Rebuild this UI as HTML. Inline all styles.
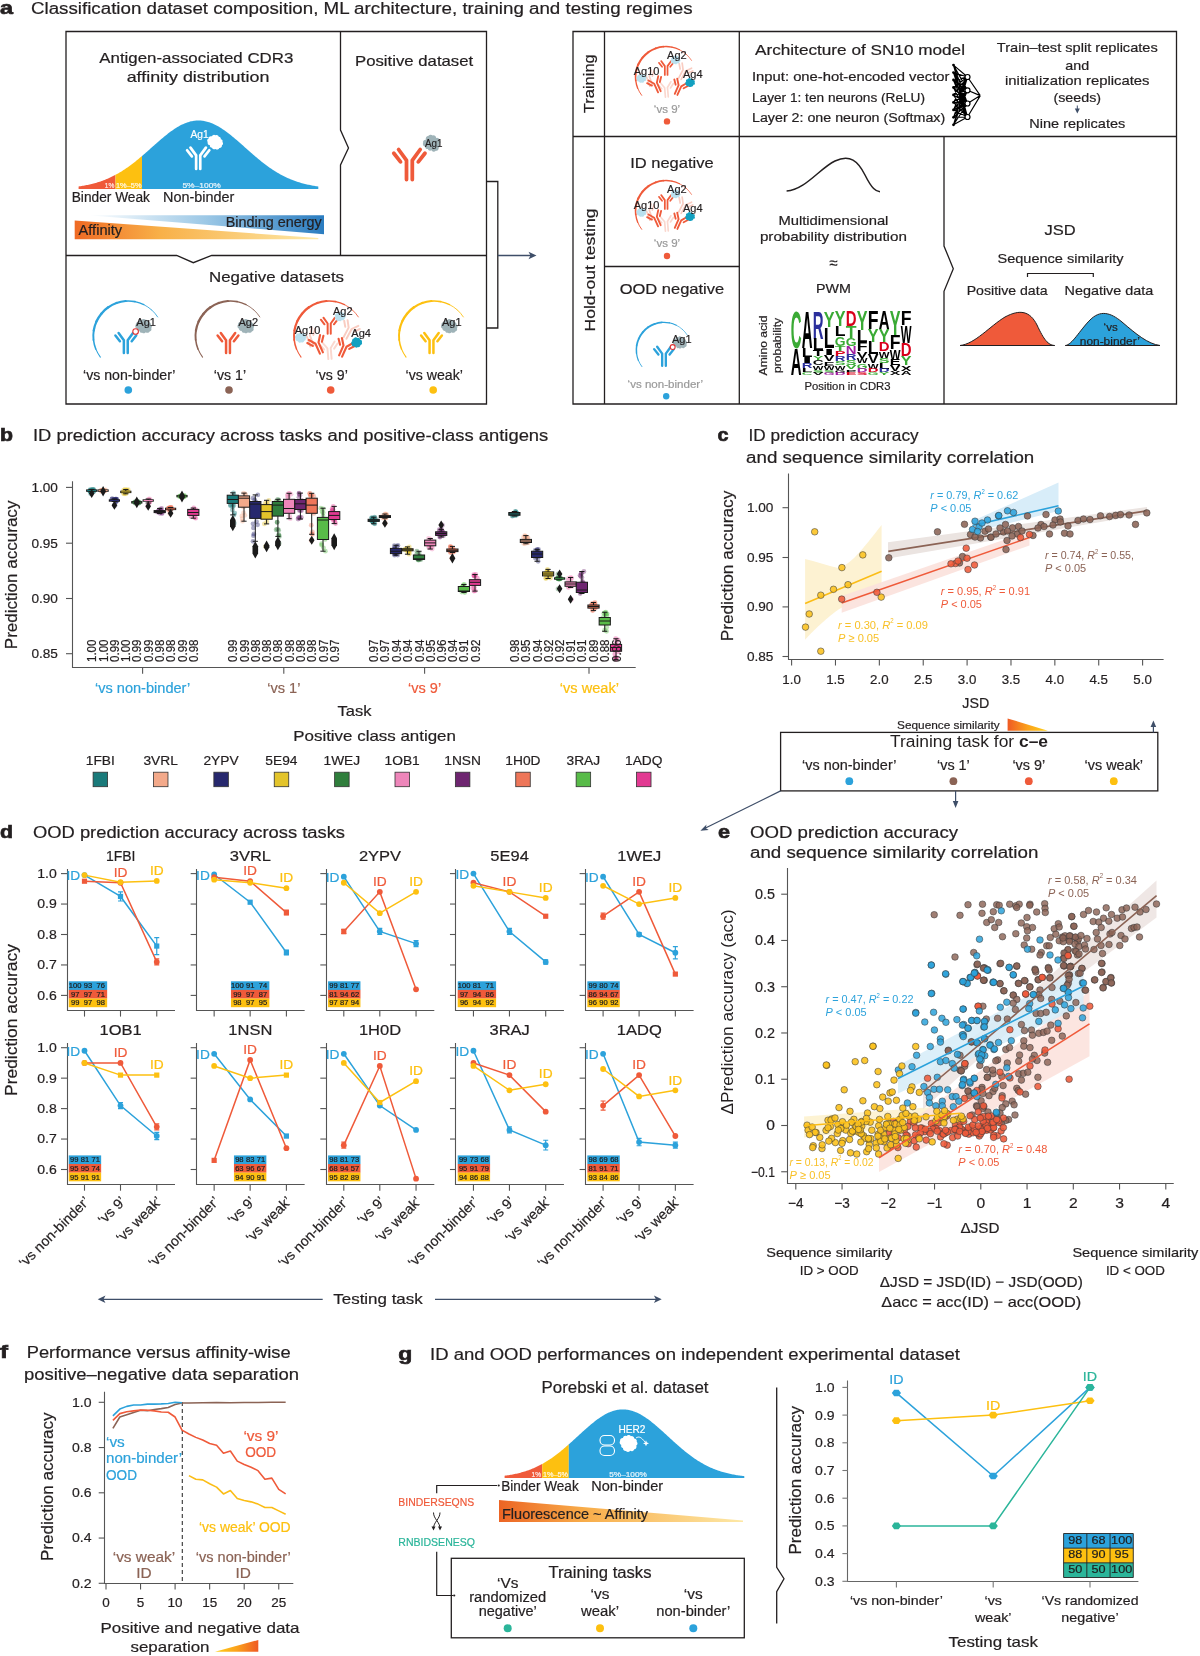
<!DOCTYPE html>
<html><head><meta charset="utf-8"><style>
html,body{margin:0;padding:0;background:#fff;}
svg{display:block;font-family:"Liberation Sans", sans-serif;will-change:transform;}
</style></head><body>
<svg width="1200" height="1656" viewBox="0 0 1200 1656" fill="#231f20">
<rect width="1200" height="1656" fill="#fff"/>
<text x="0.00" y="14.00" font-size="19" font-weight="bold" textLength="13.00" lengthAdjust="spacingAndGlyphs" stroke="#231f20" stroke-width="0.7">a</text>
<text x="31.00" y="14.00" font-size="16" textLength="661.50" lengthAdjust="spacingAndGlyphs" stroke="#231f20" stroke-width="0.2">Classification dataset composition, ML architecture, training and testing regimes</text>
<path d="M66,31.5H486.5V404H66Z" fill="none" stroke="#231f20" stroke-width="1.3"/>
<path d="M340.5,31.5V130L348.5,148L340.5,165V255.5" fill="none" stroke="#231f20" stroke-width="1.3"/>
<path d="M66,255.5H176.7L193.3,262.7L211.7,255.5H486.5" fill="none" stroke="#231f20" stroke-width="1.3"/>
<path d="M486.5,181.5H497.8V328H486.5" fill="none" stroke="#231f20" stroke-width="1.3"/>
<line x1="497.80" y1="255.50" x2="532.00" y2="255.50" stroke="#3e4e68" stroke-width="1.3" />
<path d="M536.5,255.5L528.5,251.8L530.5,255.5L528.5,259.2Z" fill="#3e4e68"/>
<text x="196.30" y="63.30" font-size="15" text-anchor="middle" textLength="194.00" lengthAdjust="spacingAndGlyphs" stroke="#231f20" stroke-width="0.2">Antigen-associated CDR3</text>
<text x="198.00" y="81.70" font-size="15" text-anchor="middle" textLength="142.70" lengthAdjust="spacingAndGlyphs" stroke="#231f20" stroke-width="0.2">affinity distribution</text>
<text x="355.00" y="65.50" font-size="15" textLength="118.20" lengthAdjust="spacingAndGlyphs" stroke="#231f20" stroke-width="0.2">Positive dataset</text>
<path d="M78.60,189 L78.60,186.46 L79.60,186.32 L80.60,186.17 L81.60,186.01 L82.60,185.85 L83.60,185.68 L84.60,185.50 L85.60,185.31 L86.60,185.11 L87.60,184.91 L88.60,184.70 L89.60,184.48 L90.60,184.25 L91.60,184.01 L92.60,183.76 L93.60,183.50 L94.60,183.23 L95.60,182.95 L96.60,182.65 L97.60,182.35 L98.60,182.04 L99.60,181.71 L100.60,181.38 L101.60,181.03 L102.60,180.67 L103.60,180.30 L104.60,179.91 L105.60,179.51 L106.60,179.10 L107.60,178.68 L108.60,178.24 L109.60,177.79 L110.60,177.33 L111.60,176.85 L112.60,176.36 L113.60,175.86 L114.60,175.34 L115.50,174.86 L115.50,189Z" fill="#ef5a3a"/>
<path d="M115.50,189 L115.50,174.86 L116.50,174.31 L117.50,173.75 L118.50,173.18 L119.50,172.59 L120.50,171.99 L121.50,171.38 L122.50,170.75 L123.50,170.10 L124.50,169.45 L125.50,168.78 L126.50,168.09 L127.50,167.40 L128.50,166.69 L129.50,165.96 L130.50,165.23 L131.50,164.48 L132.50,163.72 L133.50,162.95 L134.50,162.17 L135.50,161.38 L136.50,160.58 L137.50,159.76 L138.50,158.94 L139.50,158.11 L140.50,157.27 L141.50,156.42 L142.00,156.00 L142.00,189Z" fill="#fdc010"/>
<path d="M142.00,189 L142.00,156.00 L143.00,155.14 L144.00,154.28 L145.00,153.40 L146.00,152.53 L147.00,151.65 L148.00,150.77 L149.00,149.88 L150.00,148.99 L151.00,148.10 L152.00,147.21 L153.00,146.32 L154.00,145.43 L155.00,144.55 L156.00,143.66 L157.00,142.78 L158.00,141.91 L159.00,141.04 L160.00,140.17 L161.00,139.31 L162.00,138.47 L163.00,137.63 L164.00,136.80 L165.00,135.98 L166.00,135.17 L167.00,134.38 L168.00,133.59 L169.00,132.83 L170.00,132.08 L171.00,131.34 L172.00,130.63 L173.00,129.93 L174.00,129.25 L175.00,128.59 L176.00,127.95 L177.00,127.34 L178.00,126.74 L179.00,126.17 L180.00,125.62 L181.00,125.10 L182.00,124.60 L183.00,124.13 L184.00,123.68 L185.00,123.27 L186.00,122.88 L187.00,122.51 L188.00,122.18 L189.00,121.88 L190.00,121.60 L191.00,121.36 L192.00,121.14 L193.00,120.96 L194.00,120.80 L195.00,120.68 L196.00,120.59 L197.00,120.53 L198.00,120.50 L199.00,120.51 L200.00,120.54 L201.00,120.61 L202.00,120.70 L203.00,120.83 L204.00,120.99 L205.00,121.18 L206.00,121.40 L207.00,121.65 L208.00,121.93 L209.00,122.24 L210.00,122.58 L211.00,122.95 L212.00,123.35 L213.00,123.77 L214.00,124.22 L215.00,124.70 L216.00,125.20 L217.00,125.73 L218.00,126.28 L219.00,126.86 L220.00,127.46 L221.00,128.08 L222.00,128.72 L223.00,129.38 L224.00,130.07 L225.00,130.77 L226.00,131.49 L227.00,132.23 L228.00,132.98 L229.00,133.75 L230.00,134.53 L231.00,135.33 L232.00,136.14 L233.00,136.96 L234.00,137.79 L235.00,138.63 L236.00,139.48 L237.00,140.34 L238.00,141.21 L239.00,142.08 L240.00,142.96 L241.00,143.84 L242.00,144.72 L243.00,145.61 L244.00,146.50 L245.00,147.39 L246.00,148.28 L247.00,149.17 L248.00,150.06 L249.00,150.94 L250.00,151.83 L251.00,152.71 L252.00,153.58 L253.00,154.45 L254.00,155.31 L255.00,156.17 L256.00,157.02 L257.00,157.86 L258.00,158.69 L259.00,159.52 L260.00,160.33 L261.00,161.14 L262.00,161.94 L263.00,162.72 L264.00,163.49 L265.00,164.26 L266.00,165.01 L267.00,165.75 L268.00,166.47 L269.00,167.19 L270.00,167.89 L271.00,168.57 L272.00,169.25 L273.00,169.91 L274.00,170.56 L275.00,171.19 L276.00,171.81 L277.00,172.41 L278.00,173.01 L279.00,173.58 L280.00,174.15 L281.00,174.70 L282.00,175.23 L283.00,175.75 L284.00,176.26 L285.00,176.75 L286.00,177.23 L287.00,177.70 L288.00,178.15 L289.00,178.59 L290.00,179.02 L291.00,179.43 L292.00,179.83 L293.00,180.22 L294.00,180.60 L295.00,180.96 L296.00,181.31 L297.00,181.65 L298.00,181.97 L299.00,182.29 L300.00,182.59 L301.00,182.89 L302.00,183.17 L303.00,183.44 L304.00,183.70 L305.00,183.96 L306.00,184.20 L307.00,184.43 L308.00,184.65 L309.00,184.87 L310.00,185.07 L311.00,185.27 L312.00,185.46 L313.00,185.64 L314.00,185.81 L315.00,185.98 L316.00,186.14 L317.00,186.29 L318.00,186.43 L318.30,186.47 L318.30,189Z" fill="#2ca2db"/>
<text x="104.80" y="187.60" font-size="8" fill="#fff" textLength="9.50" lengthAdjust="spacingAndGlyphs" opacity="0.9" stroke="#fff" stroke-width="0.2">1%</text>
<text x="116.00" y="187.60" font-size="8" fill="#fff" textLength="25.50" lengthAdjust="spacingAndGlyphs" opacity="0.9" stroke="#fff" stroke-width="0.2">1%–5%</text>
<text x="182.40" y="187.60" font-size="8" fill="#fff" textLength="38.50" lengthAdjust="spacingAndGlyphs" opacity="0.9" stroke="#fff" stroke-width="0.2">5%–100%</text>
<g transform="translate(198.20,169.00) rotate(0) scale(1.07)"><path d="M-1.93,0V-12.75L-7.2,-20M1.93,0V-12.75L7.2,-20M-5.9,-11.75L-10.4,-17.5M5.9,-11.75L10.4,-17.5" fill="none" stroke="#ffffff" stroke-width="2.5" stroke-linecap="round" stroke-linejoin="round"/></g>
<path d="M219.38,148.02 A2.41,2.41 0 0 1 215.58,148.89 A2.34,2.34 0 0 1 211.99,147.74 A2.12,2.12 0 0 1 209.83,145.09 A2.30,2.30 0 0 1 207.67,142.08 A2.33,2.33 0 0 1 208.64,138.45 A2.38,2.38 0 0 1 211.82,136.28 A2.30,2.30 0 0 1 215.42,135.37 A2.22,2.22 0 0 1 218.75,136.68 A1.97,1.97 0 0 1 220.77,139.13 A2.02,2.02 0 0 1 222.42,141.93 A2.13,2.13 0 0 1 221.94,145.33 A2.30,2.30 0 0 1 219.38,148.02Z" fill="#ffffff"/>
<text x="190.40" y="137.70" font-size="11" fill="#fff" textLength="18.30" lengthAdjust="spacingAndGlyphs" stroke="#fff" stroke-width="0.2">Ag1</text>
<text x="71.70" y="201.60" font-size="14" textLength="78.30" lengthAdjust="spacingAndGlyphs" stroke="#231f20" stroke-width="0.2">Binder Weak</text>
<text x="163.00" y="201.60" font-size="14" textLength="71.30" lengthAdjust="spacingAndGlyphs" stroke="#231f20" stroke-width="0.2">Non-binder</text>
<defs><linearGradient id="gAff" x1="0" x2="1" y1="0" y2="0"><stop offset="0" stop-color="#ef6a24"/><stop offset="0.35" stop-color="#f8b048"/><stop offset="1" stop-color="#fde9a8"/></linearGradient><linearGradient id="gBE" x1="0" x2="1" y1="0" y2="0"><stop offset="0" stop-color="#ffffff"/><stop offset="0.5" stop-color="#9cc8e6"/><stop offset="1" stop-color="#2a7cc0"/></linearGradient></defs>
<path d="M88,215.3H324V234.2Z" fill="url(#gBE)"/>
<path d="M74.7,220.5L318.3,238V239.3H74.7Z" fill="url(#gAff)"/>
<text x="78.60" y="234.70" font-size="14" textLength="43.50" lengthAdjust="spacingAndGlyphs" stroke="#231f20" stroke-width="0.2">Affinity</text>
<text x="321.70" y="226.70" font-size="14" text-anchor="end" textLength="96.00" lengthAdjust="spacingAndGlyphs" stroke="#231f20" stroke-width="0.2">Binding energy</text>
<g transform="translate(409.40,179.50) rotate(0) scale(1.5)"><path d="M-1.93,0V-12.75L-7.2,-20M1.93,0V-12.75L7.2,-20M-5.9,-11.75L-10.4,-17.5M5.9,-11.75L10.4,-17.5" fill="none" stroke="#ef5a3a" stroke-width="2.5" stroke-linecap="round" stroke-linejoin="round"/></g>
<path d="M439.31,144.02 A2.31,2.31 0 0 1 438.63,147.68 A2.60,2.60 0 0 1 435.78,150.77 A2.71,2.71 0 0 1 431.43,150.29 A2.34,2.34 0 0 1 427.85,149.07 A2.31,2.31 0 0 1 425.12,146.53 A2.60,2.60 0 0 1 423.09,142.87 A2.65,2.65 0 0 1 425.88,139.64 A2.60,2.60 0 0 1 428.16,136.12 A2.82,2.82 0 0 1 432.67,135.52 A2.63,2.63 0 0 1 436.18,137.89 A2.53,2.53 0 0 1 439.57,140.17 A2.39,2.39 0 0 1 439.31,144.02Z" fill="#9fb3b8"/>
<text x="425.00" y="146.50" font-size="11" textLength="17.50" lengthAdjust="spacingAndGlyphs" stroke="#231f20" stroke-width="0.2">Ag1</text>
<text x="276.50" y="282.30" font-size="15" text-anchor="middle" textLength="135.00" lengthAdjust="spacingAndGlyphs" stroke="#231f20" stroke-width="0.2">Negative datasets</text>
<g transform="translate(128.30,336.00) scale(1.0)"><path d="M-27.95,21.06 A35,35 0 0 1 -32.53,12.92" fill="none" stroke="#2ca2db" stroke-width="1.07" stroke-linecap="round"/><path d="M-32.53,12.92 A35,35 0 0 1 -34.79,3.86" fill="none" stroke="#2ca2db" stroke-width="1.52" stroke-linecap="round"/><path d="M-34.79,3.86 A35,35 0 0 1 -34.57,-5.48" fill="none" stroke="#2ca2db" stroke-width="1.91" stroke-linecap="round"/><path d="M-34.57,-5.48 A35,35 0 0 1 -31.89,-14.42" fill="none" stroke="#2ca2db" stroke-width="2.20" stroke-linecap="round"/><path d="M-31.89,-14.42 A35,35 0 0 1 -26.94,-22.34" fill="none" stroke="#2ca2db" stroke-width="2.36" stroke-linecap="round"/><path d="M-26.94,-22.34 A35,35 0 0 1 -20.08,-28.67" fill="none" stroke="#2ca2db" stroke-width="2.39" stroke-linecap="round"/><path d="M-20.08,-28.67 A35,35 0 0 1 -11.78,-32.96" fill="none" stroke="#2ca2db" stroke-width="2.29" stroke-linecap="round"/><path d="M-11.78,-32.96 A35,35 0 0 1 -2.64,-34.90" fill="none" stroke="#2ca2db" stroke-width="2.05" stroke-linecap="round"/><path d="M-2.64,-34.90 A35,35 0 0 1 6.68,-34.36" fill="none" stroke="#2ca2db" stroke-width="1.70" stroke-linecap="round"/><path d="M6.68,-34.36 A35,35 0 0 1 15.53,-31.37" fill="none" stroke="#2ca2db" stroke-width="1.27" stroke-linecap="round"/><path d="M15.53,-31.37 A35,35 0 0 1 23.27,-26.15" fill="none" stroke="#2ca2db" stroke-width="0.84" stroke-linecap="round"/><path d="M23.27,-26.15 A35,35 0 0 1 29.35,-19.06" fill="none" stroke="#2ca2db" stroke-width="0.84" stroke-linecap="round"/><path d="M8.40,-7.48 A2.36,2.36 0 0 1 7.47,-11.17 A2.44,2.44 0 0 1 10.20,-14.01 A2.28,2.28 0 0 1 13.33,-15.93 A2.38,2.38 0 0 1 17.16,-16.22 A2.25,2.25 0 0 1 19.99,-13.96 A2.18,2.18 0 0 1 22.50,-11.50 A2.21,2.21 0 0 1 22.90,-7.96 A2.33,2.33 0 0 1 21.33,-4.54 A2.47,2.47 0 0 1 17.40,-3.87 A2.14,2.14 0 0 1 13.98,-3.34 A2.09,2.09 0 0 1 11.15,-5.18 A2.22,2.22 0 0 1 8.40,-7.48Z" fill="#9fb3b8"/><g transform="translate(-2.50,17.00) rotate(0) scale(1.0)"><path d="M-1.93,0V-12.75L-7.2,-20M1.93,0V-12.75L7.2,-20M-5.9,-11.75L-10.4,-17.5M5.9,-11.75L10.4,-17.5" fill="none" stroke="#2ca2db" stroke-width="2.5" stroke-linecap="round" stroke-linejoin="round"/></g><circle cx="7.30" cy="-4.50" r="2.8" fill="#fff" stroke="#e03030" stroke-width="1.1"/><text x="8.00" y="-10.00" font-size="11.0" textLength="19.57" lengthAdjust="spacingAndGlyphs" stroke="#231f20" stroke-width="0.2">Ag1</text></g>
<g transform="translate(230.50,336.00) scale(1.0)"><path d="M-27.95,21.06 A35,35 0 0 1 -32.53,12.92" fill="none" stroke="#8b6355" stroke-width="1.07" stroke-linecap="round"/><path d="M-32.53,12.92 A35,35 0 0 1 -34.79,3.86" fill="none" stroke="#8b6355" stroke-width="1.52" stroke-linecap="round"/><path d="M-34.79,3.86 A35,35 0 0 1 -34.57,-5.48" fill="none" stroke="#8b6355" stroke-width="1.91" stroke-linecap="round"/><path d="M-34.57,-5.48 A35,35 0 0 1 -31.89,-14.42" fill="none" stroke="#8b6355" stroke-width="2.20" stroke-linecap="round"/><path d="M-31.89,-14.42 A35,35 0 0 1 -26.94,-22.34" fill="none" stroke="#8b6355" stroke-width="2.36" stroke-linecap="round"/><path d="M-26.94,-22.34 A35,35 0 0 1 -20.08,-28.67" fill="none" stroke="#8b6355" stroke-width="2.39" stroke-linecap="round"/><path d="M-20.08,-28.67 A35,35 0 0 1 -11.78,-32.96" fill="none" stroke="#8b6355" stroke-width="2.29" stroke-linecap="round"/><path d="M-11.78,-32.96 A35,35 0 0 1 -2.64,-34.90" fill="none" stroke="#8b6355" stroke-width="2.05" stroke-linecap="round"/><path d="M-2.64,-34.90 A35,35 0 0 1 6.68,-34.36" fill="none" stroke="#8b6355" stroke-width="1.70" stroke-linecap="round"/><path d="M6.68,-34.36 A35,35 0 0 1 15.53,-31.37" fill="none" stroke="#8b6355" stroke-width="1.27" stroke-linecap="round"/><path d="M15.53,-31.37 A35,35 0 0 1 23.27,-26.15" fill="none" stroke="#8b6355" stroke-width="0.84" stroke-linecap="round"/><path d="M23.27,-26.15 A35,35 0 0 1 29.35,-19.06" fill="none" stroke="#8b6355" stroke-width="0.84" stroke-linecap="round"/><path d="M8.40,-7.48 A2.36,2.36 0 0 1 7.47,-11.17 A2.44,2.44 0 0 1 10.20,-14.01 A2.28,2.28 0 0 1 13.33,-15.93 A2.38,2.38 0 0 1 17.16,-16.22 A2.25,2.25 0 0 1 19.99,-13.96 A2.18,2.18 0 0 1 22.50,-11.50 A2.21,2.21 0 0 1 22.90,-7.96 A2.33,2.33 0 0 1 21.33,-4.54 A2.47,2.47 0 0 1 17.40,-3.87 A2.14,2.14 0 0 1 13.98,-3.34 A2.09,2.09 0 0 1 11.15,-5.18 A2.22,2.22 0 0 1 8.40,-7.48Z" fill="#9fb3b8"/><g transform="translate(-2.50,17.00) rotate(0) scale(1.0)"><path d="M-1.93,0V-12.75L-7.2,-20M1.93,0V-12.75L7.2,-20M-5.9,-11.75L-10.4,-17.5M5.9,-11.75L10.4,-17.5" fill="none" stroke="#ef5a3a" stroke-width="2.5" stroke-linecap="round" stroke-linejoin="round"/></g><text x="8.00" y="-10.00" font-size="11.0" textLength="19.57" lengthAdjust="spacingAndGlyphs" stroke="#231f20" stroke-width="0.2">Ag2</text></g>
<g transform="translate(329.00,336.00) scale(1.0)"><path d="M-27.95,21.06 A35,35 0 0 1 -32.53,12.92" fill="none" stroke="#ef5a3a" stroke-width="1.07" stroke-linecap="round"/><path d="M-32.53,12.92 A35,35 0 0 1 -34.79,3.86" fill="none" stroke="#ef5a3a" stroke-width="1.52" stroke-linecap="round"/><path d="M-34.79,3.86 A35,35 0 0 1 -34.57,-5.48" fill="none" stroke="#ef5a3a" stroke-width="1.91" stroke-linecap="round"/><path d="M-34.57,-5.48 A35,35 0 0 1 -31.89,-14.42" fill="none" stroke="#ef5a3a" stroke-width="2.20" stroke-linecap="round"/><path d="M-31.89,-14.42 A35,35 0 0 1 -26.94,-22.34" fill="none" stroke="#ef5a3a" stroke-width="2.36" stroke-linecap="round"/><path d="M-26.94,-22.34 A35,35 0 0 1 -20.08,-28.67" fill="none" stroke="#ef5a3a" stroke-width="2.39" stroke-linecap="round"/><path d="M-20.08,-28.67 A35,35 0 0 1 -11.78,-32.96" fill="none" stroke="#ef5a3a" stroke-width="2.29" stroke-linecap="round"/><path d="M-11.78,-32.96 A35,35 0 0 1 -2.64,-34.90" fill="none" stroke="#ef5a3a" stroke-width="2.05" stroke-linecap="round"/><path d="M-2.64,-34.90 A35,35 0 0 1 6.68,-34.36" fill="none" stroke="#ef5a3a" stroke-width="1.70" stroke-linecap="round"/><path d="M6.68,-34.36 A35,35 0 0 1 15.53,-31.37" fill="none" stroke="#ef5a3a" stroke-width="1.27" stroke-linecap="round"/><path d="M15.53,-31.37 A35,35 0 0 1 23.27,-26.15" fill="none" stroke="#ef5a3a" stroke-width="0.84" stroke-linecap="round"/><path d="M23.27,-26.15 A35,35 0 0 1 29.35,-19.06" fill="none" stroke="#ef5a3a" stroke-width="0.84" stroke-linecap="round"/><g transform="translate(-17.00,10.00) rotate(-20) scale(0.85)"><path d="M-1.93,0V-12.75L-7.2,-20M1.93,0V-12.75L7.2,-20M-5.9,-11.75L-10.4,-17.5M5.9,-11.75L10.4,-17.5" fill="none" stroke="#f9cdc2" stroke-width="2.3" stroke-linecap="round" stroke-linejoin="round"/></g><g transform="translate(16.00,2.00) rotate(28) scale(0.85)"><path d="M-1.93,0V-12.75L-7.2,-20M1.93,0V-12.75L7.2,-20M-5.9,-11.75L-10.4,-17.5M5.9,-11.75L10.4,-17.5" fill="none" stroke="#f9cdc2" stroke-width="2.3" stroke-linecap="round" stroke-linejoin="round"/></g><g transform="translate(1.00,23.00) rotate(-5) scale(0.85)"><path d="M-1.93,0V-12.75L-7.2,-20M1.93,0V-12.75L7.2,-20M-5.9,-11.75L-10.4,-17.5M5.9,-11.75L10.4,-17.5" fill="none" stroke="#fad8cf" stroke-width="2.3" stroke-linecap="round" stroke-linejoin="round"/></g><g transform="translate(0.20,-2.30) rotate(0) scale(0.8)"><path d="M-1.93,0V-12.75L-7.2,-20M1.93,0V-12.75L7.2,-20M-5.9,-11.75L-10.4,-17.5M5.9,-11.75L10.4,-17.5" fill="none" stroke="#ef5a3a" stroke-width="2.5" stroke-linecap="round" stroke-linejoin="round"/></g><g transform="translate(-7.60,17.00) rotate(-24) scale(0.85)"><path d="M-1.93,0V-12.75L-7.2,-20M1.93,0V-12.75L7.2,-20M-5.9,-11.75L-10.4,-17.5M5.9,-11.75L10.4,-17.5" fill="none" stroke="#ef5a3a" stroke-width="2.5" stroke-linecap="round" stroke-linejoin="round"/></g><g transform="translate(11.60,20.00) rotate(24) scale(0.85)"><path d="M-1.93,0V-12.75L-7.2,-20M1.93,0V-12.75L7.2,-20M-5.9,-11.75L-10.4,-17.5M5.9,-11.75L10.4,-17.5" fill="none" stroke="#ef5a3a" stroke-width="2.5" stroke-linecap="round" stroke-linejoin="round"/></g><path d="M-27.80,6.32 A2.17,2.17 0 0 1 -31.13,5.27 A2.10,2.10 0 0 1 -33.36,2.72 A2.09,2.09 0 0 1 -33.03,-0.63 A2.11,2.11 0 0 1 -30.12,-2.40 A1.96,1.96 0 0 1 -26.96,-2.57 A2.23,2.23 0 0 1 -23.56,-1.42 A2.09,2.09 0 0 1 -23.32,1.94 A1.94,1.94 0 0 1 -24.80,4.70 A2.12,2.12 0 0 1 -27.80,6.32Z" fill="#b9e0ee"/><path d="M7.51,-22.42 A2.04,2.04 0 0 1 10.50,-23.81 A2.12,2.12 0 0 1 13.86,-23.18 A2.00,2.00 0 0 1 15.68,-20.52 A1.94,1.94 0 0 1 15.62,-17.39 A1.99,1.99 0 0 1 12.78,-15.92 A1.84,1.84 0 0 1 9.89,-15.23 A2.04,2.04 0 0 1 6.88,-16.56 A1.94,1.94 0 0 1 6.25,-19.62 A1.90,1.90 0 0 1 7.51,-22.42Z" fill="#b9e0ee"/><path d="M25.57,10.42 A2.12,2.12 0 0 1 22.76,8.48 A2.00,2.00 0 0 1 23.23,5.28 A2.00,2.00 0 0 1 24.81,2.48 A2.18,2.18 0 0 1 28.27,1.90 A2.02,2.02 0 0 1 31.07,3.56 A2.00,2.00 0 0 1 32.90,6.21 A1.98,1.98 0 0 1 31.42,9.03 A2.01,2.01 0 0 1 28.89,11.08 A2.10,2.10 0 0 1 25.57,10.42Z" fill="#12a0c0"/><text x="-34.30" y="-1.80" font-size="11.0" textLength="25.69" lengthAdjust="spacingAndGlyphs" stroke="#231f20" stroke-width="0.2">Ag10</text><text x="4.00" y="-20.70" font-size="11.0" textLength="19.57" lengthAdjust="spacingAndGlyphs" stroke="#231f20" stroke-width="0.2">Ag2</text><text x="22.30" y="0.70" font-size="11.0" textLength="19.57" lengthAdjust="spacingAndGlyphs" stroke="#231f20" stroke-width="0.2">Ag4</text></g>
<g transform="translate(434.00,336.00) scale(1.0)"><path d="M-27.95,21.06 A35,35 0 0 1 -32.53,12.92" fill="none" stroke="#fdc010" stroke-width="1.07" stroke-linecap="round"/><path d="M-32.53,12.92 A35,35 0 0 1 -34.79,3.86" fill="none" stroke="#fdc010" stroke-width="1.52" stroke-linecap="round"/><path d="M-34.79,3.86 A35,35 0 0 1 -34.57,-5.48" fill="none" stroke="#fdc010" stroke-width="1.91" stroke-linecap="round"/><path d="M-34.57,-5.48 A35,35 0 0 1 -31.89,-14.42" fill="none" stroke="#fdc010" stroke-width="2.20" stroke-linecap="round"/><path d="M-31.89,-14.42 A35,35 0 0 1 -26.94,-22.34" fill="none" stroke="#fdc010" stroke-width="2.36" stroke-linecap="round"/><path d="M-26.94,-22.34 A35,35 0 0 1 -20.08,-28.67" fill="none" stroke="#fdc010" stroke-width="2.39" stroke-linecap="round"/><path d="M-20.08,-28.67 A35,35 0 0 1 -11.78,-32.96" fill="none" stroke="#fdc010" stroke-width="2.29" stroke-linecap="round"/><path d="M-11.78,-32.96 A35,35 0 0 1 -2.64,-34.90" fill="none" stroke="#fdc010" stroke-width="2.05" stroke-linecap="round"/><path d="M-2.64,-34.90 A35,35 0 0 1 6.68,-34.36" fill="none" stroke="#fdc010" stroke-width="1.70" stroke-linecap="round"/><path d="M6.68,-34.36 A35,35 0 0 1 15.53,-31.37" fill="none" stroke="#fdc010" stroke-width="1.27" stroke-linecap="round"/><path d="M15.53,-31.37 A35,35 0 0 1 23.27,-26.15" fill="none" stroke="#fdc010" stroke-width="0.84" stroke-linecap="round"/><path d="M23.27,-26.15 A35,35 0 0 1 29.35,-19.06" fill="none" stroke="#fdc010" stroke-width="0.84" stroke-linecap="round"/><path d="M8.40,-7.48 A2.36,2.36 0 0 1 7.47,-11.17 A2.44,2.44 0 0 1 10.20,-14.01 A2.28,2.28 0 0 1 13.33,-15.93 A2.38,2.38 0 0 1 17.16,-16.22 A2.25,2.25 0 0 1 19.99,-13.96 A2.18,2.18 0 0 1 22.50,-11.50 A2.21,2.21 0 0 1 22.90,-7.96 A2.33,2.33 0 0 1 21.33,-4.54 A2.47,2.47 0 0 1 17.40,-3.87 A2.14,2.14 0 0 1 13.98,-3.34 A2.09,2.09 0 0 1 11.15,-5.18 A2.22,2.22 0 0 1 8.40,-7.48Z" fill="#9fb3b8"/><g transform="translate(-2.50,17.00) rotate(0) scale(1.0)"><path d="M-1.93,0V-12.75L-7.2,-20M1.93,0V-12.75L7.2,-20M-5.9,-11.75L-10.4,-17.5M5.9,-11.75L10.4,-17.5" fill="none" stroke="#fdc010" stroke-width="2.5" stroke-linecap="round" stroke-linejoin="round"/></g><text x="8.00" y="-10.00" font-size="11.0" textLength="19.57" lengthAdjust="spacingAndGlyphs" stroke="#231f20" stroke-width="0.2">Ag1</text></g>
<text x="129.30" y="380.00" font-size="14" text-anchor="middle" textLength="92.48" lengthAdjust="spacingAndGlyphs" stroke="#231f20" stroke-width="0.2">‘vs non-binder’</text>
<circle cx="128.30" cy="390.00" r="3.8" fill="#2ca2db"/>
<text x="230.00" y="380.00" font-size="14" text-anchor="middle" textLength="32.22" lengthAdjust="spacingAndGlyphs" stroke="#231f20" stroke-width="0.2">‘vs 1’</text>
<circle cx="229.00" cy="390.00" r="3.8" fill="#8b6355"/>
<text x="331.70" y="380.00" font-size="14" text-anchor="middle" textLength="32.22" lengthAdjust="spacingAndGlyphs" stroke="#231f20" stroke-width="0.2">‘vs 9’</text>
<circle cx="330.70" cy="390.00" r="3.8" fill="#ef5a3a"/>
<text x="434.20" y="380.00" font-size="14" text-anchor="middle" textLength="57.36" lengthAdjust="spacingAndGlyphs" stroke="#231f20" stroke-width="0.2">‘vs weak’</text>
<circle cx="433.20" cy="390.00" r="3.8" fill="#fdc010"/>
<path d="M573,31.5H1176.5V404H573Z" fill="none" stroke="#231f20" stroke-width="1.3"/>
<line x1="604.50" y1="31.50" x2="604.50" y2="404.00" stroke="#231f20" stroke-width="1.3" />
<line x1="739.30" y1="31.50" x2="739.30" y2="404.00" stroke="#231f20" stroke-width="1.3" />
<line x1="573.00" y1="136.50" x2="1176.50" y2="136.50" stroke="#231f20" stroke-width="1.3" />
<line x1="604.50" y1="266.50" x2="739.30" y2="266.50" stroke="#231f20" stroke-width="1.3" />
<path d="M944,136.5V246L953.3,268.7L944,291.3V404" fill="none" stroke="#231f20" stroke-width="1.3"/>
<text x="594.50" y="83.70" font-size="15" text-anchor="middle" textLength="59.00" lengthAdjust="spacingAndGlyphs" transform="rotate(-90 594.50 83.70)" stroke="#231f20" stroke-width="0.2">Training</text>
<text x="594.50" y="270.00" font-size="15" text-anchor="middle" textLength="123.00" lengthAdjust="spacingAndGlyphs" transform="rotate(-90 594.50 270.00)" stroke="#231f20" stroke-width="0.2">Hold-out testing</text>
<g transform="translate(666.00,77.00) scale(0.87)"><path d="M-27.95,21.06 A35,35 0 0 1 -32.53,12.92" fill="none" stroke="#ef5a3a" stroke-width="1.07" stroke-linecap="round"/><path d="M-32.53,12.92 A35,35 0 0 1 -34.79,3.86" fill="none" stroke="#ef5a3a" stroke-width="1.52" stroke-linecap="round"/><path d="M-34.79,3.86 A35,35 0 0 1 -34.57,-5.48" fill="none" stroke="#ef5a3a" stroke-width="1.91" stroke-linecap="round"/><path d="M-34.57,-5.48 A35,35 0 0 1 -31.89,-14.42" fill="none" stroke="#ef5a3a" stroke-width="2.20" stroke-linecap="round"/><path d="M-31.89,-14.42 A35,35 0 0 1 -26.94,-22.34" fill="none" stroke="#ef5a3a" stroke-width="2.36" stroke-linecap="round"/><path d="M-26.94,-22.34 A35,35 0 0 1 -20.08,-28.67" fill="none" stroke="#ef5a3a" stroke-width="2.39" stroke-linecap="round"/><path d="M-20.08,-28.67 A35,35 0 0 1 -11.78,-32.96" fill="none" stroke="#ef5a3a" stroke-width="2.29" stroke-linecap="round"/><path d="M-11.78,-32.96 A35,35 0 0 1 -2.64,-34.90" fill="none" stroke="#ef5a3a" stroke-width="2.05" stroke-linecap="round"/><path d="M-2.64,-34.90 A35,35 0 0 1 6.68,-34.36" fill="none" stroke="#ef5a3a" stroke-width="1.70" stroke-linecap="round"/><path d="M6.68,-34.36 A35,35 0 0 1 15.53,-31.37" fill="none" stroke="#ef5a3a" stroke-width="1.27" stroke-linecap="round"/><path d="M15.53,-31.37 A35,35 0 0 1 23.27,-26.15" fill="none" stroke="#ef5a3a" stroke-width="0.84" stroke-linecap="round"/><path d="M23.27,-26.15 A35,35 0 0 1 29.35,-19.06" fill="none" stroke="#ef5a3a" stroke-width="0.84" stroke-linecap="round"/><g transform="translate(-17.00,10.00) rotate(-20) scale(0.85)"><path d="M-1.93,0V-12.75L-7.2,-20M1.93,0V-12.75L7.2,-20M-5.9,-11.75L-10.4,-17.5M5.9,-11.75L10.4,-17.5" fill="none" stroke="#f9cdc2" stroke-width="2.3" stroke-linecap="round" stroke-linejoin="round"/></g><g transform="translate(16.00,2.00) rotate(28) scale(0.85)"><path d="M-1.93,0V-12.75L-7.2,-20M1.93,0V-12.75L7.2,-20M-5.9,-11.75L-10.4,-17.5M5.9,-11.75L10.4,-17.5" fill="none" stroke="#f9cdc2" stroke-width="2.3" stroke-linecap="round" stroke-linejoin="round"/></g><g transform="translate(1.00,23.00) rotate(-5) scale(0.85)"><path d="M-1.93,0V-12.75L-7.2,-20M1.93,0V-12.75L7.2,-20M-5.9,-11.75L-10.4,-17.5M5.9,-11.75L10.4,-17.5" fill="none" stroke="#fad8cf" stroke-width="2.3" stroke-linecap="round" stroke-linejoin="round"/></g><g transform="translate(0.20,-2.30) rotate(0) scale(0.8)"><path d="M-1.93,0V-12.75L-7.2,-20M1.93,0V-12.75L7.2,-20M-5.9,-11.75L-10.4,-17.5M5.9,-11.75L10.4,-17.5" fill="none" stroke="#ef5a3a" stroke-width="2.5" stroke-linecap="round" stroke-linejoin="round"/></g><g transform="translate(-7.60,17.00) rotate(-24) scale(0.85)"><path d="M-1.93,0V-12.75L-7.2,-20M1.93,0V-12.75L7.2,-20M-5.9,-11.75L-10.4,-17.5M5.9,-11.75L10.4,-17.5" fill="none" stroke="#ef5a3a" stroke-width="2.5" stroke-linecap="round" stroke-linejoin="round"/></g><g transform="translate(11.60,20.00) rotate(24) scale(0.85)"><path d="M-1.93,0V-12.75L-7.2,-20M1.93,0V-12.75L7.2,-20M-5.9,-11.75L-10.4,-17.5M5.9,-11.75L10.4,-17.5" fill="none" stroke="#ef5a3a" stroke-width="2.5" stroke-linecap="round" stroke-linejoin="round"/></g><path d="M-27.80,6.32 A2.17,2.17 0 0 1 -31.13,5.27 A2.10,2.10 0 0 1 -33.36,2.72 A2.09,2.09 0 0 1 -33.03,-0.63 A2.11,2.11 0 0 1 -30.12,-2.40 A1.96,1.96 0 0 1 -26.96,-2.57 A2.23,2.23 0 0 1 -23.56,-1.42 A2.09,2.09 0 0 1 -23.32,1.94 A1.94,1.94 0 0 1 -24.80,4.70 A2.12,2.12 0 0 1 -27.80,6.32Z" fill="#b9e0ee"/><path d="M7.51,-22.42 A2.04,2.04 0 0 1 10.50,-23.81 A2.12,2.12 0 0 1 13.86,-23.18 A2.00,2.00 0 0 1 15.68,-20.52 A1.94,1.94 0 0 1 15.62,-17.39 A1.99,1.99 0 0 1 12.78,-15.92 A1.84,1.84 0 0 1 9.89,-15.23 A2.04,2.04 0 0 1 6.88,-16.56 A1.94,1.94 0 0 1 6.25,-19.62 A1.90,1.90 0 0 1 7.51,-22.42Z" fill="#b9e0ee"/><path d="M25.57,10.42 A2.12,2.12 0 0 1 22.76,8.48 A2.00,2.00 0 0 1 23.23,5.28 A2.00,2.00 0 0 1 24.81,2.48 A2.18,2.18 0 0 1 28.27,1.90 A2.02,2.02 0 0 1 31.07,3.56 A2.00,2.00 0 0 1 32.90,6.21 A1.98,1.98 0 0 1 31.42,9.03 A2.01,2.01 0 0 1 28.89,11.08 A2.10,2.10 0 0 1 25.57,10.42Z" fill="#12a0c0"/><text x="-37.06" y="-1.80" font-size="12.64367816091954" textLength="29.53" lengthAdjust="spacingAndGlyphs" stroke="#231f20" stroke-width="0.2">Ag10</text><text x="1.24" y="-20.70" font-size="12.64367816091954" textLength="22.50" lengthAdjust="spacingAndGlyphs" stroke="#231f20" stroke-width="0.2">Ag2</text><text x="19.54" y="0.70" font-size="12.64367816091954" textLength="22.50" lengthAdjust="spacingAndGlyphs" stroke="#231f20" stroke-width="0.2">Ag4</text></g>
<text x="667.00" y="112.90" font-size="10.5" text-anchor="middle" fill="#9a9a9a" textLength="26.31" lengthAdjust="spacingAndGlyphs" stroke="#9a9a9a" stroke-width="0.2">‘vs 9’</text>
<circle cx="667.00" cy="121.40" r="3.2" fill="#ef5a3a"/>
<text x="671.90" y="168.20" font-size="15" text-anchor="middle" textLength="83.47" lengthAdjust="spacingAndGlyphs" stroke="#231f20" stroke-width="0.2">ID negative</text>
<g transform="translate(666.00,211.00) scale(0.87)"><path d="M-27.95,21.06 A35,35 0 0 1 -32.53,12.92" fill="none" stroke="#ef5a3a" stroke-width="1.07" stroke-linecap="round"/><path d="M-32.53,12.92 A35,35 0 0 1 -34.79,3.86" fill="none" stroke="#ef5a3a" stroke-width="1.52" stroke-linecap="round"/><path d="M-34.79,3.86 A35,35 0 0 1 -34.57,-5.48" fill="none" stroke="#ef5a3a" stroke-width="1.91" stroke-linecap="round"/><path d="M-34.57,-5.48 A35,35 0 0 1 -31.89,-14.42" fill="none" stroke="#ef5a3a" stroke-width="2.20" stroke-linecap="round"/><path d="M-31.89,-14.42 A35,35 0 0 1 -26.94,-22.34" fill="none" stroke="#ef5a3a" stroke-width="2.36" stroke-linecap="round"/><path d="M-26.94,-22.34 A35,35 0 0 1 -20.08,-28.67" fill="none" stroke="#ef5a3a" stroke-width="2.39" stroke-linecap="round"/><path d="M-20.08,-28.67 A35,35 0 0 1 -11.78,-32.96" fill="none" stroke="#ef5a3a" stroke-width="2.29" stroke-linecap="round"/><path d="M-11.78,-32.96 A35,35 0 0 1 -2.64,-34.90" fill="none" stroke="#ef5a3a" stroke-width="2.05" stroke-linecap="round"/><path d="M-2.64,-34.90 A35,35 0 0 1 6.68,-34.36" fill="none" stroke="#ef5a3a" stroke-width="1.70" stroke-linecap="round"/><path d="M6.68,-34.36 A35,35 0 0 1 15.53,-31.37" fill="none" stroke="#ef5a3a" stroke-width="1.27" stroke-linecap="round"/><path d="M15.53,-31.37 A35,35 0 0 1 23.27,-26.15" fill="none" stroke="#ef5a3a" stroke-width="0.84" stroke-linecap="round"/><path d="M23.27,-26.15 A35,35 0 0 1 29.35,-19.06" fill="none" stroke="#ef5a3a" stroke-width="0.84" stroke-linecap="round"/><g transform="translate(-17.00,10.00) rotate(-20) scale(0.85)"><path d="M-1.93,0V-12.75L-7.2,-20M1.93,0V-12.75L7.2,-20M-5.9,-11.75L-10.4,-17.5M5.9,-11.75L10.4,-17.5" fill="none" stroke="#f9cdc2" stroke-width="2.3" stroke-linecap="round" stroke-linejoin="round"/></g><g transform="translate(16.00,2.00) rotate(28) scale(0.85)"><path d="M-1.93,0V-12.75L-7.2,-20M1.93,0V-12.75L7.2,-20M-5.9,-11.75L-10.4,-17.5M5.9,-11.75L10.4,-17.5" fill="none" stroke="#f9cdc2" stroke-width="2.3" stroke-linecap="round" stroke-linejoin="round"/></g><g transform="translate(1.00,23.00) rotate(-5) scale(0.85)"><path d="M-1.93,0V-12.75L-7.2,-20M1.93,0V-12.75L7.2,-20M-5.9,-11.75L-10.4,-17.5M5.9,-11.75L10.4,-17.5" fill="none" stroke="#fad8cf" stroke-width="2.3" stroke-linecap="round" stroke-linejoin="round"/></g><g transform="translate(0.20,-2.30) rotate(0) scale(0.8)"><path d="M-1.93,0V-12.75L-7.2,-20M1.93,0V-12.75L7.2,-20M-5.9,-11.75L-10.4,-17.5M5.9,-11.75L10.4,-17.5" fill="none" stroke="#ef5a3a" stroke-width="2.5" stroke-linecap="round" stroke-linejoin="round"/></g><g transform="translate(-7.60,17.00) rotate(-24) scale(0.85)"><path d="M-1.93,0V-12.75L-7.2,-20M1.93,0V-12.75L7.2,-20M-5.9,-11.75L-10.4,-17.5M5.9,-11.75L10.4,-17.5" fill="none" stroke="#ef5a3a" stroke-width="2.5" stroke-linecap="round" stroke-linejoin="round"/></g><g transform="translate(11.60,20.00) rotate(24) scale(0.85)"><path d="M-1.93,0V-12.75L-7.2,-20M1.93,0V-12.75L7.2,-20M-5.9,-11.75L-10.4,-17.5M5.9,-11.75L10.4,-17.5" fill="none" stroke="#ef5a3a" stroke-width="2.5" stroke-linecap="round" stroke-linejoin="round"/></g><path d="M-27.80,6.32 A2.17,2.17 0 0 1 -31.13,5.27 A2.10,2.10 0 0 1 -33.36,2.72 A2.09,2.09 0 0 1 -33.03,-0.63 A2.11,2.11 0 0 1 -30.12,-2.40 A1.96,1.96 0 0 1 -26.96,-2.57 A2.23,2.23 0 0 1 -23.56,-1.42 A2.09,2.09 0 0 1 -23.32,1.94 A1.94,1.94 0 0 1 -24.80,4.70 A2.12,2.12 0 0 1 -27.80,6.32Z" fill="#b9e0ee"/><path d="M7.51,-22.42 A2.04,2.04 0 0 1 10.50,-23.81 A2.12,2.12 0 0 1 13.86,-23.18 A2.00,2.00 0 0 1 15.68,-20.52 A1.94,1.94 0 0 1 15.62,-17.39 A1.99,1.99 0 0 1 12.78,-15.92 A1.84,1.84 0 0 1 9.89,-15.23 A2.04,2.04 0 0 1 6.88,-16.56 A1.94,1.94 0 0 1 6.25,-19.62 A1.90,1.90 0 0 1 7.51,-22.42Z" fill="#b9e0ee"/><path d="M25.57,10.42 A2.12,2.12 0 0 1 22.76,8.48 A2.00,2.00 0 0 1 23.23,5.28 A2.00,2.00 0 0 1 24.81,2.48 A2.18,2.18 0 0 1 28.27,1.90 A2.02,2.02 0 0 1 31.07,3.56 A2.00,2.00 0 0 1 32.90,6.21 A1.98,1.98 0 0 1 31.42,9.03 A2.01,2.01 0 0 1 28.89,11.08 A2.10,2.10 0 0 1 25.57,10.42Z" fill="#12a0c0"/><text x="-37.06" y="-1.80" font-size="12.64367816091954" textLength="29.53" lengthAdjust="spacingAndGlyphs" stroke="#231f20" stroke-width="0.2">Ag10</text><text x="1.24" y="-20.70" font-size="12.64367816091954" textLength="22.50" lengthAdjust="spacingAndGlyphs" stroke="#231f20" stroke-width="0.2">Ag2</text><text x="19.54" y="0.70" font-size="12.64367816091954" textLength="22.50" lengthAdjust="spacingAndGlyphs" stroke="#231f20" stroke-width="0.2">Ag4</text></g>
<text x="667.00" y="246.70" font-size="10.5" text-anchor="middle" fill="#9a9a9a" textLength="26.31" lengthAdjust="spacingAndGlyphs" stroke="#9a9a9a" stroke-width="0.2">‘vs 9’</text>
<circle cx="667.00" cy="256.00" r="3.2" fill="#ef5a3a"/>
<text x="671.90" y="293.70" font-size="15" text-anchor="middle" textLength="104.55" lengthAdjust="spacingAndGlyphs" stroke="#231f20" stroke-width="0.2">OOD negative</text>
<g transform="translate(664.00,350.00) scale(0.79)"><path d="M-27.95,21.06 A35,35 0 0 1 -32.53,12.92" fill="none" stroke="#2ca2db" stroke-width="1.07" stroke-linecap="round"/><path d="M-32.53,12.92 A35,35 0 0 1 -34.79,3.86" fill="none" stroke="#2ca2db" stroke-width="1.52" stroke-linecap="round"/><path d="M-34.79,3.86 A35,35 0 0 1 -34.57,-5.48" fill="none" stroke="#2ca2db" stroke-width="1.91" stroke-linecap="round"/><path d="M-34.57,-5.48 A35,35 0 0 1 -31.89,-14.42" fill="none" stroke="#2ca2db" stroke-width="2.20" stroke-linecap="round"/><path d="M-31.89,-14.42 A35,35 0 0 1 -26.94,-22.34" fill="none" stroke="#2ca2db" stroke-width="2.36" stroke-linecap="round"/><path d="M-26.94,-22.34 A35,35 0 0 1 -20.08,-28.67" fill="none" stroke="#2ca2db" stroke-width="2.39" stroke-linecap="round"/><path d="M-20.08,-28.67 A35,35 0 0 1 -11.78,-32.96" fill="none" stroke="#2ca2db" stroke-width="2.29" stroke-linecap="round"/><path d="M-11.78,-32.96 A35,35 0 0 1 -2.64,-34.90" fill="none" stroke="#2ca2db" stroke-width="2.05" stroke-linecap="round"/><path d="M-2.64,-34.90 A35,35 0 0 1 6.68,-34.36" fill="none" stroke="#2ca2db" stroke-width="1.70" stroke-linecap="round"/><path d="M6.68,-34.36 A35,35 0 0 1 15.53,-31.37" fill="none" stroke="#2ca2db" stroke-width="1.27" stroke-linecap="round"/><path d="M15.53,-31.37 A35,35 0 0 1 23.27,-26.15" fill="none" stroke="#2ca2db" stroke-width="0.84" stroke-linecap="round"/><path d="M23.27,-26.15 A35,35 0 0 1 29.35,-19.06" fill="none" stroke="#2ca2db" stroke-width="0.84" stroke-linecap="round"/><path d="M12.52,-6.98 A2.59,2.59 0 0 1 11.51,-11.03 A2.67,2.67 0 0 1 14.49,-14.15 A2.50,2.50 0 0 1 17.93,-16.25 A2.61,2.61 0 0 1 22.12,-16.57 A2.46,2.46 0 0 1 25.22,-14.09 A2.39,2.39 0 0 1 27.97,-11.39 A2.42,2.42 0 0 1 28.41,-7.51 A2.56,2.56 0 0 1 26.69,-3.76 A2.71,2.71 0 0 1 22.38,-3.03 A2.35,2.35 0 0 1 18.64,-2.45 A2.29,2.29 0 0 1 15.53,-4.46 A2.44,2.44 0 0 1 12.52,-6.98Z" fill="#9fb3b8"/><g transform="translate(0.00,19.90) rotate(0) scale(1.2)"><path d="M-1.93,0V-12.75L-7.2,-20M1.93,0V-12.75L7.2,-20M-5.9,-11.75L-10.4,-17.5M5.9,-11.75L10.4,-17.5" fill="none" stroke="#2ca2db" stroke-width="2.5" stroke-linecap="round" stroke-linejoin="round"/></g><circle cx="11.00" cy="-3.70" r="3.1" fill="#fff" stroke="#e03030" stroke-width="1.3924050632911393"/><text x="10.10" y="-9.20" font-size="13.924050632911392" textLength="24.78" lengthAdjust="spacingAndGlyphs" stroke="#231f20" stroke-width="0.2">Ag1</text></g>
<text x="665.40" y="387.80" font-size="10.5" text-anchor="middle" fill="#9a9a9a" textLength="75.54" lengthAdjust="spacingAndGlyphs" stroke="#9a9a9a" stroke-width="0.2">‘vs non-binder’</text>
<circle cx="666.20" cy="396.30" r="3.2" fill="#2ca2db"/>
<text x="755.00" y="54.60" font-size="14" textLength="210.00" lengthAdjust="spacingAndGlyphs" stroke="#231f20" stroke-width="0.2">Architecture of SN10 model</text>
<text x="752.00" y="81.00" font-size="12" textLength="197.40" lengthAdjust="spacingAndGlyphs" stroke="#231f20" stroke-width="0.2">Input: one-hot-encoded vector</text>
<text x="752.00" y="101.90" font-size="12" textLength="173.00" lengthAdjust="spacingAndGlyphs" stroke="#231f20" stroke-width="0.2">Layer 1: ten neurons (ReLU)</text>
<text x="752.00" y="121.70" font-size="12" textLength="193.20" lengthAdjust="spacingAndGlyphs" stroke="#231f20" stroke-width="0.2">Layer 2: one neuron (Softmax)</text>
<path d="M953.5,65.10L967.5,77.00M953.5,65.10L967.5,90.30M953.5,65.10L967.5,103.50M953.5,65.10L967.5,117.00M953.5,72.56L967.5,77.00M953.5,72.56L967.5,90.30M953.5,72.56L967.5,103.50M953.5,72.56L967.5,117.00M953.5,80.02L967.5,77.00M953.5,80.02L967.5,90.30M953.5,80.02L967.5,103.50M953.5,80.02L967.5,117.00M953.5,87.49L967.5,77.00M953.5,87.49L967.5,90.30M953.5,87.49L967.5,103.50M953.5,87.49L967.5,117.00M953.5,94.95L967.5,77.00M953.5,94.95L967.5,90.30M953.5,94.95L967.5,103.50M953.5,94.95L967.5,117.00M953.5,102.41L967.5,77.00M953.5,102.41L967.5,90.30M953.5,102.41L967.5,103.50M953.5,102.41L967.5,117.00M953.5,109.88L967.5,77.00M953.5,109.88L967.5,90.30M953.5,109.88L967.5,103.50M953.5,109.88L967.5,117.00M953.5,117.34L967.5,77.00M953.5,117.34L967.5,90.30M953.5,117.34L967.5,103.50M953.5,117.34L967.5,117.00M953.5,124.80L967.5,77.00M953.5,124.80L967.5,90.30M953.5,124.80L967.5,103.50M953.5,124.80L967.5,117.00M967.5,77.00L980.3,95.6M967.5,90.30L980.3,95.6M967.5,103.50L980.3,95.6M967.5,117.00L980.3,95.6" fill="none" stroke="#000" stroke-width="1.15"/>
<circle cx="953.50" cy="65.10" r="1.4" fill="#000"/><circle cx="953.50" cy="72.56" r="1.4" fill="#000"/><circle cx="953.50" cy="80.02" r="1.4" fill="#000"/><circle cx="953.50" cy="87.49" r="1.4" fill="#000"/><circle cx="953.50" cy="94.95" r="1.4" fill="#000"/><circle cx="953.50" cy="102.41" r="1.4" fill="#000"/><circle cx="953.50" cy="109.88" r="1.4" fill="#000"/><circle cx="953.50" cy="117.34" r="1.4" fill="#000"/><circle cx="953.50" cy="124.80" r="1.4" fill="#000"/>
<circle cx="967.50" cy="77.00" r="2.5" fill="#fff" stroke="#000" stroke-width="1.2"/>
<circle cx="967.50" cy="90.30" r="2.5" fill="#fff" stroke="#000" stroke-width="1.2"/>
<circle cx="967.50" cy="103.50" r="2.5" fill="#fff" stroke="#000" stroke-width="1.2"/>
<circle cx="967.50" cy="117.00" r="2.5" fill="#fff" stroke="#000" stroke-width="1.2"/>
<text x="1077.30" y="51.50" font-size="13" text-anchor="middle" textLength="161.00" lengthAdjust="spacingAndGlyphs" stroke="#231f20" stroke-width="0.2">Train–test split replicates</text>
<text x="1077.30" y="70.10" font-size="13" text-anchor="middle" textLength="23.86" lengthAdjust="spacingAndGlyphs" stroke="#231f20" stroke-width="0.2">and</text>
<text x="1077.30" y="85.30" font-size="13" text-anchor="middle" textLength="144.50" lengthAdjust="spacingAndGlyphs" stroke="#231f20" stroke-width="0.2">initialization replicates</text>
<text x="1077.30" y="102.10" font-size="13" text-anchor="middle" textLength="47.68" lengthAdjust="spacingAndGlyphs" stroke="#231f20" stroke-width="0.2">(seeds)</text>
<path d="M1077.3,105.5V111" fill="none" stroke="#3e4e68" stroke-width="1"/>
<path d="M1077.3,113.5L1074.8,108.5H1079.8Z" fill="#3e4e68"/>
<text x="1077.30" y="128.00" font-size="13" text-anchor="middle" textLength="96.00" lengthAdjust="spacingAndGlyphs" stroke="#231f20" stroke-width="0.2">Nine replicates</text>
<path d="M786.6,191C805,190 820,168 835,161C850,154 858,161 865,175C872,189 876,191.5 880,191.8" fill="none" stroke="#231f20" stroke-width="1.5"/>
<text x="833.40" y="224.90" font-size="13" text-anchor="middle" textLength="110.00" lengthAdjust="spacingAndGlyphs" stroke="#231f20" stroke-width="0.2">Multidimensional</text>
<text x="833.40" y="241.00" font-size="13" text-anchor="middle" textLength="147.00" lengthAdjust="spacingAndGlyphs" stroke="#231f20" stroke-width="0.2">probability distribution</text>
<text x="833.40" y="267.50" font-size="15" text-anchor="middle" stroke="#231f20" stroke-width="0.2">≈</text>
<text x="833.40" y="292.90" font-size="13" text-anchor="middle" textLength="34.95" lengthAdjust="spacingAndGlyphs" stroke="#231f20" stroke-width="0.2">PWM</text>
<text transform="translate(790.71,347.66) scale(1.494,5.176)" font-size="10" font-weight="bold" fill="#3aaa35">C</text><text transform="translate(790.71,374.70) scale(1.494,3.777)" font-size="10" font-weight="bold" fill="#000000">A</text><text transform="translate(801.72,347.66) scale(1.494,5.176)" font-size="10" font-weight="bold" fill="#000000">A</text><text transform="translate(801.72,356.67) scale(1.766,1.259)" font-size="10" font-weight="bold" fill="#000000">L</text><text transform="translate(801.72,362.68) scale(3.881,0.839)" font-size="10" font-weight="bold" fill="#000000">I</text><text transform="translate(801.72,367.69) scale(1.494,0.699)" font-size="10" font-weight="bold" fill="#2b2f9c">R</text><text transform="translate(801.72,371.70) scale(1.766,0.560)" font-size="10" font-weight="bold" fill="#000000">L</text><text transform="translate(801.72,374.70) scale(1.494,0.420)" font-size="10" font-weight="bold" fill="#3aaa35">C</text><text transform="translate(812.73,338.51) scale(1.494,3.899)" font-size="10" font-weight="bold" fill="#2b2f9c">R</text><text transform="translate(812.73,349.89) scale(1.766,1.588)" font-size="10" font-weight="bold" fill="#000000">L</text><text transform="translate(812.73,356.09) scale(1.766,0.866)" font-size="10" font-weight="bold" fill="#000000">T</text><text transform="translate(812.73,360.23) scale(1.618,0.578)" font-size="10" font-weight="bold" fill="#3aaa35">Y</text><text transform="translate(812.73,365.40) scale(1.494,0.722)" font-size="10" font-weight="bold" fill="#000000">C</text><text transform="translate(812.73,369.53) scale(1.143,0.578)" font-size="10" font-weight="bold" fill="#000000">W</text><text transform="translate(812.73,372.63) scale(1.618,0.433)" font-size="10" font-weight="bold" fill="#3aaa35">S</text><text transform="translate(812.73,374.70) scale(1.618,0.289)" font-size="10" font-weight="bold" fill="#000000">V</text><text transform="translate(823.74,326.88) scale(1.618,2.274)" font-size="10" font-weight="bold" fill="#3aaa35">Y</text><text transform="translate(823.74,348.25) scale(1.766,2.984)" font-size="10" font-weight="bold" fill="#000000">L</text><text transform="translate(823.74,355.37) scale(3.881,0.995)" font-size="10" font-weight="bold" fill="#000000">I</text><text transform="translate(823.74,361.47) scale(1.618,0.853)" font-size="10" font-weight="bold" fill="#000000">V</text><text transform="translate(823.74,365.54) scale(1.618,0.568)" font-size="10" font-weight="bold" fill="#000000">E</text><text transform="translate(823.74,369.61) scale(1.143,0.568)" font-size="10" font-weight="bold" fill="#000000">W</text><text transform="translate(823.74,372.67) scale(1.618,0.426)" font-size="10" font-weight="bold" fill="#3aaa35">S</text><text transform="translate(823.74,374.70) scale(1.387,0.284)" font-size="10" font-weight="bold" fill="#a020a0">G</text><text transform="translate(834.75,326.11) scale(1.618,2.166)" font-size="10" font-weight="bold" fill="#3aaa35">Y</text><text transform="translate(834.75,336.45) scale(1.766,1.444)" font-size="10" font-weight="bold" fill="#000000">L</text><text transform="translate(834.75,345.75) scale(1.387,1.300)" font-size="10" font-weight="bold" fill="#3aaa35">G</text><text transform="translate(834.75,350.92) scale(1.766,0.722)" font-size="10" font-weight="bold" fill="#3aaa35">T</text><text transform="translate(834.75,356.09) scale(1.618,0.722)" font-size="10" font-weight="bold" fill="#d8001a">P</text><text transform="translate(834.75,361.26) scale(1.494,0.722)" font-size="10" font-weight="bold" fill="#2b2f9c">R</text><text transform="translate(834.75,365.40) scale(1.618,0.578)" font-size="10" font-weight="bold" fill="#3aaa35">S</text><text transform="translate(834.75,369.53) scale(1.143,0.578)" font-size="10" font-weight="bold" fill="#000000">W</text><text transform="translate(834.75,372.63) scale(1.387,0.433)" font-size="10" font-weight="bold" fill="#000000">G</text><text transform="translate(834.75,374.70) scale(1.494,0.289)" font-size="10" font-weight="bold" fill="#a020a0">D</text><text transform="translate(845.76,326.36) scale(1.494,2.201)" font-size="10" font-weight="bold" fill="#d8001a">D</text><text transform="translate(845.76,337.92) scale(1.766,1.614)" font-size="10" font-weight="bold" fill="#3aaa35">T</text><text transform="translate(845.76,346.33) scale(1.387,1.174)" font-size="10" font-weight="bold" fill="#3aaa35">G</text><text transform="translate(845.76,353.68) scale(1.494,1.027)" font-size="10" font-weight="bold" fill="#a020a0">N</text><text transform="translate(845.76,359.99) scale(1.494,0.881)" font-size="10" font-weight="bold" fill="#2b2f9c">R</text><text transform="translate(845.76,365.24) scale(1.618,0.734)" font-size="10" font-weight="bold" fill="#3aaa35">S</text><text transform="translate(845.76,369.45) scale(1.618,0.587)" font-size="10" font-weight="bold" fill="#3aaa35">V</text><text transform="translate(845.76,372.60) scale(1.618,0.440)" font-size="10" font-weight="bold" fill="#000000">P</text><text transform="translate(845.76,374.70) scale(1.618,0.294)" font-size="10" font-weight="bold" fill="#d8001a">E</text><text transform="translate(856.76,330.06) scale(1.618,2.718)" font-size="10" font-weight="bold" fill="#3aaa35">Y</text><text transform="translate(856.76,341.51) scale(1.766,1.599)" font-size="10" font-weight="bold" fill="#000000">L</text><text transform="translate(856.76,350.66) scale(1.766,1.279)" font-size="10" font-weight="bold" fill="#000000">F</text><text transform="translate(856.76,357.53) scale(1.618,0.959)" font-size="10" font-weight="bold" fill="#000000">V</text><text transform="translate(856.76,363.25) scale(1.143,0.799)" font-size="10" font-weight="bold" fill="#000000">W</text><text transform="translate(856.76,368.98) scale(1.387,0.799)" font-size="10" font-weight="bold" fill="#3aaa35">G</text><text transform="translate(856.76,372.41) scale(1.494,0.480)" font-size="10" font-weight="bold" fill="#a020a0">D</text><text transform="translate(856.76,374.70) scale(1.618,0.320)" font-size="10" font-weight="bold" fill="#d8001a">S</text><text transform="translate(867.77,328.91) scale(1.766,2.558)" font-size="10" font-weight="bold" fill="#000000">F</text><text transform="translate(867.77,341.51) scale(1.618,1.759)" font-size="10" font-weight="bold" fill="#3aaa35">Y</text><text transform="translate(867.77,354.10) scale(1.766,1.759)" font-size="10" font-weight="bold" fill="#000000">L</text><text transform="translate(867.77,363.25) scale(1.618,1.279)" font-size="10" font-weight="bold" fill="#000000">V</text><text transform="translate(867.77,368.98) scale(1.143,0.799)" font-size="10" font-weight="bold" fill="#000000">W</text><text transform="translate(867.77,372.41) scale(1.494,0.480)" font-size="10" font-weight="bold" fill="#d8001a">D</text><text transform="translate(867.77,374.70) scale(1.387,0.320)" font-size="10" font-weight="bold" fill="#3aaa35">G</text><text transform="translate(878.78,329.25) scale(1.494,2.604)" font-size="10" font-weight="bold" fill="#000000">A</text><text transform="translate(878.78,342.07) scale(1.618,1.791)" font-size="10" font-weight="bold" fill="#3aaa35">Y</text><text transform="translate(878.78,351.39) scale(1.494,1.302)" font-size="10" font-weight="bold" fill="#d8001a">D</text><text transform="translate(878.78,358.38) scale(1.143,0.977)" font-size="10" font-weight="bold" fill="#000000">W</text><text transform="translate(878.78,363.05) scale(1.618,0.651)" font-size="10" font-weight="bold" fill="#3aaa35">S</text><text transform="translate(878.78,368.87) scale(1.766,0.814)" font-size="10" font-weight="bold" fill="#000000">L</text><text transform="translate(878.78,372.37) scale(1.494,0.488)" font-size="10" font-weight="bold" fill="#2b2f9c">D</text><text transform="translate(878.78,374.70) scale(1.618,0.326)" font-size="10" font-weight="bold" fill="#3aaa35">Y</text><text transform="translate(889.79,335.07) scale(1.618,3.418)" font-size="10" font-weight="bold" fill="#3aaa35">Y</text><text transform="translate(889.79,349.06) scale(1.766,1.953)" font-size="10" font-weight="bold" fill="#000000">F</text><text transform="translate(889.79,359.55) scale(1.143,1.465)" font-size="10" font-weight="bold" fill="#000000">W</text><text transform="translate(889.79,365.38) scale(1.618,0.814)" font-size="10" font-weight="bold" fill="#000000">E</text><text transform="translate(889.79,371.20) scale(1.618,0.814)" font-size="10" font-weight="bold" fill="#000000">V</text><text transform="translate(889.79,374.70) scale(1.618,0.488)" font-size="10" font-weight="bold" fill="#000000">X</text><text transform="translate(900.80,325.07) scale(1.766,2.022)" font-size="10" font-weight="bold" fill="#000000">F</text><text transform="translate(900.80,342.65) scale(1.143,2.455)" font-size="10" font-weight="bold" fill="#000000">W</text><text transform="translate(900.80,356.09) scale(1.494,1.877)" font-size="10" font-weight="bold" fill="#d8001a">D</text><text transform="translate(900.80,365.40) scale(1.618,1.300)" font-size="10" font-weight="bold" fill="#3aaa35">Y</text><text transform="translate(900.80,370.56) scale(1.618,0.722)" font-size="10" font-weight="bold" fill="#000000">X</text><text transform="translate(900.80,374.70) scale(1.494,0.578)" font-size="10" font-weight="bold" fill="#000000">A</text>
<text x="767.00" y="345.50" font-size="11" text-anchor="middle" textLength="59.86" lengthAdjust="spacingAndGlyphs" transform="rotate(-90 767.00 345.50)" stroke="#231f20" stroke-width="0.2">Amino acid</text>
<text x="780.50" y="345.50" font-size="11" text-anchor="middle" textLength="55.15" lengthAdjust="spacingAndGlyphs" transform="rotate(-90 780.50 345.50)" stroke="#231f20" stroke-width="0.2">probability</text>
<text x="847.50" y="390.20" font-size="11" text-anchor="middle" textLength="86.00" lengthAdjust="spacingAndGlyphs" stroke="#231f20" stroke-width="0.2">Position in CDR3</text>
<text x="1060.00" y="235.30" font-size="15" text-anchor="middle" textLength="31.17" lengthAdjust="spacingAndGlyphs" stroke="#231f20" stroke-width="0.2">JSD</text>
<text x="1060.50" y="263.30" font-size="13" text-anchor="middle" textLength="126.00" lengthAdjust="spacingAndGlyphs" stroke="#231f20" stroke-width="0.2">Sequence similarity</text>
<path d="M1027.5,277V273.5H1093.3V277" fill="none" stroke="#231f20" stroke-width="1.2"/>
<text x="966.70" y="294.50" font-size="13" textLength="80.80" lengthAdjust="spacingAndGlyphs" stroke="#231f20" stroke-width="0.2">Positive data</text>
<text x="1064.50" y="294.50" font-size="13" textLength="88.80" lengthAdjust="spacingAndGlyphs" stroke="#231f20" stroke-width="0.2">Negative data</text>
<path d="M960,345.5C975,344 990,326 1005,317C1020,309 1030,311 1037,325C1044,340 1048,345 1054.7,345.5Z" fill="#ef5a3a" stroke="#231f20" stroke-width="1"/>
<path d="M1065.3,345.5C1072,345 1080,330 1090,320C1100,310 1110,312 1122,322C1136,334 1148,344 1160,345.5Z" fill="#2ca2db" stroke="#231f20" stroke-width="1"/>
<text x="1110.70" y="331.30" font-size="10.5" text-anchor="middle" textLength="14.12" lengthAdjust="spacingAndGlyphs" stroke="#231f20" stroke-width="0.2">‘vs</text>
<text x="1109.80" y="344.70" font-size="10.5" text-anchor="middle" textLength="60.00" lengthAdjust="spacingAndGlyphs" stroke="#231f20" stroke-width="0.2">non-binder’</text>
<text x="0.00" y="441.40" font-size="19" font-weight="bold" textLength="13.00" lengthAdjust="spacingAndGlyphs" stroke="#231f20" stroke-width="0.7">b</text>
<text x="33.00" y="441.40" font-size="16" textLength="515.30" lengthAdjust="spacingAndGlyphs" stroke="#231f20" stroke-width="0.2">ID prediction accuracy across tasks and positive-class antigens</text>
<path d="M72.5,481.3V667.5H635.7" fill="none" stroke="#555555" stroke-width="1.1"/>
<line x1="66.00" y1="487.40" x2="72.30" y2="487.40" stroke="#555555" stroke-width="1.1" />
<text x="57.90" y="491.80" font-size="13" text-anchor="end" textLength="26.50" lengthAdjust="spacingAndGlyphs" stroke="#231f20" stroke-width="0.2">1.00</text>
<line x1="66.00" y1="543.20" x2="72.30" y2="543.20" stroke="#555555" stroke-width="1.1" />
<text x="57.90" y="547.60" font-size="13" text-anchor="end" textLength="26.50" lengthAdjust="spacingAndGlyphs" stroke="#231f20" stroke-width="0.2">0.95</text>
<line x1="66.00" y1="598.50" x2="72.30" y2="598.50" stroke="#555555" stroke-width="1.1" />
<text x="57.90" y="602.90" font-size="13" text-anchor="end" textLength="26.50" lengthAdjust="spacingAndGlyphs" stroke="#231f20" stroke-width="0.2">0.90</text>
<line x1="66.00" y1="653.70" x2="72.30" y2="653.70" stroke="#555555" stroke-width="1.1" />
<text x="57.90" y="658.10" font-size="13" text-anchor="end" textLength="26.50" lengthAdjust="spacingAndGlyphs" stroke="#231f20" stroke-width="0.2">0.85</text>
<line x1="142.60" y1="667.30" x2="142.60" y2="673.80" stroke="#555555" stroke-width="1.1" />
<line x1="283.80" y1="667.30" x2="283.80" y2="673.80" stroke="#555555" stroke-width="1.1" />
<line x1="424.60" y1="667.30" x2="424.60" y2="673.80" stroke="#555555" stroke-width="1.1" />
<line x1="589.00" y1="667.30" x2="589.00" y2="673.80" stroke="#555555" stroke-width="1.1" />
<text x="16.70" y="574.90" font-size="16" text-anchor="middle" textLength="148.60" lengthAdjust="spacingAndGlyphs" transform="rotate(-90 16.70 574.90)" stroke="#231f20" stroke-width="0.2">Prediction accuracy</text>
<circle cx="92.91" cy="489.50" r="2.4" fill="#1a7a7a" opacity="0.4"/>
<circle cx="93.91" cy="491.50" r="2.4" fill="#1a7a7a" opacity="0.4"/>
<circle cx="93.81" cy="490.98" r="2.4" fill="#1a7a7a" opacity="0.4"/>
<circle cx="91.53" cy="489.56" r="2.4" fill="#1a7a7a" opacity="0.4"/>
<circle cx="92.44" cy="491.39" r="2.4" fill="#1a7a7a" opacity="0.4"/>
<circle cx="89.77" cy="491.30" r="2.4" fill="#1a7a7a" opacity="0.4"/>
<circle cx="90.43" cy="490.44" r="2.4" fill="#1a7a7a" opacity="0.4"/>
<circle cx="92.07" cy="490.59" r="2.4" fill="#1a7a7a" opacity="0.4"/>
<circle cx="90.28" cy="489.53" r="2.4" fill="#1a7a7a" opacity="0.4"/>
<circle cx="93.78" cy="490.06" r="2.4" fill="#1a7a7a" opacity="0.4"/>
<circle cx="90.00" cy="491.03" r="2.4" fill="#1a7a7a" opacity="0.4"/>
<circle cx="89.89" cy="491.09" r="2.4" fill="#1a7a7a" opacity="0.4"/>
<circle cx="89.83" cy="490.73" r="2.4" fill="#1a7a7a" opacity="0.4"/>
<circle cx="93.56" cy="489.50" r="2.4" fill="#1a7a7a" opacity="0.4"/>
<circle cx="90.83" cy="493.50" r="2.6" fill="#1a7a7a" opacity="0.35"/>
<line x1="91.70" y1="489.50" x2="91.70" y2="490.30" stroke="#1a1a1a" stroke-width="1.0" />
<line x1="89.10" y1="489.50" x2="94.30" y2="489.50" stroke="#1a1a1a" stroke-width="1.0" />
<line x1="91.70" y1="490.90" x2="91.70" y2="491.50" stroke="#1a1a1a" stroke-width="1.0" />
<line x1="89.10" y1="491.50" x2="94.30" y2="491.50" stroke="#1a1a1a" stroke-width="1.0" />
<rect x="86.10" y="489.40" width="11.20" height="2.40" fill="#1a1a1a"/>
<rect x="87.10" y="490.10" width="9.20" height="1.00" fill="#1a7a7a"/>
<path d="M91.70,489.00L94.50,493.50L94.50,493.50L91.70,498.00L88.90,493.50L88.90,493.50Z" fill="#1a1a1a"/>
<text x="96.20" y="662.00" font-size="12.5" textLength="22.50" lengthAdjust="spacingAndGlyphs" transform="rotate(-90 96.20 662.00)" stroke="#231f20" stroke-width="0.2">1.00</text>
<circle cx="105.51" cy="490.00" r="2.4" fill="#f3a98a" opacity="0.4"/>
<circle cx="102.05" cy="491.00" r="2.4" fill="#f3a98a" opacity="0.4"/>
<circle cx="103.30" cy="490.96" r="2.4" fill="#f3a98a" opacity="0.4"/>
<circle cx="101.62" cy="490.68" r="2.4" fill="#f3a98a" opacity="0.4"/>
<circle cx="104.05" cy="490.94" r="2.4" fill="#f3a98a" opacity="0.4"/>
<circle cx="105.07" cy="490.97" r="2.4" fill="#f3a98a" opacity="0.4"/>
<circle cx="102.41" cy="490.30" r="2.4" fill="#f3a98a" opacity="0.4"/>
<circle cx="101.33" cy="490.17" r="2.4" fill="#f3a98a" opacity="0.4"/>
<circle cx="102.11" cy="490.07" r="2.4" fill="#f3a98a" opacity="0.4"/>
<circle cx="100.62" cy="490.60" r="2.4" fill="#f3a98a" opacity="0.4"/>
<circle cx="102.29" cy="490.68" r="2.4" fill="#f3a98a" opacity="0.4"/>
<circle cx="104.69" cy="490.31" r="2.4" fill="#f3a98a" opacity="0.4"/>
<circle cx="102.18" cy="490.48" r="2.4" fill="#f3a98a" opacity="0.4"/>
<circle cx="104.12" cy="490.48" r="2.4" fill="#f3a98a" opacity="0.4"/>
<circle cx="101.77" cy="491.20" r="2.6" fill="#f3a98a" opacity="0.35"/>
<rect x="97.50" y="489.40" width="11.20" height="2.40" fill="#1a1a1a"/>
<rect x="98.50" y="490.10" width="9.20" height="1.00" fill="#f3a98a"/>
<path d="M103.10,486.00L105.90,491.00L105.90,491.40L103.10,496.40L100.30,491.40L100.30,491.00Z" fill="#1a1a1a"/>
<text x="107.60" y="662.00" font-size="12.5" textLength="22.50" lengthAdjust="spacingAndGlyphs" transform="rotate(-90 107.60 662.00)" stroke="#231f20" stroke-width="0.2">1.00</text>
<circle cx="112.01" cy="499.00" r="2.4" fill="#27286e" opacity="0.4"/>
<circle cx="116.12" cy="501.50" r="2.4" fill="#27286e" opacity="0.4"/>
<circle cx="115.84" cy="499.05" r="2.4" fill="#27286e" opacity="0.4"/>
<circle cx="114.79" cy="499.92" r="2.4" fill="#27286e" opacity="0.4"/>
<circle cx="112.13" cy="499.02" r="2.4" fill="#27286e" opacity="0.4"/>
<circle cx="116.68" cy="499.45" r="2.4" fill="#27286e" opacity="0.4"/>
<circle cx="115.68" cy="499.49" r="2.4" fill="#27286e" opacity="0.4"/>
<circle cx="116.61" cy="501.32" r="2.4" fill="#27286e" opacity="0.4"/>
<circle cx="113.67" cy="499.86" r="2.4" fill="#27286e" opacity="0.4"/>
<circle cx="115.78" cy="500.31" r="2.4" fill="#27286e" opacity="0.4"/>
<circle cx="115.64" cy="499.27" r="2.4" fill="#27286e" opacity="0.4"/>
<circle cx="116.20" cy="500.99" r="2.4" fill="#27286e" opacity="0.4"/>
<circle cx="116.63" cy="499.09" r="2.4" fill="#27286e" opacity="0.4"/>
<circle cx="113.60" cy="499.23" r="2.4" fill="#27286e" opacity="0.4"/>
<circle cx="114.73" cy="505.20" r="2.6" fill="#27286e" opacity="0.35"/>
<line x1="114.40" y1="499.00" x2="114.40" y2="500.20" stroke="#1a1a1a" stroke-width="1.0" />
<line x1="111.80" y1="499.00" x2="117.00" y2="499.00" stroke="#1a1a1a" stroke-width="1.0" />
<line x1="114.40" y1="500.80" x2="114.40" y2="501.50" stroke="#1a1a1a" stroke-width="1.0" />
<line x1="111.80" y1="501.50" x2="117.00" y2="501.50" stroke="#1a1a1a" stroke-width="1.0" />
<rect x="108.80" y="499.30" width="11.20" height="2.40" fill="#1a1a1a"/>
<rect x="109.80" y="500.00" width="9.20" height="1.00" fill="#27286e"/>
<path d="M114.40,500.70L117.20,505.20L117.20,505.20L114.40,509.70L111.60,505.20L111.60,505.20Z" fill="#1a1a1a"/>
<text x="118.90" y="662.00" font-size="12.5" textLength="22.50" lengthAdjust="spacingAndGlyphs" transform="rotate(-90 118.90 662.00)" stroke="#231f20" stroke-width="0.2">0.99</text>
<circle cx="125.00" cy="489.50" r="2.4" fill="#e3c42b" opacity="0.4"/>
<circle cx="126.03" cy="493.80" r="2.4" fill="#e3c42b" opacity="0.4"/>
<circle cx="124.88" cy="490.84" r="2.4" fill="#e3c42b" opacity="0.4"/>
<circle cx="123.69" cy="490.26" r="2.4" fill="#e3c42b" opacity="0.4"/>
<circle cx="126.75" cy="490.14" r="2.4" fill="#e3c42b" opacity="0.4"/>
<circle cx="124.11" cy="493.79" r="2.4" fill="#e3c42b" opacity="0.4"/>
<circle cx="128.23" cy="489.71" r="2.4" fill="#e3c42b" opacity="0.4"/>
<circle cx="125.33" cy="491.79" r="2.4" fill="#e3c42b" opacity="0.4"/>
<circle cx="126.27" cy="490.52" r="2.4" fill="#e3c42b" opacity="0.4"/>
<circle cx="125.58" cy="493.05" r="2.4" fill="#e3c42b" opacity="0.4"/>
<circle cx="123.58" cy="491.31" r="2.4" fill="#e3c42b" opacity="0.4"/>
<circle cx="123.46" cy="493.44" r="2.4" fill="#e3c42b" opacity="0.4"/>
<circle cx="127.49" cy="491.62" r="2.4" fill="#e3c42b" opacity="0.4"/>
<circle cx="126.96" cy="490.06" r="2.4" fill="#e3c42b" opacity="0.4"/>
<line x1="125.80" y1="489.50" x2="125.80" y2="491.30" stroke="#1a1a1a" stroke-width="1.0" />
<line x1="123.20" y1="489.50" x2="128.40" y2="489.50" stroke="#1a1a1a" stroke-width="1.0" />
<line x1="125.80" y1="492.50" x2="125.80" y2="493.80" stroke="#1a1a1a" stroke-width="1.0" />
<line x1="123.20" y1="493.80" x2="128.40" y2="493.80" stroke="#1a1a1a" stroke-width="1.0" />
<rect x="120.20" y="490.70" width="11.20" height="2.40" fill="#1a1a1a"/>
<rect x="121.20" y="491.40" width="9.20" height="1.00" fill="#e3c42b"/>
<text x="130.30" y="662.00" font-size="12.5" textLength="22.50" lengthAdjust="spacingAndGlyphs" transform="rotate(-90 130.30 662.00)" stroke="#231f20" stroke-width="0.2">1.00</text>
<circle cx="137.45" cy="501.50" r="2.4" fill="#2f7e3c" opacity="0.4"/>
<circle cx="134.83" cy="503.00" r="2.4" fill="#2f7e3c" opacity="0.4"/>
<circle cx="135.05" cy="502.15" r="2.4" fill="#2f7e3c" opacity="0.4"/>
<circle cx="135.77" cy="502.77" r="2.4" fill="#2f7e3c" opacity="0.4"/>
<circle cx="139.30" cy="502.18" r="2.4" fill="#2f7e3c" opacity="0.4"/>
<circle cx="139.18" cy="502.78" r="2.4" fill="#2f7e3c" opacity="0.4"/>
<circle cx="136.74" cy="502.18" r="2.4" fill="#2f7e3c" opacity="0.4"/>
<circle cx="136.70" cy="502.59" r="2.4" fill="#2f7e3c" opacity="0.4"/>
<circle cx="136.32" cy="501.94" r="2.4" fill="#2f7e3c" opacity="0.4"/>
<circle cx="136.19" cy="501.72" r="2.4" fill="#2f7e3c" opacity="0.4"/>
<circle cx="139.10" cy="502.98" r="2.4" fill="#2f7e3c" opacity="0.4"/>
<circle cx="136.80" cy="502.44" r="2.4" fill="#2f7e3c" opacity="0.4"/>
<circle cx="134.75" cy="502.01" r="2.4" fill="#2f7e3c" opacity="0.4"/>
<circle cx="138.21" cy="501.91" r="2.4" fill="#2f7e3c" opacity="0.4"/>
<circle cx="137.90" cy="502.35" r="2.6" fill="#2f7e3c" opacity="0.35"/>
<rect x="131.20" y="501.10" width="11.20" height="2.40" fill="#1a1a1a"/>
<rect x="132.20" y="501.80" width="9.20" height="1.00" fill="#2f7e3c"/>
<path d="M136.80,496.40L139.60,501.40L139.60,503.30L136.80,508.30L134.00,503.30L134.00,501.40Z" fill="#1a1a1a"/>
<text x="141.30" y="662.00" font-size="12.5" textLength="22.50" lengthAdjust="spacingAndGlyphs" transform="rotate(-90 141.30 662.00)" stroke="#231f20" stroke-width="0.2">0.99</text>
<circle cx="149.63" cy="499.00" r="2.4" fill="#ee86ba" opacity="0.4"/>
<circle cx="149.17" cy="503.00" r="2.4" fill="#ee86ba" opacity="0.4"/>
<circle cx="149.50" cy="501.66" r="2.4" fill="#ee86ba" opacity="0.4"/>
<circle cx="149.22" cy="500.45" r="2.4" fill="#ee86ba" opacity="0.4"/>
<circle cx="148.13" cy="500.12" r="2.4" fill="#ee86ba" opacity="0.4"/>
<circle cx="149.15" cy="502.08" r="2.4" fill="#ee86ba" opacity="0.4"/>
<circle cx="150.43" cy="500.18" r="2.4" fill="#ee86ba" opacity="0.4"/>
<circle cx="148.60" cy="501.60" r="2.4" fill="#ee86ba" opacity="0.4"/>
<circle cx="148.43" cy="499.05" r="2.4" fill="#ee86ba" opacity="0.4"/>
<circle cx="149.06" cy="500.00" r="2.4" fill="#ee86ba" opacity="0.4"/>
<circle cx="149.78" cy="500.85" r="2.4" fill="#ee86ba" opacity="0.4"/>
<circle cx="149.69" cy="501.59" r="2.4" fill="#ee86ba" opacity="0.4"/>
<circle cx="148.92" cy="500.39" r="2.4" fill="#ee86ba" opacity="0.4"/>
<circle cx="149.84" cy="501.95" r="2.4" fill="#ee86ba" opacity="0.4"/>
<circle cx="147.75" cy="506.20" r="2.6" fill="#ee86ba" opacity="0.35"/>
<line x1="148.20" y1="499.00" x2="148.20" y2="500.20" stroke="#1a1a1a" stroke-width="1.0" />
<line x1="145.60" y1="499.00" x2="150.80" y2="499.00" stroke="#1a1a1a" stroke-width="1.0" />
<line x1="148.20" y1="500.80" x2="148.20" y2="503.00" stroke="#1a1a1a" stroke-width="1.0" />
<line x1="145.60" y1="503.00" x2="150.80" y2="503.00" stroke="#1a1a1a" stroke-width="1.0" />
<rect x="142.60" y="499.30" width="11.20" height="2.40" fill="#1a1a1a"/>
<rect x="143.60" y="500.00" width="9.20" height="1.00" fill="#ee86ba"/>
<path d="M148.20,501.70L151.00,506.20L151.00,506.20L148.20,510.70L145.40,506.20L145.40,506.20Z" fill="#1a1a1a"/>
<text x="152.70" y="662.00" font-size="12.5" textLength="22.50" lengthAdjust="spacingAndGlyphs" transform="rotate(-90 152.70 662.00)" stroke="#231f20" stroke-width="0.2">0.99</text>
<circle cx="161.55" cy="508.50" r="2.4" fill="#6e2570" opacity="0.4"/>
<circle cx="162.08" cy="513.50" r="2.4" fill="#6e2570" opacity="0.4"/>
<circle cx="159.79" cy="513.28" r="2.4" fill="#6e2570" opacity="0.4"/>
<circle cx="158.03" cy="511.15" r="2.4" fill="#6e2570" opacity="0.4"/>
<circle cx="161.89" cy="512.68" r="2.4" fill="#6e2570" opacity="0.4"/>
<circle cx="160.66" cy="510.89" r="2.4" fill="#6e2570" opacity="0.4"/>
<circle cx="160.85" cy="512.10" r="2.4" fill="#6e2570" opacity="0.4"/>
<circle cx="161.10" cy="509.36" r="2.4" fill="#6e2570" opacity="0.4"/>
<circle cx="160.53" cy="511.40" r="2.4" fill="#6e2570" opacity="0.4"/>
<circle cx="160.32" cy="510.60" r="2.4" fill="#6e2570" opacity="0.4"/>
<circle cx="160.38" cy="512.37" r="2.4" fill="#6e2570" opacity="0.4"/>
<circle cx="157.34" cy="512.10" r="2.4" fill="#6e2570" opacity="0.4"/>
<circle cx="159.41" cy="509.30" r="2.4" fill="#6e2570" opacity="0.4"/>
<circle cx="158.30" cy="511.75" r="2.4" fill="#6e2570" opacity="0.4"/>
<line x1="159.70" y1="508.50" x2="159.70" y2="510.60" stroke="#1a1a1a" stroke-width="1.0" />
<line x1="157.10" y1="508.50" x2="162.30" y2="508.50" stroke="#1a1a1a" stroke-width="1.0" />
<line x1="159.70" y1="512.60" x2="159.70" y2="513.50" stroke="#1a1a1a" stroke-width="1.0" />
<line x1="157.10" y1="513.50" x2="162.30" y2="513.50" stroke="#1a1a1a" stroke-width="1.0" />
<rect x="154.10" y="510.60" width="11.20" height="2.00" fill="#6e2570" stroke="#1a1a1a" stroke-width="1.0"/>
<line x1="154.10" y1="511.50" x2="165.30" y2="511.50" stroke="#1a1a1a" stroke-width="1.0" />
<text x="164.20" y="662.00" font-size="12.5" textLength="22.50" lengthAdjust="spacingAndGlyphs" transform="rotate(-90 164.20 662.00)" stroke="#231f20" stroke-width="0.2">0.98</text>
<circle cx="171.25" cy="507.50" r="2.4" fill="#ee7659" opacity="0.4"/>
<circle cx="170.46" cy="510.00" r="2.4" fill="#ee7659" opacity="0.4"/>
<circle cx="168.37" cy="508.07" r="2.4" fill="#ee7659" opacity="0.4"/>
<circle cx="169.69" cy="507.83" r="2.4" fill="#ee7659" opacity="0.4"/>
<circle cx="169.07" cy="507.95" r="2.4" fill="#ee7659" opacity="0.4"/>
<circle cx="170.43" cy="507.59" r="2.4" fill="#ee7659" opacity="0.4"/>
<circle cx="171.16" cy="508.45" r="2.4" fill="#ee7659" opacity="0.4"/>
<circle cx="169.29" cy="508.98" r="2.4" fill="#ee7659" opacity="0.4"/>
<circle cx="168.10" cy="509.76" r="2.4" fill="#ee7659" opacity="0.4"/>
<circle cx="169.49" cy="508.51" r="2.4" fill="#ee7659" opacity="0.4"/>
<circle cx="168.68" cy="508.53" r="2.4" fill="#ee7659" opacity="0.4"/>
<circle cx="169.97" cy="509.58" r="2.4" fill="#ee7659" opacity="0.4"/>
<circle cx="171.17" cy="507.59" r="2.4" fill="#ee7659" opacity="0.4"/>
<circle cx="170.83" cy="507.74" r="2.4" fill="#ee7659" opacity="0.4"/>
<circle cx="170.12" cy="513.35" r="2.6" fill="#ee7659" opacity="0.35"/>
<line x1="170.60" y1="507.50" x2="170.60" y2="508.60" stroke="#1a1a1a" stroke-width="1.0" />
<line x1="168.00" y1="507.50" x2="173.20" y2="507.50" stroke="#1a1a1a" stroke-width="1.0" />
<line x1="170.60" y1="509.20" x2="170.60" y2="510.00" stroke="#1a1a1a" stroke-width="1.0" />
<line x1="168.00" y1="510.00" x2="173.20" y2="510.00" stroke="#1a1a1a" stroke-width="1.0" />
<rect x="165.00" y="507.70" width="11.20" height="2.40" fill="#1a1a1a"/>
<rect x="166.00" y="508.40" width="9.20" height="1.00" fill="#ee7659"/>
<path d="M170.60,508.85L173.40,513.35L173.40,513.35L170.60,517.85L167.80,513.35L167.80,513.35Z" fill="#1a1a1a"/>
<text x="175.10" y="662.00" font-size="12.5" textLength="22.50" lengthAdjust="spacingAndGlyphs" transform="rotate(-90 175.10 662.00)" stroke="#231f20" stroke-width="0.2">0.98</text>
<circle cx="184.29" cy="495.50" r="2.4" fill="#58bb48" opacity="0.4"/>
<circle cx="181.60" cy="496.80" r="2.4" fill="#58bb48" opacity="0.4"/>
<circle cx="182.71" cy="496.56" r="2.4" fill="#58bb48" opacity="0.4"/>
<circle cx="180.21" cy="495.98" r="2.4" fill="#58bb48" opacity="0.4"/>
<circle cx="182.32" cy="496.27" r="2.4" fill="#58bb48" opacity="0.4"/>
<circle cx="184.34" cy="496.74" r="2.4" fill="#58bb48" opacity="0.4"/>
<circle cx="181.26" cy="496.29" r="2.4" fill="#58bb48" opacity="0.4"/>
<circle cx="179.50" cy="496.66" r="2.4" fill="#58bb48" opacity="0.4"/>
<circle cx="182.33" cy="495.64" r="2.4" fill="#58bb48" opacity="0.4"/>
<circle cx="180.20" cy="496.30" r="2.4" fill="#58bb48" opacity="0.4"/>
<circle cx="183.96" cy="496.32" r="2.4" fill="#58bb48" opacity="0.4"/>
<circle cx="181.66" cy="495.99" r="2.4" fill="#58bb48" opacity="0.4"/>
<circle cx="180.96" cy="495.79" r="2.4" fill="#58bb48" opacity="0.4"/>
<circle cx="181.40" cy="496.76" r="2.4" fill="#58bb48" opacity="0.4"/>
<circle cx="183.38" cy="496.60" r="2.6" fill="#58bb48" opacity="0.35"/>
<rect x="176.40" y="494.90" width="11.20" height="2.40" fill="#1a1a1a"/>
<rect x="177.40" y="495.60" width="9.20" height="1.00" fill="#58bb48"/>
<path d="M182.00,490.60L184.80,495.60L184.80,497.60L182.00,502.60L179.20,497.60L179.20,495.60Z" fill="#1a1a1a"/>
<text x="186.50" y="662.00" font-size="12.5" textLength="22.50" lengthAdjust="spacingAndGlyphs" transform="rotate(-90 186.50 662.00)" stroke="#231f20" stroke-width="0.2">0.99</text>
<circle cx="193.78" cy="508.00" r="2.4" fill="#e23a92" opacity="0.4"/>
<circle cx="195.70" cy="518.20" r="2.4" fill="#e23a92" opacity="0.4"/>
<circle cx="192.88" cy="513.06" r="2.4" fill="#e23a92" opacity="0.4"/>
<circle cx="195.72" cy="511.26" r="2.4" fill="#e23a92" opacity="0.4"/>
<circle cx="192.23" cy="513.02" r="2.4" fill="#e23a92" opacity="0.4"/>
<circle cx="191.41" cy="512.86" r="2.4" fill="#e23a92" opacity="0.4"/>
<circle cx="193.02" cy="514.34" r="2.4" fill="#e23a92" opacity="0.4"/>
<circle cx="194.71" cy="510.99" r="2.4" fill="#e23a92" opacity="0.4"/>
<circle cx="190.87" cy="516.43" r="2.4" fill="#e23a92" opacity="0.4"/>
<circle cx="192.17" cy="513.43" r="2.4" fill="#e23a92" opacity="0.4"/>
<circle cx="194.71" cy="517.54" r="2.4" fill="#e23a92" opacity="0.4"/>
<circle cx="192.14" cy="510.51" r="2.4" fill="#e23a92" opacity="0.4"/>
<circle cx="195.74" cy="509.58" r="2.4" fill="#e23a92" opacity="0.4"/>
<circle cx="193.84" cy="510.99" r="2.4" fill="#e23a92" opacity="0.4"/>
<line x1="193.30" y1="508.00" x2="193.30" y2="509.40" stroke="#1a1a1a" stroke-width="1.0" />
<line x1="190.70" y1="508.00" x2="195.90" y2="508.00" stroke="#1a1a1a" stroke-width="1.0" />
<line x1="193.30" y1="515.40" x2="193.30" y2="518.20" stroke="#1a1a1a" stroke-width="1.0" />
<line x1="190.70" y1="518.20" x2="195.90" y2="518.20" stroke="#1a1a1a" stroke-width="1.0" />
<rect x="187.70" y="509.40" width="11.20" height="6.00" fill="#e23a92" stroke="#1a1a1a" stroke-width="1.0"/>
<line x1="187.70" y1="512.50" x2="198.90" y2="512.50" stroke="#1a1a1a" stroke-width="1.0" />
<text x="197.80" y="662.00" font-size="12.5" textLength="22.50" lengthAdjust="spacingAndGlyphs" transform="rotate(-90 197.80 662.00)" stroke="#231f20" stroke-width="0.2">0.98</text>
<circle cx="233.52" cy="492.80" r="2.4" fill="#1a7a7a" opacity="0.4"/>
<circle cx="234.02" cy="514.90" r="2.4" fill="#1a7a7a" opacity="0.4"/>
<circle cx="234.10" cy="495.41" r="2.4" fill="#1a7a7a" opacity="0.4"/>
<circle cx="232.97" cy="499.45" r="2.4" fill="#1a7a7a" opacity="0.4"/>
<circle cx="231.78" cy="500.23" r="2.4" fill="#1a7a7a" opacity="0.4"/>
<circle cx="232.62" cy="504.51" r="2.4" fill="#1a7a7a" opacity="0.4"/>
<circle cx="234.03" cy="500.78" r="2.4" fill="#1a7a7a" opacity="0.4"/>
<circle cx="230.48" cy="505.86" r="2.4" fill="#1a7a7a" opacity="0.4"/>
<circle cx="232.58" cy="498.38" r="2.4" fill="#1a7a7a" opacity="0.4"/>
<circle cx="234.74" cy="513.06" r="2.4" fill="#1a7a7a" opacity="0.4"/>
<circle cx="230.37" cy="504.86" r="2.4" fill="#1a7a7a" opacity="0.4"/>
<circle cx="232.44" cy="510.00" r="2.4" fill="#1a7a7a" opacity="0.4"/>
<circle cx="233.84" cy="505.52" r="2.4" fill="#1a7a7a" opacity="0.4"/>
<circle cx="232.71" cy="506.77" r="2.4" fill="#1a7a7a" opacity="0.4"/>
<circle cx="234.04" cy="523.10" r="2.6" fill="#1a7a7a" opacity="0.35"/>
<line x1="232.80" y1="492.80" x2="232.80" y2="495.20" stroke="#1a1a1a" stroke-width="1.0" />
<line x1="230.20" y1="492.80" x2="235.40" y2="492.80" stroke="#1a1a1a" stroke-width="1.0" />
<line x1="232.80" y1="503.40" x2="232.80" y2="514.90" stroke="#1a1a1a" stroke-width="1.0" />
<line x1="230.20" y1="514.90" x2="235.40" y2="514.90" stroke="#1a1a1a" stroke-width="1.0" />
<rect x="227.20" y="495.20" width="11.20" height="8.20" fill="#1a7a7a" stroke="#1a1a1a" stroke-width="1.0"/>
<line x1="227.20" y1="499.50" x2="238.40" y2="499.50" stroke="#1a1a1a" stroke-width="1.0" />
<path d="M232.80,514.90L235.60,519.90L235.60,526.30L232.80,531.30L230.00,526.30L230.00,519.90Z" fill="#1a1a1a"/>
<text x="237.30" y="662.00" font-size="12.5" textLength="22.50" lengthAdjust="spacingAndGlyphs" transform="rotate(-90 237.30 662.00)" stroke="#231f20" stroke-width="0.2">0.99</text>
<circle cx="243.46" cy="493.10" r="2.4" fill="#f3a98a" opacity="0.4"/>
<circle cx="242.48" cy="521.20" r="2.4" fill="#f3a98a" opacity="0.4"/>
<circle cx="245.65" cy="501.43" r="2.4" fill="#f3a98a" opacity="0.4"/>
<circle cx="245.68" cy="494.96" r="2.4" fill="#f3a98a" opacity="0.4"/>
<circle cx="243.66" cy="512.62" r="2.4" fill="#f3a98a" opacity="0.4"/>
<circle cx="245.40" cy="501.15" r="2.4" fill="#f3a98a" opacity="0.4"/>
<circle cx="242.21" cy="518.69" r="2.4" fill="#f3a98a" opacity="0.4"/>
<circle cx="244.25" cy="506.54" r="2.4" fill="#f3a98a" opacity="0.4"/>
<circle cx="243.15" cy="507.08" r="2.4" fill="#f3a98a" opacity="0.4"/>
<circle cx="244.43" cy="497.41" r="2.4" fill="#f3a98a" opacity="0.4"/>
<circle cx="241.84" cy="515.91" r="2.4" fill="#f3a98a" opacity="0.4"/>
<circle cx="245.60" cy="499.56" r="2.4" fill="#f3a98a" opacity="0.4"/>
<circle cx="244.82" cy="515.35" r="2.4" fill="#f3a98a" opacity="0.4"/>
<circle cx="245.11" cy="493.82" r="2.4" fill="#f3a98a" opacity="0.4"/>
<line x1="244.00" y1="493.10" x2="244.00" y2="495.90" stroke="#1a1a1a" stroke-width="1.0" />
<line x1="241.40" y1="493.10" x2="246.60" y2="493.10" stroke="#1a1a1a" stroke-width="1.0" />
<line x1="244.00" y1="507.20" x2="244.00" y2="521.20" stroke="#1a1a1a" stroke-width="1.0" />
<line x1="241.40" y1="521.20" x2="246.60" y2="521.20" stroke="#1a1a1a" stroke-width="1.0" />
<rect x="238.40" y="495.90" width="11.20" height="11.30" fill="#f3a98a" stroke="#1a1a1a" stroke-width="1.0"/>
<line x1="238.40" y1="498.20" x2="249.60" y2="498.20" stroke="#1a1a1a" stroke-width="1.0" />
<text x="248.50" y="662.00" font-size="12.5" textLength="22.50" lengthAdjust="spacingAndGlyphs" transform="rotate(-90 248.50 662.00)" stroke="#231f20" stroke-width="0.2">0.99</text>
<circle cx="257.79" cy="494.90" r="2.4" fill="#27286e" opacity="0.4"/>
<circle cx="253.04" cy="541.30" r="2.4" fill="#27286e" opacity="0.4"/>
<circle cx="253.90" cy="533.97" r="2.4" fill="#27286e" opacity="0.4"/>
<circle cx="257.56" cy="524.86" r="2.4" fill="#27286e" opacity="0.4"/>
<circle cx="253.47" cy="527.96" r="2.4" fill="#27286e" opacity="0.4"/>
<circle cx="257.39" cy="508.47" r="2.4" fill="#27286e" opacity="0.4"/>
<circle cx="255.85" cy="501.85" r="2.4" fill="#27286e" opacity="0.4"/>
<circle cx="253.61" cy="514.11" r="2.4" fill="#27286e" opacity="0.4"/>
<circle cx="253.02" cy="523.78" r="2.4" fill="#27286e" opacity="0.4"/>
<circle cx="254.70" cy="499.92" r="2.4" fill="#27286e" opacity="0.4"/>
<circle cx="253.09" cy="498.24" r="2.4" fill="#27286e" opacity="0.4"/>
<circle cx="256.51" cy="521.59" r="2.4" fill="#27286e" opacity="0.4"/>
<circle cx="253.47" cy="535.66" r="2.4" fill="#27286e" opacity="0.4"/>
<circle cx="254.37" cy="514.93" r="2.4" fill="#27286e" opacity="0.4"/>
<circle cx="255.60" cy="549.85" r="2.6" fill="#27286e" opacity="0.35"/>
<line x1="255.30" y1="494.90" x2="255.30" y2="501.50" stroke="#1a1a1a" stroke-width="1.0" />
<line x1="252.70" y1="494.90" x2="257.90" y2="494.90" stroke="#1a1a1a" stroke-width="1.0" />
<line x1="255.30" y1="518.40" x2="255.30" y2="541.30" stroke="#1a1a1a" stroke-width="1.0" />
<line x1="252.70" y1="541.30" x2="257.90" y2="541.30" stroke="#1a1a1a" stroke-width="1.0" />
<rect x="249.70" y="501.50" width="11.20" height="16.90" fill="#27286e" stroke="#1a1a1a" stroke-width="1.0"/>
<line x1="249.70" y1="504.10" x2="260.90" y2="504.10" stroke="#1a1a1a" stroke-width="1.0" />
<path d="M255.30,541.30L258.10,546.30L258.10,553.40L255.30,558.40L252.50,553.40L252.50,546.30Z" fill="#1a1a1a"/>
<text x="259.80" y="662.00" font-size="12.5" textLength="22.50" lengthAdjust="spacingAndGlyphs" transform="rotate(-90 259.80 662.00)" stroke="#231f20" stroke-width="0.2">0.98</text>
<circle cx="268.79" cy="500.30" r="2.4" fill="#e3c42b" opacity="0.4"/>
<circle cx="264.38" cy="523.90" r="2.4" fill="#e3c42b" opacity="0.4"/>
<circle cx="264.86" cy="516.76" r="2.4" fill="#e3c42b" opacity="0.4"/>
<circle cx="266.63" cy="515.20" r="2.4" fill="#e3c42b" opacity="0.4"/>
<circle cx="266.87" cy="521.79" r="2.4" fill="#e3c42b" opacity="0.4"/>
<circle cx="265.42" cy="514.95" r="2.4" fill="#e3c42b" opacity="0.4"/>
<circle cx="265.37" cy="513.32" r="2.4" fill="#e3c42b" opacity="0.4"/>
<circle cx="266.68" cy="518.01" r="2.4" fill="#e3c42b" opacity="0.4"/>
<circle cx="265.27" cy="503.46" r="2.4" fill="#e3c42b" opacity="0.4"/>
<circle cx="267.78" cy="509.06" r="2.4" fill="#e3c42b" opacity="0.4"/>
<circle cx="267.67" cy="504.53" r="2.4" fill="#e3c42b" opacity="0.4"/>
<circle cx="264.53" cy="515.76" r="2.4" fill="#e3c42b" opacity="0.4"/>
<circle cx="264.56" cy="516.06" r="2.4" fill="#e3c42b" opacity="0.4"/>
<circle cx="267.07" cy="503.25" r="2.4" fill="#e3c42b" opacity="0.4"/>
<circle cx="265.82" cy="546.40" r="2.6" fill="#e3c42b" opacity="0.35"/>
<line x1="266.60" y1="500.30" x2="266.60" y2="504.60" stroke="#1a1a1a" stroke-width="1.0" />
<line x1="264.00" y1="500.30" x2="269.20" y2="500.30" stroke="#1a1a1a" stroke-width="1.0" />
<line x1="266.60" y1="519.20" x2="266.60" y2="523.90" stroke="#1a1a1a" stroke-width="1.0" />
<line x1="264.00" y1="523.90" x2="269.20" y2="523.90" stroke="#1a1a1a" stroke-width="1.0" />
<rect x="261.00" y="504.60" width="11.20" height="14.60" fill="#e3c42b" stroke="#1a1a1a" stroke-width="1.0"/>
<line x1="261.00" y1="511.60" x2="272.20" y2="511.60" stroke="#1a1a1a" stroke-width="1.0" />
<path d="M266.60,540.50L269.40,545.50L269.40,547.30L266.60,552.30L263.80,547.30L263.80,545.50Z" fill="#1a1a1a"/>
<text x="271.10" y="662.00" font-size="12.5" textLength="22.50" lengthAdjust="spacingAndGlyphs" transform="rotate(-90 271.10 662.00)" stroke="#231f20" stroke-width="0.2">0.98</text>
<circle cx="277.80" cy="499.30" r="2.4" fill="#2f7e3c" opacity="0.4"/>
<circle cx="279.38" cy="536.40" r="2.4" fill="#2f7e3c" opacity="0.4"/>
<circle cx="279.03" cy="500.39" r="2.4" fill="#2f7e3c" opacity="0.4"/>
<circle cx="276.15" cy="501.29" r="2.4" fill="#2f7e3c" opacity="0.4"/>
<circle cx="278.81" cy="534.62" r="2.4" fill="#2f7e3c" opacity="0.4"/>
<circle cx="275.98" cy="507.58" r="2.4" fill="#2f7e3c" opacity="0.4"/>
<circle cx="278.73" cy="535.39" r="2.4" fill="#2f7e3c" opacity="0.4"/>
<circle cx="276.10" cy="529.74" r="2.4" fill="#2f7e3c" opacity="0.4"/>
<circle cx="277.17" cy="522.48" r="2.4" fill="#2f7e3c" opacity="0.4"/>
<circle cx="277.07" cy="508.02" r="2.4" fill="#2f7e3c" opacity="0.4"/>
<circle cx="277.14" cy="522.07" r="2.4" fill="#2f7e3c" opacity="0.4"/>
<circle cx="276.08" cy="513.61" r="2.4" fill="#2f7e3c" opacity="0.4"/>
<circle cx="278.64" cy="530.13" r="2.4" fill="#2f7e3c" opacity="0.4"/>
<circle cx="277.57" cy="529.15" r="2.4" fill="#2f7e3c" opacity="0.4"/>
<circle cx="278.95" cy="543.30" r="2.6" fill="#2f7e3c" opacity="0.35"/>
<line x1="277.90" y1="499.30" x2="277.90" y2="501.50" stroke="#1a1a1a" stroke-width="1.0" />
<line x1="275.30" y1="499.30" x2="280.50" y2="499.30" stroke="#1a1a1a" stroke-width="1.0" />
<line x1="277.90" y1="516.10" x2="277.90" y2="536.40" stroke="#1a1a1a" stroke-width="1.0" />
<line x1="275.30" y1="536.40" x2="280.50" y2="536.40" stroke="#1a1a1a" stroke-width="1.0" />
<rect x="272.30" y="501.50" width="11.20" height="14.60" fill="#2f7e3c" stroke="#1a1a1a" stroke-width="1.0"/>
<line x1="272.30" y1="505.10" x2="283.50" y2="505.10" stroke="#1a1a1a" stroke-width="1.0" />
<path d="M277.90,536.40L280.70,541.40L280.70,545.20L277.90,550.20L275.10,545.20L275.10,541.40Z" fill="#1a1a1a"/>
<text x="282.40" y="662.00" font-size="12.5" textLength="22.50" lengthAdjust="spacingAndGlyphs" transform="rotate(-90 282.40 662.00)" stroke="#231f20" stroke-width="0.2">0.98</text>
<circle cx="289.56" cy="493.30" r="2.4" fill="#ee86ba" opacity="0.4"/>
<circle cx="290.30" cy="518.70" r="2.4" fill="#ee86ba" opacity="0.4"/>
<circle cx="287.08" cy="503.35" r="2.4" fill="#ee86ba" opacity="0.4"/>
<circle cx="287.61" cy="494.14" r="2.4" fill="#ee86ba" opacity="0.4"/>
<circle cx="291.05" cy="494.30" r="2.4" fill="#ee86ba" opacity="0.4"/>
<circle cx="290.40" cy="505.52" r="2.4" fill="#ee86ba" opacity="0.4"/>
<circle cx="288.95" cy="493.31" r="2.4" fill="#ee86ba" opacity="0.4"/>
<circle cx="289.70" cy="515.90" r="2.4" fill="#ee86ba" opacity="0.4"/>
<circle cx="288.93" cy="504.19" r="2.4" fill="#ee86ba" opacity="0.4"/>
<circle cx="287.37" cy="495.83" r="2.4" fill="#ee86ba" opacity="0.4"/>
<circle cx="288.47" cy="497.34" r="2.4" fill="#ee86ba" opacity="0.4"/>
<circle cx="291.00" cy="503.10" r="2.4" fill="#ee86ba" opacity="0.4"/>
<circle cx="287.87" cy="497.16" r="2.4" fill="#ee86ba" opacity="0.4"/>
<circle cx="287.41" cy="500.35" r="2.4" fill="#ee86ba" opacity="0.4"/>
<line x1="289.10" y1="493.30" x2="289.10" y2="499.30" stroke="#1a1a1a" stroke-width="1.0" />
<line x1="286.50" y1="493.30" x2="291.70" y2="493.30" stroke="#1a1a1a" stroke-width="1.0" />
<line x1="289.10" y1="513.30" x2="289.10" y2="518.70" stroke="#1a1a1a" stroke-width="1.0" />
<line x1="286.50" y1="518.70" x2="291.70" y2="518.70" stroke="#1a1a1a" stroke-width="1.0" />
<rect x="283.50" y="499.30" width="11.20" height="14.00" fill="#ee86ba" stroke="#1a1a1a" stroke-width="1.0"/>
<line x1="283.50" y1="508.50" x2="294.70" y2="508.50" stroke="#1a1a1a" stroke-width="1.0" />
<text x="293.60" y="662.00" font-size="12.5" textLength="22.50" lengthAdjust="spacingAndGlyphs" transform="rotate(-90 293.60 662.00)" stroke="#231f20" stroke-width="0.2">0.98</text>
<circle cx="299.08" cy="493.10" r="2.4" fill="#6e2570" opacity="0.4"/>
<circle cx="298.06" cy="519.00" r="2.4" fill="#6e2570" opacity="0.4"/>
<circle cx="299.74" cy="517.05" r="2.4" fill="#6e2570" opacity="0.4"/>
<circle cx="301.34" cy="517.39" r="2.4" fill="#6e2570" opacity="0.4"/>
<circle cx="300.26" cy="510.55" r="2.4" fill="#6e2570" opacity="0.4"/>
<circle cx="298.49" cy="517.59" r="2.4" fill="#6e2570" opacity="0.4"/>
<circle cx="299.36" cy="510.42" r="2.4" fill="#6e2570" opacity="0.4"/>
<circle cx="301.55" cy="510.57" r="2.4" fill="#6e2570" opacity="0.4"/>
<circle cx="298.91" cy="497.33" r="2.4" fill="#6e2570" opacity="0.4"/>
<circle cx="299.05" cy="493.75" r="2.4" fill="#6e2570" opacity="0.4"/>
<circle cx="299.91" cy="495.13" r="2.4" fill="#6e2570" opacity="0.4"/>
<circle cx="299.72" cy="518.32" r="2.4" fill="#6e2570" opacity="0.4"/>
<circle cx="300.24" cy="501.18" r="2.4" fill="#6e2570" opacity="0.4"/>
<circle cx="301.56" cy="500.43" r="2.4" fill="#6e2570" opacity="0.4"/>
<line x1="300.40" y1="493.10" x2="300.40" y2="499.50" stroke="#1a1a1a" stroke-width="1.0" />
<line x1="297.80" y1="493.10" x2="303.00" y2="493.10" stroke="#1a1a1a" stroke-width="1.0" />
<line x1="300.40" y1="509.50" x2="300.40" y2="519.00" stroke="#1a1a1a" stroke-width="1.0" />
<line x1="297.80" y1="519.00" x2="303.00" y2="519.00" stroke="#1a1a1a" stroke-width="1.0" />
<rect x="294.80" y="499.50" width="11.20" height="10.00" fill="#6e2570" stroke="#1a1a1a" stroke-width="1.0"/>
<line x1="294.80" y1="503.80" x2="306.00" y2="503.80" stroke="#1a1a1a" stroke-width="1.0" />
<text x="304.90" y="662.00" font-size="12.5" textLength="22.50" lengthAdjust="spacingAndGlyphs" transform="rotate(-90 304.90 662.00)" stroke="#231f20" stroke-width="0.2">0.98</text>
<circle cx="310.02" cy="493.30" r="2.4" fill="#ee7659" opacity="0.4"/>
<circle cx="312.56" cy="534.30" r="2.4" fill="#ee7659" opacity="0.4"/>
<circle cx="312.43" cy="531.86" r="2.4" fill="#ee7659" opacity="0.4"/>
<circle cx="314.08" cy="510.96" r="2.4" fill="#ee7659" opacity="0.4"/>
<circle cx="309.50" cy="493.56" r="2.4" fill="#ee7659" opacity="0.4"/>
<circle cx="311.25" cy="525.25" r="2.4" fill="#ee7659" opacity="0.4"/>
<circle cx="311.94" cy="495.14" r="2.4" fill="#ee7659" opacity="0.4"/>
<circle cx="311.79" cy="533.87" r="2.4" fill="#ee7659" opacity="0.4"/>
<circle cx="309.67" cy="507.65" r="2.4" fill="#ee7659" opacity="0.4"/>
<circle cx="313.69" cy="496.22" r="2.4" fill="#ee7659" opacity="0.4"/>
<circle cx="313.88" cy="513.44" r="2.4" fill="#ee7659" opacity="0.4"/>
<circle cx="310.42" cy="495.50" r="2.4" fill="#ee7659" opacity="0.4"/>
<circle cx="311.19" cy="495.37" r="2.4" fill="#ee7659" opacity="0.4"/>
<circle cx="310.48" cy="495.77" r="2.4" fill="#ee7659" opacity="0.4"/>
<circle cx="311.42" cy="540.25" r="2.6" fill="#ee7659" opacity="0.35"/>
<line x1="311.70" y1="493.30" x2="311.70" y2="498.20" stroke="#1a1a1a" stroke-width="1.0" />
<line x1="309.10" y1="493.30" x2="314.30" y2="493.30" stroke="#1a1a1a" stroke-width="1.0" />
<line x1="311.70" y1="513.30" x2="311.70" y2="534.30" stroke="#1a1a1a" stroke-width="1.0" />
<line x1="309.10" y1="534.30" x2="314.30" y2="534.30" stroke="#1a1a1a" stroke-width="1.0" />
<rect x="306.10" y="498.20" width="11.20" height="15.10" fill="#ee7659" stroke="#1a1a1a" stroke-width="1.0"/>
<line x1="306.10" y1="505.10" x2="317.30" y2="505.10" stroke="#1a1a1a" stroke-width="1.0" />
<path d="M311.70,535.75L314.50,540.25L314.50,540.25L311.70,544.75L308.90,540.25L308.90,540.25Z" fill="#1a1a1a"/>
<text x="316.20" y="662.00" font-size="12.5" textLength="22.50" lengthAdjust="spacingAndGlyphs" transform="rotate(-90 316.20 662.00)" stroke="#231f20" stroke-width="0.2">0.98</text>
<circle cx="320.76" cy="508.20" r="2.4" fill="#58bb48" opacity="0.4"/>
<circle cx="325.36" cy="551.20" r="2.4" fill="#58bb48" opacity="0.4"/>
<circle cx="323.04" cy="515.91" r="2.4" fill="#58bb48" opacity="0.4"/>
<circle cx="323.16" cy="525.50" r="2.4" fill="#58bb48" opacity="0.4"/>
<circle cx="322.07" cy="511.83" r="2.4" fill="#58bb48" opacity="0.4"/>
<circle cx="323.21" cy="512.84" r="2.4" fill="#58bb48" opacity="0.4"/>
<circle cx="323.49" cy="547.82" r="2.4" fill="#58bb48" opacity="0.4"/>
<circle cx="321.57" cy="545.04" r="2.4" fill="#58bb48" opacity="0.4"/>
<circle cx="323.20" cy="508.95" r="2.4" fill="#58bb48" opacity="0.4"/>
<circle cx="323.36" cy="529.12" r="2.4" fill="#58bb48" opacity="0.4"/>
<circle cx="323.63" cy="524.40" r="2.4" fill="#58bb48" opacity="0.4"/>
<circle cx="325.06" cy="539.40" r="2.4" fill="#58bb48" opacity="0.4"/>
<circle cx="322.75" cy="521.43" r="2.4" fill="#58bb48" opacity="0.4"/>
<circle cx="321.62" cy="543.74" r="2.4" fill="#58bb48" opacity="0.4"/>
<line x1="323.00" y1="508.20" x2="323.00" y2="517.40" stroke="#1a1a1a" stroke-width="1.0" />
<line x1="320.40" y1="508.20" x2="325.60" y2="508.20" stroke="#1a1a1a" stroke-width="1.0" />
<line x1="323.00" y1="539.50" x2="323.00" y2="551.20" stroke="#1a1a1a" stroke-width="1.0" />
<line x1="320.40" y1="551.20" x2="325.60" y2="551.20" stroke="#1a1a1a" stroke-width="1.0" />
<rect x="317.40" y="517.40" width="11.20" height="22.10" fill="#58bb48" stroke="#1a1a1a" stroke-width="1.0"/>
<line x1="317.40" y1="520.00" x2="328.60" y2="520.00" stroke="#1a1a1a" stroke-width="1.0" />
<text x="327.50" y="662.00" font-size="12.5" textLength="22.50" lengthAdjust="spacingAndGlyphs" transform="rotate(-90 327.50 662.00)" stroke="#231f20" stroke-width="0.2">0.97</text>
<circle cx="333.26" cy="506.40" r="2.4" fill="#e23a92" opacity="0.4"/>
<circle cx="335.56" cy="523.60" r="2.4" fill="#e23a92" opacity="0.4"/>
<circle cx="333.26" cy="520.49" r="2.4" fill="#e23a92" opacity="0.4"/>
<circle cx="332.11" cy="508.63" r="2.4" fill="#e23a92" opacity="0.4"/>
<circle cx="332.12" cy="510.61" r="2.4" fill="#e23a92" opacity="0.4"/>
<circle cx="334.58" cy="513.77" r="2.4" fill="#e23a92" opacity="0.4"/>
<circle cx="332.01" cy="510.62" r="2.4" fill="#e23a92" opacity="0.4"/>
<circle cx="331.94" cy="518.45" r="2.4" fill="#e23a92" opacity="0.4"/>
<circle cx="333.13" cy="509.84" r="2.4" fill="#e23a92" opacity="0.4"/>
<circle cx="332.19" cy="512.83" r="2.4" fill="#e23a92" opacity="0.4"/>
<circle cx="333.27" cy="513.63" r="2.4" fill="#e23a92" opacity="0.4"/>
<circle cx="334.48" cy="519.34" r="2.4" fill="#e23a92" opacity="0.4"/>
<circle cx="334.97" cy="521.81" r="2.4" fill="#e23a92" opacity="0.4"/>
<circle cx="334.57" cy="519.47" r="2.4" fill="#e23a92" opacity="0.4"/>
<circle cx="334.03" cy="541.75" r="2.6" fill="#e23a92" opacity="0.35"/>
<line x1="334.20" y1="506.40" x2="334.20" y2="511.60" stroke="#1a1a1a" stroke-width="1.0" />
<line x1="331.60" y1="506.40" x2="336.80" y2="506.40" stroke="#1a1a1a" stroke-width="1.0" />
<line x1="334.20" y1="519.50" x2="334.20" y2="523.60" stroke="#1a1a1a" stroke-width="1.0" />
<line x1="331.60" y1="523.60" x2="336.80" y2="523.60" stroke="#1a1a1a" stroke-width="1.0" />
<rect x="328.60" y="511.60" width="11.20" height="7.90" fill="#e23a92" stroke="#1a1a1a" stroke-width="1.0"/>
<line x1="328.60" y1="515.40" x2="339.80" y2="515.40" stroke="#1a1a1a" stroke-width="1.0" />
<path d="M334.20,533.30L337.00,538.30L337.00,545.20L334.20,550.20L331.40,545.20L331.40,538.30Z" fill="#1a1a1a"/>
<text x="338.70" y="662.00" font-size="12.5" textLength="22.50" lengthAdjust="spacingAndGlyphs" transform="rotate(-90 338.70 662.00)" stroke="#231f20" stroke-width="0.2">0.97</text>
<circle cx="374.48" cy="517.20" r="2.4" fill="#1a7a7a" opacity="0.4"/>
<circle cx="374.84" cy="523.75" r="2.4" fill="#1a7a7a" opacity="0.4"/>
<circle cx="372.54" cy="521.79" r="2.4" fill="#1a7a7a" opacity="0.4"/>
<circle cx="373.11" cy="522.52" r="2.4" fill="#1a7a7a" opacity="0.4"/>
<circle cx="371.53" cy="518.05" r="2.4" fill="#1a7a7a" opacity="0.4"/>
<circle cx="372.51" cy="518.31" r="2.4" fill="#1a7a7a" opacity="0.4"/>
<circle cx="372.63" cy="521.63" r="2.4" fill="#1a7a7a" opacity="0.4"/>
<circle cx="375.02" cy="517.62" r="2.4" fill="#1a7a7a" opacity="0.4"/>
<circle cx="371.34" cy="520.85" r="2.4" fill="#1a7a7a" opacity="0.4"/>
<circle cx="371.85" cy="517.53" r="2.4" fill="#1a7a7a" opacity="0.4"/>
<circle cx="375.50" cy="519.54" r="2.4" fill="#1a7a7a" opacity="0.4"/>
<circle cx="374.26" cy="523.42" r="2.4" fill="#1a7a7a" opacity="0.4"/>
<circle cx="373.34" cy="518.71" r="2.4" fill="#1a7a7a" opacity="0.4"/>
<circle cx="372.85" cy="519.57" r="2.4" fill="#1a7a7a" opacity="0.4"/>
<line x1="373.70" y1="517.20" x2="373.70" y2="519.30" stroke="#1a1a1a" stroke-width="1.0" />
<line x1="371.10" y1="517.20" x2="376.30" y2="517.20" stroke="#1a1a1a" stroke-width="1.0" />
<line x1="373.70" y1="521.40" x2="373.70" y2="523.75" stroke="#1a1a1a" stroke-width="1.0" />
<line x1="371.10" y1="523.75" x2="376.30" y2="523.75" stroke="#1a1a1a" stroke-width="1.0" />
<rect x="368.10" y="519.30" width="11.20" height="2.10" fill="#1a7a7a" stroke="#1a1a1a" stroke-width="1.0"/>
<line x1="368.10" y1="520.30" x2="379.30" y2="520.30" stroke="#1a1a1a" stroke-width="1.0" />
<text x="378.20" y="662.00" font-size="12.5" textLength="22.50" lengthAdjust="spacingAndGlyphs" transform="rotate(-90 378.20 662.00)" stroke="#231f20" stroke-width="0.2">0.97</text>
<circle cx="385.32" cy="514.00" r="2.4" fill="#f3a98a" opacity="0.4"/>
<circle cx="386.03" cy="518.20" r="2.4" fill="#f3a98a" opacity="0.4"/>
<circle cx="385.05" cy="514.40" r="2.4" fill="#f3a98a" opacity="0.4"/>
<circle cx="385.95" cy="514.72" r="2.4" fill="#f3a98a" opacity="0.4"/>
<circle cx="387.09" cy="515.87" r="2.4" fill="#f3a98a" opacity="0.4"/>
<circle cx="382.99" cy="517.34" r="2.4" fill="#f3a98a" opacity="0.4"/>
<circle cx="386.97" cy="515.33" r="2.4" fill="#f3a98a" opacity="0.4"/>
<circle cx="384.57" cy="515.94" r="2.4" fill="#f3a98a" opacity="0.4"/>
<circle cx="386.24" cy="515.85" r="2.4" fill="#f3a98a" opacity="0.4"/>
<circle cx="385.06" cy="517.93" r="2.4" fill="#f3a98a" opacity="0.4"/>
<circle cx="385.38" cy="518.07" r="2.4" fill="#f3a98a" opacity="0.4"/>
<circle cx="386.47" cy="514.43" r="2.4" fill="#f3a98a" opacity="0.4"/>
<circle cx="382.66" cy="515.76" r="2.4" fill="#f3a98a" opacity="0.4"/>
<circle cx="382.56" cy="518.11" r="2.4" fill="#f3a98a" opacity="0.4"/>
<circle cx="385.13" cy="523.20" r="2.6" fill="#f3a98a" opacity="0.35"/>
<line x1="384.90" y1="514.00" x2="384.90" y2="515.60" stroke="#1a1a1a" stroke-width="1.0" />
<line x1="382.30" y1="514.00" x2="387.50" y2="514.00" stroke="#1a1a1a" stroke-width="1.0" />
<line x1="384.90" y1="517.50" x2="384.90" y2="518.20" stroke="#1a1a1a" stroke-width="1.0" />
<line x1="382.30" y1="518.20" x2="387.50" y2="518.20" stroke="#1a1a1a" stroke-width="1.0" />
<rect x="379.30" y="515.60" width="11.20" height="1.90" fill="#f3a98a" stroke="#1a1a1a" stroke-width="1.0"/>
<line x1="379.30" y1="516.50" x2="390.50" y2="516.50" stroke="#1a1a1a" stroke-width="1.0" />
<path d="M384.90,518.70L387.70,523.20L387.70,523.20L384.90,527.70L382.10,523.20L382.10,523.20Z" fill="#1a1a1a"/>
<text x="389.40" y="662.00" font-size="12.5" textLength="22.50" lengthAdjust="spacingAndGlyphs" transform="rotate(-90 389.40 662.00)" stroke="#231f20" stroke-width="0.2">0.97</text>
<circle cx="397.91" cy="545.30" r="2.4" fill="#27286e" opacity="0.4"/>
<circle cx="394.58" cy="555.20" r="2.4" fill="#27286e" opacity="0.4"/>
<circle cx="394.51" cy="548.04" r="2.4" fill="#27286e" opacity="0.4"/>
<circle cx="395.28" cy="550.87" r="2.4" fill="#27286e" opacity="0.4"/>
<circle cx="394.71" cy="552.74" r="2.4" fill="#27286e" opacity="0.4"/>
<circle cx="394.74" cy="548.78" r="2.4" fill="#27286e" opacity="0.4"/>
<circle cx="397.70" cy="555.03" r="2.4" fill="#27286e" opacity="0.4"/>
<circle cx="396.59" cy="553.71" r="2.4" fill="#27286e" opacity="0.4"/>
<circle cx="394.22" cy="549.27" r="2.4" fill="#27286e" opacity="0.4"/>
<circle cx="395.95" cy="553.53" r="2.4" fill="#27286e" opacity="0.4"/>
<circle cx="394.35" cy="545.67" r="2.4" fill="#27286e" opacity="0.4"/>
<circle cx="397.09" cy="546.28" r="2.4" fill="#27286e" opacity="0.4"/>
<circle cx="394.50" cy="554.21" r="2.4" fill="#27286e" opacity="0.4"/>
<circle cx="395.12" cy="553.19" r="2.4" fill="#27286e" opacity="0.4"/>
<line x1="396.00" y1="545.30" x2="396.00" y2="548.40" stroke="#1a1a1a" stroke-width="1.0" />
<line x1="393.40" y1="545.30" x2="398.60" y2="545.30" stroke="#1a1a1a" stroke-width="1.0" />
<line x1="396.00" y1="553.60" x2="396.00" y2="555.20" stroke="#1a1a1a" stroke-width="1.0" />
<line x1="393.40" y1="555.20" x2="398.60" y2="555.20" stroke="#1a1a1a" stroke-width="1.0" />
<rect x="390.40" y="548.40" width="11.20" height="5.20" fill="#27286e" stroke="#1a1a1a" stroke-width="1.0"/>
<line x1="390.40" y1="551.25" x2="401.60" y2="551.25" stroke="#1a1a1a" stroke-width="1.0" />
<text x="400.50" y="662.00" font-size="12.5" textLength="22.50" lengthAdjust="spacingAndGlyphs" transform="rotate(-90 400.50 662.00)" stroke="#231f20" stroke-width="0.2">0.94</text>
<circle cx="409.32" cy="546.90" r="2.4" fill="#e3c42b" opacity="0.4"/>
<circle cx="409.00" cy="554.20" r="2.4" fill="#e3c42b" opacity="0.4"/>
<circle cx="405.05" cy="549.65" r="2.4" fill="#e3c42b" opacity="0.4"/>
<circle cx="407.93" cy="550.64" r="2.4" fill="#e3c42b" opacity="0.4"/>
<circle cx="406.95" cy="548.25" r="2.4" fill="#e3c42b" opacity="0.4"/>
<circle cx="405.14" cy="549.22" r="2.4" fill="#e3c42b" opacity="0.4"/>
<circle cx="406.91" cy="549.18" r="2.4" fill="#e3c42b" opacity="0.4"/>
<circle cx="408.52" cy="550.38" r="2.4" fill="#e3c42b" opacity="0.4"/>
<circle cx="409.91" cy="549.81" r="2.4" fill="#e3c42b" opacity="0.4"/>
<circle cx="409.62" cy="552.85" r="2.4" fill="#e3c42b" opacity="0.4"/>
<circle cx="408.35" cy="551.96" r="2.4" fill="#e3c42b" opacity="0.4"/>
<circle cx="408.99" cy="550.82" r="2.4" fill="#e3c42b" opacity="0.4"/>
<circle cx="407.97" cy="549.55" r="2.4" fill="#e3c42b" opacity="0.4"/>
<circle cx="407.61" cy="551.86" r="2.4" fill="#e3c42b" opacity="0.4"/>
<line x1="407.50" y1="546.90" x2="407.50" y2="548.75" stroke="#1a1a1a" stroke-width="1.0" />
<line x1="404.90" y1="546.90" x2="410.10" y2="546.90" stroke="#1a1a1a" stroke-width="1.0" />
<line x1="407.50" y1="550.80" x2="407.50" y2="554.20" stroke="#1a1a1a" stroke-width="1.0" />
<line x1="404.90" y1="554.20" x2="410.10" y2="554.20" stroke="#1a1a1a" stroke-width="1.0" />
<rect x="401.90" y="548.75" width="11.20" height="2.05" fill="#e3c42b" stroke="#1a1a1a" stroke-width="1.0"/>
<line x1="401.90" y1="549.80" x2="413.10" y2="549.80" stroke="#1a1a1a" stroke-width="1.0" />
<text x="412.00" y="662.00" font-size="12.5" textLength="22.50" lengthAdjust="spacingAndGlyphs" transform="rotate(-90 412.00 662.00)" stroke="#231f20" stroke-width="0.2">0.94</text>
<circle cx="416.89" cy="551.25" r="2.4" fill="#2f7e3c" opacity="0.4"/>
<circle cx="418.28" cy="560.00" r="2.4" fill="#2f7e3c" opacity="0.4"/>
<circle cx="420.30" cy="556.33" r="2.4" fill="#2f7e3c" opacity="0.4"/>
<circle cx="418.03" cy="557.50" r="2.4" fill="#2f7e3c" opacity="0.4"/>
<circle cx="417.87" cy="559.38" r="2.4" fill="#2f7e3c" opacity="0.4"/>
<circle cx="416.86" cy="557.52" r="2.4" fill="#2f7e3c" opacity="0.4"/>
<circle cx="419.85" cy="557.84" r="2.4" fill="#2f7e3c" opacity="0.4"/>
<circle cx="420.99" cy="559.62" r="2.4" fill="#2f7e3c" opacity="0.4"/>
<circle cx="420.69" cy="557.27" r="2.4" fill="#2f7e3c" opacity="0.4"/>
<circle cx="419.55" cy="557.71" r="2.4" fill="#2f7e3c" opacity="0.4"/>
<circle cx="419.08" cy="553.08" r="2.4" fill="#2f7e3c" opacity="0.4"/>
<circle cx="417.70" cy="559.09" r="2.4" fill="#2f7e3c" opacity="0.4"/>
<circle cx="419.22" cy="559.78" r="2.4" fill="#2f7e3c" opacity="0.4"/>
<circle cx="416.51" cy="554.69" r="2.4" fill="#2f7e3c" opacity="0.4"/>
<line x1="419.00" y1="551.25" x2="419.00" y2="555.00" stroke="#1a1a1a" stroke-width="1.0" />
<line x1="416.40" y1="551.25" x2="421.60" y2="551.25" stroke="#1a1a1a" stroke-width="1.0" />
<line x1="419.00" y1="559.40" x2="419.00" y2="560.00" stroke="#1a1a1a" stroke-width="1.0" />
<line x1="416.40" y1="560.00" x2="421.60" y2="560.00" stroke="#1a1a1a" stroke-width="1.0" />
<rect x="413.40" y="555.00" width="11.20" height="4.40" fill="#2f7e3c" stroke="#1a1a1a" stroke-width="1.0"/>
<line x1="413.40" y1="558.90" x2="424.60" y2="558.90" stroke="#1a1a1a" stroke-width="1.0" />
<text x="423.50" y="662.00" font-size="12.5" textLength="22.50" lengthAdjust="spacingAndGlyphs" transform="rotate(-90 423.50 662.00)" stroke="#231f20" stroke-width="0.2">0.94</text>
<circle cx="428.59" cy="538.50" r="2.4" fill="#ee86ba" opacity="0.4"/>
<circle cx="432.20" cy="549.00" r="2.4" fill="#ee86ba" opacity="0.4"/>
<circle cx="430.77" cy="548.06" r="2.4" fill="#ee86ba" opacity="0.4"/>
<circle cx="428.24" cy="542.56" r="2.4" fill="#ee86ba" opacity="0.4"/>
<circle cx="430.47" cy="545.73" r="2.4" fill="#ee86ba" opacity="0.4"/>
<circle cx="429.57" cy="546.01" r="2.4" fill="#ee86ba" opacity="0.4"/>
<circle cx="428.76" cy="547.81" r="2.4" fill="#ee86ba" opacity="0.4"/>
<circle cx="429.04" cy="541.71" r="2.4" fill="#ee86ba" opacity="0.4"/>
<circle cx="432.19" cy="545.03" r="2.4" fill="#ee86ba" opacity="0.4"/>
<circle cx="430.86" cy="540.26" r="2.4" fill="#ee86ba" opacity="0.4"/>
<circle cx="428.82" cy="546.55" r="2.4" fill="#ee86ba" opacity="0.4"/>
<circle cx="430.53" cy="539.16" r="2.4" fill="#ee86ba" opacity="0.4"/>
<circle cx="432.09" cy="547.22" r="2.4" fill="#ee86ba" opacity="0.4"/>
<circle cx="429.78" cy="546.14" r="2.4" fill="#ee86ba" opacity="0.4"/>
<line x1="430.20" y1="538.50" x2="430.20" y2="540.10" stroke="#1a1a1a" stroke-width="1.0" />
<line x1="427.60" y1="538.50" x2="432.80" y2="538.50" stroke="#1a1a1a" stroke-width="1.0" />
<line x1="430.20" y1="545.80" x2="430.20" y2="549.00" stroke="#1a1a1a" stroke-width="1.0" />
<line x1="427.60" y1="549.00" x2="432.80" y2="549.00" stroke="#1a1a1a" stroke-width="1.0" />
<rect x="424.60" y="540.10" width="11.20" height="5.70" fill="#ee86ba" stroke="#1a1a1a" stroke-width="1.0"/>
<line x1="424.60" y1="542.90" x2="435.80" y2="542.90" stroke="#1a1a1a" stroke-width="1.0" />
<text x="434.70" y="662.00" font-size="12.5" textLength="22.50" lengthAdjust="spacingAndGlyphs" transform="rotate(-90 434.70 662.00)" stroke="#231f20" stroke-width="0.2">0.95</text>
<circle cx="441.34" cy="529.40" r="2.4" fill="#6e2570" opacity="0.4"/>
<circle cx="440.21" cy="537.00" r="2.4" fill="#6e2570" opacity="0.4"/>
<circle cx="441.73" cy="531.53" r="2.4" fill="#6e2570" opacity="0.4"/>
<circle cx="439.64" cy="536.75" r="2.4" fill="#6e2570" opacity="0.4"/>
<circle cx="439.28" cy="529.63" r="2.4" fill="#6e2570" opacity="0.4"/>
<circle cx="441.72" cy="533.68" r="2.4" fill="#6e2570" opacity="0.4"/>
<circle cx="439.65" cy="530.80" r="2.4" fill="#6e2570" opacity="0.4"/>
<circle cx="441.93" cy="533.92" r="2.4" fill="#6e2570" opacity="0.4"/>
<circle cx="442.34" cy="534.65" r="2.4" fill="#6e2570" opacity="0.4"/>
<circle cx="441.12" cy="529.87" r="2.4" fill="#6e2570" opacity="0.4"/>
<circle cx="443.49" cy="535.74" r="2.4" fill="#6e2570" opacity="0.4"/>
<circle cx="442.95" cy="531.82" r="2.4" fill="#6e2570" opacity="0.4"/>
<circle cx="443.33" cy="534.30" r="2.4" fill="#6e2570" opacity="0.4"/>
<circle cx="442.18" cy="531.14" r="2.4" fill="#6e2570" opacity="0.4"/>
<circle cx="442.22" cy="525.00" r="2.6" fill="#6e2570" opacity="0.35"/>
<line x1="441.20" y1="529.40" x2="441.20" y2="531.80" stroke="#1a1a1a" stroke-width="1.0" />
<line x1="438.60" y1="529.40" x2="443.80" y2="529.40" stroke="#1a1a1a" stroke-width="1.0" />
<line x1="441.20" y1="535.40" x2="441.20" y2="537.00" stroke="#1a1a1a" stroke-width="1.0" />
<line x1="438.60" y1="537.00" x2="443.80" y2="537.00" stroke="#1a1a1a" stroke-width="1.0" />
<rect x="435.60" y="531.80" width="11.20" height="3.60" fill="#6e2570" stroke="#1a1a1a" stroke-width="1.0"/>
<line x1="435.60" y1="533.50" x2="446.80" y2="533.50" stroke="#1a1a1a" stroke-width="1.0" />
<path d="M441.20,520.50L444.00,525.00L444.00,525.00L441.20,529.50L438.40,525.00L438.40,525.00Z" fill="#1a1a1a"/>
<text x="445.70" y="662.00" font-size="12.5" textLength="22.50" lengthAdjust="spacingAndGlyphs" transform="rotate(-90 445.70 662.00)" stroke="#231f20" stroke-width="0.2">0.96</text>
<circle cx="450.40" cy="546.40" r="2.4" fill="#ee7659" opacity="0.4"/>
<circle cx="450.68" cy="552.50" r="2.4" fill="#ee7659" opacity="0.4"/>
<circle cx="450.66" cy="546.97" r="2.4" fill="#ee7659" opacity="0.4"/>
<circle cx="450.42" cy="550.16" r="2.4" fill="#ee7659" opacity="0.4"/>
<circle cx="453.58" cy="551.02" r="2.4" fill="#ee7659" opacity="0.4"/>
<circle cx="453.92" cy="551.38" r="2.4" fill="#ee7659" opacity="0.4"/>
<circle cx="454.52" cy="550.75" r="2.4" fill="#ee7659" opacity="0.4"/>
<circle cx="453.03" cy="552.24" r="2.4" fill="#ee7659" opacity="0.4"/>
<circle cx="450.42" cy="552.29" r="2.4" fill="#ee7659" opacity="0.4"/>
<circle cx="450.22" cy="547.03" r="2.4" fill="#ee7659" opacity="0.4"/>
<circle cx="451.77" cy="547.66" r="2.4" fill="#ee7659" opacity="0.4"/>
<circle cx="453.30" cy="549.20" r="2.4" fill="#ee7659" opacity="0.4"/>
<circle cx="450.32" cy="550.93" r="2.4" fill="#ee7659" opacity="0.4"/>
<circle cx="452.62" cy="548.86" r="2.4" fill="#ee7659" opacity="0.4"/>
<circle cx="452.03" cy="558.30" r="2.6" fill="#ee7659" opacity="0.35"/>
<line x1="452.40" y1="546.40" x2="452.40" y2="549.00" stroke="#1a1a1a" stroke-width="1.0" />
<line x1="449.80" y1="546.40" x2="455.00" y2="546.40" stroke="#1a1a1a" stroke-width="1.0" />
<line x1="452.40" y1="551.60" x2="452.40" y2="552.50" stroke="#1a1a1a" stroke-width="1.0" />
<line x1="449.80" y1="552.50" x2="455.00" y2="552.50" stroke="#1a1a1a" stroke-width="1.0" />
<rect x="446.80" y="549.00" width="11.20" height="2.60" fill="#ee7659" stroke="#1a1a1a" stroke-width="1.0"/>
<line x1="446.80" y1="550.30" x2="458.00" y2="550.30" stroke="#1a1a1a" stroke-width="1.0" />
<path d="M452.40,553.10L455.20,558.10L455.20,558.50L452.40,563.50L449.60,558.50L449.60,558.10Z" fill="#1a1a1a"/>
<text x="456.90" y="662.00" font-size="12.5" textLength="22.50" lengthAdjust="spacingAndGlyphs" transform="rotate(-90 456.90 662.00)" stroke="#231f20" stroke-width="0.2">0.94</text>
<circle cx="464.39" cy="584.50" r="2.4" fill="#58bb48" opacity="0.4"/>
<circle cx="464.82" cy="592.50" r="2.4" fill="#58bb48" opacity="0.4"/>
<circle cx="466.21" cy="588.46" r="2.4" fill="#58bb48" opacity="0.4"/>
<circle cx="461.76" cy="592.06" r="2.4" fill="#58bb48" opacity="0.4"/>
<circle cx="465.01" cy="590.58" r="2.4" fill="#58bb48" opacity="0.4"/>
<circle cx="461.98" cy="586.87" r="2.4" fill="#58bb48" opacity="0.4"/>
<circle cx="463.17" cy="588.33" r="2.4" fill="#58bb48" opacity="0.4"/>
<circle cx="465.99" cy="590.40" r="2.4" fill="#58bb48" opacity="0.4"/>
<circle cx="462.85" cy="587.56" r="2.4" fill="#58bb48" opacity="0.4"/>
<circle cx="464.88" cy="588.49" r="2.4" fill="#58bb48" opacity="0.4"/>
<circle cx="464.28" cy="590.81" r="2.4" fill="#58bb48" opacity="0.4"/>
<circle cx="463.08" cy="586.87" r="2.4" fill="#58bb48" opacity="0.4"/>
<circle cx="464.00" cy="591.28" r="2.4" fill="#58bb48" opacity="0.4"/>
<circle cx="463.50" cy="584.90" r="2.4" fill="#58bb48" opacity="0.4"/>
<line x1="463.90" y1="584.50" x2="463.90" y2="586.50" stroke="#1a1a1a" stroke-width="1.0" />
<line x1="461.30" y1="584.50" x2="466.50" y2="584.50" stroke="#1a1a1a" stroke-width="1.0" />
<line x1="463.90" y1="591.50" x2="463.90" y2="592.50" stroke="#1a1a1a" stroke-width="1.0" />
<line x1="461.30" y1="592.50" x2="466.50" y2="592.50" stroke="#1a1a1a" stroke-width="1.0" />
<rect x="458.30" y="586.50" width="11.20" height="5.00" fill="#58bb48" stroke="#1a1a1a" stroke-width="1.0"/>
<line x1="458.30" y1="591.00" x2="469.50" y2="591.00" stroke="#1a1a1a" stroke-width="1.0" />
<text x="468.40" y="662.00" font-size="12.5" textLength="22.50" lengthAdjust="spacingAndGlyphs" transform="rotate(-90 468.40 662.00)" stroke="#231f20" stroke-width="0.2">0.91</text>
<circle cx="475.83" cy="574.50" r="2.4" fill="#e23a92" opacity="0.4"/>
<circle cx="473.86" cy="591.10" r="2.4" fill="#e23a92" opacity="0.4"/>
<circle cx="474.89" cy="576.09" r="2.4" fill="#e23a92" opacity="0.4"/>
<circle cx="475.21" cy="590.85" r="2.4" fill="#e23a92" opacity="0.4"/>
<circle cx="477.17" cy="580.91" r="2.4" fill="#e23a92" opacity="0.4"/>
<circle cx="474.28" cy="576.02" r="2.4" fill="#e23a92" opacity="0.4"/>
<circle cx="472.53" cy="587.96" r="2.4" fill="#e23a92" opacity="0.4"/>
<circle cx="474.31" cy="587.21" r="2.4" fill="#e23a92" opacity="0.4"/>
<circle cx="473.75" cy="574.77" r="2.4" fill="#e23a92" opacity="0.4"/>
<circle cx="474.41" cy="582.11" r="2.4" fill="#e23a92" opacity="0.4"/>
<circle cx="472.77" cy="583.08" r="2.4" fill="#e23a92" opacity="0.4"/>
<circle cx="477.37" cy="578.13" r="2.4" fill="#e23a92" opacity="0.4"/>
<circle cx="474.86" cy="581.85" r="2.4" fill="#e23a92" opacity="0.4"/>
<circle cx="473.90" cy="575.92" r="2.4" fill="#e23a92" opacity="0.4"/>
<line x1="475.00" y1="574.50" x2="475.00" y2="579.70" stroke="#1a1a1a" stroke-width="1.0" />
<line x1="472.40" y1="574.50" x2="477.60" y2="574.50" stroke="#1a1a1a" stroke-width="1.0" />
<line x1="475.00" y1="585.40" x2="475.00" y2="591.10" stroke="#1a1a1a" stroke-width="1.0" />
<line x1="472.40" y1="591.10" x2="477.60" y2="591.10" stroke="#1a1a1a" stroke-width="1.0" />
<rect x="469.40" y="579.70" width="11.20" height="5.70" fill="#e23a92" stroke="#1a1a1a" stroke-width="1.0"/>
<line x1="469.40" y1="582.30" x2="480.60" y2="582.30" stroke="#1a1a1a" stroke-width="1.0" />
<text x="479.50" y="662.00" font-size="12.5" textLength="22.50" lengthAdjust="spacingAndGlyphs" transform="rotate(-90 479.50 662.00)" stroke="#231f20" stroke-width="0.2">0.92</text>
<circle cx="515.34" cy="511.50" r="2.4" fill="#1a7a7a" opacity="0.4"/>
<circle cx="512.16" cy="516.00" r="2.4" fill="#1a7a7a" opacity="0.4"/>
<circle cx="515.79" cy="513.27" r="2.4" fill="#1a7a7a" opacity="0.4"/>
<circle cx="514.87" cy="513.46" r="2.4" fill="#1a7a7a" opacity="0.4"/>
<circle cx="515.13" cy="515.56" r="2.4" fill="#1a7a7a" opacity="0.4"/>
<circle cx="512.08" cy="514.36" r="2.4" fill="#1a7a7a" opacity="0.4"/>
<circle cx="515.75" cy="511.61" r="2.4" fill="#1a7a7a" opacity="0.4"/>
<circle cx="516.27" cy="513.36" r="2.4" fill="#1a7a7a" opacity="0.4"/>
<circle cx="516.48" cy="515.22" r="2.4" fill="#1a7a7a" opacity="0.4"/>
<circle cx="516.90" cy="513.20" r="2.4" fill="#1a7a7a" opacity="0.4"/>
<circle cx="516.36" cy="514.90" r="2.4" fill="#1a7a7a" opacity="0.4"/>
<circle cx="515.80" cy="512.17" r="2.4" fill="#1a7a7a" opacity="0.4"/>
<circle cx="516.76" cy="513.40" r="2.4" fill="#1a7a7a" opacity="0.4"/>
<circle cx="512.98" cy="515.97" r="2.4" fill="#1a7a7a" opacity="0.4"/>
<line x1="514.40" y1="511.50" x2="514.40" y2="512.50" stroke="#1a1a1a" stroke-width="1.0" />
<line x1="511.80" y1="511.50" x2="517.00" y2="511.50" stroke="#1a1a1a" stroke-width="1.0" />
<line x1="514.40" y1="515.25" x2="514.40" y2="516.00" stroke="#1a1a1a" stroke-width="1.0" />
<line x1="511.80" y1="516.00" x2="517.00" y2="516.00" stroke="#1a1a1a" stroke-width="1.0" />
<rect x="508.80" y="512.50" width="11.20" height="2.75" fill="#1a7a7a" stroke="#1a1a1a" stroke-width="1.0"/>
<line x1="508.80" y1="514.00" x2="520.00" y2="514.00" stroke="#1a1a1a" stroke-width="1.0" />
<text x="518.90" y="662.00" font-size="12.5" textLength="22.50" lengthAdjust="spacingAndGlyphs" transform="rotate(-90 518.90 662.00)" stroke="#231f20" stroke-width="0.2">0.98</text>
<circle cx="524.75" cy="535.60" r="2.4" fill="#f3a98a" opacity="0.4"/>
<circle cx="524.83" cy="543.75" r="2.4" fill="#f3a98a" opacity="0.4"/>
<circle cx="524.02" cy="541.03" r="2.4" fill="#f3a98a" opacity="0.4"/>
<circle cx="525.69" cy="536.98" r="2.4" fill="#f3a98a" opacity="0.4"/>
<circle cx="525.31" cy="536.20" r="2.4" fill="#f3a98a" opacity="0.4"/>
<circle cx="527.83" cy="542.91" r="2.4" fill="#f3a98a" opacity="0.4"/>
<circle cx="523.49" cy="537.20" r="2.4" fill="#f3a98a" opacity="0.4"/>
<circle cx="528.20" cy="542.35" r="2.4" fill="#f3a98a" opacity="0.4"/>
<circle cx="524.08" cy="540.48" r="2.4" fill="#f3a98a" opacity="0.4"/>
<circle cx="528.00" cy="537.53" r="2.4" fill="#f3a98a" opacity="0.4"/>
<circle cx="523.56" cy="543.24" r="2.4" fill="#f3a98a" opacity="0.4"/>
<circle cx="525.55" cy="537.11" r="2.4" fill="#f3a98a" opacity="0.4"/>
<circle cx="527.17" cy="537.77" r="2.4" fill="#f3a98a" opacity="0.4"/>
<circle cx="527.28" cy="538.64" r="2.4" fill="#f3a98a" opacity="0.4"/>
<line x1="525.90" y1="535.60" x2="525.90" y2="539.40" stroke="#1a1a1a" stroke-width="1.0" />
<line x1="523.30" y1="535.60" x2="528.50" y2="535.60" stroke="#1a1a1a" stroke-width="1.0" />
<line x1="525.90" y1="542.50" x2="525.90" y2="543.75" stroke="#1a1a1a" stroke-width="1.0" />
<line x1="523.30" y1="543.75" x2="528.50" y2="543.75" stroke="#1a1a1a" stroke-width="1.0" />
<rect x="520.30" y="539.40" width="11.20" height="3.10" fill="#f3a98a" stroke="#1a1a1a" stroke-width="1.0"/>
<line x1="520.30" y1="541.00" x2="531.50" y2="541.00" stroke="#1a1a1a" stroke-width="1.0" />
<text x="530.40" y="662.00" font-size="12.5" textLength="22.50" lengthAdjust="spacingAndGlyphs" transform="rotate(-90 530.40 662.00)" stroke="#231f20" stroke-width="0.2">0.95</text>
<circle cx="537.19" cy="549.40" r="2.4" fill="#27286e" opacity="0.4"/>
<circle cx="538.11" cy="561.25" r="2.4" fill="#27286e" opacity="0.4"/>
<circle cx="535.15" cy="550.47" r="2.4" fill="#27286e" opacity="0.4"/>
<circle cx="536.47" cy="557.03" r="2.4" fill="#27286e" opacity="0.4"/>
<circle cx="536.99" cy="553.77" r="2.4" fill="#27286e" opacity="0.4"/>
<circle cx="539.43" cy="556.29" r="2.4" fill="#27286e" opacity="0.4"/>
<circle cx="537.44" cy="552.25" r="2.4" fill="#27286e" opacity="0.4"/>
<circle cx="537.33" cy="552.52" r="2.4" fill="#27286e" opacity="0.4"/>
<circle cx="535.27" cy="558.07" r="2.4" fill="#27286e" opacity="0.4"/>
<circle cx="538.13" cy="555.10" r="2.4" fill="#27286e" opacity="0.4"/>
<circle cx="538.46" cy="549.50" r="2.4" fill="#27286e" opacity="0.4"/>
<circle cx="537.12" cy="554.36" r="2.4" fill="#27286e" opacity="0.4"/>
<circle cx="538.56" cy="556.63" r="2.4" fill="#27286e" opacity="0.4"/>
<circle cx="537.10" cy="550.06" r="2.4" fill="#27286e" opacity="0.4"/>
<line x1="537.10" y1="549.40" x2="537.10" y2="551.25" stroke="#1a1a1a" stroke-width="1.0" />
<line x1="534.50" y1="549.40" x2="539.70" y2="549.40" stroke="#1a1a1a" stroke-width="1.0" />
<line x1="537.10" y1="557.50" x2="537.10" y2="561.25" stroke="#1a1a1a" stroke-width="1.0" />
<line x1="534.50" y1="561.25" x2="539.70" y2="561.25" stroke="#1a1a1a" stroke-width="1.0" />
<rect x="531.50" y="551.25" width="11.20" height="6.25" fill="#27286e" stroke="#1a1a1a" stroke-width="1.0"/>
<line x1="531.50" y1="554.00" x2="542.70" y2="554.00" stroke="#1a1a1a" stroke-width="1.0" />
<text x="541.60" y="662.00" font-size="12.5" textLength="22.50" lengthAdjust="spacingAndGlyphs" transform="rotate(-90 541.60 662.00)" stroke="#231f20" stroke-width="0.2">0.94</text>
<circle cx="547.53" cy="569.40" r="2.4" fill="#e3c42b" opacity="0.4"/>
<circle cx="545.71" cy="578.50" r="2.4" fill="#e3c42b" opacity="0.4"/>
<circle cx="547.85" cy="572.11" r="2.4" fill="#e3c42b" opacity="0.4"/>
<circle cx="550.22" cy="575.36" r="2.4" fill="#e3c42b" opacity="0.4"/>
<circle cx="548.25" cy="572.77" r="2.4" fill="#e3c42b" opacity="0.4"/>
<circle cx="550.29" cy="575.89" r="2.4" fill="#e3c42b" opacity="0.4"/>
<circle cx="550.54" cy="578.04" r="2.4" fill="#e3c42b" opacity="0.4"/>
<circle cx="546.43" cy="572.15" r="2.4" fill="#e3c42b" opacity="0.4"/>
<circle cx="545.99" cy="577.88" r="2.4" fill="#e3c42b" opacity="0.4"/>
<circle cx="549.28" cy="573.48" r="2.4" fill="#e3c42b" opacity="0.4"/>
<circle cx="547.54" cy="574.21" r="2.4" fill="#e3c42b" opacity="0.4"/>
<circle cx="547.10" cy="577.81" r="2.4" fill="#e3c42b" opacity="0.4"/>
<circle cx="549.75" cy="574.42" r="2.4" fill="#e3c42b" opacity="0.4"/>
<circle cx="547.35" cy="570.66" r="2.4" fill="#e3c42b" opacity="0.4"/>
<line x1="548.10" y1="569.40" x2="548.10" y2="571.90" stroke="#1a1a1a" stroke-width="1.0" />
<line x1="545.50" y1="569.40" x2="550.70" y2="569.40" stroke="#1a1a1a" stroke-width="1.0" />
<line x1="548.10" y1="575.90" x2="548.10" y2="578.50" stroke="#1a1a1a" stroke-width="1.0" />
<line x1="545.50" y1="578.50" x2="550.70" y2="578.50" stroke="#1a1a1a" stroke-width="1.0" />
<rect x="542.50" y="571.90" width="11.20" height="4.00" fill="#e3c42b" stroke="#1a1a1a" stroke-width="1.0"/>
<line x1="542.50" y1="574.00" x2="553.70" y2="574.00" stroke="#1a1a1a" stroke-width="1.0" />
<text x="552.60" y="662.00" font-size="12.5" textLength="22.50" lengthAdjust="spacingAndGlyphs" transform="rotate(-90 552.60 662.00)" stroke="#231f20" stroke-width="0.2">0.92</text>
<circle cx="559.93" cy="578.00" r="2.4" fill="#2f7e3c" opacity="0.4"/>
<circle cx="559.37" cy="579.00" r="2.4" fill="#2f7e3c" opacity="0.4"/>
<circle cx="557.54" cy="578.06" r="2.4" fill="#2f7e3c" opacity="0.4"/>
<circle cx="557.82" cy="578.34" r="2.4" fill="#2f7e3c" opacity="0.4"/>
<circle cx="558.42" cy="578.97" r="2.4" fill="#2f7e3c" opacity="0.4"/>
<circle cx="561.02" cy="578.28" r="2.4" fill="#2f7e3c" opacity="0.4"/>
<circle cx="558.41" cy="578.74" r="2.4" fill="#2f7e3c" opacity="0.4"/>
<circle cx="560.23" cy="578.83" r="2.4" fill="#2f7e3c" opacity="0.4"/>
<circle cx="560.24" cy="578.39" r="2.4" fill="#2f7e3c" opacity="0.4"/>
<circle cx="558.42" cy="578.25" r="2.4" fill="#2f7e3c" opacity="0.4"/>
<circle cx="559.29" cy="578.88" r="2.4" fill="#2f7e3c" opacity="0.4"/>
<circle cx="557.98" cy="578.90" r="2.4" fill="#2f7e3c" opacity="0.4"/>
<circle cx="557.36" cy="578.14" r="2.4" fill="#2f7e3c" opacity="0.4"/>
<circle cx="559.91" cy="578.74" r="2.4" fill="#2f7e3c" opacity="0.4"/>
<circle cx="558.13" cy="574.05" r="2.6" fill="#2f7e3c" opacity="0.35"/>
<circle cx="558.23" cy="588.75" r="2.6" fill="#2f7e3c" opacity="0.35"/>
<rect x="554.00" y="577.30" width="11.20" height="2.40" fill="#1a1a1a"/>
<rect x="555.00" y="578.00" width="9.20" height="1.00" fill="#2f7e3c"/>
<path d="M559.60,569.55L562.40,574.05L562.40,574.05L559.60,578.55L556.80,574.05L556.80,574.05Z" fill="#1a1a1a"/>
<path d="M559.60,584.25L562.40,588.75L562.40,588.75L559.60,593.25L556.80,588.75L556.80,588.75Z" fill="#1a1a1a"/>
<text x="564.10" y="662.00" font-size="12.5" textLength="22.50" lengthAdjust="spacingAndGlyphs" transform="rotate(-90 564.10 662.00)" stroke="#231f20" stroke-width="0.2">0.92</text>
<circle cx="570.57" cy="577.50" r="2.4" fill="#ee86ba" opacity="0.4"/>
<circle cx="568.30" cy="587.50" r="2.4" fill="#ee86ba" opacity="0.4"/>
<circle cx="568.69" cy="583.39" r="2.4" fill="#ee86ba" opacity="0.4"/>
<circle cx="571.16" cy="584.71" r="2.4" fill="#ee86ba" opacity="0.4"/>
<circle cx="569.21" cy="583.62" r="2.4" fill="#ee86ba" opacity="0.4"/>
<circle cx="568.66" cy="586.99" r="2.4" fill="#ee86ba" opacity="0.4"/>
<circle cx="571.52" cy="578.14" r="2.4" fill="#ee86ba" opacity="0.4"/>
<circle cx="568.43" cy="578.43" r="2.4" fill="#ee86ba" opacity="0.4"/>
<circle cx="571.34" cy="582.10" r="2.4" fill="#ee86ba" opacity="0.4"/>
<circle cx="571.70" cy="586.42" r="2.4" fill="#ee86ba" opacity="0.4"/>
<circle cx="571.32" cy="578.19" r="2.4" fill="#ee86ba" opacity="0.4"/>
<circle cx="568.70" cy="585.94" r="2.4" fill="#ee86ba" opacity="0.4"/>
<circle cx="569.39" cy="585.04" r="2.4" fill="#ee86ba" opacity="0.4"/>
<circle cx="568.11" cy="580.49" r="2.4" fill="#ee86ba" opacity="0.4"/>
<circle cx="571.37" cy="599.35" r="2.6" fill="#ee86ba" opacity="0.35"/>
<line x1="570.60" y1="577.50" x2="570.60" y2="581.90" stroke="#1a1a1a" stroke-width="1.0" />
<line x1="568.00" y1="577.50" x2="573.20" y2="577.50" stroke="#1a1a1a" stroke-width="1.0" />
<line x1="570.60" y1="586.25" x2="570.60" y2="587.50" stroke="#1a1a1a" stroke-width="1.0" />
<line x1="568.00" y1="587.50" x2="573.20" y2="587.50" stroke="#1a1a1a" stroke-width="1.0" />
<rect x="565.00" y="581.90" width="11.20" height="4.35" fill="#ee86ba" stroke="#1a1a1a" stroke-width="1.0"/>
<line x1="565.00" y1="584.00" x2="576.20" y2="584.00" stroke="#1a1a1a" stroke-width="1.0" />
<path d="M570.60,594.85L573.40,599.35L573.40,599.35L570.60,603.85L567.80,599.35L567.80,599.35Z" fill="#1a1a1a"/>
<text x="575.10" y="662.00" font-size="12.5" textLength="22.50" lengthAdjust="spacingAndGlyphs" transform="rotate(-90 575.10 662.00)" stroke="#231f20" stroke-width="0.2">0.91</text>
<circle cx="583.91" cy="571.50" r="2.4" fill="#6e2570" opacity="0.4"/>
<circle cx="580.18" cy="593.50" r="2.4" fill="#6e2570" opacity="0.4"/>
<circle cx="580.72" cy="576.26" r="2.4" fill="#6e2570" opacity="0.4"/>
<circle cx="580.43" cy="592.33" r="2.4" fill="#6e2570" opacity="0.4"/>
<circle cx="581.16" cy="573.44" r="2.4" fill="#6e2570" opacity="0.4"/>
<circle cx="581.53" cy="573.24" r="2.4" fill="#6e2570" opacity="0.4"/>
<circle cx="582.65" cy="585.18" r="2.4" fill="#6e2570" opacity="0.4"/>
<circle cx="580.09" cy="575.35" r="2.4" fill="#6e2570" opacity="0.4"/>
<circle cx="582.84" cy="582.31" r="2.4" fill="#6e2570" opacity="0.4"/>
<circle cx="582.27" cy="581.34" r="2.4" fill="#6e2570" opacity="0.4"/>
<circle cx="580.13" cy="591.57" r="2.4" fill="#6e2570" opacity="0.4"/>
<circle cx="581.87" cy="577.39" r="2.4" fill="#6e2570" opacity="0.4"/>
<circle cx="583.90" cy="583.29" r="2.4" fill="#6e2570" opacity="0.4"/>
<circle cx="582.71" cy="583.72" r="2.4" fill="#6e2570" opacity="0.4"/>
<line x1="581.90" y1="571.50" x2="581.90" y2="582.25" stroke="#1a1a1a" stroke-width="1.0" />
<line x1="579.30" y1="571.50" x2="584.50" y2="571.50" stroke="#1a1a1a" stroke-width="1.0" />
<line x1="581.90" y1="592.50" x2="581.90" y2="593.50" stroke="#1a1a1a" stroke-width="1.0" />
<line x1="579.30" y1="593.50" x2="584.50" y2="593.50" stroke="#1a1a1a" stroke-width="1.0" />
<rect x="576.30" y="582.25" width="11.20" height="10.25" fill="#6e2570" stroke="#1a1a1a" stroke-width="1.0"/>
<line x1="576.30" y1="590.00" x2="587.50" y2="590.00" stroke="#1a1a1a" stroke-width="1.0" />
<text x="586.40" y="662.00" font-size="12.5" textLength="22.50" lengthAdjust="spacingAndGlyphs" transform="rotate(-90 586.40 662.00)" stroke="#231f20" stroke-width="0.2">0.91</text>
<circle cx="594.92" cy="602.50" r="2.4" fill="#ee7659" opacity="0.4"/>
<circle cx="592.47" cy="610.60" r="2.4" fill="#ee7659" opacity="0.4"/>
<circle cx="592.30" cy="603.37" r="2.4" fill="#ee7659" opacity="0.4"/>
<circle cx="595.45" cy="605.40" r="2.4" fill="#ee7659" opacity="0.4"/>
<circle cx="594.15" cy="604.64" r="2.4" fill="#ee7659" opacity="0.4"/>
<circle cx="595.78" cy="607.69" r="2.4" fill="#ee7659" opacity="0.4"/>
<circle cx="594.85" cy="603.44" r="2.4" fill="#ee7659" opacity="0.4"/>
<circle cx="591.51" cy="605.22" r="2.4" fill="#ee7659" opacity="0.4"/>
<circle cx="595.22" cy="607.62" r="2.4" fill="#ee7659" opacity="0.4"/>
<circle cx="591.25" cy="607.22" r="2.4" fill="#ee7659" opacity="0.4"/>
<circle cx="592.92" cy="610.37" r="2.4" fill="#ee7659" opacity="0.4"/>
<circle cx="594.62" cy="607.65" r="2.4" fill="#ee7659" opacity="0.4"/>
<circle cx="593.04" cy="604.61" r="2.4" fill="#ee7659" opacity="0.4"/>
<circle cx="591.48" cy="605.17" r="2.4" fill="#ee7659" opacity="0.4"/>
<line x1="593.50" y1="602.50" x2="593.50" y2="605.00" stroke="#1a1a1a" stroke-width="1.0" />
<line x1="590.90" y1="602.50" x2="596.10" y2="602.50" stroke="#1a1a1a" stroke-width="1.0" />
<line x1="593.50" y1="608.10" x2="593.50" y2="610.60" stroke="#1a1a1a" stroke-width="1.0" />
<line x1="590.90" y1="610.60" x2="596.10" y2="610.60" stroke="#1a1a1a" stroke-width="1.0" />
<rect x="587.90" y="605.00" width="11.20" height="3.10" fill="#ee7659" stroke="#1a1a1a" stroke-width="1.0"/>
<line x1="587.90" y1="606.50" x2="599.10" y2="606.50" stroke="#1a1a1a" stroke-width="1.0" />
<text x="598.00" y="662.00" font-size="12.5" textLength="22.50" lengthAdjust="spacingAndGlyphs" transform="rotate(-90 598.00 662.00)" stroke="#231f20" stroke-width="0.2">0.89</text>
<circle cx="605.83" cy="612.25" r="2.4" fill="#58bb48" opacity="0.4"/>
<circle cx="606.60" cy="631.25" r="2.4" fill="#58bb48" opacity="0.4"/>
<circle cx="603.76" cy="613.44" r="2.4" fill="#58bb48" opacity="0.4"/>
<circle cx="606.97" cy="615.67" r="2.4" fill="#58bb48" opacity="0.4"/>
<circle cx="606.73" cy="627.27" r="2.4" fill="#58bb48" opacity="0.4"/>
<circle cx="602.77" cy="621.87" r="2.4" fill="#58bb48" opacity="0.4"/>
<circle cx="603.38" cy="620.16" r="2.4" fill="#58bb48" opacity="0.4"/>
<circle cx="605.07" cy="612.76" r="2.4" fill="#58bb48" opacity="0.4"/>
<circle cx="602.79" cy="617.76" r="2.4" fill="#58bb48" opacity="0.4"/>
<circle cx="606.92" cy="621.97" r="2.4" fill="#58bb48" opacity="0.4"/>
<circle cx="604.58" cy="630.22" r="2.4" fill="#58bb48" opacity="0.4"/>
<circle cx="606.09" cy="614.20" r="2.4" fill="#58bb48" opacity="0.4"/>
<circle cx="604.94" cy="614.43" r="2.4" fill="#58bb48" opacity="0.4"/>
<circle cx="607.19" cy="613.84" r="2.4" fill="#58bb48" opacity="0.4"/>
<line x1="604.75" y1="612.25" x2="604.75" y2="617.50" stroke="#1a1a1a" stroke-width="1.0" />
<line x1="602.15" y1="612.25" x2="607.35" y2="612.25" stroke="#1a1a1a" stroke-width="1.0" />
<line x1="604.75" y1="625.00" x2="604.75" y2="631.25" stroke="#1a1a1a" stroke-width="1.0" />
<line x1="602.15" y1="631.25" x2="607.35" y2="631.25" stroke="#1a1a1a" stroke-width="1.0" />
<rect x="599.15" y="617.50" width="11.20" height="7.50" fill="#58bb48" stroke="#1a1a1a" stroke-width="1.0"/>
<line x1="599.15" y1="621.00" x2="610.35" y2="621.00" stroke="#1a1a1a" stroke-width="1.0" />
<text x="609.25" y="662.00" font-size="12.5" textLength="22.50" lengthAdjust="spacingAndGlyphs" transform="rotate(-90 609.25 662.00)" stroke="#231f20" stroke-width="0.2">0.88</text>
<circle cx="615.69" cy="638.75" r="2.4" fill="#e23a92" opacity="0.4"/>
<circle cx="616.25" cy="659.40" r="2.4" fill="#e23a92" opacity="0.4"/>
<circle cx="615.64" cy="658.84" r="2.4" fill="#e23a92" opacity="0.4"/>
<circle cx="616.07" cy="643.07" r="2.4" fill="#e23a92" opacity="0.4"/>
<circle cx="615.41" cy="657.71" r="2.4" fill="#e23a92" opacity="0.4"/>
<circle cx="618.09" cy="651.84" r="2.4" fill="#e23a92" opacity="0.4"/>
<circle cx="617.55" cy="645.48" r="2.4" fill="#e23a92" opacity="0.4"/>
<circle cx="614.20" cy="649.67" r="2.4" fill="#e23a92" opacity="0.4"/>
<circle cx="618.19" cy="639.86" r="2.4" fill="#e23a92" opacity="0.4"/>
<circle cx="615.72" cy="648.37" r="2.4" fill="#e23a92" opacity="0.4"/>
<circle cx="616.37" cy="657.70" r="2.4" fill="#e23a92" opacity="0.4"/>
<circle cx="614.92" cy="649.08" r="2.4" fill="#e23a92" opacity="0.4"/>
<circle cx="614.78" cy="654.12" r="2.4" fill="#e23a92" opacity="0.4"/>
<circle cx="617.29" cy="648.47" r="2.4" fill="#e23a92" opacity="0.4"/>
<line x1="616.00" y1="638.75" x2="616.00" y2="644.40" stroke="#1a1a1a" stroke-width="1.0" />
<line x1="613.40" y1="638.75" x2="618.60" y2="638.75" stroke="#1a1a1a" stroke-width="1.0" />
<line x1="616.00" y1="651.25" x2="616.00" y2="659.40" stroke="#1a1a1a" stroke-width="1.0" />
<line x1="613.40" y1="659.40" x2="618.60" y2="659.40" stroke="#1a1a1a" stroke-width="1.0" />
<rect x="610.40" y="644.40" width="11.20" height="6.85" fill="#e23a92" stroke="#1a1a1a" stroke-width="1.0"/>
<line x1="610.40" y1="647.50" x2="621.60" y2="647.50" stroke="#1a1a1a" stroke-width="1.0" />
<text x="620.50" y="662.00" font-size="12.5" textLength="22.50" lengthAdjust="spacingAndGlyphs" transform="rotate(-90 620.50 662.00)" stroke="#231f20" stroke-width="0.2">0.86</text>
<text x="142.60" y="692.80" font-size="14" text-anchor="middle" fill="#2ca2db" textLength="95.23" lengthAdjust="spacingAndGlyphs" stroke="#2ca2db" stroke-width="0.2">‘vs non-binder’</text>
<text x="283.80" y="692.80" font-size="14" text-anchor="middle" fill="#8b6355" textLength="33.17" lengthAdjust="spacingAndGlyphs" stroke="#8b6355" stroke-width="0.2">‘vs 1’</text>
<text x="424.60" y="692.80" font-size="14" text-anchor="middle" fill="#ef5a3a" textLength="33.17" lengthAdjust="spacingAndGlyphs" stroke="#ef5a3a" stroke-width="0.2">‘vs 9’</text>
<text x="589.40" y="692.80" font-size="14" text-anchor="middle" fill="#fdc010" textLength="59.06" lengthAdjust="spacingAndGlyphs" stroke="#fdc010" stroke-width="0.2">‘vs weak’</text>
<text x="354.50" y="715.90" font-size="15" text-anchor="middle" textLength="33.93" lengthAdjust="spacingAndGlyphs" stroke="#231f20" stroke-width="0.2">Task</text>
<text x="374.60" y="740.60" font-size="15" text-anchor="middle" textLength="162.70" lengthAdjust="spacingAndGlyphs" stroke="#231f20" stroke-width="0.2">Positive class antigen</text>
<text x="100.30" y="765.10" font-size="12.5" text-anchor="middle" textLength="29.04" lengthAdjust="spacingAndGlyphs" stroke="#231f20" stroke-width="0.2">1FBI</text>
<rect x="93.10" y="772.20" width="14.50" height="14.50" fill="#1a7a7a" stroke="#333" stroke-width="0.8"/>
<text x="160.68" y="765.10" font-size="12.5" text-anchor="middle" textLength="34.40" lengthAdjust="spacingAndGlyphs" stroke="#231f20" stroke-width="0.2">3VRL</text>
<rect x="153.48" y="772.20" width="14.50" height="14.50" fill="#f3a98a" stroke="#333" stroke-width="0.8"/>
<text x="221.06" y="765.10" font-size="12.5" text-anchor="middle" textLength="35.16" lengthAdjust="spacingAndGlyphs" stroke="#231f20" stroke-width="0.2">2YPV</text>
<rect x="213.86" y="772.20" width="14.50" height="14.50" fill="#27286e" stroke="#333" stroke-width="0.8"/>
<text x="281.44" y="765.10" font-size="12.5" text-anchor="middle" textLength="32.11" lengthAdjust="spacingAndGlyphs" stroke="#231f20" stroke-width="0.2">5E94</text>
<rect x="274.24" y="772.20" width="14.50" height="14.50" fill="#e3c42b" stroke="#333" stroke-width="0.8"/>
<text x="341.82" y="765.10" font-size="12.5" text-anchor="middle" textLength="36.67" lengthAdjust="spacingAndGlyphs" stroke="#231f20" stroke-width="0.2">1WEJ</text>
<rect x="334.62" y="772.20" width="14.50" height="14.50" fill="#2f7e3c" stroke="#333" stroke-width="0.8"/>
<text x="402.20" y="765.10" font-size="12.5" text-anchor="middle" textLength="35.16" lengthAdjust="spacingAndGlyphs" stroke="#231f20" stroke-width="0.2">1OB1</text>
<rect x="395.00" y="772.20" width="14.50" height="14.50" fill="#ee86ba" stroke="#333" stroke-width="0.8"/>
<text x="462.58" y="765.10" font-size="12.5" text-anchor="middle" textLength="36.68" lengthAdjust="spacingAndGlyphs" stroke="#231f20" stroke-width="0.2">1NSN</text>
<rect x="455.38" y="772.20" width="14.50" height="14.50" fill="#6e2570" stroke="#333" stroke-width="0.8"/>
<text x="522.96" y="765.10" font-size="12.5" text-anchor="middle" textLength="35.15" lengthAdjust="spacingAndGlyphs" stroke="#231f20" stroke-width="0.2">1H0D</text>
<rect x="515.76" y="772.20" width="14.50" height="14.50" fill="#ee7659" stroke="#333" stroke-width="0.8"/>
<text x="583.34" y="765.10" font-size="12.5" text-anchor="middle" textLength="33.62" lengthAdjust="spacingAndGlyphs" stroke="#231f20" stroke-width="0.2">3RAJ</text>
<rect x="576.14" y="772.20" width="14.50" height="14.50" fill="#58bb48" stroke="#333" stroke-width="0.8"/>
<text x="643.72" y="765.10" font-size="12.5" text-anchor="middle" textLength="37.44" lengthAdjust="spacingAndGlyphs" stroke="#231f20" stroke-width="0.2">1ADQ</text>
<rect x="636.52" y="772.20" width="14.50" height="14.50" fill="#e23a92" stroke="#333" stroke-width="0.8"/>
<text x="717.60" y="441.30" font-size="19" font-weight="bold" textLength="11.00" lengthAdjust="spacingAndGlyphs" stroke="#231f20" stroke-width="0.7">c</text>
<text x="748.60" y="441.30" font-size="16" textLength="170.00" lengthAdjust="spacingAndGlyphs" stroke="#231f20" stroke-width="0.2">ID prediction accuracy</text>
<text x="746.10" y="462.60" font-size="16" textLength="288.10" lengthAdjust="spacingAndGlyphs" stroke="#231f20" stroke-width="0.2">and sequence similarity correlation</text>
<path d="M805.1,559 C815,561 828,566 838,568 C850,566 862,550 881.6,525.1 L881.6,590 C860,598 845,605 835,612 C822,622 812,632 805.1,639.7Z" fill="#fdf2d2"/>
<path d="M888,542.3 L1147,507 L1147,514 L888,558.6Z" fill="#ebe4e1"/>
<path d="M841.7,596 L1029.5,531 L1029.5,545.5 L841.7,612.7Z" fill="#fbe1db" opacity="0.9"/>
<path d="M972.5,521 L1058.5,482.5 L1058.5,511 L972.5,532Z" fill="#d8edf9"/>
<line x1="805.10" y1="603.50" x2="881.60" y2="571.20" stroke="#fbbd16" stroke-width="1.6" />
<line x1="888.30" y1="551.40" x2="1146.80" y2="510.90" stroke="#8b6355" stroke-width="1.6" />
<line x1="841.70" y1="603.00" x2="1029.50" y2="537.50" stroke="#ef5a3a" stroke-width="1.6" />
<line x1="972.50" y1="525.50" x2="1058.50" y2="505.80" stroke="#2ca2db" stroke-width="1.6" />
<circle cx="888.80" cy="557.80" r="3.3" fill="#8b6355" stroke="#3b3b3b" stroke-width="0.55" fill-opacity="0.88"/><circle cx="937.50" cy="531.80" r="3.3" fill="#8b6355" stroke="#3b3b3b" stroke-width="0.55" fill-opacity="0.88"/><circle cx="964.50" cy="524.30" r="3.3" fill="#8b6355" stroke="#3b3b3b" stroke-width="0.55" fill-opacity="0.88"/><circle cx="970.50" cy="534.50" r="3.3" fill="#8b6355" stroke="#3b3b3b" stroke-width="0.55" fill-opacity="0.88"/><circle cx="980.50" cy="538.00" r="3.3" fill="#8b6355" stroke="#3b3b3b" stroke-width="0.55" fill-opacity="0.88"/><circle cx="985.00" cy="531.20" r="3.3" fill="#8b6355" stroke="#3b3b3b" stroke-width="0.55" fill-opacity="0.88"/><circle cx="988.50" cy="529.00" r="3.3" fill="#8b6355" stroke="#3b3b3b" stroke-width="0.55" fill-opacity="0.88"/><circle cx="990.80" cy="537.20" r="3.3" fill="#8b6355" stroke="#3b3b3b" stroke-width="0.55" fill-opacity="0.88"/><circle cx="962.50" cy="556.50" r="3.3" fill="#8b6355" stroke="#3b3b3b" stroke-width="0.55" fill-opacity="0.88"/><circle cx="959.50" cy="563.00" r="3.3" fill="#8b6355" stroke="#3b3b3b" stroke-width="0.55" fill-opacity="0.88"/><circle cx="1027.50" cy="516.00" r="3.3" fill="#8b6355" stroke="#3b3b3b" stroke-width="0.55" fill-opacity="0.88"/><circle cx="1046.00" cy="514.50" r="3.3" fill="#8b6355" stroke="#3b3b3b" stroke-width="0.55" fill-opacity="0.88"/><circle cx="1055.00" cy="520.00" r="3.3" fill="#8b6355" stroke="#3b3b3b" stroke-width="0.55" fill-opacity="0.88"/><circle cx="1060.00" cy="519.00" r="3.3" fill="#8b6355" stroke="#3b3b3b" stroke-width="0.55" fill-opacity="0.88"/><circle cx="1060.50" cy="522.00" r="3.3" fill="#8b6355" stroke="#3b3b3b" stroke-width="0.55" fill-opacity="0.88"/><circle cx="1005.50" cy="524.50" r="3.3" fill="#8b6355" stroke="#3b3b3b" stroke-width="0.55" fill-opacity="0.88"/><circle cx="1012.50" cy="527.80" r="3.3" fill="#8b6355" stroke="#3b3b3b" stroke-width="0.55" fill-opacity="0.88"/><circle cx="1018.50" cy="526.50" r="3.3" fill="#8b6355" stroke="#3b3b3b" stroke-width="0.55" fill-opacity="0.88"/><circle cx="1003.50" cy="532.00" r="3.3" fill="#8b6355" stroke="#3b3b3b" stroke-width="0.55" fill-opacity="0.88"/><circle cx="1007.50" cy="531.00" r="3.3" fill="#8b6355" stroke="#3b3b3b" stroke-width="0.55" fill-opacity="0.88"/><circle cx="1041.00" cy="524.50" r="3.3" fill="#8b6355" stroke="#3b3b3b" stroke-width="0.55" fill-opacity="0.88"/><circle cx="1044.00" cy="526.50" r="3.3" fill="#8b6355" stroke="#3b3b3b" stroke-width="0.55" fill-opacity="0.88"/><circle cx="991.00" cy="537.20" r="3.3" fill="#8b6355" stroke="#3b3b3b" stroke-width="0.55" fill-opacity="0.88"/><circle cx="1017.50" cy="534.00" r="3.3" fill="#8b6355" stroke="#3b3b3b" stroke-width="0.55" fill-opacity="0.88"/><circle cx="1033.00" cy="535.50" r="3.3" fill="#8b6355" stroke="#3b3b3b" stroke-width="0.55" fill-opacity="0.88"/><circle cx="1049.50" cy="534.00" r="3.3" fill="#8b6355" stroke="#3b3b3b" stroke-width="0.55" fill-opacity="0.88"/><circle cx="1064.50" cy="533.20" r="3.3" fill="#8b6355" stroke="#3b3b3b" stroke-width="0.55" fill-opacity="0.88"/><circle cx="1070.00" cy="534.00" r="3.3" fill="#8b6355" stroke="#3b3b3b" stroke-width="0.55" fill-opacity="0.88"/><circle cx="1007.00" cy="540.50" r="3.3" fill="#8b6355" stroke="#3b3b3b" stroke-width="0.55" fill-opacity="0.88"/><circle cx="1006.00" cy="549.50" r="3.3" fill="#8b6355" stroke="#3b3b3b" stroke-width="0.55" fill-opacity="0.88"/><circle cx="1078.00" cy="520.50" r="3.3" fill="#8b6355" stroke="#3b3b3b" stroke-width="0.55" fill-opacity="0.88"/><circle cx="1083.50" cy="519.00" r="3.3" fill="#8b6355" stroke="#3b3b3b" stroke-width="0.55" fill-opacity="0.88"/><circle cx="1090.00" cy="519.50" r="3.3" fill="#8b6355" stroke="#3b3b3b" stroke-width="0.55" fill-opacity="0.88"/><circle cx="1100.50" cy="515.80" r="3.3" fill="#8b6355" stroke="#3b3b3b" stroke-width="0.55" fill-opacity="0.88"/><circle cx="1109.60" cy="516.50" r="3.3" fill="#8b6355" stroke="#3b3b3b" stroke-width="0.55" fill-opacity="0.88"/><circle cx="1115.60" cy="515.40" r="3.3" fill="#8b6355" stroke="#3b3b3b" stroke-width="0.55" fill-opacity="0.88"/><circle cx="1120.50" cy="514.60" r="3.3" fill="#8b6355" stroke="#3b3b3b" stroke-width="0.55" fill-opacity="0.88"/><circle cx="1129.10" cy="515.00" r="3.3" fill="#8b6355" stroke="#3b3b3b" stroke-width="0.55" fill-opacity="0.88"/><circle cx="1146.80" cy="512.90" r="3.3" fill="#8b6355" stroke="#3b3b3b" stroke-width="0.55" fill-opacity="0.88"/><circle cx="1135.50" cy="524.40" r="3.3" fill="#8b6355" stroke="#3b3b3b" stroke-width="0.55" fill-opacity="0.88"/><circle cx="1000.00" cy="528.00" r="3.3" fill="#8b6355" stroke="#3b3b3b" stroke-width="0.55" fill-opacity="0.88"/><circle cx="996.00" cy="534.00" r="3.3" fill="#8b6355" stroke="#3b3b3b" stroke-width="0.55" fill-opacity="0.88"/><circle cx="975.00" cy="537.00" r="3.3" fill="#8b6355" stroke="#3b3b3b" stroke-width="0.55" fill-opacity="0.88"/><circle cx="1022.00" cy="531.00" r="3.3" fill="#8b6355" stroke="#3b3b3b" stroke-width="0.55" fill-opacity="0.88"/><circle cx="1038.00" cy="528.00" r="3.3" fill="#8b6355" stroke="#3b3b3b" stroke-width="0.55" fill-opacity="0.88"/><circle cx="1053.00" cy="525.00" r="3.3" fill="#8b6355" stroke="#3b3b3b" stroke-width="0.55" fill-opacity="0.88"/><circle cx="1012.00" cy="536.00" r="3.3" fill="#8b6355" stroke="#3b3b3b" stroke-width="0.55" fill-opacity="0.88"/><circle cx="1068.00" cy="526.00" r="3.3" fill="#8b6355" stroke="#3b3b3b" stroke-width="0.55" fill-opacity="0.88"/>
<circle cx="814.70" cy="531.80" r="3.3" fill="#fcc21e" stroke="#3b3b3b" stroke-width="0.55" fill-opacity="0.88"/><circle cx="862.80" cy="554.90" r="3.3" fill="#fcc21e" stroke="#3b3b3b" stroke-width="0.55" fill-opacity="0.88"/><circle cx="841.90" cy="567.60" r="3.3" fill="#fcc21e" stroke="#3b3b3b" stroke-width="0.55" fill-opacity="0.88"/><circle cx="848.00" cy="584.70" r="3.3" fill="#fcc21e" stroke="#3b3b3b" stroke-width="0.55" fill-opacity="0.88"/><circle cx="833.50" cy="589.30" r="3.3" fill="#fcc21e" stroke="#3b3b3b" stroke-width="0.55" fill-opacity="0.88"/><circle cx="820.80" cy="595.20" r="3.3" fill="#fcc21e" stroke="#3b3b3b" stroke-width="0.55" fill-opacity="0.88"/><circle cx="881.20" cy="597.10" r="3.3" fill="#fcc21e" stroke="#3b3b3b" stroke-width="0.55" fill-opacity="0.88"/><circle cx="809.20" cy="614.00" r="3.3" fill="#fcc21e" stroke="#3b3b3b" stroke-width="0.55" fill-opacity="0.88"/><circle cx="805.50" cy="627.10" r="3.3" fill="#fcc21e" stroke="#3b3b3b" stroke-width="0.55" fill-opacity="0.88"/><circle cx="820.80" cy="651.20" r="3.3" fill="#fcc21e" stroke="#3b3b3b" stroke-width="0.55" fill-opacity="0.88"/>
<circle cx="841.70" cy="599.10" r="3.3" fill="#ef5a3a" stroke="#3b3b3b" stroke-width="0.55" fill-opacity="0.88"/><circle cx="876.90" cy="592.30" r="3.3" fill="#ef5a3a" stroke="#3b3b3b" stroke-width="0.55" fill-opacity="0.88"/><circle cx="966.20" cy="548.20" r="3.3" fill="#ef5a3a" stroke="#3b3b3b" stroke-width="0.55" fill-opacity="0.88"/><circle cx="967.00" cy="558.20" r="3.3" fill="#ef5a3a" stroke="#3b3b3b" stroke-width="0.55" fill-opacity="0.88"/><circle cx="955.50" cy="563.50" r="3.3" fill="#ef5a3a" stroke="#3b3b3b" stroke-width="0.55" fill-opacity="0.88"/><circle cx="974.50" cy="565.00" r="3.3" fill="#ef5a3a" stroke="#3b3b3b" stroke-width="0.55" fill-opacity="0.88"/><circle cx="968.00" cy="569.50" r="3.3" fill="#ef5a3a" stroke="#3b3b3b" stroke-width="0.55" fill-opacity="0.88"/><circle cx="1020.50" cy="537.50" r="3.3" fill="#ef5a3a" stroke="#3b3b3b" stroke-width="0.55" fill-opacity="0.88"/><circle cx="1029.50" cy="534.50" r="3.3" fill="#ef5a3a" stroke="#3b3b3b" stroke-width="0.55" fill-opacity="0.88"/><circle cx="951.00" cy="563.80" r="3.3" fill="#ef5a3a" stroke="#3b3b3b" stroke-width="0.55" fill-opacity="0.88"/><circle cx="958.00" cy="561.00" r="3.3" fill="#ef5a3a" stroke="#3b3b3b" stroke-width="0.55" fill-opacity="0.88"/>
<circle cx="975.00" cy="521.20" r="3.3" fill="#2ca2db" stroke="#3b3b3b" stroke-width="0.55" fill-opacity="0.88"/><circle cx="987.50" cy="520.00" r="3.3" fill="#2ca2db" stroke="#3b3b3b" stroke-width="0.55" fill-opacity="0.88"/><circle cx="998.50" cy="515.80" r="3.3" fill="#2ca2db" stroke="#3b3b3b" stroke-width="0.55" fill-opacity="0.88"/><circle cx="972.50" cy="529.50" r="3.3" fill="#2ca2db" stroke="#3b3b3b" stroke-width="0.55" fill-opacity="0.88"/><circle cx="979.00" cy="527.00" r="3.3" fill="#2ca2db" stroke="#3b3b3b" stroke-width="0.55" fill-opacity="0.88"/><circle cx="977.50" cy="531.50" r="3.3" fill="#2ca2db" stroke="#3b3b3b" stroke-width="0.55" fill-opacity="0.88"/><circle cx="998.80" cy="515.50" r="3.3" fill="#2ca2db" stroke="#3b3b3b" stroke-width="0.55" fill-opacity="0.88"/><circle cx="1007.50" cy="510.80" r="3.3" fill="#2ca2db" stroke="#3b3b3b" stroke-width="0.55" fill-opacity="0.88"/><circle cx="1013.50" cy="512.50" r="3.3" fill="#2ca2db" stroke="#3b3b3b" stroke-width="0.55" fill-opacity="0.88"/><circle cx="1058.30" cy="511.00" r="3.3" fill="#2ca2db" stroke="#3b3b3b" stroke-width="0.55" fill-opacity="0.88"/><circle cx="982.00" cy="523.00" r="3.3" fill="#2ca2db" stroke="#3b3b3b" stroke-width="0.55" fill-opacity="0.88"/>
<path d="M788.5,473.4V659.5H1163.6" fill="none" stroke="#555555" stroke-width="1.1"/>
<line x1="782.50" y1="507.70" x2="788.80" y2="507.70" stroke="#555555" stroke-width="1.1" />
<text x="773.40" y="512.10" font-size="13" text-anchor="end" textLength="26.50" lengthAdjust="spacingAndGlyphs" stroke="#231f20" stroke-width="0.2">1.00</text>
<line x1="782.50" y1="557.50" x2="788.80" y2="557.50" stroke="#555555" stroke-width="1.1" />
<text x="773.40" y="561.90" font-size="13" text-anchor="end" textLength="26.50" lengthAdjust="spacingAndGlyphs" stroke="#231f20" stroke-width="0.2">0.95</text>
<line x1="782.50" y1="606.90" x2="788.80" y2="606.90" stroke="#555555" stroke-width="1.1" />
<text x="773.40" y="611.30" font-size="13" text-anchor="end" textLength="26.50" lengthAdjust="spacingAndGlyphs" stroke="#231f20" stroke-width="0.2">0.90</text>
<line x1="782.50" y1="656.50" x2="788.80" y2="656.50" stroke="#555555" stroke-width="1.1" />
<text x="773.40" y="660.90" font-size="13" text-anchor="end" textLength="26.50" lengthAdjust="spacingAndGlyphs" stroke="#231f20" stroke-width="0.2">0.85</text>
<line x1="791.60" y1="659.30" x2="791.60" y2="665.50" stroke="#555555" stroke-width="1.1" />
<text x="791.60" y="684.00" font-size="13" text-anchor="middle" textLength="18.50" lengthAdjust="spacingAndGlyphs" stroke="#231f20" stroke-width="0.2">1.0</text>
<line x1="835.48" y1="659.30" x2="835.48" y2="665.50" stroke="#555555" stroke-width="1.1" />
<text x="835.48" y="684.00" font-size="13" text-anchor="middle" textLength="18.50" lengthAdjust="spacingAndGlyphs" stroke="#231f20" stroke-width="0.2">1.5</text>
<line x1="879.35" y1="659.30" x2="879.35" y2="665.50" stroke="#555555" stroke-width="1.1" />
<text x="879.35" y="684.00" font-size="13" text-anchor="middle" textLength="18.50" lengthAdjust="spacingAndGlyphs" stroke="#231f20" stroke-width="0.2">2.0</text>
<line x1="923.23" y1="659.30" x2="923.23" y2="665.50" stroke="#555555" stroke-width="1.1" />
<text x="923.23" y="684.00" font-size="13" text-anchor="middle" textLength="18.50" lengthAdjust="spacingAndGlyphs" stroke="#231f20" stroke-width="0.2">2.5</text>
<line x1="967.10" y1="659.30" x2="967.10" y2="665.50" stroke="#555555" stroke-width="1.1" />
<text x="967.10" y="684.00" font-size="13" text-anchor="middle" textLength="18.50" lengthAdjust="spacingAndGlyphs" stroke="#231f20" stroke-width="0.2">3.0</text>
<line x1="1010.98" y1="659.30" x2="1010.98" y2="665.50" stroke="#555555" stroke-width="1.1" />
<text x="1010.98" y="684.00" font-size="13" text-anchor="middle" textLength="18.50" lengthAdjust="spacingAndGlyphs" stroke="#231f20" stroke-width="0.2">3.5</text>
<line x1="1054.85" y1="659.30" x2="1054.85" y2="665.50" stroke="#555555" stroke-width="1.1" />
<text x="1054.85" y="684.00" font-size="13" text-anchor="middle" textLength="18.50" lengthAdjust="spacingAndGlyphs" stroke="#231f20" stroke-width="0.2">4.0</text>
<line x1="1098.72" y1="659.30" x2="1098.72" y2="665.50" stroke="#555555" stroke-width="1.1" />
<text x="1098.72" y="684.00" font-size="13" text-anchor="middle" textLength="18.50" lengthAdjust="spacingAndGlyphs" stroke="#231f20" stroke-width="0.2">4.5</text>
<line x1="1142.60" y1="659.30" x2="1142.60" y2="665.50" stroke="#555555" stroke-width="1.1" />
<text x="1142.60" y="684.00" font-size="13" text-anchor="middle" textLength="18.50" lengthAdjust="spacingAndGlyphs" stroke="#231f20" stroke-width="0.2">5.0</text>
<text x="732.50" y="566.00" font-size="16" text-anchor="middle" textLength="150.70" lengthAdjust="spacingAndGlyphs" transform="rotate(-90 732.50 566.00)" stroke="#231f20" stroke-width="0.2">Prediction accuracy</text>
<text x="975.80" y="707.50" font-size="15" text-anchor="middle" textLength="27.00" lengthAdjust="spacingAndGlyphs" stroke="#231f20" stroke-width="0.2">JSD</text>
<text x="930.30" y="499.00" font-size="11.5" fill="#2ca2db" textLength="88" lengthAdjust="spacingAndGlyphs"><tspan font-style="italic">r</tspan> = 0.79, <tspan font-style="italic">R</tspan><tspan font-size="6.3" dy="-5.5">2</tspan><tspan dy="5.5"> = 0.62</tspan></text><text x="930.30" y="512.00" font-size="11.5" fill="#2ca2db" textLength="41.2" lengthAdjust="spacingAndGlyphs"><tspan font-style="italic">P</tspan> &lt; 0.05</text>
<text x="1045.00" y="559.00" font-size="11.5" fill="#8b6355" textLength="89" lengthAdjust="spacingAndGlyphs"><tspan font-style="italic">r</tspan> = 0.74, <tspan font-style="italic">R</tspan><tspan font-size="6.3" dy="-5.5">2</tspan><tspan dy="5.5"> = 0.55,</tspan></text><text x="1045.00" y="572.00" font-size="11.5" fill="#8b6355" textLength="41.2" lengthAdjust="spacingAndGlyphs"><tspan font-style="italic">P</tspan> &lt; 0.05</text>
<text x="940.80" y="595.00" font-size="11.5" fill="#ef5a3a" textLength="89.3" lengthAdjust="spacingAndGlyphs"><tspan font-style="italic">r</tspan> = 0.95, <tspan font-style="italic">R</tspan><tspan font-size="6.3" dy="-5.5">2</tspan><tspan dy="5.5"> = 0.91</tspan></text><text x="940.80" y="608.00" font-size="11.5" fill="#ef5a3a" textLength="41.2" lengthAdjust="spacingAndGlyphs"><tspan font-style="italic">P</tspan> &lt; 0.05</text>
<text x="838.00" y="628.70" font-size="11.5" fill="#f8c027" textLength="90" lengthAdjust="spacingAndGlyphs"><tspan font-style="italic">r</tspan> = 0.30, <tspan font-style="italic">R</tspan><tspan font-size="6.3" dy="-5.5">2</tspan><tspan dy="5.5"> = 0.09</tspan></text><text x="838.00" y="641.70" font-size="11.5" fill="#f8c027" textLength="41.2" lengthAdjust="spacingAndGlyphs"><tspan font-style="italic">P</tspan> ≥ 0.05</text>
<text x="999.60" y="729.30" font-size="11.5" text-anchor="end" textLength="102.60" lengthAdjust="spacingAndGlyphs" stroke="#231f20" stroke-width="0.2">Sequence similarity</text>
<defs><linearGradient id="gSS" x1="0" x2="1"><stop offset="0" stop-color="#ef5a24"/><stop offset="0.5" stop-color="#fba21c"/><stop offset="1" stop-color="#fdd01a"/></linearGradient></defs>
<path d="M1007.6,718.4L1047.9,730.8H1007.6Z" fill="url(#gSS)"/>
<rect x="780.60" y="732.40" width="377.20" height="58.50" fill="none" stroke="#231f20" stroke-width="1.3"/>
<text x="969" y="747.2" font-size="16" text-anchor="middle" textLength="158" lengthAdjust="spacingAndGlyphs">Training task for <tspan font-weight="bold">c–e</tspan></text>
<text x="849.30" y="769.60" font-size="14" text-anchor="middle" textLength="94.32" lengthAdjust="spacingAndGlyphs" stroke="#231f20" stroke-width="0.2">‘vs non-binder’</text>
<circle cx="849.30" cy="781.20" r="3.9" fill="#2ca2db"/>
<text x="953.40" y="769.60" font-size="14" text-anchor="middle" textLength="32.85" lengthAdjust="spacingAndGlyphs" stroke="#231f20" stroke-width="0.2">‘vs 1’</text>
<circle cx="953.40" cy="781.20" r="3.9" fill="#8b6355"/>
<text x="1028.80" y="769.60" font-size="14" text-anchor="middle" textLength="32.85" lengthAdjust="spacingAndGlyphs" stroke="#231f20" stroke-width="0.2">‘vs 9’</text>
<circle cx="1028.80" cy="781.20" r="3.9" fill="#ef5a3a"/>
<text x="1113.80" y="769.60" font-size="14" text-anchor="middle" textLength="58.50" lengthAdjust="spacingAndGlyphs" stroke="#231f20" stroke-width="0.2">‘vs weak’</text>
<circle cx="1113.80" cy="781.20" r="3.9" fill="#fdc010"/>
<line x1="1153.40" y1="732.40" x2="1153.40" y2="724.00" stroke="#3e4e68" stroke-width="1.2" />
<path d="M1153.4,720.5L1150.6,727H1156.2Z" fill="#3e4e68"/>
<line x1="955.60" y1="790.90" x2="955.60" y2="803.50" stroke="#3e4e68" stroke-width="1.2" />
<path d="M955.6,808L952.8,801H958.4Z" fill="#3e4e68"/>
<line x1="780.60" y1="790.90" x2="704.00" y2="828.80" stroke="#3e4e68" stroke-width="1.2" />
<path d="M700.4,830.7L706.5,824.5L705.8,828.2L708.8,829.9Z" fill="#3e4e68"/>
<text x="0.00" y="837.70" font-size="19" font-weight="bold" textLength="13.00" lengthAdjust="spacingAndGlyphs" stroke="#231f20" stroke-width="0.7">d</text>
<text x="33.00" y="837.70" font-size="16" textLength="312.00" lengthAdjust="spacingAndGlyphs" stroke="#231f20" stroke-width="0.2">OOD prediction accuracy across tasks</text>
<path d="M67.50,869.00V1010.50H175.00" fill="none" stroke="#555555" stroke-width="1.1"/>
<line x1="61.00" y1="873.60" x2="67.00" y2="873.60" stroke="#555555" stroke-width="1.1" />
<text x="56.80" y="878.00" font-size="13" text-anchor="end" textLength="19.50" lengthAdjust="spacingAndGlyphs" stroke="#231f20" stroke-width="0.2">1.0</text>
<line x1="61.00" y1="904.05" x2="67.00" y2="904.05" stroke="#555555" stroke-width="1.1" />
<text x="56.80" y="908.45" font-size="13" text-anchor="end" textLength="19.50" lengthAdjust="spacingAndGlyphs" stroke="#231f20" stroke-width="0.2">0.9</text>
<line x1="61.00" y1="934.50" x2="67.00" y2="934.50" stroke="#555555" stroke-width="1.1" />
<text x="56.80" y="938.90" font-size="13" text-anchor="end" textLength="19.50" lengthAdjust="spacingAndGlyphs" stroke="#231f20" stroke-width="0.2">0.8</text>
<line x1="61.00" y1="964.95" x2="67.00" y2="964.95" stroke="#555555" stroke-width="1.1" />
<text x="56.80" y="969.35" font-size="13" text-anchor="end" textLength="19.50" lengthAdjust="spacingAndGlyphs" stroke="#231f20" stroke-width="0.2">0.7</text>
<line x1="61.00" y1="995.40" x2="67.00" y2="995.40" stroke="#555555" stroke-width="1.1" />
<text x="56.80" y="999.80" font-size="13" text-anchor="end" textLength="19.50" lengthAdjust="spacingAndGlyphs" stroke="#231f20" stroke-width="0.2">0.6</text>
<line x1="84.50" y1="1010.30" x2="84.50" y2="1016.60" stroke="#555555" stroke-width="1.1" />
<line x1="120.50" y1="1010.30" x2="120.50" y2="1016.60" stroke="#555555" stroke-width="1.1" />
<line x1="156.75" y1="1010.30" x2="156.75" y2="1016.60" stroke="#555555" stroke-width="1.1" />
<text x="120.70" y="861.00" font-size="15" text-anchor="middle" textLength="29.50" lengthAdjust="spacingAndGlyphs" stroke="#231f20" stroke-width="0.2">1FBI</text>
<rect x="68.75" y="981.30" width="38.40" height="8.70" fill="#2ca2db"/>
<text x="75.15" y="988.20" font-size="7.2" text-anchor="middle" fill="#1d1d1d" textLength="12.61" lengthAdjust="spacingAndGlyphs" stroke="#1d1d1d" stroke-width="0.2">100</text>
<text x="87.95" y="988.20" font-size="7.2" text-anchor="middle" fill="#1d1d1d" textLength="8.41" lengthAdjust="spacingAndGlyphs" stroke="#1d1d1d" stroke-width="0.2">93</text>
<text x="100.75" y="988.20" font-size="7.2" text-anchor="middle" fill="#1d1d1d" textLength="8.41" lengthAdjust="spacingAndGlyphs" stroke="#1d1d1d" stroke-width="0.2">76</text>
<rect x="68.75" y="989.90" width="38.40" height="8.70" fill="#ef5a3a"/>
<text x="75.15" y="996.80" font-size="7.2" text-anchor="middle" fill="#1d1d1d" textLength="8.41" lengthAdjust="spacingAndGlyphs" stroke="#1d1d1d" stroke-width="0.2">97</text>
<text x="87.95" y="996.80" font-size="7.2" text-anchor="middle" fill="#1d1d1d" textLength="8.41" lengthAdjust="spacingAndGlyphs" stroke="#1d1d1d" stroke-width="0.2">97</text>
<text x="100.75" y="996.80" font-size="7.2" text-anchor="middle" fill="#1d1d1d" textLength="8.41" lengthAdjust="spacingAndGlyphs" stroke="#1d1d1d" stroke-width="0.2">71</text>
<rect x="68.75" y="998.50" width="38.40" height="8.70" fill="#fdc010"/>
<text x="75.15" y="1005.40" font-size="7.2" text-anchor="middle" fill="#1d1d1d" textLength="8.41" lengthAdjust="spacingAndGlyphs" stroke="#1d1d1d" stroke-width="0.2">99</text>
<text x="87.95" y="1005.40" font-size="7.2" text-anchor="middle" fill="#1d1d1d" textLength="8.41" lengthAdjust="spacingAndGlyphs" stroke="#1d1d1d" stroke-width="0.2">97</text>
<text x="100.75" y="1005.40" font-size="7.2" text-anchor="middle" fill="#1d1d1d" textLength="8.41" lengthAdjust="spacingAndGlyphs" stroke="#1d1d1d" stroke-width="0.2">98</text>
<path d="M84.50,875.12L120.50,896.44L156.75,946.07" fill="none" stroke="#2ca2db" stroke-width="1.5"/>
<path d="M84.50,881.21L120.50,882.74L156.75,961.90" fill="none" stroke="#ef5a3a" stroke-width="1.5"/>
<path d="M84.50,875.12L120.50,882.13L156.75,880.91" fill="none" stroke="#fdc010" stroke-width="1.5"/>
<circle cx="84.50" cy="875.12" r="2.9" fill="#2ca2db"/>
<path d="M120.50,891.87V901.00M118.00,891.87H123.00M118.00,901.00H123.00" fill="none" stroke="#2ca2db" stroke-width="1.2"/>
<rect x="117.90" y="893.84" width="5.20" height="5.20" fill="#2ca2db"/>
<path d="M156.75,937.55V954.60M154.25,937.55H159.25M154.25,954.60H159.25" fill="none" stroke="#2ca2db" stroke-width="1.2"/>
<rect x="154.15" y="943.47" width="5.20" height="5.20" fill="#2ca2db"/>
<rect x="81.90" y="878.61" width="5.20" height="5.20" fill="#ef5a3a"/>
<circle cx="120.50" cy="882.74" r="2.9" fill="#ef5a3a"/>
<path d="M156.75,958.86V964.95M154.25,958.86H159.25M154.25,964.95H159.25" fill="none" stroke="#ef5a3a" stroke-width="1.2"/>
<circle cx="156.75" cy="961.90" r="2.9" fill="#ef5a3a"/>
<circle cx="84.50" cy="875.12" r="2.9" fill="#fdc010"/>
<circle cx="120.50" cy="882.13" r="2.9" fill="#fdc010"/>
<circle cx="156.75" cy="880.91" r="2.9" fill="#fdc010"/>
<text x="80.20" y="880.12" font-size="12.5" text-anchor="end" fill="#2ca2db" textLength="13.75" lengthAdjust="spacingAndGlyphs" stroke="#2ca2db" stroke-width="0.2">ID</text>
<text x="120.50" y="876.94" font-size="12.5" text-anchor="middle" fill="#ef5a3a" textLength="13.75" lengthAdjust="spacingAndGlyphs" stroke="#ef5a3a" stroke-width="0.2">ID</text>
<text x="156.75" y="875.11" font-size="12.5" text-anchor="middle" fill="#fdc010" textLength="13.75" lengthAdjust="spacingAndGlyphs" stroke="#fdc010" stroke-width="0.2">ID</text>
<path d="M196.50,869.00V1010.50H304.65" fill="none" stroke="#555555" stroke-width="1.1"/>
<line x1="190.65" y1="873.60" x2="196.65" y2="873.60" stroke="#555555" stroke-width="1.1" />
<line x1="190.65" y1="904.05" x2="196.65" y2="904.05" stroke="#555555" stroke-width="1.1" />
<line x1="190.65" y1="934.50" x2="196.65" y2="934.50" stroke="#555555" stroke-width="1.1" />
<line x1="190.65" y1="964.95" x2="196.65" y2="964.95" stroke="#555555" stroke-width="1.1" />
<line x1="190.65" y1="995.40" x2="196.65" y2="995.40" stroke="#555555" stroke-width="1.1" />
<line x1="214.15" y1="1010.30" x2="214.15" y2="1016.60" stroke="#555555" stroke-width="1.1" />
<line x1="250.15" y1="1010.30" x2="250.15" y2="1016.60" stroke="#555555" stroke-width="1.1" />
<line x1="286.40" y1="1010.30" x2="286.40" y2="1016.60" stroke="#555555" stroke-width="1.1" />
<text x="250.35" y="861.00" font-size="15" text-anchor="middle" textLength="41.27" lengthAdjust="spacingAndGlyphs" stroke="#231f20" stroke-width="0.2">3VRL</text>
<rect x="230.95" y="981.30" width="38.40" height="8.70" fill="#2ca2db"/>
<text x="237.35" y="988.20" font-size="7.2" text-anchor="middle" fill="#1d1d1d" textLength="12.61" lengthAdjust="spacingAndGlyphs" stroke="#1d1d1d" stroke-width="0.2">100</text>
<text x="250.15" y="988.20" font-size="7.2" text-anchor="middle" fill="#1d1d1d" textLength="8.41" lengthAdjust="spacingAndGlyphs" stroke="#1d1d1d" stroke-width="0.2">91</text>
<text x="262.95" y="988.20" font-size="7.2" text-anchor="middle" fill="#1d1d1d" textLength="8.41" lengthAdjust="spacingAndGlyphs" stroke="#1d1d1d" stroke-width="0.2">74</text>
<rect x="230.95" y="989.90" width="38.40" height="8.70" fill="#ef5a3a"/>
<text x="237.35" y="996.80" font-size="7.2" text-anchor="middle" fill="#1d1d1d" textLength="8.41" lengthAdjust="spacingAndGlyphs" stroke="#1d1d1d" stroke-width="0.2">99</text>
<text x="250.15" y="996.80" font-size="7.2" text-anchor="middle" fill="#1d1d1d" textLength="8.41" lengthAdjust="spacingAndGlyphs" stroke="#1d1d1d" stroke-width="0.2">97</text>
<text x="262.95" y="996.80" font-size="7.2" text-anchor="middle" fill="#1d1d1d" textLength="8.41" lengthAdjust="spacingAndGlyphs" stroke="#1d1d1d" stroke-width="0.2">87</text>
<rect x="230.95" y="998.50" width="38.40" height="8.70" fill="#fdc010"/>
<text x="237.35" y="1005.40" font-size="7.2" text-anchor="middle" fill="#1d1d1d" textLength="8.41" lengthAdjust="spacingAndGlyphs" stroke="#1d1d1d" stroke-width="0.2">98</text>
<text x="250.15" y="1005.40" font-size="7.2" text-anchor="middle" fill="#1d1d1d" textLength="8.41" lengthAdjust="spacingAndGlyphs" stroke="#1d1d1d" stroke-width="0.2">97</text>
<text x="262.95" y="1005.40" font-size="7.2" text-anchor="middle" fill="#1d1d1d" textLength="8.41" lengthAdjust="spacingAndGlyphs" stroke="#1d1d1d" stroke-width="0.2">95</text>
<path d="M214.15,874.51L250.15,902.22L286.40,952.47" fill="none" stroke="#2ca2db" stroke-width="1.5"/>
<path d="M214.15,877.25L250.15,881.21L286.40,912.58" fill="none" stroke="#ef5a3a" stroke-width="1.5"/>
<path d="M214.15,879.69L250.15,882.74L286.40,888.22" fill="none" stroke="#fdc010" stroke-width="1.5"/>
<circle cx="214.15" cy="874.51" r="2.9" fill="#2ca2db"/>
<rect x="247.55" y="899.62" width="5.20" height="5.20" fill="#2ca2db"/>
<path d="M286.40,950.03V954.90M283.90,950.03H288.90M283.90,954.90H288.90" fill="none" stroke="#2ca2db" stroke-width="1.2"/>
<rect x="283.80" y="949.87" width="5.20" height="5.20" fill="#2ca2db"/>
<circle cx="214.15" cy="877.25" r="2.9" fill="#ef5a3a"/>
<circle cx="250.15" cy="881.21" r="2.9" fill="#ef5a3a"/>
<path d="M286.40,910.14V915.01M283.90,910.14H288.90M283.90,915.01H288.90" fill="none" stroke="#ef5a3a" stroke-width="1.2"/>
<rect x="283.80" y="909.98" width="5.20" height="5.20" fill="#ef5a3a"/>
<circle cx="214.15" cy="879.69" r="2.9" fill="#fdc010"/>
<circle cx="250.15" cy="882.74" r="2.9" fill="#fdc010"/>
<circle cx="286.40" cy="888.22" r="2.9" fill="#fdc010"/>
<text x="209.85" y="879.51" font-size="12.5" text-anchor="end" fill="#2ca2db" textLength="13.75" lengthAdjust="spacingAndGlyphs" stroke="#2ca2db" stroke-width="0.2">ID</text>
<text x="250.15" y="875.41" font-size="12.5" text-anchor="middle" fill="#ef5a3a" textLength="13.75" lengthAdjust="spacingAndGlyphs" stroke="#ef5a3a" stroke-width="0.2">ID</text>
<text x="286.40" y="882.42" font-size="12.5" text-anchor="middle" fill="#fdc010" textLength="13.75" lengthAdjust="spacingAndGlyphs" stroke="#fdc010" stroke-width="0.2">ID</text>
<path d="M326.50,869.00V1010.50H434.30" fill="none" stroke="#555555" stroke-width="1.1"/>
<line x1="320.30" y1="873.60" x2="326.30" y2="873.60" stroke="#555555" stroke-width="1.1" />
<line x1="320.30" y1="904.05" x2="326.30" y2="904.05" stroke="#555555" stroke-width="1.1" />
<line x1="320.30" y1="934.50" x2="326.30" y2="934.50" stroke="#555555" stroke-width="1.1" />
<line x1="320.30" y1="964.95" x2="326.30" y2="964.95" stroke="#555555" stroke-width="1.1" />
<line x1="320.30" y1="995.40" x2="326.30" y2="995.40" stroke="#555555" stroke-width="1.1" />
<line x1="343.80" y1="1010.30" x2="343.80" y2="1016.60" stroke="#555555" stroke-width="1.1" />
<line x1="379.80" y1="1010.30" x2="379.80" y2="1016.60" stroke="#555555" stroke-width="1.1" />
<line x1="416.05" y1="1010.30" x2="416.05" y2="1016.60" stroke="#555555" stroke-width="1.1" />
<text x="380.00" y="861.00" font-size="15" text-anchor="middle" textLength="42.19" lengthAdjust="spacingAndGlyphs" stroke="#231f20" stroke-width="0.2">2YPV</text>
<rect x="328.05" y="981.30" width="32.40" height="8.70" fill="#2ca2db"/>
<text x="333.45" y="988.20" font-size="7.2" text-anchor="middle" fill="#1d1d1d" textLength="8.41" lengthAdjust="spacingAndGlyphs" stroke="#1d1d1d" stroke-width="0.2">99</text>
<text x="344.25" y="988.20" font-size="7.2" text-anchor="middle" fill="#1d1d1d" textLength="8.41" lengthAdjust="spacingAndGlyphs" stroke="#1d1d1d" stroke-width="0.2">81</text>
<text x="355.05" y="988.20" font-size="7.2" text-anchor="middle" fill="#1d1d1d" textLength="8.41" lengthAdjust="spacingAndGlyphs" stroke="#1d1d1d" stroke-width="0.2">77</text>
<rect x="328.05" y="989.90" width="32.40" height="8.70" fill="#ef5a3a"/>
<text x="333.45" y="996.80" font-size="7.2" text-anchor="middle" fill="#1d1d1d" textLength="8.41" lengthAdjust="spacingAndGlyphs" stroke="#1d1d1d" stroke-width="0.2">81</text>
<text x="344.25" y="996.80" font-size="7.2" text-anchor="middle" fill="#1d1d1d" textLength="8.41" lengthAdjust="spacingAndGlyphs" stroke="#1d1d1d" stroke-width="0.2">94</text>
<text x="355.05" y="996.80" font-size="7.2" text-anchor="middle" fill="#1d1d1d" textLength="8.41" lengthAdjust="spacingAndGlyphs" stroke="#1d1d1d" stroke-width="0.2">62</text>
<rect x="328.05" y="998.50" width="32.40" height="8.70" fill="#fdc010"/>
<text x="333.45" y="1005.40" font-size="7.2" text-anchor="middle" fill="#1d1d1d" textLength="8.41" lengthAdjust="spacingAndGlyphs" stroke="#1d1d1d" stroke-width="0.2">97</text>
<text x="344.25" y="1005.40" font-size="7.2" text-anchor="middle" fill="#1d1d1d" textLength="8.41" lengthAdjust="spacingAndGlyphs" stroke="#1d1d1d" stroke-width="0.2">87</text>
<text x="355.05" y="1005.40" font-size="7.2" text-anchor="middle" fill="#1d1d1d" textLength="8.41" lengthAdjust="spacingAndGlyphs" stroke="#1d1d1d" stroke-width="0.2">94</text>
<path d="M343.80,876.64L379.80,931.46L416.05,943.63" fill="none" stroke="#2ca2db" stroke-width="1.5"/>
<path d="M343.80,931.46L379.80,891.87L416.05,989.31" fill="none" stroke="#ef5a3a" stroke-width="1.5"/>
<path d="M343.80,882.74L379.80,913.19L416.05,891.87" fill="none" stroke="#fdc010" stroke-width="1.5"/>
<circle cx="343.80" cy="876.64" r="2.9" fill="#2ca2db"/>
<path d="M379.80,928.41V934.50M377.30,928.41H382.30M377.30,934.50H382.30" fill="none" stroke="#2ca2db" stroke-width="1.2"/>
<circle cx="379.80" cy="931.46" r="2.9" fill="#2ca2db"/>
<path d="M416.05,940.59V946.68M413.55,940.59H418.55M413.55,946.68H418.55" fill="none" stroke="#2ca2db" stroke-width="1.2"/>
<circle cx="416.05" cy="943.63" r="2.9" fill="#2ca2db"/>
<path d="M343.80,929.32V933.59M341.30,929.32H346.30M341.30,933.59H346.30" fill="none" stroke="#ef5a3a" stroke-width="1.2"/>
<rect x="341.20" y="928.86" width="5.20" height="5.20" fill="#ef5a3a"/>
<circle cx="379.80" cy="891.87" r="2.9" fill="#ef5a3a"/>
<circle cx="416.05" cy="989.31" r="2.9" fill="#ef5a3a"/>
<circle cx="343.80" cy="882.74" r="2.9" fill="#fdc010"/>
<circle cx="379.80" cy="913.19" r="2.9" fill="#fdc010"/>
<circle cx="416.05" cy="891.87" r="2.9" fill="#fdc010"/>
<text x="339.50" y="881.64" font-size="12.5" text-anchor="end" fill="#2ca2db" textLength="13.75" lengthAdjust="spacingAndGlyphs" stroke="#2ca2db" stroke-width="0.2">ID</text>
<text x="379.80" y="886.07" font-size="12.5" text-anchor="middle" fill="#ef5a3a" textLength="13.75" lengthAdjust="spacingAndGlyphs" stroke="#ef5a3a" stroke-width="0.2">ID</text>
<text x="416.05" y="886.07" font-size="12.5" text-anchor="middle" fill="#fdc010" textLength="13.75" lengthAdjust="spacingAndGlyphs" stroke="#fdc010" stroke-width="0.2">ID</text>
<path d="M455.50,869.00V1010.50H563.95" fill="none" stroke="#555555" stroke-width="1.1"/>
<line x1="449.95" y1="873.60" x2="455.95" y2="873.60" stroke="#555555" stroke-width="1.1" />
<line x1="449.95" y1="904.05" x2="455.95" y2="904.05" stroke="#555555" stroke-width="1.1" />
<line x1="449.95" y1="934.50" x2="455.95" y2="934.50" stroke="#555555" stroke-width="1.1" />
<line x1="449.95" y1="964.95" x2="455.95" y2="964.95" stroke="#555555" stroke-width="1.1" />
<line x1="449.95" y1="995.40" x2="455.95" y2="995.40" stroke="#555555" stroke-width="1.1" />
<line x1="473.45" y1="1010.30" x2="473.45" y2="1016.60" stroke="#555555" stroke-width="1.1" />
<line x1="509.45" y1="1010.30" x2="509.45" y2="1016.60" stroke="#555555" stroke-width="1.1" />
<line x1="545.70" y1="1010.30" x2="545.70" y2="1016.60" stroke="#555555" stroke-width="1.1" />
<text x="509.65" y="861.00" font-size="15" text-anchor="middle" textLength="38.54" lengthAdjust="spacingAndGlyphs" stroke="#231f20" stroke-width="0.2">5E94</text>
<rect x="457.70" y="981.30" width="38.40" height="8.70" fill="#2ca2db"/>
<text x="464.10" y="988.20" font-size="7.2" text-anchor="middle" fill="#1d1d1d" textLength="12.61" lengthAdjust="spacingAndGlyphs" stroke="#1d1d1d" stroke-width="0.2">100</text>
<text x="476.90" y="988.20" font-size="7.2" text-anchor="middle" fill="#1d1d1d" textLength="8.41" lengthAdjust="spacingAndGlyphs" stroke="#1d1d1d" stroke-width="0.2">81</text>
<text x="489.70" y="988.20" font-size="7.2" text-anchor="middle" fill="#1d1d1d" textLength="8.41" lengthAdjust="spacingAndGlyphs" stroke="#1d1d1d" stroke-width="0.2">71</text>
<rect x="457.70" y="989.90" width="38.40" height="8.70" fill="#ef5a3a"/>
<text x="464.10" y="996.80" font-size="7.2" text-anchor="middle" fill="#1d1d1d" textLength="8.41" lengthAdjust="spacingAndGlyphs" stroke="#1d1d1d" stroke-width="0.2">97</text>
<text x="476.90" y="996.80" font-size="7.2" text-anchor="middle" fill="#1d1d1d" textLength="8.41" lengthAdjust="spacingAndGlyphs" stroke="#1d1d1d" stroke-width="0.2">94</text>
<text x="489.70" y="996.80" font-size="7.2" text-anchor="middle" fill="#1d1d1d" textLength="8.41" lengthAdjust="spacingAndGlyphs" stroke="#1d1d1d" stroke-width="0.2">86</text>
<rect x="457.70" y="998.50" width="38.40" height="8.70" fill="#fdc010"/>
<text x="464.10" y="1005.40" font-size="7.2" text-anchor="middle" fill="#1d1d1d" textLength="8.41" lengthAdjust="spacingAndGlyphs" stroke="#1d1d1d" stroke-width="0.2">96</text>
<text x="476.90" y="1005.40" font-size="7.2" text-anchor="middle" fill="#1d1d1d" textLength="8.41" lengthAdjust="spacingAndGlyphs" stroke="#1d1d1d" stroke-width="0.2">94</text>
<text x="489.70" y="1005.40" font-size="7.2" text-anchor="middle" fill="#1d1d1d" textLength="8.41" lengthAdjust="spacingAndGlyphs" stroke="#1d1d1d" stroke-width="0.2">92</text>
<path d="M473.45,873.60L509.45,931.46L545.70,961.90" fill="none" stroke="#2ca2db" stroke-width="1.5"/>
<path d="M473.45,882.74L509.45,891.87L545.70,916.23" fill="none" stroke="#ef5a3a" stroke-width="1.5"/>
<path d="M473.45,885.78L509.45,891.87L545.70,897.96" fill="none" stroke="#fdc010" stroke-width="1.5"/>
<circle cx="473.45" cy="873.60" r="2.9" fill="#2ca2db"/>
<path d="M509.45,928.41V934.50M506.95,928.41H511.95M506.95,934.50H511.95" fill="none" stroke="#2ca2db" stroke-width="1.2"/>
<circle cx="509.45" cy="931.46" r="2.9" fill="#2ca2db"/>
<path d="M545.70,959.77V964.04M543.20,959.77H548.20M543.20,964.04H548.20" fill="none" stroke="#2ca2db" stroke-width="1.2"/>
<circle cx="545.70" cy="961.90" r="2.9" fill="#2ca2db"/>
<circle cx="473.45" cy="882.74" r="2.9" fill="#ef5a3a"/>
<circle cx="509.45" cy="891.87" r="2.9" fill="#ef5a3a"/>
<rect x="543.10" y="913.63" width="5.20" height="5.20" fill="#ef5a3a"/>
<circle cx="473.45" cy="885.78" r="2.9" fill="#fdc010"/>
<circle cx="509.45" cy="891.87" r="2.9" fill="#fdc010"/>
<circle cx="545.70" cy="897.96" r="2.9" fill="#fdc010"/>
<text x="469.15" y="878.60" font-size="12.5" text-anchor="end" fill="#2ca2db" textLength="13.75" lengthAdjust="spacingAndGlyphs" stroke="#2ca2db" stroke-width="0.2">ID</text>
<text x="509.45" y="886.07" font-size="12.5" text-anchor="middle" fill="#ef5a3a" textLength="13.75" lengthAdjust="spacingAndGlyphs" stroke="#ef5a3a" stroke-width="0.2">ID</text>
<text x="545.70" y="892.16" font-size="12.5" text-anchor="middle" fill="#fdc010" textLength="13.75" lengthAdjust="spacingAndGlyphs" stroke="#fdc010" stroke-width="0.2">ID</text>
<path d="M585.50,869.00V1010.50H693.60" fill="none" stroke="#555555" stroke-width="1.1"/>
<line x1="579.60" y1="873.60" x2="585.60" y2="873.60" stroke="#555555" stroke-width="1.1" />
<line x1="579.60" y1="904.05" x2="585.60" y2="904.05" stroke="#555555" stroke-width="1.1" />
<line x1="579.60" y1="934.50" x2="585.60" y2="934.50" stroke="#555555" stroke-width="1.1" />
<line x1="579.60" y1="964.95" x2="585.60" y2="964.95" stroke="#555555" stroke-width="1.1" />
<line x1="579.60" y1="995.40" x2="585.60" y2="995.40" stroke="#555555" stroke-width="1.1" />
<line x1="603.10" y1="1010.30" x2="603.10" y2="1016.60" stroke="#555555" stroke-width="1.1" />
<line x1="639.10" y1="1010.30" x2="639.10" y2="1016.60" stroke="#555555" stroke-width="1.1" />
<line x1="675.35" y1="1010.30" x2="675.35" y2="1016.60" stroke="#555555" stroke-width="1.1" />
<text x="639.30" y="861.00" font-size="15" text-anchor="middle" textLength="44.01" lengthAdjust="spacingAndGlyphs" stroke="#231f20" stroke-width="0.2">1WEJ</text>
<rect x="587.35" y="981.30" width="32.40" height="8.70" fill="#2ca2db"/>
<text x="592.75" y="988.20" font-size="7.2" text-anchor="middle" fill="#1d1d1d" textLength="8.41" lengthAdjust="spacingAndGlyphs" stroke="#1d1d1d" stroke-width="0.2">99</text>
<text x="603.55" y="988.20" font-size="7.2" text-anchor="middle" fill="#1d1d1d" textLength="8.41" lengthAdjust="spacingAndGlyphs" stroke="#1d1d1d" stroke-width="0.2">80</text>
<text x="614.35" y="988.20" font-size="7.2" text-anchor="middle" fill="#1d1d1d" textLength="8.41" lengthAdjust="spacingAndGlyphs" stroke="#1d1d1d" stroke-width="0.2">74</text>
<rect x="587.35" y="989.90" width="32.40" height="8.70" fill="#ef5a3a"/>
<text x="592.75" y="996.80" font-size="7.2" text-anchor="middle" fill="#1d1d1d" textLength="8.41" lengthAdjust="spacingAndGlyphs" stroke="#1d1d1d" stroke-width="0.2">86</text>
<text x="603.55" y="996.80" font-size="7.2" text-anchor="middle" fill="#1d1d1d" textLength="8.41" lengthAdjust="spacingAndGlyphs" stroke="#1d1d1d" stroke-width="0.2">94</text>
<text x="614.35" y="996.80" font-size="7.2" text-anchor="middle" fill="#1d1d1d" textLength="8.41" lengthAdjust="spacingAndGlyphs" stroke="#1d1d1d" stroke-width="0.2">67</text>
<rect x="587.35" y="998.50" width="32.40" height="8.70" fill="#fdc010"/>
<text x="592.75" y="1005.40" font-size="7.2" text-anchor="middle" fill="#1d1d1d" textLength="8.41" lengthAdjust="spacingAndGlyphs" stroke="#1d1d1d" stroke-width="0.2">96</text>
<text x="603.55" y="1005.40" font-size="7.2" text-anchor="middle" fill="#1d1d1d" textLength="8.41" lengthAdjust="spacingAndGlyphs" stroke="#1d1d1d" stroke-width="0.2">90</text>
<text x="614.35" y="1005.40" font-size="7.2" text-anchor="middle" fill="#1d1d1d" textLength="8.41" lengthAdjust="spacingAndGlyphs" stroke="#1d1d1d" stroke-width="0.2">92</text>
<path d="M603.10,876.64L639.10,934.50L675.35,952.77" fill="none" stroke="#2ca2db" stroke-width="1.5"/>
<path d="M603.10,916.23L639.10,891.87L675.35,974.09" fill="none" stroke="#ef5a3a" stroke-width="1.5"/>
<path d="M603.10,885.78L639.10,904.05L675.35,897.96" fill="none" stroke="#fdc010" stroke-width="1.5"/>
<circle cx="603.10" cy="876.64" r="2.9" fill="#2ca2db"/>
<path d="M639.10,932.67V936.33M636.60,932.67H641.60M636.60,936.33H641.60" fill="none" stroke="#2ca2db" stroke-width="1.2"/>
<circle cx="639.10" cy="934.50" r="2.9" fill="#2ca2db"/>
<path d="M675.35,946.68V958.86M672.85,946.68H677.85M672.85,958.86H677.85" fill="none" stroke="#2ca2db" stroke-width="1.2"/>
<circle cx="675.35" cy="952.77" r="2.9" fill="#2ca2db"/>
<path d="M603.10,913.19V919.27M600.60,913.19H605.60M600.60,919.27H605.60" fill="none" stroke="#ef5a3a" stroke-width="1.2"/>
<circle cx="603.10" cy="916.23" r="2.9" fill="#ef5a3a"/>
<circle cx="639.10" cy="891.87" r="2.9" fill="#ef5a3a"/>
<rect x="672.75" y="971.49" width="5.20" height="5.20" fill="#ef5a3a"/>
<circle cx="603.10" cy="885.78" r="2.9" fill="#fdc010"/>
<circle cx="639.10" cy="904.05" r="2.9" fill="#fdc010"/>
<circle cx="675.35" cy="897.96" r="2.9" fill="#fdc010"/>
<text x="598.80" y="881.64" font-size="12.5" text-anchor="end" fill="#2ca2db" textLength="13.75" lengthAdjust="spacingAndGlyphs" stroke="#2ca2db" stroke-width="0.2">ID</text>
<text x="639.10" y="886.07" font-size="12.5" text-anchor="middle" fill="#ef5a3a" textLength="13.75" lengthAdjust="spacingAndGlyphs" stroke="#ef5a3a" stroke-width="0.2">ID</text>
<text x="675.35" y="892.16" font-size="12.5" text-anchor="middle" fill="#fdc010" textLength="13.75" lengthAdjust="spacingAndGlyphs" stroke="#fdc010" stroke-width="0.2">ID</text>
<path d="M67.50,1043.10V1184.50H175.00" fill="none" stroke="#555555" stroke-width="1.1"/>
<line x1="61.00" y1="1047.70" x2="67.00" y2="1047.70" stroke="#555555" stroke-width="1.1" />
<text x="56.80" y="1052.10" font-size="13" text-anchor="end" textLength="19.50" lengthAdjust="spacingAndGlyphs" stroke="#231f20" stroke-width="0.2">1.0</text>
<line x1="61.00" y1="1078.15" x2="67.00" y2="1078.15" stroke="#555555" stroke-width="1.1" />
<text x="56.80" y="1082.55" font-size="13" text-anchor="end" textLength="19.50" lengthAdjust="spacingAndGlyphs" stroke="#231f20" stroke-width="0.2">0.9</text>
<line x1="61.00" y1="1108.60" x2="67.00" y2="1108.60" stroke="#555555" stroke-width="1.1" />
<text x="56.80" y="1113.00" font-size="13" text-anchor="end" textLength="19.50" lengthAdjust="spacingAndGlyphs" stroke="#231f20" stroke-width="0.2">0.8</text>
<line x1="61.00" y1="1139.05" x2="67.00" y2="1139.05" stroke="#555555" stroke-width="1.1" />
<text x="56.80" y="1143.45" font-size="13" text-anchor="end" textLength="19.50" lengthAdjust="spacingAndGlyphs" stroke="#231f20" stroke-width="0.2">0.7</text>
<line x1="61.00" y1="1169.50" x2="67.00" y2="1169.50" stroke="#555555" stroke-width="1.1" />
<text x="56.80" y="1173.90" font-size="13" text-anchor="end" textLength="19.50" lengthAdjust="spacingAndGlyphs" stroke="#231f20" stroke-width="0.2">0.6</text>
<line x1="84.50" y1="1184.40" x2="84.50" y2="1190.70" stroke="#555555" stroke-width="1.1" />
<line x1="120.50" y1="1184.40" x2="120.50" y2="1190.70" stroke="#555555" stroke-width="1.1" />
<line x1="156.75" y1="1184.40" x2="156.75" y2="1190.70" stroke="#555555" stroke-width="1.1" />
<text x="120.70" y="1035.10" font-size="15" text-anchor="middle" textLength="42.19" lengthAdjust="spacingAndGlyphs" stroke="#231f20" stroke-width="0.2">1OB1</text>
<rect x="68.75" y="1155.40" width="32.40" height="8.70" fill="#2ca2db"/>
<text x="74.15" y="1162.30" font-size="7.2" text-anchor="middle" fill="#1d1d1d" textLength="8.41" lengthAdjust="spacingAndGlyphs" stroke="#1d1d1d" stroke-width="0.2">99</text>
<text x="84.95" y="1162.30" font-size="7.2" text-anchor="middle" fill="#1d1d1d" textLength="8.41" lengthAdjust="spacingAndGlyphs" stroke="#1d1d1d" stroke-width="0.2">81</text>
<text x="95.75" y="1162.30" font-size="7.2" text-anchor="middle" fill="#1d1d1d" textLength="8.41" lengthAdjust="spacingAndGlyphs" stroke="#1d1d1d" stroke-width="0.2">71</text>
<rect x="68.75" y="1164.00" width="32.40" height="8.70" fill="#ef5a3a"/>
<text x="74.15" y="1170.90" font-size="7.2" text-anchor="middle" fill="#1d1d1d" textLength="8.41" lengthAdjust="spacingAndGlyphs" stroke="#1d1d1d" stroke-width="0.2">95</text>
<text x="84.95" y="1170.90" font-size="7.2" text-anchor="middle" fill="#1d1d1d" textLength="8.41" lengthAdjust="spacingAndGlyphs" stroke="#1d1d1d" stroke-width="0.2">95</text>
<text x="95.75" y="1170.90" font-size="7.2" text-anchor="middle" fill="#1d1d1d" textLength="8.41" lengthAdjust="spacingAndGlyphs" stroke="#1d1d1d" stroke-width="0.2">74</text>
<rect x="68.75" y="1172.60" width="32.40" height="8.70" fill="#fdc010"/>
<text x="74.15" y="1179.50" font-size="7.2" text-anchor="middle" fill="#1d1d1d" textLength="8.41" lengthAdjust="spacingAndGlyphs" stroke="#1d1d1d" stroke-width="0.2">95</text>
<text x="84.95" y="1179.50" font-size="7.2" text-anchor="middle" fill="#1d1d1d" textLength="8.41" lengthAdjust="spacingAndGlyphs" stroke="#1d1d1d" stroke-width="0.2">91</text>
<text x="95.75" y="1179.50" font-size="7.2" text-anchor="middle" fill="#1d1d1d" textLength="8.41" lengthAdjust="spacingAndGlyphs" stroke="#1d1d1d" stroke-width="0.2">91</text>
<path d="M84.50,1050.75L120.50,1105.56L156.75,1136.01" fill="none" stroke="#2ca2db" stroke-width="1.5"/>
<path d="M84.50,1062.92L120.50,1062.92L156.75,1126.87" fill="none" stroke="#ef5a3a" stroke-width="1.5"/>
<path d="M84.50,1062.92L120.50,1075.11L156.75,1075.11" fill="none" stroke="#fdc010" stroke-width="1.5"/>
<circle cx="84.50" cy="1050.75" r="2.9" fill="#2ca2db"/>
<path d="M120.50,1102.51V1108.60M118.00,1102.51H123.00M118.00,1108.60H123.00" fill="none" stroke="#2ca2db" stroke-width="1.2"/>
<circle cx="120.50" cy="1105.56" r="2.9" fill="#2ca2db"/>
<path d="M156.75,1132.35V1139.66M154.25,1132.35H159.25M154.25,1139.66H159.25" fill="none" stroke="#2ca2db" stroke-width="1.2"/>
<circle cx="156.75" cy="1136.01" r="2.9" fill="#2ca2db"/>
<circle cx="84.50" cy="1062.92" r="2.9" fill="#ef5a3a"/>
<circle cx="120.50" cy="1062.92" r="2.9" fill="#ef5a3a"/>
<path d="M156.75,1123.83V1129.92M154.25,1123.83H159.25M154.25,1129.92H159.25" fill="none" stroke="#ef5a3a" stroke-width="1.2"/>
<circle cx="156.75" cy="1126.87" r="2.9" fill="#ef5a3a"/>
<circle cx="84.50" cy="1062.92" r="2.9" fill="#fdc010"/>
<rect x="117.90" y="1072.51" width="5.20" height="5.20" fill="#fdc010"/>
<rect x="154.15" y="1072.51" width="5.20" height="5.20" fill="#fdc010"/>
<text x="80.20" y="1055.75" font-size="12.5" text-anchor="end" fill="#2ca2db" textLength="13.75" lengthAdjust="spacingAndGlyphs" stroke="#2ca2db" stroke-width="0.2">ID</text>
<text x="120.50" y="1057.12" font-size="12.5" text-anchor="middle" fill="#ef5a3a" textLength="13.75" lengthAdjust="spacingAndGlyphs" stroke="#ef5a3a" stroke-width="0.2">ID</text>
<text x="156.75" y="1069.31" font-size="12.5" text-anchor="middle" fill="#fdc010" textLength="13.75" lengthAdjust="spacingAndGlyphs" stroke="#fdc010" stroke-width="0.2">ID</text>
<text x="90.50" y="1202.30" font-size="14" text-anchor="end" textLength="93.40" lengthAdjust="spacingAndGlyphs" transform="rotate(-45 90.50 1202.30)" stroke="#231f20" stroke-width="0.2">‘vs non-binder’</text>
<text x="126.50" y="1202.30" font-size="14" text-anchor="end" textLength="32.53" lengthAdjust="spacingAndGlyphs" transform="rotate(-45 126.50 1202.30)" stroke="#231f20" stroke-width="0.2">‘vs 9’</text>
<text x="162.75" y="1202.30" font-size="14" text-anchor="end" textLength="57.93" lengthAdjust="spacingAndGlyphs" transform="rotate(-45 162.75 1202.30)" stroke="#231f20" stroke-width="0.2">‘vs weak’</text>
<path d="M196.50,1043.10V1184.50H304.65" fill="none" stroke="#555555" stroke-width="1.1"/>
<line x1="190.65" y1="1047.70" x2="196.65" y2="1047.70" stroke="#555555" stroke-width="1.1" />
<line x1="190.65" y1="1078.15" x2="196.65" y2="1078.15" stroke="#555555" stroke-width="1.1" />
<line x1="190.65" y1="1108.60" x2="196.65" y2="1108.60" stroke="#555555" stroke-width="1.1" />
<line x1="190.65" y1="1139.05" x2="196.65" y2="1139.05" stroke="#555555" stroke-width="1.1" />
<line x1="190.65" y1="1169.50" x2="196.65" y2="1169.50" stroke="#555555" stroke-width="1.1" />
<line x1="214.15" y1="1184.40" x2="214.15" y2="1190.70" stroke="#555555" stroke-width="1.1" />
<line x1="250.15" y1="1184.40" x2="250.15" y2="1190.70" stroke="#555555" stroke-width="1.1" />
<line x1="286.40" y1="1184.40" x2="286.40" y2="1190.70" stroke="#555555" stroke-width="1.1" />
<text x="250.35" y="1035.10" font-size="15" text-anchor="middle" textLength="44.01" lengthAdjust="spacingAndGlyphs" stroke="#231f20" stroke-width="0.2">1NSN</text>
<rect x="233.95" y="1155.40" width="32.40" height="8.70" fill="#2ca2db"/>
<text x="239.35" y="1162.30" font-size="7.2" text-anchor="middle" fill="#1d1d1d" textLength="8.41" lengthAdjust="spacingAndGlyphs" stroke="#1d1d1d" stroke-width="0.2">98</text>
<text x="250.15" y="1162.30" font-size="7.2" text-anchor="middle" fill="#1d1d1d" textLength="8.41" lengthAdjust="spacingAndGlyphs" stroke="#1d1d1d" stroke-width="0.2">83</text>
<text x="260.95" y="1162.30" font-size="7.2" text-anchor="middle" fill="#1d1d1d" textLength="8.41" lengthAdjust="spacingAndGlyphs" stroke="#1d1d1d" stroke-width="0.2">71</text>
<rect x="233.95" y="1164.00" width="32.40" height="8.70" fill="#ef5a3a"/>
<text x="239.35" y="1170.90" font-size="7.2" text-anchor="middle" fill="#1d1d1d" textLength="8.41" lengthAdjust="spacingAndGlyphs" stroke="#1d1d1d" stroke-width="0.2">63</text>
<text x="250.15" y="1170.90" font-size="7.2" text-anchor="middle" fill="#1d1d1d" textLength="8.41" lengthAdjust="spacingAndGlyphs" stroke="#1d1d1d" stroke-width="0.2">96</text>
<text x="260.95" y="1170.90" font-size="7.2" text-anchor="middle" fill="#1d1d1d" textLength="8.41" lengthAdjust="spacingAndGlyphs" stroke="#1d1d1d" stroke-width="0.2">67</text>
<rect x="233.95" y="1172.60" width="32.40" height="8.70" fill="#fdc010"/>
<text x="239.35" y="1179.50" font-size="7.2" text-anchor="middle" fill="#1d1d1d" textLength="8.41" lengthAdjust="spacingAndGlyphs" stroke="#1d1d1d" stroke-width="0.2">94</text>
<text x="250.15" y="1179.50" font-size="7.2" text-anchor="middle" fill="#1d1d1d" textLength="8.41" lengthAdjust="spacingAndGlyphs" stroke="#1d1d1d" stroke-width="0.2">90</text>
<text x="260.95" y="1179.50" font-size="7.2" text-anchor="middle" fill="#1d1d1d" textLength="8.41" lengthAdjust="spacingAndGlyphs" stroke="#1d1d1d" stroke-width="0.2">91</text>
<path d="M214.15,1053.79L250.15,1099.47L286.40,1136.01" fill="none" stroke="#2ca2db" stroke-width="1.5"/>
<path d="M214.15,1160.37L250.15,1059.88L286.40,1148.18" fill="none" stroke="#ef5a3a" stroke-width="1.5"/>
<path d="M214.15,1065.97L250.15,1078.15L286.40,1075.11" fill="none" stroke="#fdc010" stroke-width="1.5"/>
<circle cx="214.15" cy="1053.79" r="2.9" fill="#2ca2db"/>
<circle cx="250.15" cy="1099.47" r="2.9" fill="#2ca2db"/>
<path d="M286.40,1134.48V1137.53M283.90,1134.48H288.90M283.90,1137.53H288.90" fill="none" stroke="#2ca2db" stroke-width="1.2"/>
<rect x="283.80" y="1133.41" width="5.20" height="5.20" fill="#2ca2db"/>
<rect x="211.55" y="1157.77" width="5.20" height="5.20" fill="#ef5a3a"/>
<circle cx="250.15" cy="1059.88" r="2.9" fill="#ef5a3a"/>
<circle cx="286.40" cy="1148.18" r="2.9" fill="#ef5a3a"/>
<circle cx="214.15" cy="1065.97" r="2.9" fill="#fdc010"/>
<circle cx="250.15" cy="1078.15" r="2.9" fill="#fdc010"/>
<rect x="283.80" y="1072.51" width="5.20" height="5.20" fill="#fdc010"/>
<text x="209.85" y="1058.79" font-size="12.5" text-anchor="end" fill="#2ca2db" textLength="13.75" lengthAdjust="spacingAndGlyphs" stroke="#2ca2db" stroke-width="0.2">ID</text>
<text x="250.15" y="1054.08" font-size="12.5" text-anchor="middle" fill="#ef5a3a" textLength="13.75" lengthAdjust="spacingAndGlyphs" stroke="#ef5a3a" stroke-width="0.2">ID</text>
<text x="286.40" y="1069.31" font-size="12.5" text-anchor="middle" fill="#fdc010" textLength="13.75" lengthAdjust="spacingAndGlyphs" stroke="#fdc010" stroke-width="0.2">ID</text>
<text x="220.15" y="1202.30" font-size="14" text-anchor="end" textLength="93.40" lengthAdjust="spacingAndGlyphs" transform="rotate(-45 220.15 1202.30)" stroke="#231f20" stroke-width="0.2">‘vs non-binder’</text>
<text x="256.15" y="1202.30" font-size="14" text-anchor="end" textLength="32.53" lengthAdjust="spacingAndGlyphs" transform="rotate(-45 256.15 1202.30)" stroke="#231f20" stroke-width="0.2">‘vs 9’</text>
<text x="292.40" y="1202.30" font-size="14" text-anchor="end" textLength="57.93" lengthAdjust="spacingAndGlyphs" transform="rotate(-45 292.40 1202.30)" stroke="#231f20" stroke-width="0.2">‘vs weak’</text>
<path d="M326.50,1043.10V1184.50H434.30" fill="none" stroke="#555555" stroke-width="1.1"/>
<line x1="320.30" y1="1047.70" x2="326.30" y2="1047.70" stroke="#555555" stroke-width="1.1" />
<line x1="320.30" y1="1078.15" x2="326.30" y2="1078.15" stroke="#555555" stroke-width="1.1" />
<line x1="320.30" y1="1108.60" x2="326.30" y2="1108.60" stroke="#555555" stroke-width="1.1" />
<line x1="320.30" y1="1139.05" x2="326.30" y2="1139.05" stroke="#555555" stroke-width="1.1" />
<line x1="320.30" y1="1169.50" x2="326.30" y2="1169.50" stroke="#555555" stroke-width="1.1" />
<line x1="343.80" y1="1184.40" x2="343.80" y2="1190.70" stroke="#555555" stroke-width="1.1" />
<line x1="379.80" y1="1184.40" x2="379.80" y2="1190.70" stroke="#555555" stroke-width="1.1" />
<line x1="416.05" y1="1184.40" x2="416.05" y2="1190.70" stroke="#555555" stroke-width="1.1" />
<text x="380.00" y="1035.10" font-size="15" text-anchor="middle" textLength="42.18" lengthAdjust="spacingAndGlyphs" stroke="#231f20" stroke-width="0.2">1H0D</text>
<rect x="328.05" y="1155.40" width="32.40" height="8.70" fill="#2ca2db"/>
<text x="333.45" y="1162.30" font-size="7.2" text-anchor="middle" fill="#1d1d1d" textLength="8.41" lengthAdjust="spacingAndGlyphs" stroke="#1d1d1d" stroke-width="0.2">98</text>
<text x="344.25" y="1162.30" font-size="7.2" text-anchor="middle" fill="#1d1d1d" textLength="8.41" lengthAdjust="spacingAndGlyphs" stroke="#1d1d1d" stroke-width="0.2">81</text>
<text x="355.05" y="1162.30" font-size="7.2" text-anchor="middle" fill="#1d1d1d" textLength="8.41" lengthAdjust="spacingAndGlyphs" stroke="#1d1d1d" stroke-width="0.2">73</text>
<rect x="328.05" y="1164.00" width="32.40" height="8.70" fill="#ef5a3a"/>
<text x="333.45" y="1170.90" font-size="7.2" text-anchor="middle" fill="#1d1d1d" textLength="8.41" lengthAdjust="spacingAndGlyphs" stroke="#1d1d1d" stroke-width="0.2">68</text>
<text x="344.25" y="1170.90" font-size="7.2" text-anchor="middle" fill="#1d1d1d" textLength="8.41" lengthAdjust="spacingAndGlyphs" stroke="#1d1d1d" stroke-width="0.2">94</text>
<text x="355.05" y="1170.90" font-size="7.2" text-anchor="middle" fill="#1d1d1d" textLength="8.41" lengthAdjust="spacingAndGlyphs" stroke="#1d1d1d" stroke-width="0.2">57</text>
<rect x="328.05" y="1172.60" width="32.40" height="8.70" fill="#fdc010"/>
<text x="333.45" y="1179.50" font-size="7.2" text-anchor="middle" fill="#1d1d1d" textLength="8.41" lengthAdjust="spacingAndGlyphs" stroke="#1d1d1d" stroke-width="0.2">95</text>
<text x="344.25" y="1179.50" font-size="7.2" text-anchor="middle" fill="#1d1d1d" textLength="8.41" lengthAdjust="spacingAndGlyphs" stroke="#1d1d1d" stroke-width="0.2">82</text>
<text x="355.05" y="1179.50" font-size="7.2" text-anchor="middle" fill="#1d1d1d" textLength="8.41" lengthAdjust="spacingAndGlyphs" stroke="#1d1d1d" stroke-width="0.2">89</text>
<path d="M343.80,1053.79L379.80,1105.56L416.05,1129.91" fill="none" stroke="#2ca2db" stroke-width="1.5"/>
<path d="M343.80,1145.14L379.80,1065.97L416.05,1178.63" fill="none" stroke="#ef5a3a" stroke-width="1.5"/>
<path d="M343.80,1062.92L379.80,1102.51L416.05,1081.19" fill="none" stroke="#fdc010" stroke-width="1.5"/>
<circle cx="343.80" cy="1053.79" r="2.9" fill="#2ca2db"/>
<circle cx="379.80" cy="1105.56" r="2.9" fill="#2ca2db"/>
<circle cx="416.05" cy="1129.91" r="2.9" fill="#2ca2db"/>
<path d="M343.80,1142.10V1148.19M341.30,1142.10H346.30M341.30,1148.19H346.30" fill="none" stroke="#ef5a3a" stroke-width="1.2"/>
<circle cx="343.80" cy="1145.14" r="2.9" fill="#ef5a3a"/>
<circle cx="379.80" cy="1065.97" r="2.9" fill="#ef5a3a"/>
<circle cx="416.05" cy="1178.63" r="2.9" fill="#ef5a3a"/>
<circle cx="343.80" cy="1062.92" r="2.9" fill="#fdc010"/>
<rect x="377.20" y="1099.91" width="5.20" height="5.20" fill="#fdc010"/>
<circle cx="416.05" cy="1081.19" r="2.9" fill="#fdc010"/>
<text x="339.50" y="1058.79" font-size="12.5" text-anchor="end" fill="#2ca2db" textLength="13.75" lengthAdjust="spacingAndGlyphs" stroke="#2ca2db" stroke-width="0.2">ID</text>
<text x="379.80" y="1060.17" font-size="12.5" text-anchor="middle" fill="#ef5a3a" textLength="13.75" lengthAdjust="spacingAndGlyphs" stroke="#ef5a3a" stroke-width="0.2">ID</text>
<text x="416.05" y="1075.39" font-size="12.5" text-anchor="middle" fill="#fdc010" textLength="13.75" lengthAdjust="spacingAndGlyphs" stroke="#fdc010" stroke-width="0.2">ID</text>
<text x="349.80" y="1202.30" font-size="14" text-anchor="end" textLength="93.40" lengthAdjust="spacingAndGlyphs" transform="rotate(-45 349.80 1202.30)" stroke="#231f20" stroke-width="0.2">‘vs non-binder’</text>
<text x="385.80" y="1202.30" font-size="14" text-anchor="end" textLength="32.53" lengthAdjust="spacingAndGlyphs" transform="rotate(-45 385.80 1202.30)" stroke="#231f20" stroke-width="0.2">‘vs 9’</text>
<text x="422.05" y="1202.30" font-size="14" text-anchor="end" textLength="57.93" lengthAdjust="spacingAndGlyphs" transform="rotate(-45 422.05 1202.30)" stroke="#231f20" stroke-width="0.2">‘vs weak’</text>
<path d="M455.50,1043.10V1184.50H563.95" fill="none" stroke="#555555" stroke-width="1.1"/>
<line x1="449.95" y1="1047.70" x2="455.95" y2="1047.70" stroke="#555555" stroke-width="1.1" />
<line x1="449.95" y1="1078.15" x2="455.95" y2="1078.15" stroke="#555555" stroke-width="1.1" />
<line x1="449.95" y1="1108.60" x2="455.95" y2="1108.60" stroke="#555555" stroke-width="1.1" />
<line x1="449.95" y1="1139.05" x2="455.95" y2="1139.05" stroke="#555555" stroke-width="1.1" />
<line x1="449.95" y1="1169.50" x2="455.95" y2="1169.50" stroke="#555555" stroke-width="1.1" />
<line x1="473.45" y1="1184.40" x2="473.45" y2="1190.70" stroke="#555555" stroke-width="1.1" />
<line x1="509.45" y1="1184.40" x2="509.45" y2="1190.70" stroke="#555555" stroke-width="1.1" />
<line x1="545.70" y1="1184.40" x2="545.70" y2="1190.70" stroke="#555555" stroke-width="1.1" />
<text x="509.65" y="1035.10" font-size="15" text-anchor="middle" textLength="40.35" lengthAdjust="spacingAndGlyphs" stroke="#231f20" stroke-width="0.2">3RAJ</text>
<rect x="457.70" y="1155.40" width="32.40" height="8.70" fill="#2ca2db"/>
<text x="463.10" y="1162.30" font-size="7.2" text-anchor="middle" fill="#1d1d1d" textLength="8.41" lengthAdjust="spacingAndGlyphs" stroke="#1d1d1d" stroke-width="0.2">99</text>
<text x="473.90" y="1162.30" font-size="7.2" text-anchor="middle" fill="#1d1d1d" textLength="8.41" lengthAdjust="spacingAndGlyphs" stroke="#1d1d1d" stroke-width="0.2">73</text>
<text x="484.70" y="1162.30" font-size="7.2" text-anchor="middle" fill="#1d1d1d" textLength="8.41" lengthAdjust="spacingAndGlyphs" stroke="#1d1d1d" stroke-width="0.2">68</text>
<rect x="457.70" y="1164.00" width="32.40" height="8.70" fill="#ef5a3a"/>
<text x="463.10" y="1170.90" font-size="7.2" text-anchor="middle" fill="#1d1d1d" textLength="8.41" lengthAdjust="spacingAndGlyphs" stroke="#1d1d1d" stroke-width="0.2">95</text>
<text x="473.90" y="1170.90" font-size="7.2" text-anchor="middle" fill="#1d1d1d" textLength="8.41" lengthAdjust="spacingAndGlyphs" stroke="#1d1d1d" stroke-width="0.2">91</text>
<text x="484.70" y="1170.90" font-size="7.2" text-anchor="middle" fill="#1d1d1d" textLength="8.41" lengthAdjust="spacingAndGlyphs" stroke="#1d1d1d" stroke-width="0.2">79</text>
<rect x="457.70" y="1172.60" width="32.40" height="8.70" fill="#fdc010"/>
<text x="463.10" y="1179.50" font-size="7.2" text-anchor="middle" fill="#1d1d1d" textLength="8.41" lengthAdjust="spacingAndGlyphs" stroke="#1d1d1d" stroke-width="0.2">94</text>
<text x="473.90" y="1179.50" font-size="7.2" text-anchor="middle" fill="#1d1d1d" textLength="8.41" lengthAdjust="spacingAndGlyphs" stroke="#1d1d1d" stroke-width="0.2">86</text>
<text x="484.70" y="1179.50" font-size="7.2" text-anchor="middle" fill="#1d1d1d" textLength="8.41" lengthAdjust="spacingAndGlyphs" stroke="#1d1d1d" stroke-width="0.2">88</text>
<path d="M473.45,1050.75L509.45,1129.91L545.70,1145.14" fill="none" stroke="#2ca2db" stroke-width="1.5"/>
<path d="M473.45,1062.92L509.45,1075.11L545.70,1111.64" fill="none" stroke="#ef5a3a" stroke-width="1.5"/>
<path d="M473.45,1065.97L509.45,1090.33L545.70,1084.24" fill="none" stroke="#fdc010" stroke-width="1.5"/>
<circle cx="473.45" cy="1050.75" r="2.9" fill="#2ca2db"/>
<path d="M509.45,1126.87V1132.96M506.95,1126.87H511.95M506.95,1132.96H511.95" fill="none" stroke="#2ca2db" stroke-width="1.2"/>
<circle cx="509.45" cy="1129.91" r="2.9" fill="#2ca2db"/>
<path d="M545.70,1140.27V1150.01M543.20,1140.27H548.20M543.20,1150.01H548.20" fill="none" stroke="#2ca2db" stroke-width="1.2"/>
<circle cx="545.70" cy="1145.14" r="2.9" fill="#2ca2db"/>
<circle cx="473.45" cy="1062.92" r="2.9" fill="#ef5a3a"/>
<circle cx="509.45" cy="1075.11" r="2.9" fill="#ef5a3a"/>
<circle cx="545.70" cy="1111.64" r="2.9" fill="#ef5a3a"/>
<circle cx="473.45" cy="1065.97" r="2.9" fill="#fdc010"/>
<circle cx="509.45" cy="1090.33" r="2.9" fill="#fdc010"/>
<circle cx="545.70" cy="1084.24" r="2.9" fill="#fdc010"/>
<text x="469.15" y="1055.75" font-size="12.5" text-anchor="end" fill="#2ca2db" textLength="13.75" lengthAdjust="spacingAndGlyphs" stroke="#2ca2db" stroke-width="0.2">ID</text>
<text x="509.45" y="1069.31" font-size="12.5" text-anchor="middle" fill="#ef5a3a" textLength="13.75" lengthAdjust="spacingAndGlyphs" stroke="#ef5a3a" stroke-width="0.2">ID</text>
<text x="545.70" y="1078.44" font-size="12.5" text-anchor="middle" fill="#fdc010" textLength="13.75" lengthAdjust="spacingAndGlyphs" stroke="#fdc010" stroke-width="0.2">ID</text>
<text x="479.45" y="1202.30" font-size="14" text-anchor="end" textLength="93.40" lengthAdjust="spacingAndGlyphs" transform="rotate(-45 479.45 1202.30)" stroke="#231f20" stroke-width="0.2">‘vs non-binder’</text>
<text x="515.45" y="1202.30" font-size="14" text-anchor="end" textLength="32.53" lengthAdjust="spacingAndGlyphs" transform="rotate(-45 515.45 1202.30)" stroke="#231f20" stroke-width="0.2">‘vs 9’</text>
<text x="551.70" y="1202.30" font-size="14" text-anchor="end" textLength="57.93" lengthAdjust="spacingAndGlyphs" transform="rotate(-45 551.70 1202.30)" stroke="#231f20" stroke-width="0.2">‘vs weak’</text>
<path d="M585.50,1043.10V1184.50H693.60" fill="none" stroke="#555555" stroke-width="1.1"/>
<line x1="579.60" y1="1047.70" x2="585.60" y2="1047.70" stroke="#555555" stroke-width="1.1" />
<line x1="579.60" y1="1078.15" x2="585.60" y2="1078.15" stroke="#555555" stroke-width="1.1" />
<line x1="579.60" y1="1108.60" x2="585.60" y2="1108.60" stroke="#555555" stroke-width="1.1" />
<line x1="579.60" y1="1139.05" x2="585.60" y2="1139.05" stroke="#555555" stroke-width="1.1" />
<line x1="579.60" y1="1169.50" x2="585.60" y2="1169.50" stroke="#555555" stroke-width="1.1" />
<line x1="603.10" y1="1184.40" x2="603.10" y2="1190.70" stroke="#555555" stroke-width="1.1" />
<line x1="639.10" y1="1184.40" x2="639.10" y2="1190.70" stroke="#555555" stroke-width="1.1" />
<line x1="675.35" y1="1184.40" x2="675.35" y2="1190.70" stroke="#555555" stroke-width="1.1" />
<text x="639.30" y="1035.10" font-size="15" text-anchor="middle" textLength="44.93" lengthAdjust="spacingAndGlyphs" stroke="#231f20" stroke-width="0.2">1ADQ</text>
<rect x="587.35" y="1155.40" width="32.40" height="8.70" fill="#2ca2db"/>
<text x="592.75" y="1162.30" font-size="7.2" text-anchor="middle" fill="#1d1d1d" textLength="8.41" lengthAdjust="spacingAndGlyphs" stroke="#1d1d1d" stroke-width="0.2">98</text>
<text x="603.55" y="1162.30" font-size="7.2" text-anchor="middle" fill="#1d1d1d" textLength="8.41" lengthAdjust="spacingAndGlyphs" stroke="#1d1d1d" stroke-width="0.2">69</text>
<text x="614.35" y="1162.30" font-size="7.2" text-anchor="middle" fill="#1d1d1d" textLength="8.41" lengthAdjust="spacingAndGlyphs" stroke="#1d1d1d" stroke-width="0.2">68</text>
<rect x="587.35" y="1164.00" width="32.40" height="8.70" fill="#ef5a3a"/>
<text x="592.75" y="1170.90" font-size="7.2" text-anchor="middle" fill="#1d1d1d" textLength="8.41" lengthAdjust="spacingAndGlyphs" stroke="#1d1d1d" stroke-width="0.2">81</text>
<text x="603.55" y="1170.90" font-size="7.2" text-anchor="middle" fill="#1d1d1d" textLength="8.41" lengthAdjust="spacingAndGlyphs" stroke="#1d1d1d" stroke-width="0.2">91</text>
<text x="614.35" y="1170.90" font-size="7.2" text-anchor="middle" fill="#1d1d1d" textLength="8.41" lengthAdjust="spacingAndGlyphs" stroke="#1d1d1d" stroke-width="0.2">71</text>
<rect x="587.35" y="1172.60" width="32.40" height="8.70" fill="#fdc010"/>
<text x="592.75" y="1179.50" font-size="7.2" text-anchor="middle" fill="#1d1d1d" textLength="8.41" lengthAdjust="spacingAndGlyphs" stroke="#1d1d1d" stroke-width="0.2">93</text>
<text x="603.55" y="1179.50" font-size="7.2" text-anchor="middle" fill="#1d1d1d" textLength="8.41" lengthAdjust="spacingAndGlyphs" stroke="#1d1d1d" stroke-width="0.2">84</text>
<text x="614.35" y="1179.50" font-size="7.2" text-anchor="middle" fill="#1d1d1d" textLength="8.41" lengthAdjust="spacingAndGlyphs" stroke="#1d1d1d" stroke-width="0.2">86</text>
<path d="M603.10,1053.79L639.10,1142.10L675.35,1145.14" fill="none" stroke="#2ca2db" stroke-width="1.5"/>
<path d="M603.10,1105.56L639.10,1075.11L675.35,1136.01" fill="none" stroke="#ef5a3a" stroke-width="1.5"/>
<path d="M603.10,1069.02L639.10,1096.42L675.35,1090.33" fill="none" stroke="#fdc010" stroke-width="1.5"/>
<circle cx="603.10" cy="1053.79" r="2.9" fill="#2ca2db"/>
<path d="M639.10,1138.44V1145.75M636.60,1138.44H641.60M636.60,1145.75H641.60" fill="none" stroke="#2ca2db" stroke-width="1.2"/>
<circle cx="639.10" cy="1142.10" r="2.9" fill="#2ca2db"/>
<path d="M675.35,1142.10V1148.19M672.85,1142.10H677.85M672.85,1148.19H677.85" fill="none" stroke="#2ca2db" stroke-width="1.2"/>
<circle cx="675.35" cy="1145.14" r="2.9" fill="#2ca2db"/>
<path d="M603.10,1100.99V1110.12M600.60,1100.99H605.60M600.60,1110.12H605.60" fill="none" stroke="#ef5a3a" stroke-width="1.2"/>
<circle cx="603.10" cy="1105.56" r="2.9" fill="#ef5a3a"/>
<circle cx="639.10" cy="1075.11" r="2.9" fill="#ef5a3a"/>
<circle cx="675.35" cy="1136.01" r="2.9" fill="#ef5a3a"/>
<circle cx="603.10" cy="1069.02" r="2.9" fill="#fdc010"/>
<circle cx="639.10" cy="1096.42" r="2.9" fill="#fdc010"/>
<circle cx="675.35" cy="1090.33" r="2.9" fill="#fdc010"/>
<text x="598.80" y="1058.79" font-size="12.5" text-anchor="end" fill="#2ca2db" textLength="13.75" lengthAdjust="spacingAndGlyphs" stroke="#2ca2db" stroke-width="0.2">ID</text>
<text x="639.10" y="1069.31" font-size="12.5" text-anchor="middle" fill="#ef5a3a" textLength="13.75" lengthAdjust="spacingAndGlyphs" stroke="#ef5a3a" stroke-width="0.2">ID</text>
<text x="675.35" y="1084.53" font-size="12.5" text-anchor="middle" fill="#fdc010" textLength="13.75" lengthAdjust="spacingAndGlyphs" stroke="#fdc010" stroke-width="0.2">ID</text>
<text x="609.10" y="1202.30" font-size="14" text-anchor="end" textLength="93.40" lengthAdjust="spacingAndGlyphs" transform="rotate(-45 609.10 1202.30)" stroke="#231f20" stroke-width="0.2">‘vs non-binder’</text>
<text x="645.10" y="1202.30" font-size="14" text-anchor="end" textLength="32.53" lengthAdjust="spacingAndGlyphs" transform="rotate(-45 645.10 1202.30)" stroke="#231f20" stroke-width="0.2">‘vs 9’</text>
<text x="681.35" y="1202.30" font-size="14" text-anchor="end" textLength="57.93" lengthAdjust="spacingAndGlyphs" transform="rotate(-45 681.35 1202.30)" stroke="#231f20" stroke-width="0.2">‘vs weak’</text>
<text x="16.70" y="1020.00" font-size="16" text-anchor="middle" textLength="151.80" lengthAdjust="spacingAndGlyphs" transform="rotate(-90 16.70 1020.00)" stroke="#231f20" stroke-width="0.2">Prediction accuracy</text>
<line x1="101.00" y1="1299.30" x2="322.70" y2="1299.30" stroke="#3e4e68" stroke-width="1.2" />
<path d="M97.7,1299.3L105.5,1295.6L103.5,1299.3L105.5,1303Z" fill="#3e4e68"/>
<text x="333.30" y="1304.30" font-size="15" textLength="89.40" lengthAdjust="spacingAndGlyphs" stroke="#231f20" stroke-width="0.2">Testing task</text>
<line x1="435.00" y1="1299.30" x2="658.00" y2="1299.30" stroke="#3e4e68" stroke-width="1.2" />
<path d="M661.7,1299.3L653.9,1295.6L655.9,1299.3L653.9,1303Z" fill="#3e4e68"/>
<text x="718.00" y="837.80" font-size="19" font-weight="bold" textLength="12.00" lengthAdjust="spacingAndGlyphs" stroke="#231f20" stroke-width="0.7">e</text>
<text x="750.00" y="837.50" font-size="16" textLength="208.00" lengthAdjust="spacingAndGlyphs" stroke="#231f20" stroke-width="0.2">OOD prediction accuracy</text>
<text x="750.00" y="858.30" font-size="16" textLength="288.30" lengthAdjust="spacingAndGlyphs" stroke="#231f20" stroke-width="0.2">and sequence similarity correlation</text>
<path d="M804.1,1116.5L960.4,1105.0L960.4,1120.2L804.1,1137.4Z" fill="#fdf0c8" opacity="0.8"/>
<path d="M879.0,1144.3L1089.5,991.5L1089.5,1056.3L879.0,1172.1Z" fill="#fbe0da" opacity="0.85"/>
<path d="M923.0,1074.9L1027.0,996.2L1156.5,880.4L1156.5,917.4L1027.0,1014.7L923.0,1109.6Z" fill="#ece3e0" opacity="0.85"/>
<path d="M898.0,1065.6L1083.5,966.1L1083.5,1005.4L898.0,1093.4Z" fill="#d6ecf8" opacity="0.85"/>
<circle cx="934.20" cy="914.70" r="3.3" fill="#8b6355" stroke="#3b3b3b" stroke-width="0.55" fill-opacity="0.82"/><circle cx="960.00" cy="915.30" r="3.3" fill="#8b6355" stroke="#3b3b3b" stroke-width="0.55" fill-opacity="0.82"/><circle cx="968.00" cy="904.70" r="3.3" fill="#8b6355" stroke="#3b3b3b" stroke-width="0.55" fill-opacity="0.82"/><circle cx="982.50" cy="904.20" r="3.3" fill="#8b6355" stroke="#3b3b3b" stroke-width="0.55" fill-opacity="0.82"/><circle cx="982.00" cy="913.30" r="3.3" fill="#8b6355" stroke="#3b3b3b" stroke-width="0.55" fill-opacity="0.82"/><circle cx="996.70" cy="904.70" r="3.3" fill="#8b6355" stroke="#3b3b3b" stroke-width="0.55" fill-opacity="0.82"/><circle cx="999.20" cy="905.30" r="3.3" fill="#8b6355" stroke="#3b3b3b" stroke-width="0.55" fill-opacity="0.82"/><circle cx="993.30" cy="911.70" r="3.3" fill="#8b6355" stroke="#3b3b3b" stroke-width="0.55" fill-opacity="0.82"/><circle cx="986.70" cy="922.50" r="3.3" fill="#8b6355" stroke="#3b3b3b" stroke-width="0.55" fill-opacity="0.82"/><circle cx="991.30" cy="919.70" r="3.3" fill="#8b6355" stroke="#3b3b3b" stroke-width="0.55" fill-opacity="0.82"/><circle cx="998.70" cy="922.50" r="3.3" fill="#8b6355" stroke="#3b3b3b" stroke-width="0.55" fill-opacity="0.82"/><circle cx="994.70" cy="927.50" r="3.3" fill="#8b6355" stroke="#3b3b3b" stroke-width="0.55" fill-opacity="0.82"/><circle cx="1009.70" cy="904.20" r="3.3" fill="#8b6355" stroke="#3b3b3b" stroke-width="0.55" fill-opacity="0.82"/><circle cx="1015.80" cy="905.80" r="3.3" fill="#8b6355" stroke="#3b3b3b" stroke-width="0.55" fill-opacity="0.82"/><circle cx="1019.20" cy="904.20" r="3.3" fill="#8b6355" stroke="#3b3b3b" stroke-width="0.55" fill-opacity="0.82"/><circle cx="1016.70" cy="907.50" r="3.3" fill="#8b6355" stroke="#3b3b3b" stroke-width="0.55" fill-opacity="0.82"/><circle cx="1030.00" cy="904.20" r="3.3" fill="#8b6355" stroke="#3b3b3b" stroke-width="0.55" fill-opacity="0.82"/><circle cx="1029.70" cy="905.30" r="3.3" fill="#8b6355" stroke="#3b3b3b" stroke-width="0.55" fill-opacity="0.82"/><circle cx="1044.70" cy="903.70" r="3.3" fill="#8b6355" stroke="#3b3b3b" stroke-width="0.55" fill-opacity="0.82"/><circle cx="1045.00" cy="908.30" r="3.3" fill="#8b6355" stroke="#3b3b3b" stroke-width="0.55" fill-opacity="0.82"/><circle cx="1045.30" cy="912.50" r="3.3" fill="#8b6355" stroke="#3b3b3b" stroke-width="0.55" fill-opacity="0.82"/><circle cx="1036.70" cy="912.00" r="3.3" fill="#8b6355" stroke="#3b3b3b" stroke-width="0.55" fill-opacity="0.82"/><circle cx="1027.00" cy="917.50" r="3.3" fill="#8b6355" stroke="#3b3b3b" stroke-width="0.55" fill-opacity="0.82"/><circle cx="1021.30" cy="923.00" r="3.3" fill="#8b6355" stroke="#3b3b3b" stroke-width="0.55" fill-opacity="0.82"/><circle cx="1026.70" cy="926.70" r="3.3" fill="#8b6355" stroke="#3b3b3b" stroke-width="0.55" fill-opacity="0.82"/><circle cx="1032.50" cy="927.50" r="3.3" fill="#8b6355" stroke="#3b3b3b" stroke-width="0.55" fill-opacity="0.82"/><circle cx="1027.50" cy="930.80" r="3.3" fill="#8b6355" stroke="#3b3b3b" stroke-width="0.55" fill-opacity="0.82"/><circle cx="1002.50" cy="936.70" r="3.3" fill="#8b6355" stroke="#3b3b3b" stroke-width="0.55" fill-opacity="0.82"/><circle cx="1015.80" cy="933.70" r="3.3" fill="#8b6355" stroke="#3b3b3b" stroke-width="0.55" fill-opacity="0.82"/><circle cx="1026.70" cy="938.00" r="3.3" fill="#8b6355" stroke="#3b3b3b" stroke-width="0.55" fill-opacity="0.82"/><circle cx="1024.20" cy="945.00" r="3.3" fill="#8b6355" stroke="#3b3b3b" stroke-width="0.55" fill-opacity="0.82"/><circle cx="1031.70" cy="949.20" r="3.3" fill="#8b6355" stroke="#3b3b3b" stroke-width="0.55" fill-opacity="0.82"/><circle cx="1071.70" cy="916.70" r="3.3" fill="#8b6355" stroke="#3b3b3b" stroke-width="0.55" fill-opacity="0.82"/><circle cx="1073.70" cy="926.30" r="3.3" fill="#8b6355" stroke="#3b3b3b" stroke-width="0.55" fill-opacity="0.82"/><circle cx="1058.30" cy="923.70" r="3.3" fill="#8b6355" stroke="#3b3b3b" stroke-width="0.55" fill-opacity="0.82"/><circle cx="1054.20" cy="928.70" r="3.3" fill="#8b6355" stroke="#3b3b3b" stroke-width="0.55" fill-opacity="0.82"/><circle cx="1059.20" cy="927.00" r="3.3" fill="#8b6355" stroke="#3b3b3b" stroke-width="0.55" fill-opacity="0.82"/><circle cx="1055.80" cy="934.20" r="3.3" fill="#8b6355" stroke="#3b3b3b" stroke-width="0.55" fill-opacity="0.82"/><circle cx="1050.30" cy="937.50" r="3.3" fill="#8b6355" stroke="#3b3b3b" stroke-width="0.55" fill-opacity="0.82"/><circle cx="1062.50" cy="937.00" r="3.3" fill="#8b6355" stroke="#3b3b3b" stroke-width="0.55" fill-opacity="0.82"/><circle cx="1065.00" cy="935.80" r="3.3" fill="#8b6355" stroke="#3b3b3b" stroke-width="0.55" fill-opacity="0.82"/><circle cx="1069.20" cy="940.00" r="3.3" fill="#8b6355" stroke="#3b3b3b" stroke-width="0.55" fill-opacity="0.82"/><circle cx="1059.20" cy="940.80" r="3.3" fill="#8b6355" stroke="#3b3b3b" stroke-width="0.55" fill-opacity="0.82"/><circle cx="1063.30" cy="941.70" r="3.3" fill="#8b6355" stroke="#3b3b3b" stroke-width="0.55" fill-opacity="0.82"/><circle cx="1070.00" cy="935.80" r="3.3" fill="#8b6355" stroke="#3b3b3b" stroke-width="0.55" fill-opacity="0.82"/><circle cx="1075.30" cy="937.50" r="3.3" fill="#8b6355" stroke="#3b3b3b" stroke-width="0.55" fill-opacity="0.82"/><circle cx="1077.50" cy="941.70" r="3.3" fill="#8b6355" stroke="#3b3b3b" stroke-width="0.55" fill-opacity="0.82"/><circle cx="1046.70" cy="945.80" r="3.3" fill="#8b6355" stroke="#3b3b3b" stroke-width="0.55" fill-opacity="0.82"/><circle cx="1049.20" cy="945.80" r="3.3" fill="#8b6355" stroke="#3b3b3b" stroke-width="0.55" fill-opacity="0.82"/><circle cx="1041.30" cy="952.50" r="3.3" fill="#8b6355" stroke="#3b3b3b" stroke-width="0.55" fill-opacity="0.82"/><circle cx="1040.00" cy="955.00" r="3.3" fill="#8b6355" stroke="#3b3b3b" stroke-width="0.55" fill-opacity="0.82"/><circle cx="1068.00" cy="950.00" r="3.3" fill="#8b6355" stroke="#3b3b3b" stroke-width="0.55" fill-opacity="0.82"/><circle cx="1065.00" cy="953.30" r="3.3" fill="#8b6355" stroke="#3b3b3b" stroke-width="0.55" fill-opacity="0.82"/><circle cx="1063.30" cy="958.30" r="3.3" fill="#8b6355" stroke="#3b3b3b" stroke-width="0.55" fill-opacity="0.82"/><circle cx="1075.00" cy="950.80" r="3.3" fill="#8b6355" stroke="#3b3b3b" stroke-width="0.55" fill-opacity="0.82"/><circle cx="1077.50" cy="955.00" r="3.3" fill="#8b6355" stroke="#3b3b3b" stroke-width="0.55" fill-opacity="0.82"/><circle cx="955.00" cy="957.00" r="3.3" fill="#8b6355" stroke="#3b3b3b" stroke-width="0.55" fill-opacity="0.82"/><circle cx="973.70" cy="952.50" r="3.3" fill="#8b6355" stroke="#3b3b3b" stroke-width="0.55" fill-opacity="0.82"/><circle cx="977.00" cy="964.70" r="3.3" fill="#8b6355" stroke="#3b3b3b" stroke-width="0.55" fill-opacity="0.82"/><circle cx="984.70" cy="968.00" r="3.3" fill="#8b6355" stroke="#3b3b3b" stroke-width="0.55" fill-opacity="0.82"/><circle cx="1000.00" cy="963.70" r="3.3" fill="#8b6355" stroke="#3b3b3b" stroke-width="0.55" fill-opacity="0.82"/><circle cx="1016.70" cy="966.30" r="3.3" fill="#8b6355" stroke="#3b3b3b" stroke-width="0.55" fill-opacity="0.82"/><circle cx="1035.00" cy="969.20" r="3.3" fill="#8b6355" stroke="#3b3b3b" stroke-width="0.55" fill-opacity="0.82"/><circle cx="1035.80" cy="972.00" r="3.3" fill="#8b6355" stroke="#3b3b3b" stroke-width="0.55" fill-opacity="0.82"/><circle cx="1048.30" cy="967.50" r="3.3" fill="#8b6355" stroke="#3b3b3b" stroke-width="0.55" fill-opacity="0.82"/><circle cx="1049.20" cy="970.00" r="3.3" fill="#8b6355" stroke="#3b3b3b" stroke-width="0.55" fill-opacity="0.82"/><circle cx="1050.00" cy="977.50" r="3.3" fill="#8b6355" stroke="#3b3b3b" stroke-width="0.55" fill-opacity="0.82"/><circle cx="1038.00" cy="979.70" r="3.3" fill="#8b6355" stroke="#3b3b3b" stroke-width="0.55" fill-opacity="0.82"/><circle cx="1064.20" cy="965.80" r="3.3" fill="#8b6355" stroke="#3b3b3b" stroke-width="0.55" fill-opacity="0.82"/><circle cx="1070.80" cy="966.30" r="3.3" fill="#8b6355" stroke="#3b3b3b" stroke-width="0.55" fill-opacity="0.82"/><circle cx="984.20" cy="980.30" r="3.3" fill="#8b6355" stroke="#3b3b3b" stroke-width="0.55" fill-opacity="0.82"/><circle cx="1000.00" cy="983.70" r="3.3" fill="#8b6355" stroke="#3b3b3b" stroke-width="0.55" fill-opacity="0.82"/><circle cx="1018.30" cy="983.30" r="3.3" fill="#8b6355" stroke="#3b3b3b" stroke-width="0.55" fill-opacity="0.82"/><circle cx="1025.00" cy="980.80" r="3.3" fill="#8b6355" stroke="#3b3b3b" stroke-width="0.55" fill-opacity="0.82"/><circle cx="1030.00" cy="986.70" r="3.3" fill="#8b6355" stroke="#3b3b3b" stroke-width="0.55" fill-opacity="0.82"/><circle cx="1003.70" cy="990.80" r="3.3" fill="#8b6355" stroke="#3b3b3b" stroke-width="0.55" fill-opacity="0.82"/><circle cx="1013.30" cy="995.00" r="3.3" fill="#8b6355" stroke="#3b3b3b" stroke-width="0.55" fill-opacity="0.82"/><circle cx="1040.00" cy="990.00" r="3.3" fill="#8b6355" stroke="#3b3b3b" stroke-width="0.55" fill-opacity="0.82"/><circle cx="1069.20" cy="975.00" r="3.3" fill="#8b6355" stroke="#3b3b3b" stroke-width="0.55" fill-opacity="0.82"/><circle cx="1068.30" cy="983.30" r="3.3" fill="#8b6355" stroke="#3b3b3b" stroke-width="0.55" fill-opacity="0.82"/><circle cx="1071.80" cy="916.50" r="3.3" fill="#8b6355" stroke="#3b3b3b" stroke-width="0.55" fill-opacity="0.82"/><circle cx="1083.50" cy="914.50" r="3.3" fill="#8b6355" stroke="#3b3b3b" stroke-width="0.55" fill-opacity="0.82"/><circle cx="1088.50" cy="910.50" r="3.3" fill="#8b6355" stroke="#3b3b3b" stroke-width="0.55" fill-opacity="0.82"/><circle cx="1096.50" cy="912.00" r="3.3" fill="#8b6355" stroke="#3b3b3b" stroke-width="0.55" fill-opacity="0.82"/><circle cx="1106.20" cy="907.80" r="3.3" fill="#8b6355" stroke="#3b3b3b" stroke-width="0.55" fill-opacity="0.82"/><circle cx="1111.50" cy="914.50" r="3.3" fill="#8b6355" stroke="#3b3b3b" stroke-width="0.55" fill-opacity="0.82"/><circle cx="1122.00" cy="909.80" r="3.3" fill="#8b6355" stroke="#3b3b3b" stroke-width="0.55" fill-opacity="0.82"/><circle cx="1126.50" cy="908.00" r="3.3" fill="#8b6355" stroke="#3b3b3b" stroke-width="0.55" fill-opacity="0.82"/><circle cx="1135.00" cy="907.20" r="3.3" fill="#8b6355" stroke="#3b3b3b" stroke-width="0.55" fill-opacity="0.82"/><circle cx="1140.00" cy="912.00" r="3.3" fill="#8b6355" stroke="#3b3b3b" stroke-width="0.55" fill-opacity="0.82"/><circle cx="1146.00" cy="909.50" r="3.3" fill="#8b6355" stroke="#3b3b3b" stroke-width="0.55" fill-opacity="0.82"/><circle cx="1156.50" cy="904.00" r="3.3" fill="#8b6355" stroke="#3b3b3b" stroke-width="0.55" fill-opacity="0.82"/><circle cx="1093.20" cy="921.50" r="3.3" fill="#8b6355" stroke="#3b3b3b" stroke-width="0.55" fill-opacity="0.82"/><circle cx="1098.80" cy="922.00" r="3.3" fill="#8b6355" stroke="#3b3b3b" stroke-width="0.55" fill-opacity="0.82"/><circle cx="1103.50" cy="918.20" r="3.3" fill="#8b6355" stroke="#3b3b3b" stroke-width="0.55" fill-opacity="0.82"/><circle cx="1108.80" cy="921.20" r="3.3" fill="#8b6355" stroke="#3b3b3b" stroke-width="0.55" fill-opacity="0.82"/><circle cx="1117.20" cy="918.20" r="3.3" fill="#8b6355" stroke="#3b3b3b" stroke-width="0.55" fill-opacity="0.82"/><circle cx="1122.50" cy="917.00" r="3.3" fill="#8b6355" stroke="#3b3b3b" stroke-width="0.55" fill-opacity="0.82"/><circle cx="1074.00" cy="926.20" r="3.3" fill="#8b6355" stroke="#3b3b3b" stroke-width="0.55" fill-opacity="0.82"/><circle cx="1101.20" cy="927.50" r="3.3" fill="#8b6355" stroke="#3b3b3b" stroke-width="0.55" fill-opacity="0.82"/><circle cx="1096.20" cy="932.50" r="3.3" fill="#8b6355" stroke="#3b3b3b" stroke-width="0.55" fill-opacity="0.82"/><circle cx="1110.00" cy="934.00" r="3.3" fill="#8b6355" stroke="#3b3b3b" stroke-width="0.55" fill-opacity="0.82"/><circle cx="1112.00" cy="932.50" r="3.3" fill="#8b6355" stroke="#3b3b3b" stroke-width="0.55" fill-opacity="0.82"/><circle cx="1121.00" cy="935.50" r="3.3" fill="#8b6355" stroke="#3b3b3b" stroke-width="0.55" fill-opacity="0.82"/><circle cx="1125.00" cy="939.00" r="3.3" fill="#8b6355" stroke="#3b3b3b" stroke-width="0.55" fill-opacity="0.82"/><circle cx="1131.50" cy="928.50" r="3.3" fill="#8b6355" stroke="#3b3b3b" stroke-width="0.55" fill-opacity="0.82"/><circle cx="1134.00" cy="927.50" r="3.3" fill="#8b6355" stroke="#3b3b3b" stroke-width="0.55" fill-opacity="0.82"/><circle cx="1137.00" cy="927.00" r="3.3" fill="#8b6355" stroke="#3b3b3b" stroke-width="0.55" fill-opacity="0.82"/><circle cx="1139.50" cy="937.00" r="3.3" fill="#8b6355" stroke="#3b3b3b" stroke-width="0.55" fill-opacity="0.82"/><circle cx="1097.50" cy="939.00" r="3.3" fill="#8b6355" stroke="#3b3b3b" stroke-width="0.55" fill-opacity="0.82"/><circle cx="1109.00" cy="944.50" r="3.3" fill="#8b6355" stroke="#3b3b3b" stroke-width="0.55" fill-opacity="0.82"/><circle cx="1119.80" cy="945.50" r="3.3" fill="#8b6355" stroke="#3b3b3b" stroke-width="0.55" fill-opacity="0.82"/><circle cx="1101.00" cy="945.50" r="3.3" fill="#8b6355" stroke="#3b3b3b" stroke-width="0.55" fill-opacity="0.82"/><circle cx="1094.00" cy="949.50" r="3.3" fill="#8b6355" stroke="#3b3b3b" stroke-width="0.55" fill-opacity="0.82"/><circle cx="1102.50" cy="953.50" r="3.3" fill="#8b6355" stroke="#3b3b3b" stroke-width="0.55" fill-opacity="0.82"/><circle cx="1102.00" cy="963.50" r="3.3" fill="#8b6355" stroke="#3b3b3b" stroke-width="0.55" fill-opacity="0.82"/><circle cx="1102.00" cy="972.00" r="3.3" fill="#8b6355" stroke="#3b3b3b" stroke-width="0.55" fill-opacity="0.82"/><circle cx="1094.50" cy="980.00" r="3.3" fill="#8b6355" stroke="#3b3b3b" stroke-width="0.55" fill-opacity="0.82"/><circle cx="1106.50" cy="981.50" r="3.3" fill="#8b6355" stroke="#3b3b3b" stroke-width="0.55" fill-opacity="0.82"/><circle cx="1111.00" cy="977.50" r="3.3" fill="#8b6355" stroke="#3b3b3b" stroke-width="0.55" fill-opacity="0.82"/><circle cx="1111.50" cy="983.00" r="3.3" fill="#8b6355" stroke="#3b3b3b" stroke-width="0.55" fill-opacity="0.82"/><circle cx="1103.20" cy="987.50" r="3.3" fill="#8b6355" stroke="#3b3b3b" stroke-width="0.55" fill-opacity="0.82"/><circle cx="1085.00" cy="990.00" r="3.3" fill="#8b6355" stroke="#3b3b3b" stroke-width="0.55" fill-opacity="0.82"/><circle cx="1082.00" cy="968.50" r="3.3" fill="#8b6355" stroke="#3b3b3b" stroke-width="0.55" fill-opacity="0.82"/><circle cx="1078.50" cy="973.50" r="3.3" fill="#8b6355" stroke="#3b3b3b" stroke-width="0.55" fill-opacity="0.82"/><circle cx="1069.50" cy="975.00" r="3.3" fill="#8b6355" stroke="#3b3b3b" stroke-width="0.55" fill-opacity="0.82"/><circle cx="1064.00" cy="966.00" r="3.3" fill="#8b6355" stroke="#3b3b3b" stroke-width="0.55" fill-opacity="0.82"/><circle cx="1070.50" cy="966.50" r="3.3" fill="#8b6355" stroke="#3b3b3b" stroke-width="0.55" fill-opacity="0.82"/><circle cx="1063.00" cy="938.00" r="3.3" fill="#8b6355" stroke="#3b3b3b" stroke-width="0.55" fill-opacity="0.82"/><circle cx="1069.50" cy="936.00" r="3.3" fill="#8b6355" stroke="#3b3b3b" stroke-width="0.55" fill-opacity="0.82"/><circle cx="1078.50" cy="939.00" r="3.3" fill="#8b6355" stroke="#3b3b3b" stroke-width="0.55" fill-opacity="0.82"/><circle cx="1087.00" cy="938.50" r="3.3" fill="#8b6355" stroke="#3b3b3b" stroke-width="0.55" fill-opacity="0.82"/><circle cx="1075.50" cy="937.00" r="3.3" fill="#8b6355" stroke="#3b3b3b" stroke-width="0.55" fill-opacity="0.82"/><circle cx="1081.00" cy="935.50" r="3.3" fill="#8b6355" stroke="#3b3b3b" stroke-width="0.55" fill-opacity="0.82"/><circle cx="1069.50" cy="941.50" r="3.3" fill="#8b6355" stroke="#3b3b3b" stroke-width="0.55" fill-opacity="0.82"/><circle cx="1075.00" cy="944.00" r="3.3" fill="#8b6355" stroke="#3b3b3b" stroke-width="0.55" fill-opacity="0.82"/><circle cx="1079.00" cy="946.50" r="3.3" fill="#8b6355" stroke="#3b3b3b" stroke-width="0.55" fill-opacity="0.82"/><circle cx="1084.50" cy="945.00" r="3.3" fill="#8b6355" stroke="#3b3b3b" stroke-width="0.55" fill-opacity="0.82"/><circle cx="1068.00" cy="949.50" r="3.3" fill="#8b6355" stroke="#3b3b3b" stroke-width="0.55" fill-opacity="0.82"/><circle cx="1085.50" cy="949.00" r="3.3" fill="#8b6355" stroke="#3b3b3b" stroke-width="0.55" fill-opacity="0.82"/><circle cx="1076.00" cy="951.50" r="3.3" fill="#8b6355" stroke="#3b3b3b" stroke-width="0.55" fill-opacity="0.82"/><circle cx="1079.00" cy="954.00" r="3.3" fill="#8b6355" stroke="#3b3b3b" stroke-width="0.55" fill-opacity="0.82"/><circle cx="1064.00" cy="953.00" r="3.3" fill="#8b6355" stroke="#3b3b3b" stroke-width="0.55" fill-opacity="0.82"/><circle cx="1064.00" cy="958.50" r="3.3" fill="#8b6355" stroke="#3b3b3b" stroke-width="0.55" fill-opacity="0.82"/><circle cx="977.40" cy="964.00" r="3.3" fill="#8b6355" stroke="#3b3b3b" stroke-width="0.55" fill-opacity="0.82"/><circle cx="983.80" cy="967.70" r="3.3" fill="#8b6355" stroke="#3b3b3b" stroke-width="0.55" fill-opacity="0.82"/><circle cx="1000.70" cy="963.30" r="3.3" fill="#8b6355" stroke="#3b3b3b" stroke-width="0.55" fill-opacity="0.82"/><circle cx="1016.80" cy="965.90" r="3.3" fill="#8b6355" stroke="#3b3b3b" stroke-width="0.55" fill-opacity="0.82"/><circle cx="1035.20" cy="970.10" r="3.3" fill="#8b6355" stroke="#3b3b3b" stroke-width="0.55" fill-opacity="0.82"/><circle cx="1048.40" cy="968.30" r="3.3" fill="#8b6355" stroke="#3b3b3b" stroke-width="0.55" fill-opacity="0.82"/><circle cx="1063.60" cy="965.50" r="3.3" fill="#8b6355" stroke="#3b3b3b" stroke-width="0.55" fill-opacity="0.82"/><circle cx="1070.00" cy="967.00" r="3.3" fill="#8b6355" stroke="#3b3b3b" stroke-width="0.55" fill-opacity="0.82"/><circle cx="1081.90" cy="968.30" r="3.3" fill="#8b6355" stroke="#3b3b3b" stroke-width="0.55" fill-opacity="0.82"/><circle cx="1101.50" cy="963.30" r="3.3" fill="#8b6355" stroke="#3b3b3b" stroke-width="0.55" fill-opacity="0.82"/><circle cx="1101.50" cy="972.50" r="3.3" fill="#8b6355" stroke="#3b3b3b" stroke-width="0.55" fill-opacity="0.82"/><circle cx="983.80" cy="980.20" r="3.3" fill="#8b6355" stroke="#3b3b3b" stroke-width="0.55" fill-opacity="0.82"/><circle cx="1000.00" cy="983.50" r="3.3" fill="#8b6355" stroke="#3b3b3b" stroke-width="0.55" fill-opacity="0.82"/><circle cx="1018.70" cy="983.50" r="3.3" fill="#8b6355" stroke="#3b3b3b" stroke-width="0.55" fill-opacity="0.82"/><circle cx="1024.50" cy="980.50" r="3.3" fill="#8b6355" stroke="#3b3b3b" stroke-width="0.55" fill-opacity="0.82"/><circle cx="1029.70" cy="987.10" r="3.3" fill="#8b6355" stroke="#3b3b3b" stroke-width="0.55" fill-opacity="0.82"/><circle cx="1038.50" cy="979.80" r="3.3" fill="#8b6355" stroke="#3b3b3b" stroke-width="0.55" fill-opacity="0.82"/><circle cx="1049.80" cy="978.00" r="3.3" fill="#8b6355" stroke="#3b3b3b" stroke-width="0.55" fill-opacity="0.82"/><circle cx="1068.20" cy="975.60" r="3.3" fill="#8b6355" stroke="#3b3b3b" stroke-width="0.55" fill-opacity="0.82"/><circle cx="1069.10" cy="979.30" r="3.3" fill="#8b6355" stroke="#3b3b3b" stroke-width="0.55" fill-opacity="0.82"/><circle cx="1080.10" cy="973.20" r="3.3" fill="#8b6355" stroke="#3b3b3b" stroke-width="0.55" fill-opacity="0.82"/><circle cx="1094.80" cy="979.80" r="3.3" fill="#8b6355" stroke="#3b3b3b" stroke-width="0.55" fill-opacity="0.82"/><circle cx="1105.80" cy="981.60" r="3.3" fill="#8b6355" stroke="#3b3b3b" stroke-width="0.55" fill-opacity="0.82"/><circle cx="1110.70" cy="978.00" r="3.3" fill="#8b6355" stroke="#3b3b3b" stroke-width="0.55" fill-opacity="0.82"/><circle cx="1111.30" cy="982.90" r="3.3" fill="#8b6355" stroke="#3b3b3b" stroke-width="0.55" fill-opacity="0.82"/><circle cx="1103.00" cy="987.90" r="3.3" fill="#8b6355" stroke="#3b3b3b" stroke-width="0.55" fill-opacity="0.82"/><circle cx="1085.60" cy="990.30" r="3.3" fill="#8b6355" stroke="#3b3b3b" stroke-width="0.55" fill-opacity="0.82"/><circle cx="1004.00" cy="990.80" r="3.3" fill="#8b6355" stroke="#3b3b3b" stroke-width="0.55" fill-opacity="0.82"/><circle cx="1013.20" cy="995.20" r="3.3" fill="#8b6355" stroke="#3b3b3b" stroke-width="0.55" fill-opacity="0.82"/><circle cx="1016.80" cy="999.40" r="3.3" fill="#8b6355" stroke="#3b3b3b" stroke-width="0.55" fill-opacity="0.82"/><circle cx="1038.80" cy="994.80" r="3.3" fill="#8b6355" stroke="#3b3b3b" stroke-width="0.55" fill-opacity="0.82"/><circle cx="1040.70" cy="998.50" r="3.3" fill="#8b6355" stroke="#3b3b3b" stroke-width="0.55" fill-opacity="0.82"/><circle cx="1052.00" cy="987.50" r="3.3" fill="#8b6355" stroke="#3b3b3b" stroke-width="0.55" fill-opacity="0.82"/><circle cx="1067.20" cy="985.30" r="3.3" fill="#8b6355" stroke="#3b3b3b" stroke-width="0.55" fill-opacity="0.82"/><circle cx="982.90" cy="1006.20" r="3.3" fill="#8b6355" stroke="#3b3b3b" stroke-width="0.55" fill-opacity="0.82"/><circle cx="997.60" cy="1018.30" r="3.3" fill="#8b6355" stroke="#3b3b3b" stroke-width="0.55" fill-opacity="0.82"/><circle cx="1007.30" cy="1019.00" r="3.3" fill="#8b6355" stroke="#3b3b3b" stroke-width="0.55" fill-opacity="0.82"/><circle cx="1013.20" cy="1003.10" r="3.3" fill="#8b6355" stroke="#3b3b3b" stroke-width="0.55" fill-opacity="0.82"/><circle cx="1015.40" cy="1009.50" r="3.3" fill="#8b6355" stroke="#3b3b3b" stroke-width="0.55" fill-opacity="0.82"/><circle cx="1036.10" cy="1013.50" r="3.3" fill="#8b6355" stroke="#3b3b3b" stroke-width="0.55" fill-opacity="0.82"/><circle cx="1040.70" cy="1013.50" r="3.3" fill="#8b6355" stroke="#3b3b3b" stroke-width="0.55" fill-opacity="0.82"/><circle cx="1046.20" cy="1012.30" r="3.3" fill="#8b6355" stroke="#3b3b3b" stroke-width="0.55" fill-opacity="0.82"/><circle cx="1051.70" cy="999.40" r="3.3" fill="#8b6355" stroke="#3b3b3b" stroke-width="0.55" fill-opacity="0.82"/><circle cx="1059.90" cy="1001.30" r="3.3" fill="#8b6355" stroke="#3b3b3b" stroke-width="0.55" fill-opacity="0.82"/><circle cx="1066.30" cy="1015.90" r="3.3" fill="#8b6355" stroke="#3b3b3b" stroke-width="0.55" fill-opacity="0.82"/><circle cx="1075.90" cy="1002.50" r="3.3" fill="#8b6355" stroke="#3b3b3b" stroke-width="0.55" fill-opacity="0.82"/><circle cx="1021.40" cy="1024.50" r="3.3" fill="#8b6355" stroke="#3b3b3b" stroke-width="0.55" fill-opacity="0.82"/><circle cx="1024.50" cy="1030.60" r="3.3" fill="#8b6355" stroke="#3b3b3b" stroke-width="0.55" fill-opacity="0.82"/><circle cx="1031.50" cy="1030.00" r="3.3" fill="#8b6355" stroke="#3b3b3b" stroke-width="0.55" fill-opacity="0.82"/><circle cx="1032.40" cy="1035.20" r="3.3" fill="#8b6355" stroke="#3b3b3b" stroke-width="0.55" fill-opacity="0.82"/><circle cx="1038.80" cy="1033.30" r="3.3" fill="#8b6355" stroke="#3b3b3b" stroke-width="0.55" fill-opacity="0.82"/><circle cx="1043.40" cy="1032.40" r="3.3" fill="#8b6355" stroke="#3b3b3b" stroke-width="0.55" fill-opacity="0.82"/><circle cx="1047.10" cy="1031.10" r="3.3" fill="#8b6355" stroke="#3b3b3b" stroke-width="0.55" fill-opacity="0.82"/><circle cx="1050.80" cy="1025.10" r="3.3" fill="#8b6355" stroke="#3b3b3b" stroke-width="0.55" fill-opacity="0.82"/><circle cx="1051.70" cy="1040.30" r="3.3" fill="#8b6355" stroke="#3b3b3b" stroke-width="0.55" fill-opacity="0.82"/><circle cx="1062.30" cy="1036.10" r="3.3" fill="#8b6355" stroke="#3b3b3b" stroke-width="0.55" fill-opacity="0.82"/><circle cx="1023.80" cy="1040.70" r="3.3" fill="#8b6355" stroke="#3b3b3b" stroke-width="0.55" fill-opacity="0.82"/><circle cx="1023.80" cy="1046.20" r="3.3" fill="#8b6355" stroke="#3b3b3b" stroke-width="0.55" fill-opacity="0.82"/><circle cx="1030.00" cy="1047.60" r="3.3" fill="#8b6355" stroke="#3b3b3b" stroke-width="0.55" fill-opacity="0.82"/><circle cx="1034.30" cy="1055.30" r="3.3" fill="#8b6355" stroke="#3b3b3b" stroke-width="0.55" fill-opacity="0.82"/><circle cx="1037.00" cy="1060.50" r="3.3" fill="#8b6355" stroke="#3b3b3b" stroke-width="0.55" fill-opacity="0.82"/><circle cx="1044.70" cy="1053.10" r="3.3" fill="#8b6355" stroke="#3b3b3b" stroke-width="0.55" fill-opacity="0.82"/><circle cx="1047.60" cy="1062.30" r="3.3" fill="#8b6355" stroke="#3b3b3b" stroke-width="0.55" fill-opacity="0.82"/><circle cx="1019.60" cy="1055.00" r="3.3" fill="#8b6355" stroke="#3b3b3b" stroke-width="0.55" fill-opacity="0.82"/><circle cx="1018.70" cy="1061.20" r="3.3" fill="#8b6355" stroke="#3b3b3b" stroke-width="0.55" fill-opacity="0.82"/><circle cx="1032.40" cy="1059.00" r="3.3" fill="#8b6355" stroke="#3b3b3b" stroke-width="0.55" fill-opacity="0.82"/><circle cx="1005.80" cy="1049.50" r="3.3" fill="#8b6355" stroke="#3b3b3b" stroke-width="0.55" fill-opacity="0.82"/><circle cx="1009.50" cy="1047.60" r="3.3" fill="#8b6355" stroke="#3b3b3b" stroke-width="0.55" fill-opacity="0.82"/><circle cx="997.60" cy="1059.90" r="3.3" fill="#8b6355" stroke="#3b3b3b" stroke-width="0.55" fill-opacity="0.82"/><circle cx="995.80" cy="1060.80" r="3.3" fill="#8b6355" stroke="#3b3b3b" stroke-width="0.55" fill-opacity="0.82"/><circle cx="1007.30" cy="1063.00" r="3.3" fill="#8b6355" stroke="#3b3b3b" stroke-width="0.55" fill-opacity="0.82"/><circle cx="986.60" cy="1069.60" r="3.3" fill="#8b6355" stroke="#3b3b3b" stroke-width="0.55" fill-opacity="0.82"/><circle cx="993.00" cy="1073.70" r="3.3" fill="#8b6355" stroke="#3b3b3b" stroke-width="0.55" fill-opacity="0.82"/><circle cx="987.50" cy="1077.30" r="3.3" fill="#8b6355" stroke="#3b3b3b" stroke-width="0.55" fill-opacity="0.82"/><circle cx="1001.80" cy="1076.40" r="3.3" fill="#8b6355" stroke="#3b3b3b" stroke-width="0.55" fill-opacity="0.82"/><circle cx="1018.70" cy="1073.70" r="3.3" fill="#8b6355" stroke="#3b3b3b" stroke-width="0.55" fill-opacity="0.82"/><circle cx="1023.30" cy="1073.30" r="3.3" fill="#8b6355" stroke="#3b3b3b" stroke-width="0.55" fill-opacity="0.82"/><circle cx="1027.80" cy="1072.20" r="3.3" fill="#8b6355" stroke="#3b3b3b" stroke-width="0.55" fill-opacity="0.82"/><circle cx="1021.40" cy="1080.10" r="3.3" fill="#8b6355" stroke="#3b3b3b" stroke-width="0.55" fill-opacity="0.82"/><circle cx="1037.90" cy="1077.30" r="3.3" fill="#8b6355" stroke="#3b3b3b" stroke-width="0.55" fill-opacity="0.82"/><circle cx="1003.10" cy="1085.60" r="3.3" fill="#8b6355" stroke="#3b3b3b" stroke-width="0.55" fill-opacity="0.82"/><circle cx="1016.80" cy="1088.30" r="3.3" fill="#8b6355" stroke="#3b3b3b" stroke-width="0.55" fill-opacity="0.82"/><circle cx="1018.30" cy="1090.50" r="3.3" fill="#8b6355" stroke="#3b3b3b" stroke-width="0.55" fill-opacity="0.82"/><circle cx="1025.60" cy="1094.20" r="3.3" fill="#8b6355" stroke="#3b3b3b" stroke-width="0.55" fill-opacity="0.82"/><circle cx="993.00" cy="1091.60" r="3.3" fill="#8b6355" stroke="#3b3b3b" stroke-width="0.55" fill-opacity="0.82"/><circle cx="994.80" cy="1088.30" r="3.3" fill="#8b6355" stroke="#3b3b3b" stroke-width="0.55" fill-opacity="0.82"/><circle cx="1002.20" cy="1095.70" r="3.3" fill="#8b6355" stroke="#3b3b3b" stroke-width="0.55" fill-opacity="0.82"/><circle cx="982.00" cy="1087.40" r="3.3" fill="#8b6355" stroke="#3b3b3b" stroke-width="0.55" fill-opacity="0.82"/><circle cx="982.90" cy="1093.50" r="3.3" fill="#8b6355" stroke="#3b3b3b" stroke-width="0.55" fill-opacity="0.82"/><circle cx="968.30" cy="1091.10" r="3.3" fill="#8b6355" stroke="#3b3b3b" stroke-width="0.55" fill-opacity="0.82"/><circle cx="969.20" cy="1095.70" r="3.3" fill="#8b6355" stroke="#3b3b3b" stroke-width="0.55" fill-opacity="0.82"/><circle cx="981.10" cy="1100.80" r="3.3" fill="#8b6355" stroke="#3b3b3b" stroke-width="0.55" fill-opacity="0.82"/><circle cx="1012.20" cy="1101.20" r="3.3" fill="#8b6355" stroke="#3b3b3b" stroke-width="0.55" fill-opacity="0.82"/><circle cx="1014.10" cy="1104.80" r="3.3" fill="#8b6355" stroke="#3b3b3b" stroke-width="0.55" fill-opacity="0.82"/><circle cx="1005.80" cy="1103.90" r="3.3" fill="#8b6355" stroke="#3b3b3b" stroke-width="0.55" fill-opacity="0.82"/><circle cx="1002.20" cy="1107.60" r="3.3" fill="#8b6355" stroke="#3b3b3b" stroke-width="0.55" fill-opacity="0.82"/><circle cx="976.50" cy="1105.80" r="3.3" fill="#8b6355" stroke="#3b3b3b" stroke-width="0.55" fill-opacity="0.82"/><circle cx="983.80" cy="1106.70" r="3.3" fill="#8b6355" stroke="#3b3b3b" stroke-width="0.55" fill-opacity="0.82"/><circle cx="1008.60" cy="1119.50" r="3.3" fill="#8b6355" stroke="#3b3b3b" stroke-width="0.55" fill-opacity="0.82"/><circle cx="1005.80" cy="1120.40" r="3.3" fill="#8b6355" stroke="#3b3b3b" stroke-width="0.55" fill-opacity="0.82"/><circle cx="1001.30" cy="1123.20" r="3.3" fill="#8b6355" stroke="#3b3b3b" stroke-width="0.55" fill-opacity="0.82"/><circle cx="998.10" cy="1119.50" r="3.3" fill="#8b6355" stroke="#3b3b3b" stroke-width="0.55" fill-opacity="0.82"/><circle cx="960.00" cy="1070.00" r="3.3" fill="#8b6355" stroke="#3b3b3b" stroke-width="0.55" fill-opacity="0.82"/><circle cx="964.60" cy="1066.30" r="3.3" fill="#8b6355" stroke="#3b3b3b" stroke-width="0.55" fill-opacity="0.82"/><circle cx="960.00" cy="1055.30" r="3.3" fill="#8b6355" stroke="#3b3b3b" stroke-width="0.55" fill-opacity="0.82"/><circle cx="948.30" cy="1050.20" r="3.3" fill="#8b6355" stroke="#3b3b3b" stroke-width="0.55" fill-opacity="0.82"/><circle cx="971.60" cy="1042.10" r="3.3" fill="#8b6355" stroke="#3b3b3b" stroke-width="0.55" fill-opacity="0.82"/><circle cx="979.80" cy="1065.40" r="3.3" fill="#8b6355" stroke="#3b3b3b" stroke-width="0.55" fill-opacity="0.82"/><circle cx="961.10" cy="1070.90" r="3.3" fill="#8b6355" stroke="#3b3b3b" stroke-width="0.55" fill-opacity="0.82"/><circle cx="987.20" cy="1077.30" r="3.3" fill="#8b6355" stroke="#3b3b3b" stroke-width="0.55" fill-opacity="0.82"/><circle cx="992.70" cy="1070.00" r="3.3" fill="#8b6355" stroke="#3b3b3b" stroke-width="0.55" fill-opacity="0.82"/><circle cx="967.90" cy="1091.10" r="3.3" fill="#8b6355" stroke="#3b3b3b" stroke-width="0.55" fill-opacity="0.82"/><circle cx="981.70" cy="1089.30" r="3.3" fill="#8b6355" stroke="#3b3b3b" stroke-width="0.55" fill-opacity="0.82"/><circle cx="989.00" cy="1095.70" r="3.3" fill="#8b6355" stroke="#3b3b3b" stroke-width="0.55" fill-opacity="0.82"/><circle cx="977.10" cy="1106.70" r="3.3" fill="#8b6355" stroke="#3b3b3b" stroke-width="0.55" fill-opacity="0.82"/><circle cx="982.60" cy="1108.50" r="3.3" fill="#8b6355" stroke="#3b3b3b" stroke-width="0.55" fill-opacity="0.82"/><circle cx="965.20" cy="1131.40" r="3.3" fill="#8b6355" stroke="#3b3b3b" stroke-width="0.55" fill-opacity="0.82"/><circle cx="970.70" cy="1126.80" r="3.3" fill="#8b6355" stroke="#3b3b3b" stroke-width="0.55" fill-opacity="0.82"/><circle cx="983.50" cy="968.30" r="3.3" fill="#8b6355" stroke="#3b3b3b" stroke-width="0.55" fill-opacity="0.82"/><circle cx="983.50" cy="980.20" r="3.3" fill="#8b6355" stroke="#3b3b3b" stroke-width="0.55" fill-opacity="0.82"/><circle cx="986.30" cy="1019.00" r="3.3" fill="#8b6355" stroke="#3b3b3b" stroke-width="0.55" fill-opacity="0.82"/><circle cx="948.30" cy="1050.80" r="3.3" fill="#8b6355" stroke="#3b3b3b" stroke-width="0.55" fill-opacity="0.82"/><circle cx="961.30" cy="1070.80" r="3.3" fill="#8b6355" stroke="#3b3b3b" stroke-width="0.55" fill-opacity="0.82"/><circle cx="971.30" cy="1041.70" r="3.3" fill="#8b6355" stroke="#3b3b3b" stroke-width="0.55" fill-opacity="0.82"/><circle cx="972.00" cy="1115.00" r="3.3" fill="#8b6355" stroke="#3b3b3b" stroke-width="0.55" fill-opacity="0.82"/><circle cx="988.00" cy="1112.00" r="3.3" fill="#8b6355" stroke="#3b3b3b" stroke-width="0.55" fill-opacity="0.82"/><circle cx="994.00" cy="1118.00" r="3.3" fill="#8b6355" stroke="#3b3b3b" stroke-width="0.55" fill-opacity="0.82"/><circle cx="1000.00" cy="1113.00" r="3.3" fill="#8b6355" stroke="#3b3b3b" stroke-width="0.55" fill-opacity="0.82"/><circle cx="1015.00" cy="1115.00" r="3.3" fill="#8b6355" stroke="#3b3b3b" stroke-width="0.55" fill-opacity="0.82"/>
<circle cx="945.68" cy="1132.73" r="3.3" fill="#ef5a3a" stroke="#3b3b3b" stroke-width="0.55" fill-opacity="0.88"/><circle cx="997.33" cy="1135.73" r="3.3" fill="#ef5a3a" stroke="#3b3b3b" stroke-width="0.55" fill-opacity="0.88"/><circle cx="893.64" cy="1131.29" r="3.3" fill="#ef5a3a" stroke="#3b3b3b" stroke-width="0.55" fill-opacity="0.88"/><circle cx="985.44" cy="1129.78" r="3.3" fill="#ef5a3a" stroke="#3b3b3b" stroke-width="0.55" fill-opacity="0.88"/><circle cx="893.26" cy="1121.45" r="3.3" fill="#ef5a3a" stroke="#3b3b3b" stroke-width="0.55" fill-opacity="0.88"/><circle cx="955.64" cy="1128.31" r="3.3" fill="#ef5a3a" stroke="#3b3b3b" stroke-width="0.55" fill-opacity="0.88"/><circle cx="992.14" cy="1128.09" r="3.3" fill="#ef5a3a" stroke="#3b3b3b" stroke-width="0.55" fill-opacity="0.88"/><circle cx="1001.13" cy="1130.92" r="3.3" fill="#ef5a3a" stroke="#3b3b3b" stroke-width="0.55" fill-opacity="0.88"/><circle cx="956.24" cy="1131.25" r="3.3" fill="#ef5a3a" stroke="#3b3b3b" stroke-width="0.55" fill-opacity="0.88"/><circle cx="986.82" cy="1130.16" r="3.3" fill="#ef5a3a" stroke="#3b3b3b" stroke-width="0.55" fill-opacity="0.88"/><circle cx="965.90" cy="1130.41" r="3.3" fill="#ef5a3a" stroke="#3b3b3b" stroke-width="0.55" fill-opacity="0.88"/><circle cx="968.80" cy="1134.18" r="3.3" fill="#ef5a3a" stroke="#3b3b3b" stroke-width="0.55" fill-opacity="0.88"/><circle cx="939.43" cy="1130.58" r="3.3" fill="#ef5a3a" stroke="#3b3b3b" stroke-width="0.55" fill-opacity="0.88"/><circle cx="986.99" cy="1123.05" r="3.3" fill="#ef5a3a" stroke="#3b3b3b" stroke-width="0.55" fill-opacity="0.88"/><circle cx="940.55" cy="1136.96" r="3.3" fill="#ef5a3a" stroke="#3b3b3b" stroke-width="0.55" fill-opacity="0.88"/><circle cx="982.18" cy="1127.00" r="3.3" fill="#ef5a3a" stroke="#3b3b3b" stroke-width="0.55" fill-opacity="0.88"/><circle cx="993.68" cy="1135.19" r="3.3" fill="#ef5a3a" stroke="#3b3b3b" stroke-width="0.55" fill-opacity="0.88"/><circle cx="999.04" cy="1122.60" r="3.3" fill="#ef5a3a" stroke="#3b3b3b" stroke-width="0.55" fill-opacity="0.88"/><circle cx="955.41" cy="1124.98" r="3.3" fill="#ef5a3a" stroke="#3b3b3b" stroke-width="0.55" fill-opacity="0.88"/><circle cx="983.40" cy="1125.79" r="3.3" fill="#ef5a3a" stroke="#3b3b3b" stroke-width="0.55" fill-opacity="0.88"/><circle cx="942.73" cy="1133.50" r="3.3" fill="#ef5a3a" stroke="#3b3b3b" stroke-width="0.55" fill-opacity="0.88"/><circle cx="887.86" cy="1128.60" r="3.3" fill="#ef5a3a" stroke="#3b3b3b" stroke-width="0.55" fill-opacity="0.88"/><circle cx="910.29" cy="1121.47" r="3.3" fill="#ef5a3a" stroke="#3b3b3b" stroke-width="0.55" fill-opacity="0.88"/><circle cx="1003.64" cy="1138.89" r="3.3" fill="#ef5a3a" stroke="#3b3b3b" stroke-width="0.55" fill-opacity="0.88"/><circle cx="1003.46" cy="1118.01" r="3.3" fill="#ef5a3a" stroke="#3b3b3b" stroke-width="0.55" fill-opacity="0.88"/><circle cx="990.58" cy="1129.90" r="3.3" fill="#ef5a3a" stroke="#3b3b3b" stroke-width="0.55" fill-opacity="0.88"/><circle cx="944.12" cy="1133.53" r="3.3" fill="#ef5a3a" stroke="#3b3b3b" stroke-width="0.55" fill-opacity="0.88"/><circle cx="946.85" cy="1116.00" r="3.3" fill="#ef5a3a" stroke="#3b3b3b" stroke-width="0.55" fill-opacity="0.88"/><circle cx="952.60" cy="1137.62" r="3.3" fill="#ef5a3a" stroke="#3b3b3b" stroke-width="0.55" fill-opacity="0.88"/><circle cx="943.42" cy="1134.15" r="3.3" fill="#ef5a3a" stroke="#3b3b3b" stroke-width="0.55" fill-opacity="0.88"/><circle cx="993.60" cy="1137.33" r="3.3" fill="#ef5a3a" stroke="#3b3b3b" stroke-width="0.55" fill-opacity="0.88"/><circle cx="925.03" cy="1131.68" r="3.3" fill="#ef5a3a" stroke="#3b3b3b" stroke-width="0.55" fill-opacity="0.88"/><circle cx="979.86" cy="1130.11" r="3.3" fill="#ef5a3a" stroke="#3b3b3b" stroke-width="0.55" fill-opacity="0.88"/><circle cx="965.43" cy="1133.02" r="3.3" fill="#ef5a3a" stroke="#3b3b3b" stroke-width="0.55" fill-opacity="0.88"/><circle cx="892.57" cy="1135.36" r="3.3" fill="#ef5a3a" stroke="#3b3b3b" stroke-width="0.55" fill-opacity="0.88"/><circle cx="992.62" cy="1124.31" r="3.3" fill="#ef5a3a" stroke="#3b3b3b" stroke-width="0.55" fill-opacity="0.88"/><circle cx="960.95" cy="1128.66" r="3.3" fill="#ef5a3a" stroke="#3b3b3b" stroke-width="0.55" fill-opacity="0.88"/><circle cx="978.80" cy="1132.86" r="3.3" fill="#ef5a3a" stroke="#3b3b3b" stroke-width="0.55" fill-opacity="0.88"/><circle cx="979.29" cy="1136.04" r="3.3" fill="#ef5a3a" stroke="#3b3b3b" stroke-width="0.55" fill-opacity="0.88"/><circle cx="984.78" cy="1128.04" r="3.3" fill="#ef5a3a" stroke="#3b3b3b" stroke-width="0.55" fill-opacity="0.88"/><circle cx="931.45" cy="1123.42" r="3.3" fill="#ef5a3a" stroke="#3b3b3b" stroke-width="0.55" fill-opacity="0.88"/><circle cx="960.13" cy="1122.43" r="3.3" fill="#ef5a3a" stroke="#3b3b3b" stroke-width="0.55" fill-opacity="0.88"/><circle cx="1003.40" cy="1127.56" r="3.3" fill="#ef5a3a" stroke="#3b3b3b" stroke-width="0.55" fill-opacity="0.88"/><circle cx="907.86" cy="1126.40" r="3.3" fill="#ef5a3a" stroke="#3b3b3b" stroke-width="0.55" fill-opacity="0.88"/><circle cx="971.44" cy="1131.42" r="3.3" fill="#ef5a3a" stroke="#3b3b3b" stroke-width="0.55" fill-opacity="0.88"/><circle cx="900.29" cy="1128.99" r="3.3" fill="#ef5a3a" stroke="#3b3b3b" stroke-width="0.55" fill-opacity="0.88"/><circle cx="921.89" cy="1128.00" r="3.3" fill="#ef5a3a" stroke="#3b3b3b" stroke-width="0.55" fill-opacity="0.88"/><circle cx="988.54" cy="1116.95" r="3.3" fill="#ef5a3a" stroke="#3b3b3b" stroke-width="0.55" fill-opacity="0.88"/><circle cx="973.06" cy="1132.79" r="3.3" fill="#ef5a3a" stroke="#3b3b3b" stroke-width="0.55" fill-opacity="0.88"/><circle cx="898.95" cy="1125.82" r="3.3" fill="#ef5a3a" stroke="#3b3b3b" stroke-width="0.55" fill-opacity="0.88"/><circle cx="968.02" cy="1131.52" r="3.3" fill="#ef5a3a" stroke="#3b3b3b" stroke-width="0.55" fill-opacity="0.88"/><circle cx="981.74" cy="1131.75" r="3.3" fill="#ef5a3a" stroke="#3b3b3b" stroke-width="0.55" fill-opacity="0.88"/><circle cx="915.51" cy="1134.85" r="3.3" fill="#ef5a3a" stroke="#3b3b3b" stroke-width="0.55" fill-opacity="0.88"/><circle cx="895.16" cy="1123.71" r="3.3" fill="#ef5a3a" stroke="#3b3b3b" stroke-width="0.55" fill-opacity="0.88"/><circle cx="913.93" cy="1122.77" r="3.3" fill="#ef5a3a" stroke="#3b3b3b" stroke-width="0.55" fill-opacity="0.88"/><circle cx="934.44" cy="1128.13" r="3.3" fill="#ef5a3a" stroke="#3b3b3b" stroke-width="0.55" fill-opacity="0.88"/><circle cx="978.26" cy="1133.82" r="3.3" fill="#ef5a3a" stroke="#3b3b3b" stroke-width="0.55" fill-opacity="0.88"/><circle cx="980.64" cy="1133.89" r="3.3" fill="#ef5a3a" stroke="#3b3b3b" stroke-width="0.55" fill-opacity="0.88"/><circle cx="959.38" cy="1127.14" r="3.3" fill="#ef5a3a" stroke="#3b3b3b" stroke-width="0.55" fill-opacity="0.88"/><circle cx="987.55" cy="1123.50" r="3.3" fill="#ef5a3a" stroke="#3b3b3b" stroke-width="0.55" fill-opacity="0.88"/><circle cx="938.44" cy="1122.93" r="3.3" fill="#ef5a3a" stroke="#3b3b3b" stroke-width="0.55" fill-opacity="0.88"/><circle cx="936.01" cy="1128.50" r="3.3" fill="#ef5a3a" stroke="#3b3b3b" stroke-width="0.55" fill-opacity="0.88"/><circle cx="907.30" cy="1135.71" r="3.3" fill="#ef5a3a" stroke="#3b3b3b" stroke-width="0.55" fill-opacity="0.88"/><circle cx="986.24" cy="1121.62" r="3.3" fill="#ef5a3a" stroke="#3b3b3b" stroke-width="0.55" fill-opacity="0.88"/><circle cx="955.56" cy="1129.25" r="3.3" fill="#ef5a3a" stroke="#3b3b3b" stroke-width="0.55" fill-opacity="0.88"/><circle cx="920.43" cy="1133.06" r="3.3" fill="#ef5a3a" stroke="#3b3b3b" stroke-width="0.55" fill-opacity="0.88"/><circle cx="951.03" cy="1130.45" r="3.3" fill="#ef5a3a" stroke="#3b3b3b" stroke-width="0.55" fill-opacity="0.88"/><circle cx="947.51" cy="1131.90" r="3.3" fill="#ef5a3a" stroke="#3b3b3b" stroke-width="0.55" fill-opacity="0.88"/><circle cx="889.14" cy="1133.36" r="3.3" fill="#ef5a3a" stroke="#3b3b3b" stroke-width="0.55" fill-opacity="0.88"/><circle cx="900.88" cy="1129.23" r="3.3" fill="#ef5a3a" stroke="#3b3b3b" stroke-width="0.55" fill-opacity="0.88"/><circle cx="932.83" cy="1129.03" r="3.3" fill="#ef5a3a" stroke="#3b3b3b" stroke-width="0.55" fill-opacity="0.88"/><circle cx="993.22" cy="1128.05" r="3.3" fill="#ef5a3a" stroke="#3b3b3b" stroke-width="0.55" fill-opacity="0.88"/><circle cx="993.76" cy="1127.52" r="3.3" fill="#ef5a3a" stroke="#3b3b3b" stroke-width="0.55" fill-opacity="0.88"/><circle cx="954.91" cy="1129.35" r="3.3" fill="#ef5a3a" stroke="#3b3b3b" stroke-width="0.55" fill-opacity="0.88"/><circle cx="982.75" cy="1128.49" r="3.3" fill="#ef5a3a" stroke="#3b3b3b" stroke-width="0.55" fill-opacity="0.88"/><circle cx="981.47" cy="1117.64" r="3.3" fill="#ef5a3a" stroke="#3b3b3b" stroke-width="0.55" fill-opacity="0.88"/><circle cx="881.06" cy="1132.67" r="3.3" fill="#ef5a3a" stroke="#3b3b3b" stroke-width="0.55" fill-opacity="0.88"/><circle cx="947.19" cy="1145.14" r="3.3" fill="#ef5a3a" stroke="#3b3b3b" stroke-width="0.55" fill-opacity="0.88"/><circle cx="929.14" cy="1131.34" r="3.3" fill="#ef5a3a" stroke="#3b3b3b" stroke-width="0.55" fill-opacity="0.88"/><circle cx="983.74" cy="1128.69" r="3.3" fill="#ef5a3a" stroke="#3b3b3b" stroke-width="0.55" fill-opacity="0.88"/><circle cx="904.38" cy="1130.37" r="3.3" fill="#ef5a3a" stroke="#3b3b3b" stroke-width="0.55" fill-opacity="0.88"/><circle cx="943.92" cy="1143.78" r="3.3" fill="#ef5a3a" stroke="#3b3b3b" stroke-width="0.55" fill-opacity="0.88"/><circle cx="930.41" cy="1133.63" r="3.3" fill="#ef5a3a" stroke="#3b3b3b" stroke-width="0.55" fill-opacity="0.88"/><circle cx="957.64" cy="1136.03" r="3.3" fill="#ef5a3a" stroke="#3b3b3b" stroke-width="0.55" fill-opacity="0.88"/><circle cx="920.46" cy="1127.97" r="3.3" fill="#ef5a3a" stroke="#3b3b3b" stroke-width="0.55" fill-opacity="0.88"/><circle cx="926.17" cy="1140.11" r="3.3" fill="#ef5a3a" stroke="#3b3b3b" stroke-width="0.55" fill-opacity="0.88"/><circle cx="906.12" cy="1135.21" r="3.3" fill="#ef5a3a" stroke="#3b3b3b" stroke-width="0.55" fill-opacity="0.88"/><circle cx="925.38" cy="1129.22" r="3.3" fill="#ef5a3a" stroke="#3b3b3b" stroke-width="0.55" fill-opacity="0.88"/><circle cx="945.61" cy="1130.24" r="3.3" fill="#ef5a3a" stroke="#3b3b3b" stroke-width="0.55" fill-opacity="0.88"/><circle cx="959.62" cy="1131.38" r="3.3" fill="#ef5a3a" stroke="#3b3b3b" stroke-width="0.55" fill-opacity="0.88"/><circle cx="937.20" cy="1131.19" r="3.3" fill="#ef5a3a" stroke="#3b3b3b" stroke-width="0.55" fill-opacity="0.88"/><circle cx="998.34" cy="1120.70" r="3.3" fill="#ef5a3a" stroke="#3b3b3b" stroke-width="0.55" fill-opacity="0.88"/><circle cx="986.07" cy="1125.49" r="3.3" fill="#ef5a3a" stroke="#3b3b3b" stroke-width="0.55" fill-opacity="0.88"/><circle cx="983.14" cy="1121.18" r="3.3" fill="#ef5a3a" stroke="#3b3b3b" stroke-width="0.55" fill-opacity="0.88"/><circle cx="915.34" cy="1127.80" r="3.3" fill="#ef5a3a" stroke="#3b3b3b" stroke-width="0.55" fill-opacity="0.88"/><circle cx="899.55" cy="1129.90" r="3.3" fill="#ef5a3a" stroke="#3b3b3b" stroke-width="0.55" fill-opacity="0.88"/><circle cx="974.21" cy="1128.65" r="3.3" fill="#ef5a3a" stroke="#3b3b3b" stroke-width="0.55" fill-opacity="0.88"/><circle cx="983.68" cy="1116.46" r="3.3" fill="#ef5a3a" stroke="#3b3b3b" stroke-width="0.55" fill-opacity="0.88"/><circle cx="980.18" cy="1128.58" r="3.3" fill="#ef5a3a" stroke="#3b3b3b" stroke-width="0.55" fill-opacity="0.88"/><circle cx="991.53" cy="1116.00" r="3.3" fill="#ef5a3a" stroke="#3b3b3b" stroke-width="0.55" fill-opacity="0.88"/><circle cx="883.93" cy="1137.33" r="3.3" fill="#ef5a3a" stroke="#3b3b3b" stroke-width="0.55" fill-opacity="0.88"/><circle cx="908.21" cy="1143.76" r="3.3" fill="#ef5a3a" stroke="#3b3b3b" stroke-width="0.55" fill-opacity="0.88"/><circle cx="914.27" cy="1140.78" r="3.3" fill="#ef5a3a" stroke="#3b3b3b" stroke-width="0.55" fill-opacity="0.88"/><circle cx="918.78" cy="1137.22" r="3.3" fill="#ef5a3a" stroke="#3b3b3b" stroke-width="0.55" fill-opacity="0.88"/><circle cx="890.66" cy="1146.59" r="3.3" fill="#ef5a3a" stroke="#3b3b3b" stroke-width="0.55" fill-opacity="0.88"/><circle cx="884.09" cy="1140.86" r="3.3" fill="#ef5a3a" stroke="#3b3b3b" stroke-width="0.55" fill-opacity="0.88"/><circle cx="916.25" cy="1147.10" r="3.3" fill="#ef5a3a" stroke="#3b3b3b" stroke-width="0.55" fill-opacity="0.88"/><circle cx="894.15" cy="1138.29" r="3.3" fill="#ef5a3a" stroke="#3b3b3b" stroke-width="0.55" fill-opacity="0.88"/><circle cx="897.89" cy="1147.62" r="3.3" fill="#ef5a3a" stroke="#3b3b3b" stroke-width="0.55" fill-opacity="0.88"/><circle cx="898.32" cy="1137.88" r="3.3" fill="#ef5a3a" stroke="#3b3b3b" stroke-width="0.55" fill-opacity="0.88"/><circle cx="977.50" cy="975.80" r="3.3" fill="#ef5a3a" stroke="#3b3b3b" stroke-width="0.55" fill-opacity="0.88"/><circle cx="1068.30" cy="955.80" r="3.3" fill="#ef5a3a" stroke="#3b3b3b" stroke-width="0.55" fill-opacity="0.88"/><circle cx="1042.50" cy="977.50" r="3.3" fill="#ef5a3a" stroke="#3b3b3b" stroke-width="0.55" fill-opacity="0.88"/><circle cx="1025.80" cy="994.20" r="3.3" fill="#ef5a3a" stroke="#3b3b3b" stroke-width="0.55" fill-opacity="0.88"/><circle cx="1068.00" cy="955.50" r="3.3" fill="#ef5a3a" stroke="#3b3b3b" stroke-width="0.55" fill-opacity="0.88"/><circle cx="977.40" cy="976.10" r="3.3" fill="#ef5a3a" stroke="#3b3b3b" stroke-width="0.55" fill-opacity="0.88"/><circle cx="1042.10" cy="977.40" r="3.3" fill="#ef5a3a" stroke="#3b3b3b" stroke-width="0.55" fill-opacity="0.88"/><circle cx="1025.60" cy="993.90" r="3.3" fill="#ef5a3a" stroke="#3b3b3b" stroke-width="0.55" fill-opacity="0.88"/><circle cx="978.30" cy="1006.20" r="3.3" fill="#ef5a3a" stroke="#3b3b3b" stroke-width="0.55" fill-opacity="0.88"/><circle cx="1009.90" cy="1029.70" r="3.3" fill="#ef5a3a" stroke="#3b3b3b" stroke-width="0.55" fill-opacity="0.88"/><circle cx="1052.00" cy="1004.00" r="3.3" fill="#ef5a3a" stroke="#3b3b3b" stroke-width="0.55" fill-opacity="0.88"/><circle cx="1058.10" cy="1028.80" r="3.3" fill="#ef5a3a" stroke="#3b3b3b" stroke-width="0.55" fill-opacity="0.88"/><circle cx="1089.80" cy="1006.20" r="3.3" fill="#ef5a3a" stroke="#3b3b3b" stroke-width="0.55" fill-opacity="0.88"/><circle cx="965.10" cy="1063.60" r="3.3" fill="#ef5a3a" stroke="#3b3b3b" stroke-width="0.55" fill-opacity="0.88"/><circle cx="1000.00" cy="1072.20" r="3.3" fill="#ef5a3a" stroke="#3b3b3b" stroke-width="0.55" fill-opacity="0.88"/><circle cx="1069.10" cy="1079.20" r="3.3" fill="#ef5a3a" stroke="#3b3b3b" stroke-width="0.55" fill-opacity="0.88"/><circle cx="1037.90" cy="1086.50" r="3.3" fill="#ef5a3a" stroke="#3b3b3b" stroke-width="0.55" fill-opacity="0.88"/><circle cx="976.90" cy="1090.50" r="3.3" fill="#ef5a3a" stroke="#3b3b3b" stroke-width="0.55" fill-opacity="0.88"/><circle cx="964.60" cy="1098.40" r="3.3" fill="#ef5a3a" stroke="#3b3b3b" stroke-width="0.55" fill-opacity="0.88"/><circle cx="983.50" cy="1105.80" r="3.3" fill="#ef5a3a" stroke="#3b3b3b" stroke-width="0.55" fill-opacity="0.88"/><circle cx="978.30" cy="1111.80" r="3.3" fill="#ef5a3a" stroke="#3b3b3b" stroke-width="0.55" fill-opacity="0.88"/><circle cx="988.40" cy="1116.20" r="3.3" fill="#ef5a3a" stroke="#3b3b3b" stroke-width="0.55" fill-opacity="0.88"/><circle cx="993.00" cy="1122.30" r="3.3" fill="#ef5a3a" stroke="#3b3b3b" stroke-width="0.55" fill-opacity="0.88"/><circle cx="996.70" cy="1119.50" r="3.3" fill="#ef5a3a" stroke="#3b3b3b" stroke-width="0.55" fill-opacity="0.88"/><circle cx="987.50" cy="1128.30" r="3.3" fill="#ef5a3a" stroke="#3b3b3b" stroke-width="0.55" fill-opacity="0.88"/><circle cx="982.00" cy="1131.40" r="3.3" fill="#ef5a3a" stroke="#3b3b3b" stroke-width="0.55" fill-opacity="0.88"/><circle cx="976.10" cy="1132.30" r="3.3" fill="#ef5a3a" stroke="#3b3b3b" stroke-width="0.55" fill-opacity="0.88"/><circle cx="965.50" cy="1133.30" r="3.3" fill="#ef5a3a" stroke="#3b3b3b" stroke-width="0.55" fill-opacity="0.88"/><circle cx="968.30" cy="1127.20" r="3.3" fill="#ef5a3a" stroke="#3b3b3b" stroke-width="0.55" fill-opacity="0.88"/><circle cx="972.80" cy="1125.00" r="3.3" fill="#ef5a3a" stroke="#3b3b3b" stroke-width="0.55" fill-opacity="0.88"/><circle cx="978.30" cy="1125.90" r="3.3" fill="#ef5a3a" stroke="#3b3b3b" stroke-width="0.55" fill-opacity="0.88"/><circle cx="963.70" cy="1121.30" r="3.3" fill="#ef5a3a" stroke="#3b3b3b" stroke-width="0.55" fill-opacity="0.88"/><circle cx="974.70" cy="1119.50" r="3.3" fill="#ef5a3a" stroke="#3b3b3b" stroke-width="0.55" fill-opacity="0.88"/><circle cx="970.10" cy="1115.80" r="3.3" fill="#ef5a3a" stroke="#3b3b3b" stroke-width="0.55" fill-opacity="0.88"/><circle cx="980.20" cy="1118.00" r="3.3" fill="#ef5a3a" stroke="#3b3b3b" stroke-width="0.55" fill-opacity="0.88"/><circle cx="927.60" cy="1078.30" r="3.3" fill="#ef5a3a" stroke="#3b3b3b" stroke-width="0.55" fill-opacity="0.88"/><circle cx="964.80" cy="1063.60" r="3.3" fill="#ef5a3a" stroke="#3b3b3b" stroke-width="0.55" fill-opacity="0.88"/><circle cx="978.00" cy="1006.20" r="3.3" fill="#ef5a3a" stroke="#3b3b3b" stroke-width="0.55" fill-opacity="0.88"/><circle cx="1010.00" cy="1078.00" r="3.3" fill="#ef5a3a" stroke="#3b3b3b" stroke-width="0.55" fill-opacity="0.88"/><circle cx="1020.00" cy="1092.00" r="3.3" fill="#ef5a3a" stroke="#3b3b3b" stroke-width="0.55" fill-opacity="0.88"/><circle cx="1030.00" cy="1066.00" r="3.3" fill="#ef5a3a" stroke="#3b3b3b" stroke-width="0.55" fill-opacity="0.88"/><circle cx="1045.00" cy="1050.00" r="3.3" fill="#ef5a3a" stroke="#3b3b3b" stroke-width="0.55" fill-opacity="0.88"/><circle cx="1002.00" cy="1098.00" r="3.3" fill="#ef5a3a" stroke="#3b3b3b" stroke-width="0.55" fill-opacity="0.88"/>
<circle cx="1001.30" cy="910.80" r="3.3" fill="#2ca2db" stroke="#3b3b3b" stroke-width="0.55" fill-opacity="0.85"/><circle cx="979.50" cy="939.20" r="3.3" fill="#2ca2db" stroke="#3b3b3b" stroke-width="0.55" fill-opacity="0.85"/><circle cx="976.70" cy="955.80" r="3.3" fill="#2ca2db" stroke="#3b3b3b" stroke-width="0.55" fill-opacity="0.85"/><circle cx="1027.50" cy="949.20" r="3.3" fill="#2ca2db" stroke="#3b3b3b" stroke-width="0.55" fill-opacity="0.85"/><circle cx="931.30" cy="965.00" r="3.3" fill="#2ca2db" stroke="#3b3b3b" stroke-width="0.55" fill-opacity="0.85"/><circle cx="945.80" cy="974.20" r="3.3" fill="#2ca2db" stroke="#3b3b3b" stroke-width="0.55" fill-opacity="0.85"/><circle cx="975.00" cy="972.50" r="3.3" fill="#2ca2db" stroke="#3b3b3b" stroke-width="0.55" fill-opacity="0.85"/><circle cx="970.80" cy="977.50" r="3.3" fill="#2ca2db" stroke="#3b3b3b" stroke-width="0.55" fill-opacity="0.85"/><circle cx="963.30" cy="981.70" r="3.3" fill="#2ca2db" stroke="#3b3b3b" stroke-width="0.55" fill-opacity="0.85"/><circle cx="966.70" cy="983.30" r="3.3" fill="#2ca2db" stroke="#3b3b3b" stroke-width="0.55" fill-opacity="0.85"/><circle cx="988.00" cy="970.30" r="3.3" fill="#2ca2db" stroke="#3b3b3b" stroke-width="0.55" fill-opacity="0.85"/><circle cx="1009.20" cy="967.50" r="3.3" fill="#2ca2db" stroke="#3b3b3b" stroke-width="0.55" fill-opacity="0.85"/><circle cx="1013.30" cy="975.00" r="3.3" fill="#2ca2db" stroke="#3b3b3b" stroke-width="0.55" fill-opacity="0.85"/><circle cx="993.30" cy="982.00" r="3.3" fill="#2ca2db" stroke="#3b3b3b" stroke-width="0.55" fill-opacity="0.85"/><circle cx="931.70" cy="993.30" r="3.3" fill="#2ca2db" stroke="#3b3b3b" stroke-width="0.55" fill-opacity="0.85"/><circle cx="1033.70" cy="994.70" r="3.3" fill="#2ca2db" stroke="#3b3b3b" stroke-width="0.55" fill-opacity="0.85"/><circle cx="1063.30" cy="988.30" r="3.3" fill="#2ca2db" stroke="#3b3b3b" stroke-width="0.55" fill-opacity="0.85"/><circle cx="1068.30" cy="992.50" r="3.3" fill="#2ca2db" stroke="#3b3b3b" stroke-width="0.55" fill-opacity="0.85"/><circle cx="915.80" cy="1012.50" r="3.3" fill="#2ca2db" stroke="#3b3b3b" stroke-width="0.55" fill-opacity="0.85"/><circle cx="987.50" cy="969.50" r="3.3" fill="#2ca2db" stroke="#3b3b3b" stroke-width="0.55" fill-opacity="0.85"/><circle cx="974.70" cy="972.50" r="3.3" fill="#2ca2db" stroke="#3b3b3b" stroke-width="0.55" fill-opacity="0.85"/><circle cx="970.10" cy="977.40" r="3.3" fill="#2ca2db" stroke="#3b3b3b" stroke-width="0.55" fill-opacity="0.85"/><circle cx="962.80" cy="981.60" r="3.3" fill="#2ca2db" stroke="#3b3b3b" stroke-width="0.55" fill-opacity="0.85"/><circle cx="967.30" cy="983.50" r="3.3" fill="#2ca2db" stroke="#3b3b3b" stroke-width="0.55" fill-opacity="0.85"/><circle cx="993.00" cy="982.40" r="3.3" fill="#2ca2db" stroke="#3b3b3b" stroke-width="0.55" fill-opacity="0.85"/><circle cx="1009.10" cy="967.30" r="3.3" fill="#2ca2db" stroke="#3b3b3b" stroke-width="0.55" fill-opacity="0.85"/><circle cx="1013.20" cy="974.70" r="3.3" fill="#2ca2db" stroke="#3b3b3b" stroke-width="0.55" fill-opacity="0.85"/><circle cx="1033.30" cy="994.50" r="3.3" fill="#2ca2db" stroke="#3b3b3b" stroke-width="0.55" fill-opacity="0.85"/><circle cx="1006.80" cy="1002.20" r="3.3" fill="#2ca2db" stroke="#3b3b3b" stroke-width="0.55" fill-opacity="0.85"/><circle cx="1000.30" cy="1007.30" r="3.3" fill="#2ca2db" stroke="#3b3b3b" stroke-width="0.55" fill-opacity="0.85"/><circle cx="1029.70" cy="1003.60" r="3.3" fill="#2ca2db" stroke="#3b3b3b" stroke-width="0.55" fill-opacity="0.85"/><circle cx="1028.80" cy="1008.60" r="3.3" fill="#2ca2db" stroke="#3b3b3b" stroke-width="0.55" fill-opacity="0.85"/><circle cx="1082.50" cy="982.90" r="3.3" fill="#2ca2db" stroke="#3b3b3b" stroke-width="0.55" fill-opacity="0.85"/><circle cx="1068.20" cy="992.10" r="3.3" fill="#2ca2db" stroke="#3b3b3b" stroke-width="0.55" fill-opacity="0.85"/><circle cx="1068.50" cy="997.60" r="3.3" fill="#2ca2db" stroke="#3b3b3b" stroke-width="0.55" fill-opacity="0.85"/><circle cx="1063.60" cy="988.40" r="3.3" fill="#2ca2db" stroke="#3b3b3b" stroke-width="0.55" fill-opacity="0.85"/><circle cx="1064.50" cy="1004.90" r="3.3" fill="#2ca2db" stroke="#3b3b3b" stroke-width="0.55" fill-opacity="0.85"/><circle cx="1070.90" cy="1008.60" r="3.3" fill="#2ca2db" stroke="#3b3b3b" stroke-width="0.55" fill-opacity="0.85"/><circle cx="1055.30" cy="1009.90" r="3.3" fill="#2ca2db" stroke="#3b3b3b" stroke-width="0.55" fill-opacity="0.85"/><circle cx="1083.20" cy="1008.00" r="3.3" fill="#2ca2db" stroke="#3b3b3b" stroke-width="0.55" fill-opacity="0.85"/><circle cx="1082.50" cy="1017.80" r="3.3" fill="#2ca2db" stroke="#3b3b3b" stroke-width="0.55" fill-opacity="0.85"/><circle cx="1038.80" cy="1021.40" r="3.3" fill="#2ca2db" stroke="#3b3b3b" stroke-width="0.55" fill-opacity="0.85"/><circle cx="1058.10" cy="1023.30" r="3.3" fill="#2ca2db" stroke="#3b3b3b" stroke-width="0.55" fill-opacity="0.85"/><circle cx="963.30" cy="1009.10" r="3.3" fill="#2ca2db" stroke="#3b3b3b" stroke-width="0.55" fill-opacity="0.85"/><circle cx="979.30" cy="1011.00" r="3.3" fill="#2ca2db" stroke="#3b3b3b" stroke-width="0.55" fill-opacity="0.85"/><circle cx="971.90" cy="1020.50" r="3.3" fill="#2ca2db" stroke="#3b3b3b" stroke-width="0.55" fill-opacity="0.85"/><circle cx="976.90" cy="1020.50" r="3.3" fill="#2ca2db" stroke="#3b3b3b" stroke-width="0.55" fill-opacity="0.85"/><circle cx="984.80" cy="1022.00" r="3.3" fill="#2ca2db" stroke="#3b3b3b" stroke-width="0.55" fill-opacity="0.85"/><circle cx="983.80" cy="1026.90" r="3.3" fill="#2ca2db" stroke="#3b3b3b" stroke-width="0.55" fill-opacity="0.85"/><circle cx="963.70" cy="1024.50" r="3.3" fill="#2ca2db" stroke="#3b3b3b" stroke-width="0.55" fill-opacity="0.85"/><circle cx="968.30" cy="1028.20" r="3.3" fill="#2ca2db" stroke="#3b3b3b" stroke-width="0.55" fill-opacity="0.85"/><circle cx="963.30" cy="1034.80" r="3.3" fill="#2ca2db" stroke="#3b3b3b" stroke-width="0.55" fill-opacity="0.85"/><circle cx="984.80" cy="1038.50" r="3.3" fill="#2ca2db" stroke="#3b3b3b" stroke-width="0.55" fill-opacity="0.85"/><circle cx="977.40" cy="1042.90" r="3.3" fill="#2ca2db" stroke="#3b3b3b" stroke-width="0.55" fill-opacity="0.85"/><circle cx="990.30" cy="1044.70" r="3.3" fill="#2ca2db" stroke="#3b3b3b" stroke-width="0.55" fill-opacity="0.85"/><circle cx="993.90" cy="1049.50" r="3.3" fill="#2ca2db" stroke="#3b3b3b" stroke-width="0.55" fill-opacity="0.85"/><circle cx="998.50" cy="1042.50" r="3.3" fill="#2ca2db" stroke="#3b3b3b" stroke-width="0.55" fill-opacity="0.85"/><circle cx="1011.30" cy="1040.70" r="3.3" fill="#2ca2db" stroke="#3b3b3b" stroke-width="0.55" fill-opacity="0.85"/><circle cx="982.90" cy="1049.50" r="3.3" fill="#2ca2db" stroke="#3b3b3b" stroke-width="0.55" fill-opacity="0.85"/><circle cx="978.30" cy="1054.40" r="3.3" fill="#2ca2db" stroke="#3b3b3b" stroke-width="0.55" fill-opacity="0.85"/><circle cx="982.00" cy="1055.30" r="3.3" fill="#2ca2db" stroke="#3b3b3b" stroke-width="0.55" fill-opacity="0.85"/><circle cx="984.80" cy="1055.70" r="3.3" fill="#2ca2db" stroke="#3b3b3b" stroke-width="0.55" fill-opacity="0.85"/><circle cx="981.10" cy="1060.50" r="3.3" fill="#2ca2db" stroke="#3b3b3b" stroke-width="0.55" fill-opacity="0.85"/><circle cx="1006.80" cy="1067.80" r="3.3" fill="#2ca2db" stroke="#3b3b3b" stroke-width="0.55" fill-opacity="0.85"/><circle cx="1008.60" cy="1076.40" r="3.3" fill="#2ca2db" stroke="#3b3b3b" stroke-width="0.55" fill-opacity="0.85"/><circle cx="963.70" cy="1079.20" r="3.3" fill="#2ca2db" stroke="#3b3b3b" stroke-width="0.55" fill-opacity="0.85"/><circle cx="974.30" cy="1078.30" r="3.3" fill="#2ca2db" stroke="#3b3b3b" stroke-width="0.55" fill-opacity="0.85"/><circle cx="970.10" cy="1083.20" r="3.3" fill="#2ca2db" stroke="#3b3b3b" stroke-width="0.55" fill-opacity="0.85"/><circle cx="962.20" cy="1085.60" r="3.3" fill="#2ca2db" stroke="#3b3b3b" stroke-width="0.55" fill-opacity="0.85"/><circle cx="974.30" cy="1093.50" r="3.3" fill="#2ca2db" stroke="#3b3b3b" stroke-width="0.55" fill-opacity="0.85"/><circle cx="976.90" cy="1096.60" r="3.3" fill="#2ca2db" stroke="#3b3b3b" stroke-width="0.55" fill-opacity="0.85"/><circle cx="995.80" cy="1084.30" r="3.3" fill="#2ca2db" stroke="#3b3b3b" stroke-width="0.55" fill-opacity="0.85"/><circle cx="996.70" cy="1113.10" r="3.3" fill="#2ca2db" stroke="#3b3b3b" stroke-width="0.55" fill-opacity="0.85"/><circle cx="931.30" cy="965.10" r="3.3" fill="#2ca2db" stroke="#3b3b3b" stroke-width="0.55" fill-opacity="0.85"/><circle cx="945.60" cy="973.80" r="3.3" fill="#2ca2db" stroke="#3b3b3b" stroke-width="0.55" fill-opacity="0.85"/><circle cx="931.30" cy="993.60" r="3.3" fill="#2ca2db" stroke="#3b3b3b" stroke-width="0.55" fill-opacity="0.85"/><circle cx="963.00" cy="981.60" r="3.3" fill="#2ca2db" stroke="#3b3b3b" stroke-width="0.55" fill-opacity="0.85"/><circle cx="970.70" cy="977.40" r="3.3" fill="#2ca2db" stroke="#3b3b3b" stroke-width="0.55" fill-opacity="0.85"/><circle cx="974.30" cy="973.20" r="3.3" fill="#2ca2db" stroke="#3b3b3b" stroke-width="0.55" fill-opacity="0.85"/><circle cx="987.20" cy="970.10" r="3.3" fill="#2ca2db" stroke="#3b3b3b" stroke-width="0.55" fill-opacity="0.85"/><circle cx="993.60" cy="982.40" r="3.3" fill="#2ca2db" stroke="#3b3b3b" stroke-width="0.55" fill-opacity="0.85"/><circle cx="963.00" cy="1009.10" r="3.3" fill="#2ca2db" stroke="#3b3b3b" stroke-width="0.55" fill-opacity="0.85"/><circle cx="915.70" cy="1013.20" r="3.3" fill="#2ca2db" stroke="#3b3b3b" stroke-width="0.55" fill-opacity="0.85"/><circle cx="933.60" cy="1012.30" r="3.3" fill="#2ca2db" stroke="#3b3b3b" stroke-width="0.55" fill-opacity="0.85"/><circle cx="924.80" cy="1022.00" r="3.3" fill="#2ca2db" stroke="#3b3b3b" stroke-width="0.55" fill-opacity="0.85"/><circle cx="941.90" cy="1018.30" r="3.3" fill="#2ca2db" stroke="#3b3b3b" stroke-width="0.55" fill-opacity="0.85"/><circle cx="945.90" cy="1022.30" r="3.3" fill="#2ca2db" stroke="#3b3b3b" stroke-width="0.55" fill-opacity="0.85"/><circle cx="956.90" cy="1019.60" r="3.3" fill="#2ca2db" stroke="#3b3b3b" stroke-width="0.55" fill-opacity="0.85"/><circle cx="971.60" cy="1020.50" r="3.3" fill="#2ca2db" stroke="#3b3b3b" stroke-width="0.55" fill-opacity="0.85"/><circle cx="977.10" cy="1020.50" r="3.3" fill="#2ca2db" stroke="#3b3b3b" stroke-width="0.55" fill-opacity="0.85"/><circle cx="984.40" cy="1021.40" r="3.3" fill="#2ca2db" stroke="#3b3b3b" stroke-width="0.55" fill-opacity="0.85"/><circle cx="962.40" cy="1025.10" r="3.3" fill="#2ca2db" stroke="#3b3b3b" stroke-width="0.55" fill-opacity="0.85"/><circle cx="967.90" cy="1028.20" r="3.3" fill="#2ca2db" stroke="#3b3b3b" stroke-width="0.55" fill-opacity="0.85"/><circle cx="934.40" cy="1030.00" r="3.3" fill="#2ca2db" stroke="#3b3b3b" stroke-width="0.55" fill-opacity="0.85"/><circle cx="984.40" cy="1026.90" r="3.3" fill="#2ca2db" stroke="#3b3b3b" stroke-width="0.55" fill-opacity="0.85"/><circle cx="962.40" cy="1034.80" r="3.3" fill="#2ca2db" stroke="#3b3b3b" stroke-width="0.55" fill-opacity="0.85"/><circle cx="963.30" cy="1036.60" r="3.3" fill="#2ca2db" stroke="#3b3b3b" stroke-width="0.55" fill-opacity="0.85"/><circle cx="940.40" cy="1038.80" r="3.3" fill="#2ca2db" stroke="#3b3b3b" stroke-width="0.55" fill-opacity="0.85"/><circle cx="940.40" cy="1042.10" r="3.3" fill="#2ca2db" stroke="#3b3b3b" stroke-width="0.55" fill-opacity="0.85"/><circle cx="930.30" cy="1046.50" r="3.3" fill="#2ca2db" stroke="#3b3b3b" stroke-width="0.55" fill-opacity="0.85"/><circle cx="977.10" cy="1042.90" r="3.3" fill="#2ca2db" stroke="#3b3b3b" stroke-width="0.55" fill-opacity="0.85"/><circle cx="984.40" cy="1038.80" r="3.3" fill="#2ca2db" stroke="#3b3b3b" stroke-width="0.55" fill-opacity="0.85"/><circle cx="989.90" cy="1045.30" r="3.3" fill="#2ca2db" stroke="#3b3b3b" stroke-width="0.55" fill-opacity="0.85"/><circle cx="994.50" cy="1048.90" r="3.3" fill="#2ca2db" stroke="#3b3b3b" stroke-width="0.55" fill-opacity="0.85"/><circle cx="983.10" cy="1049.80" r="3.3" fill="#2ca2db" stroke="#3b3b3b" stroke-width="0.55" fill-opacity="0.85"/><circle cx="916.60" cy="1055.30" r="3.3" fill="#2ca2db" stroke="#3b3b3b" stroke-width="0.55" fill-opacity="0.85"/><circle cx="957.50" cy="1054.40" r="3.3" fill="#2ca2db" stroke="#3b3b3b" stroke-width="0.55" fill-opacity="0.85"/><circle cx="978.90" cy="1053.50" r="3.3" fill="#2ca2db" stroke="#3b3b3b" stroke-width="0.55" fill-opacity="0.85"/><circle cx="981.70" cy="1055.00" r="3.3" fill="#2ca2db" stroke="#3b3b3b" stroke-width="0.55" fill-opacity="0.85"/><circle cx="979.80" cy="1059.00" r="3.3" fill="#2ca2db" stroke="#3b3b3b" stroke-width="0.55" fill-opacity="0.85"/><circle cx="912.00" cy="1066.70" r="3.3" fill="#2ca2db" stroke="#3b3b3b" stroke-width="0.55" fill-opacity="0.85"/><circle cx="898.30" cy="1070.00" r="3.3" fill="#2ca2db" stroke="#3b3b3b" stroke-width="0.55" fill-opacity="0.85"/><circle cx="940.40" cy="1061.70" r="3.3" fill="#2ca2db" stroke="#3b3b3b" stroke-width="0.55" fill-opacity="0.85"/><circle cx="945.90" cy="1060.50" r="3.3" fill="#2ca2db" stroke="#3b3b3b" stroke-width="0.55" fill-opacity="0.85"/><circle cx="952.30" cy="1063.60" r="3.3" fill="#2ca2db" stroke="#3b3b3b" stroke-width="0.55" fill-opacity="0.85"/><circle cx="954.20" cy="1068.20" r="3.3" fill="#2ca2db" stroke="#3b3b3b" stroke-width="0.55" fill-opacity="0.85"/><circle cx="937.30" cy="1077.30" r="3.3" fill="#2ca2db" stroke="#3b3b3b" stroke-width="0.55" fill-opacity="0.85"/><circle cx="963.30" cy="1080.10" r="3.3" fill="#2ca2db" stroke="#3b3b3b" stroke-width="0.55" fill-opacity="0.85"/><circle cx="969.80" cy="1081.90" r="3.3" fill="#2ca2db" stroke="#3b3b3b" stroke-width="0.55" fill-opacity="0.85"/><circle cx="974.30" cy="1078.30" r="3.3" fill="#2ca2db" stroke="#3b3b3b" stroke-width="0.55" fill-opacity="0.85"/><circle cx="962.40" cy="1084.70" r="3.3" fill="#2ca2db" stroke="#3b3b3b" stroke-width="0.55" fill-opacity="0.85"/><circle cx="923.90" cy="1086.50" r="3.3" fill="#2ca2db" stroke="#3b3b3b" stroke-width="0.55" fill-opacity="0.85"/><circle cx="934.00" cy="1089.30" r="3.3" fill="#2ca2db" stroke="#3b3b3b" stroke-width="0.55" fill-opacity="0.85"/><circle cx="939.50" cy="1089.30" r="3.3" fill="#2ca2db" stroke="#3b3b3b" stroke-width="0.55" fill-opacity="0.85"/><circle cx="947.70" cy="1089.80" r="3.3" fill="#2ca2db" stroke="#3b3b3b" stroke-width="0.55" fill-opacity="0.85"/><circle cx="927.60" cy="1092.40" r="3.3" fill="#2ca2db" stroke="#3b3b3b" stroke-width="0.55" fill-opacity="0.85"/><circle cx="929.40" cy="1097.50" r="3.3" fill="#2ca2db" stroke="#3b3b3b" stroke-width="0.55" fill-opacity="0.85"/><circle cx="952.30" cy="1096.60" r="3.3" fill="#2ca2db" stroke="#3b3b3b" stroke-width="0.55" fill-opacity="0.85"/><circle cx="956.00" cy="1096.60" r="3.3" fill="#2ca2db" stroke="#3b3b3b" stroke-width="0.55" fill-opacity="0.85"/><circle cx="958.80" cy="1101.20" r="3.3" fill="#2ca2db" stroke="#3b3b3b" stroke-width="0.55" fill-opacity="0.85"/><circle cx="974.30" cy="1092.90" r="3.3" fill="#2ca2db" stroke="#3b3b3b" stroke-width="0.55" fill-opacity="0.85"/><circle cx="907.40" cy="1103.00" r="3.3" fill="#2ca2db" stroke="#3b3b3b" stroke-width="0.55" fill-opacity="0.85"/><circle cx="929.40" cy="1103.00" r="3.3" fill="#2ca2db" stroke="#3b3b3b" stroke-width="0.55" fill-opacity="0.85"/><circle cx="942.30" cy="1101.20" r="3.3" fill="#2ca2db" stroke="#3b3b3b" stroke-width="0.55" fill-opacity="0.85"/><circle cx="942.30" cy="1105.80" r="3.3" fill="#2ca2db" stroke="#3b3b3b" stroke-width="0.55" fill-opacity="0.85"/><circle cx="935.80" cy="1105.80" r="3.3" fill="#2ca2db" stroke="#3b3b3b" stroke-width="0.55" fill-opacity="0.85"/><circle cx="953.30" cy="1106.70" r="3.3" fill="#2ca2db" stroke="#3b3b3b" stroke-width="0.55" fill-opacity="0.85"/><circle cx="996.30" cy="1112.20" r="3.3" fill="#2ca2db" stroke="#3b3b3b" stroke-width="0.55" fill-opacity="0.85"/><circle cx="1083.50" cy="983.00" r="3.3" fill="#2ca2db" stroke="#3b3b3b" stroke-width="0.55" fill-opacity="0.85"/><circle cx="1040.00" cy="940.00" r="3.3" fill="#2ca2db" stroke="#3b3b3b" stroke-width="0.55" fill-opacity="0.85"/><circle cx="1058.00" cy="960.00" r="3.3" fill="#2ca2db" stroke="#3b3b3b" stroke-width="0.55" fill-opacity="0.85"/><circle cx="1050.00" cy="955.00" r="3.3" fill="#2ca2db" stroke="#3b3b3b" stroke-width="0.55" fill-opacity="0.85"/>
<circle cx="887.05" cy="1147.99" r="3.3" fill="#fcc21e" stroke="#3b3b3b" stroke-width="0.55" fill-opacity="0.9"/><circle cx="855.03" cy="1125.21" r="3.3" fill="#fcc21e" stroke="#3b3b3b" stroke-width="0.55" fill-opacity="0.9"/><circle cx="880.65" cy="1134.73" r="3.3" fill="#fcc21e" stroke="#3b3b3b" stroke-width="0.55" fill-opacity="0.9"/><circle cx="900.16" cy="1120.91" r="3.3" fill="#fcc21e" stroke="#3b3b3b" stroke-width="0.55" fill-opacity="0.9"/><circle cx="813.27" cy="1145.73" r="3.3" fill="#fcc21e" stroke="#3b3b3b" stroke-width="0.55" fill-opacity="0.9"/><circle cx="845.86" cy="1130.10" r="3.3" fill="#fcc21e" stroke="#3b3b3b" stroke-width="0.55" fill-opacity="0.9"/><circle cx="858.03" cy="1128.54" r="3.3" fill="#fcc21e" stroke="#3b3b3b" stroke-width="0.55" fill-opacity="0.9"/><circle cx="840.78" cy="1127.70" r="3.3" fill="#fcc21e" stroke="#3b3b3b" stroke-width="0.55" fill-opacity="0.9"/><circle cx="855.95" cy="1129.96" r="3.3" fill="#fcc21e" stroke="#3b3b3b" stroke-width="0.55" fill-opacity="0.9"/><circle cx="853.89" cy="1119.33" r="3.3" fill="#fcc21e" stroke="#3b3b3b" stroke-width="0.55" fill-opacity="0.9"/><circle cx="883.69" cy="1134.42" r="3.3" fill="#fcc21e" stroke="#3b3b3b" stroke-width="0.55" fill-opacity="0.9"/><circle cx="837.85" cy="1124.51" r="3.3" fill="#fcc21e" stroke="#3b3b3b" stroke-width="0.55" fill-opacity="0.9"/><circle cx="878.64" cy="1125.83" r="3.3" fill="#fcc21e" stroke="#3b3b3b" stroke-width="0.55" fill-opacity="0.9"/><circle cx="856.75" cy="1154.06" r="3.3" fill="#fcc21e" stroke="#3b3b3b" stroke-width="0.55" fill-opacity="0.9"/><circle cx="819.79" cy="1137.44" r="3.3" fill="#fcc21e" stroke="#3b3b3b" stroke-width="0.55" fill-opacity="0.9"/><circle cx="860.88" cy="1133.16" r="3.3" fill="#fcc21e" stroke="#3b3b3b" stroke-width="0.55" fill-opacity="0.9"/><circle cx="890.53" cy="1138.04" r="3.3" fill="#fcc21e" stroke="#3b3b3b" stroke-width="0.55" fill-opacity="0.9"/><circle cx="869.25" cy="1144.63" r="3.3" fill="#fcc21e" stroke="#3b3b3b" stroke-width="0.55" fill-opacity="0.9"/><circle cx="866.64" cy="1151.70" r="3.3" fill="#fcc21e" stroke="#3b3b3b" stroke-width="0.55" fill-opacity="0.9"/><circle cx="880.79" cy="1137.98" r="3.3" fill="#fcc21e" stroke="#3b3b3b" stroke-width="0.55" fill-opacity="0.9"/><circle cx="835.35" cy="1142.59" r="3.3" fill="#fcc21e" stroke="#3b3b3b" stroke-width="0.55" fill-opacity="0.9"/><circle cx="837.31" cy="1133.60" r="3.3" fill="#fcc21e" stroke="#3b3b3b" stroke-width="0.55" fill-opacity="0.9"/><circle cx="849.56" cy="1139.55" r="3.3" fill="#fcc21e" stroke="#3b3b3b" stroke-width="0.55" fill-opacity="0.9"/><circle cx="886.66" cy="1123.96" r="3.3" fill="#fcc21e" stroke="#3b3b3b" stroke-width="0.55" fill-opacity="0.9"/><circle cx="907.79" cy="1139.80" r="3.3" fill="#fcc21e" stroke="#3b3b3b" stroke-width="0.55" fill-opacity="0.9"/><circle cx="828.02" cy="1120.22" r="3.3" fill="#fcc21e" stroke="#3b3b3b" stroke-width="0.55" fill-opacity="0.9"/><circle cx="878.84" cy="1140.50" r="3.3" fill="#fcc21e" stroke="#3b3b3b" stroke-width="0.55" fill-opacity="0.9"/><circle cx="890.75" cy="1144.76" r="3.3" fill="#fcc21e" stroke="#3b3b3b" stroke-width="0.55" fill-opacity="0.9"/><circle cx="870.88" cy="1138.63" r="3.3" fill="#fcc21e" stroke="#3b3b3b" stroke-width="0.55" fill-opacity="0.9"/><circle cx="831.58" cy="1138.36" r="3.3" fill="#fcc21e" stroke="#3b3b3b" stroke-width="0.55" fill-opacity="0.9"/><circle cx="807.05" cy="1125.19" r="3.3" fill="#fcc21e" stroke="#3b3b3b" stroke-width="0.55" fill-opacity="0.9"/><circle cx="808.10" cy="1130.13" r="3.3" fill="#fcc21e" stroke="#3b3b3b" stroke-width="0.55" fill-opacity="0.9"/><circle cx="870.21" cy="1122.14" r="3.3" fill="#fcc21e" stroke="#3b3b3b" stroke-width="0.55" fill-opacity="0.9"/><circle cx="828.80" cy="1141.09" r="3.3" fill="#fcc21e" stroke="#3b3b3b" stroke-width="0.55" fill-opacity="0.9"/><circle cx="863.69" cy="1135.83" r="3.3" fill="#fcc21e" stroke="#3b3b3b" stroke-width="0.55" fill-opacity="0.9"/><circle cx="904.09" cy="1138.74" r="3.3" fill="#fcc21e" stroke="#3b3b3b" stroke-width="0.55" fill-opacity="0.9"/><circle cx="842.75" cy="1140.66" r="3.3" fill="#fcc21e" stroke="#3b3b3b" stroke-width="0.55" fill-opacity="0.9"/><circle cx="840.82" cy="1128.54" r="3.3" fill="#fcc21e" stroke="#3b3b3b" stroke-width="0.55" fill-opacity="0.9"/><circle cx="861.65" cy="1121.51" r="3.3" fill="#fcc21e" stroke="#3b3b3b" stroke-width="0.55" fill-opacity="0.9"/><circle cx="906.64" cy="1138.56" r="3.3" fill="#fcc21e" stroke="#3b3b3b" stroke-width="0.55" fill-opacity="0.9"/><circle cx="887.79" cy="1116.47" r="3.3" fill="#fcc21e" stroke="#3b3b3b" stroke-width="0.55" fill-opacity="0.9"/><circle cx="900.56" cy="1130.16" r="3.3" fill="#fcc21e" stroke="#3b3b3b" stroke-width="0.55" fill-opacity="0.9"/><circle cx="883.96" cy="1141.75" r="3.3" fill="#fcc21e" stroke="#3b3b3b" stroke-width="0.55" fill-opacity="0.9"/><circle cx="894.41" cy="1130.38" r="3.3" fill="#fcc21e" stroke="#3b3b3b" stroke-width="0.55" fill-opacity="0.9"/><circle cx="899.64" cy="1119.42" r="3.3" fill="#fcc21e" stroke="#3b3b3b" stroke-width="0.55" fill-opacity="0.9"/><circle cx="861.76" cy="1126.13" r="3.3" fill="#fcc21e" stroke="#3b3b3b" stroke-width="0.55" fill-opacity="0.9"/><circle cx="866.08" cy="1121.58" r="3.3" fill="#fcc21e" stroke="#3b3b3b" stroke-width="0.55" fill-opacity="0.9"/><circle cx="826.07" cy="1130.34" r="3.3" fill="#fcc21e" stroke="#3b3b3b" stroke-width="0.55" fill-opacity="0.9"/><circle cx="901.99" cy="1126.65" r="3.3" fill="#fcc21e" stroke="#3b3b3b" stroke-width="0.55" fill-opacity="0.9"/><circle cx="840.63" cy="1150.43" r="3.3" fill="#fcc21e" stroke="#3b3b3b" stroke-width="0.55" fill-opacity="0.9"/><circle cx="812.16" cy="1127.09" r="3.3" fill="#fcc21e" stroke="#3b3b3b" stroke-width="0.55" fill-opacity="0.9"/><circle cx="879.45" cy="1119.44" r="3.3" fill="#fcc21e" stroke="#3b3b3b" stroke-width="0.55" fill-opacity="0.9"/><circle cx="830.38" cy="1126.55" r="3.3" fill="#fcc21e" stroke="#3b3b3b" stroke-width="0.55" fill-opacity="0.9"/><circle cx="853.20" cy="1131.64" r="3.3" fill="#fcc21e" stroke="#3b3b3b" stroke-width="0.55" fill-opacity="0.9"/><circle cx="850.80" cy="1133.25" r="3.3" fill="#fcc21e" stroke="#3b3b3b" stroke-width="0.55" fill-opacity="0.9"/><circle cx="831.88" cy="1118.93" r="3.3" fill="#fcc21e" stroke="#3b3b3b" stroke-width="0.55" fill-opacity="0.9"/><circle cx="851.39" cy="1122.28" r="3.3" fill="#fcc21e" stroke="#3b3b3b" stroke-width="0.55" fill-opacity="0.9"/><circle cx="871.83" cy="1130.22" r="3.3" fill="#fcc21e" stroke="#3b3b3b" stroke-width="0.55" fill-opacity="0.9"/><circle cx="858.88" cy="1132.38" r="3.3" fill="#fcc21e" stroke="#3b3b3b" stroke-width="0.55" fill-opacity="0.9"/><circle cx="895.22" cy="1123.96" r="3.3" fill="#fcc21e" stroke="#3b3b3b" stroke-width="0.55" fill-opacity="0.9"/><circle cx="900.12" cy="1124.86" r="3.3" fill="#fcc21e" stroke="#3b3b3b" stroke-width="0.55" fill-opacity="0.9"/><circle cx="816.06" cy="1132.55" r="3.3" fill="#fcc21e" stroke="#3b3b3b" stroke-width="0.55" fill-opacity="0.9"/><circle cx="878.16" cy="1134.20" r="3.3" fill="#fcc21e" stroke="#3b3b3b" stroke-width="0.55" fill-opacity="0.9"/><circle cx="896.69" cy="1145.02" r="3.3" fill="#fcc21e" stroke="#3b3b3b" stroke-width="0.55" fill-opacity="0.9"/><circle cx="852.41" cy="1131.10" r="3.3" fill="#fcc21e" stroke="#3b3b3b" stroke-width="0.55" fill-opacity="0.9"/><circle cx="894.84" cy="1133.94" r="3.3" fill="#fcc21e" stroke="#3b3b3b" stroke-width="0.55" fill-opacity="0.9"/><circle cx="904.23" cy="1127.38" r="3.3" fill="#fcc21e" stroke="#3b3b3b" stroke-width="0.55" fill-opacity="0.9"/><circle cx="895.91" cy="1140.52" r="3.3" fill="#fcc21e" stroke="#3b3b3b" stroke-width="0.55" fill-opacity="0.9"/><circle cx="850.47" cy="1152.84" r="3.3" fill="#fcc21e" stroke="#3b3b3b" stroke-width="0.55" fill-opacity="0.9"/><circle cx="867.53" cy="1113.00" r="3.3" fill="#fcc21e" stroke="#3b3b3b" stroke-width="0.55" fill-opacity="0.9"/><circle cx="812.66" cy="1147.58" r="3.3" fill="#fcc21e" stroke="#3b3b3b" stroke-width="0.55" fill-opacity="0.9"/><circle cx="861.25" cy="1122.16" r="3.3" fill="#fcc21e" stroke="#3b3b3b" stroke-width="0.55" fill-opacity="0.9"/><circle cx="880.67" cy="1130.26" r="3.3" fill="#fcc21e" stroke="#3b3b3b" stroke-width="0.55" fill-opacity="0.9"/><circle cx="827.99" cy="1127.77" r="3.3" fill="#fcc21e" stroke="#3b3b3b" stroke-width="0.55" fill-opacity="0.9"/><circle cx="876.13" cy="1143.07" r="3.3" fill="#fcc21e" stroke="#3b3b3b" stroke-width="0.55" fill-opacity="0.9"/><circle cx="886.85" cy="1125.86" r="3.3" fill="#fcc21e" stroke="#3b3b3b" stroke-width="0.55" fill-opacity="0.9"/><circle cx="856.16" cy="1126.74" r="3.3" fill="#fcc21e" stroke="#3b3b3b" stroke-width="0.55" fill-opacity="0.9"/><circle cx="885.83" cy="1127.41" r="3.3" fill="#fcc21e" stroke="#3b3b3b" stroke-width="0.55" fill-opacity="0.9"/><circle cx="891.59" cy="1138.37" r="3.3" fill="#fcc21e" stroke="#3b3b3b" stroke-width="0.55" fill-opacity="0.9"/><circle cx="868.63" cy="1148.70" r="3.3" fill="#fcc21e" stroke="#3b3b3b" stroke-width="0.55" fill-opacity="0.9"/><circle cx="858.08" cy="1124.40" r="3.3" fill="#fcc21e" stroke="#3b3b3b" stroke-width="0.55" fill-opacity="0.9"/><circle cx="880.68" cy="1141.26" r="3.3" fill="#fcc21e" stroke="#3b3b3b" stroke-width="0.55" fill-opacity="0.9"/><circle cx="866.35" cy="1118.44" r="3.3" fill="#fcc21e" stroke="#3b3b3b" stroke-width="0.55" fill-opacity="0.9"/><circle cx="895.28" cy="1136.55" r="3.3" fill="#fcc21e" stroke="#3b3b3b" stroke-width="0.55" fill-opacity="0.9"/><circle cx="842.45" cy="1121.74" r="3.3" fill="#fcc21e" stroke="#3b3b3b" stroke-width="0.55" fill-opacity="0.9"/><circle cx="890.03" cy="1123.66" r="3.3" fill="#fcc21e" stroke="#3b3b3b" stroke-width="0.55" fill-opacity="0.9"/><circle cx="815.16" cy="1132.37" r="3.3" fill="#fcc21e" stroke="#3b3b3b" stroke-width="0.55" fill-opacity="0.9"/><circle cx="821.98" cy="1148.57" r="3.3" fill="#fcc21e" stroke="#3b3b3b" stroke-width="0.55" fill-opacity="0.9"/><circle cx="888.42" cy="1123.90" r="3.3" fill="#fcc21e" stroke="#3b3b3b" stroke-width="0.55" fill-opacity="0.9"/><circle cx="886.41" cy="1124.31" r="3.3" fill="#fcc21e" stroke="#3b3b3b" stroke-width="0.55" fill-opacity="0.9"/><circle cx="868.44" cy="1139.28" r="3.3" fill="#fcc21e" stroke="#3b3b3b" stroke-width="0.55" fill-opacity="0.9"/><circle cx="830.99" cy="1120.08" r="3.3" fill="#fcc21e" stroke="#3b3b3b" stroke-width="0.55" fill-opacity="0.9"/><circle cx="865.04" cy="1138.22" r="3.3" fill="#fcc21e" stroke="#3b3b3b" stroke-width="0.55" fill-opacity="0.9"/><circle cx="861.16" cy="1133.76" r="3.3" fill="#fcc21e" stroke="#3b3b3b" stroke-width="0.55" fill-opacity="0.9"/><circle cx="809.56" cy="1134.59" r="3.3" fill="#fcc21e" stroke="#3b3b3b" stroke-width="0.55" fill-opacity="0.9"/><circle cx="868.46" cy="1138.45" r="3.3" fill="#fcc21e" stroke="#3b3b3b" stroke-width="0.55" fill-opacity="0.9"/><circle cx="898.79" cy="1129.36" r="3.3" fill="#fcc21e" stroke="#3b3b3b" stroke-width="0.55" fill-opacity="0.9"/><circle cx="860.21" cy="1129.87" r="3.3" fill="#fcc21e" stroke="#3b3b3b" stroke-width="0.55" fill-opacity="0.9"/><circle cx="877.91" cy="1136.07" r="3.3" fill="#fcc21e" stroke="#3b3b3b" stroke-width="0.55" fill-opacity="0.9"/><circle cx="860.86" cy="1142.05" r="3.3" fill="#fcc21e" stroke="#3b3b3b" stroke-width="0.55" fill-opacity="0.9"/><circle cx="858.47" cy="1129.40" r="3.3" fill="#fcc21e" stroke="#3b3b3b" stroke-width="0.55" fill-opacity="0.9"/><circle cx="846.54" cy="1125.14" r="3.3" fill="#fcc21e" stroke="#3b3b3b" stroke-width="0.55" fill-opacity="0.9"/><circle cx="884.81" cy="1138.91" r="3.3" fill="#fcc21e" stroke="#3b3b3b" stroke-width="0.55" fill-opacity="0.9"/><circle cx="889.81" cy="1128.25" r="3.3" fill="#fcc21e" stroke="#3b3b3b" stroke-width="0.55" fill-opacity="0.9"/><circle cx="838.27" cy="1130.08" r="3.3" fill="#fcc21e" stroke="#3b3b3b" stroke-width="0.55" fill-opacity="0.9"/><circle cx="926.00" cy="1116.84" r="3.3" fill="#fcc21e" stroke="#3b3b3b" stroke-width="0.55" fill-opacity="0.9"/><circle cx="915.73" cy="1119.21" r="3.3" fill="#fcc21e" stroke="#3b3b3b" stroke-width="0.55" fill-opacity="0.9"/><circle cx="939.30" cy="1117.58" r="3.3" fill="#fcc21e" stroke="#3b3b3b" stroke-width="0.55" fill-opacity="0.9"/><circle cx="902.10" cy="1115.40" r="3.3" fill="#fcc21e" stroke="#3b3b3b" stroke-width="0.55" fill-opacity="0.9"/><circle cx="935.90" cy="1120.88" r="3.3" fill="#fcc21e" stroke="#3b3b3b" stroke-width="0.55" fill-opacity="0.9"/><circle cx="908.98" cy="1116.16" r="3.3" fill="#fcc21e" stroke="#3b3b3b" stroke-width="0.55" fill-opacity="0.9"/><circle cx="947.88" cy="1114.01" r="3.3" fill="#fcc21e" stroke="#3b3b3b" stroke-width="0.55" fill-opacity="0.9"/><circle cx="943.97" cy="1118.63" r="3.3" fill="#fcc21e" stroke="#3b3b3b" stroke-width="0.55" fill-opacity="0.9"/><circle cx="918.50" cy="1119.16" r="3.3" fill="#fcc21e" stroke="#3b3b3b" stroke-width="0.55" fill-opacity="0.9"/><circle cx="947.04" cy="1113.73" r="3.3" fill="#fcc21e" stroke="#3b3b3b" stroke-width="0.55" fill-opacity="0.9"/><circle cx="957.15" cy="1119.22" r="3.3" fill="#fcc21e" stroke="#3b3b3b" stroke-width="0.55" fill-opacity="0.9"/><circle cx="914.92" cy="1116.04" r="3.3" fill="#fcc21e" stroke="#3b3b3b" stroke-width="0.55" fill-opacity="0.9"/><circle cx="914.24" cy="1120.55" r="3.3" fill="#fcc21e" stroke="#3b3b3b" stroke-width="0.55" fill-opacity="0.9"/><circle cx="902.69" cy="1122.58" r="3.3" fill="#fcc21e" stroke="#3b3b3b" stroke-width="0.55" fill-opacity="0.9"/><circle cx="937.35" cy="1117.87" r="3.3" fill="#fcc21e" stroke="#3b3b3b" stroke-width="0.55" fill-opacity="0.9"/><circle cx="953.38" cy="1120.33" r="3.3" fill="#fcc21e" stroke="#3b3b3b" stroke-width="0.55" fill-opacity="0.9"/><circle cx="944.25" cy="1116.49" r="3.3" fill="#fcc21e" stroke="#3b3b3b" stroke-width="0.55" fill-opacity="0.9"/><circle cx="960.66" cy="1118.29" r="3.3" fill="#fcc21e" stroke="#3b3b3b" stroke-width="0.55" fill-opacity="0.9"/><circle cx="944.00" cy="1122.98" r="3.3" fill="#fcc21e" stroke="#3b3b3b" stroke-width="0.55" fill-opacity="0.9"/><circle cx="963.04" cy="1118.98" r="3.3" fill="#fcc21e" stroke="#3b3b3b" stroke-width="0.55" fill-opacity="0.9"/><circle cx="941.75" cy="1114.85" r="3.3" fill="#fcc21e" stroke="#3b3b3b" stroke-width="0.55" fill-opacity="0.9"/><circle cx="905.93" cy="1113.41" r="3.3" fill="#fcc21e" stroke="#3b3b3b" stroke-width="0.55" fill-opacity="0.9"/><circle cx="826.70" cy="1065.40" r="3.3" fill="#fcc21e" stroke="#3b3b3b" stroke-width="0.55" fill-opacity="0.9"/><circle cx="855.20" cy="1061.70" r="3.3" fill="#fcc21e" stroke="#3b3b3b" stroke-width="0.55" fill-opacity="0.9"/><circle cx="864.70" cy="1060.50" r="3.3" fill="#fcc21e" stroke="#3b3b3b" stroke-width="0.55" fill-opacity="0.9"/><circle cx="873.10" cy="1046.20" r="3.3" fill="#fcc21e" stroke="#3b3b3b" stroke-width="0.55" fill-opacity="0.9"/><circle cx="878.10" cy="1071.50" r="3.3" fill="#fcc21e" stroke="#3b3b3b" stroke-width="0.55" fill-opacity="0.9"/><circle cx="876.80" cy="1084.70" r="3.3" fill="#fcc21e" stroke="#3b3b3b" stroke-width="0.55" fill-opacity="0.9"/><circle cx="844.20" cy="1089.80" r="3.3" fill="#fcc21e" stroke="#3b3b3b" stroke-width="0.55" fill-opacity="0.9"/><circle cx="894.00" cy="1080.10" r="3.3" fill="#fcc21e" stroke="#3b3b3b" stroke-width="0.55" fill-opacity="0.9"/><circle cx="915.70" cy="1046.50" r="3.3" fill="#fcc21e" stroke="#3b3b3b" stroke-width="0.55" fill-opacity="0.9"/><circle cx="901.90" cy="1066.00" r="3.3" fill="#fcc21e" stroke="#3b3b3b" stroke-width="0.55" fill-opacity="0.9"/><circle cx="899.50" cy="1073.70" r="3.3" fill="#fcc21e" stroke="#3b3b3b" stroke-width="0.55" fill-opacity="0.9"/><circle cx="890.00" cy="1092.90" r="3.3" fill="#fcc21e" stroke="#3b3b3b" stroke-width="0.55" fill-opacity="0.9"/><circle cx="892.20" cy="1092.00" r="3.3" fill="#fcc21e" stroke="#3b3b3b" stroke-width="0.55" fill-opacity="0.9"/><circle cx="882.70" cy="1097.10" r="3.3" fill="#fcc21e" stroke="#3b3b3b" stroke-width="0.55" fill-opacity="0.9"/><circle cx="888.20" cy="1101.20" r="3.3" fill="#fcc21e" stroke="#3b3b3b" stroke-width="0.55" fill-opacity="0.9"/><circle cx="896.40" cy="1100.30" r="3.3" fill="#fcc21e" stroke="#3b3b3b" stroke-width="0.55" fill-opacity="0.9"/><circle cx="862.90" cy="1100.80" r="3.3" fill="#fcc21e" stroke="#3b3b3b" stroke-width="0.55" fill-opacity="0.9"/><circle cx="839.00" cy="1107.60" r="3.3" fill="#fcc21e" stroke="#3b3b3b" stroke-width="0.55" fill-opacity="0.9"/><circle cx="850.00" cy="1111.30" r="3.3" fill="#fcc21e" stroke="#3b3b3b" stroke-width="0.55" fill-opacity="0.9"/><circle cx="874.40" cy="1106.70" r="3.3" fill="#fcc21e" stroke="#3b3b3b" stroke-width="0.55" fill-opacity="0.9"/><circle cx="879.90" cy="1108.50" r="3.3" fill="#fcc21e" stroke="#3b3b3b" stroke-width="0.55" fill-opacity="0.9"/><circle cx="835.00" cy="1118.00" r="3.3" fill="#fcc21e" stroke="#3b3b3b" stroke-width="0.55" fill-opacity="0.9"/><circle cx="912.00" cy="1086.90" r="3.3" fill="#fcc21e" stroke="#3b3b3b" stroke-width="0.55" fill-opacity="0.9"/><circle cx="910.50" cy="1090.50" r="3.3" fill="#fcc21e" stroke="#3b3b3b" stroke-width="0.55" fill-opacity="0.9"/><circle cx="919.30" cy="1092.40" r="3.3" fill="#fcc21e" stroke="#3b3b3b" stroke-width="0.55" fill-opacity="0.9"/><circle cx="912.90" cy="1106.70" r="3.3" fill="#fcc21e" stroke="#3b3b3b" stroke-width="0.55" fill-opacity="0.9"/><circle cx="902.80" cy="1108.10" r="3.3" fill="#fcc21e" stroke="#3b3b3b" stroke-width="0.55" fill-opacity="0.9"/><circle cx="936.80" cy="1111.30" r="3.3" fill="#fcc21e" stroke="#3b3b3b" stroke-width="0.55" fill-opacity="0.9"/><circle cx="944.60" cy="1110.70" r="3.3" fill="#fcc21e" stroke="#3b3b3b" stroke-width="0.55" fill-opacity="0.9"/><circle cx="961.50" cy="1116.20" r="3.3" fill="#fcc21e" stroke="#3b3b3b" stroke-width="0.55" fill-opacity="0.9"/><circle cx="898.20" cy="1158.40" r="3.3" fill="#fcc21e" stroke="#3b3b3b" stroke-width="0.55" fill-opacity="0.9"/><circle cx="878.60" cy="1154.00" r="3.3" fill="#fcc21e" stroke="#3b3b3b" stroke-width="0.55" fill-opacity="0.9"/><circle cx="822.20" cy="1144.80" r="3.3" fill="#fcc21e" stroke="#3b3b3b" stroke-width="0.55" fill-opacity="0.9"/><circle cx="842.00" cy="1143.30" r="3.3" fill="#fcc21e" stroke="#3b3b3b" stroke-width="0.55" fill-opacity="0.9"/><circle cx="932.20" cy="1141.90" r="3.3" fill="#fcc21e" stroke="#3b3b3b" stroke-width="0.55" fill-opacity="0.9"/><circle cx="876.30" cy="1147.90" r="3.3" fill="#fcc21e" stroke="#3b3b3b" stroke-width="0.55" fill-opacity="0.9"/><circle cx="905.60" cy="1143.30" r="3.3" fill="#fcc21e" stroke="#3b3b3b" stroke-width="0.55" fill-opacity="0.9"/><circle cx="919.30" cy="1138.80" r="3.3" fill="#fcc21e" stroke="#3b3b3b" stroke-width="0.55" fill-opacity="0.9"/><circle cx="872.90" cy="1046.25" r="3.3" fill="#fcc21e" stroke="#3b3b3b" stroke-width="0.55" fill-opacity="0.9"/><circle cx="826.25" cy="1065.00" r="3.3" fill="#fcc21e" stroke="#3b3b3b" stroke-width="0.55" fill-opacity="0.9"/>
<line x1="804.12" y1="1125.80" x2="960.45" y2="1113.30" stroke="#fbbd16" stroke-width="1.6" />
<line x1="879.05" y1="1157.75" x2="1089.49" y2="1023.94" stroke="#ef5a3a" stroke-width="1.6" />
<line x1="922.99" y1="1092.00" x2="1156.55" y2="895.69" stroke="#8b6355" stroke-width="1.6" />
<line x1="898.01" y1="1078.57" x2="1083.47" y2="985.97" stroke="#2ca2db" stroke-width="1.6" />
<path d="M787.5,868V1183.5H1173.75" fill="none" stroke="#555555" stroke-width="1.1"/>
<line x1="781.20" y1="894.20" x2="787.50" y2="894.20" stroke="#555555" stroke-width="1.1" />
<text x="775.00" y="899.10" font-size="14" text-anchor="end" textLength="20.00" lengthAdjust="spacingAndGlyphs" stroke="#231f20" stroke-width="0.2">0.5</text>
<line x1="781.20" y1="940.46" x2="787.50" y2="940.46" stroke="#555555" stroke-width="1.1" />
<text x="775.00" y="945.36" font-size="14" text-anchor="end" textLength="20.00" lengthAdjust="spacingAndGlyphs" stroke="#231f20" stroke-width="0.2">0.4</text>
<line x1="781.20" y1="986.72" x2="787.50" y2="986.72" stroke="#555555" stroke-width="1.1" />
<text x="775.00" y="991.62" font-size="14" text-anchor="end" textLength="20.00" lengthAdjust="spacingAndGlyphs" stroke="#231f20" stroke-width="0.2">0.3</text>
<line x1="781.20" y1="1032.98" x2="787.50" y2="1032.98" stroke="#555555" stroke-width="1.1" />
<text x="775.00" y="1037.88" font-size="14" text-anchor="end" textLength="20.00" lengthAdjust="spacingAndGlyphs" stroke="#231f20" stroke-width="0.2">0.2</text>
<line x1="781.20" y1="1079.24" x2="787.50" y2="1079.24" stroke="#555555" stroke-width="1.1" />
<text x="775.00" y="1084.14" font-size="14" text-anchor="end" textLength="20.00" lengthAdjust="spacingAndGlyphs" stroke="#231f20" stroke-width="0.2">0.1</text>
<line x1="781.20" y1="1125.50" x2="787.50" y2="1125.50" stroke="#555555" stroke-width="1.1" />
<text x="775.00" y="1130.40" font-size="14" text-anchor="end" textLength="8.70" lengthAdjust="spacingAndGlyphs" stroke="#231f20" stroke-width="0.2">0</text>
<line x1="781.20" y1="1171.76" x2="787.50" y2="1171.76" stroke="#555555" stroke-width="1.1" />
<text x="775.00" y="1176.66" font-size="14" text-anchor="end" textLength="24.00" lengthAdjust="spacingAndGlyphs" stroke="#231f20" stroke-width="0.2">−0.1</text>
<line x1="795.80" y1="1183.30" x2="795.80" y2="1189.60" stroke="#555555" stroke-width="1.1" />
<text x="795.80" y="1207.80" font-size="14" text-anchor="middle" textLength="15.50" lengthAdjust="spacingAndGlyphs" stroke="#231f20" stroke-width="0.2">−4</text>
<line x1="842.05" y1="1183.30" x2="842.05" y2="1189.60" stroke="#555555" stroke-width="1.1" />
<text x="842.05" y="1207.80" font-size="14" text-anchor="middle" textLength="15.50" lengthAdjust="spacingAndGlyphs" stroke="#231f20" stroke-width="0.2">−3</text>
<line x1="888.30" y1="1183.30" x2="888.30" y2="1189.60" stroke="#555555" stroke-width="1.1" />
<text x="888.30" y="1207.80" font-size="14" text-anchor="middle" textLength="15.50" lengthAdjust="spacingAndGlyphs" stroke="#231f20" stroke-width="0.2">−2</text>
<line x1="934.55" y1="1183.30" x2="934.55" y2="1189.60" stroke="#555555" stroke-width="1.1" />
<text x="934.55" y="1207.80" font-size="14" text-anchor="middle" textLength="15.50" lengthAdjust="spacingAndGlyphs" stroke="#231f20" stroke-width="0.2">−1</text>
<line x1="980.80" y1="1183.30" x2="980.80" y2="1189.60" stroke="#555555" stroke-width="1.1" />
<text x="980.80" y="1207.80" font-size="14" text-anchor="middle" textLength="8.70" lengthAdjust="spacingAndGlyphs" stroke="#231f20" stroke-width="0.2">0</text>
<line x1="1027.05" y1="1183.30" x2="1027.05" y2="1189.60" stroke="#555555" stroke-width="1.1" />
<text x="1027.05" y="1207.80" font-size="14" text-anchor="middle" textLength="8.70" lengthAdjust="spacingAndGlyphs" stroke="#231f20" stroke-width="0.2">1</text>
<line x1="1073.30" y1="1183.30" x2="1073.30" y2="1189.60" stroke="#555555" stroke-width="1.1" />
<text x="1073.30" y="1207.80" font-size="14" text-anchor="middle" textLength="8.70" lengthAdjust="spacingAndGlyphs" stroke="#231f20" stroke-width="0.2">2</text>
<line x1="1119.55" y1="1183.30" x2="1119.55" y2="1189.60" stroke="#555555" stroke-width="1.1" />
<text x="1119.55" y="1207.80" font-size="14" text-anchor="middle" textLength="8.70" lengthAdjust="spacingAndGlyphs" stroke="#231f20" stroke-width="0.2">3</text>
<line x1="1165.80" y1="1183.30" x2="1165.80" y2="1189.60" stroke="#555555" stroke-width="1.1" />
<text x="1165.80" y="1207.80" font-size="14" text-anchor="middle" textLength="8.70" lengthAdjust="spacingAndGlyphs" stroke="#231f20" stroke-width="0.2">4</text>
<text x="732.5" y="1012" font-size="16" text-anchor="middle" transform="rotate(-90 732.5 1012)" textLength="205" lengthAdjust="spacingAndGlyphs">ΔPrediction accuracy (acc)</text>
<text x="980.00" y="1232.90" font-size="15" text-anchor="middle" textLength="39.00" lengthAdjust="spacingAndGlyphs" stroke="#231f20" stroke-width="0.2">ΔJSD</text>
<text x="1048.00" y="883.50" font-size="11.5" fill="#8b6355" textLength="89" lengthAdjust="spacingAndGlyphs"><tspan font-style="italic">r</tspan> = 0.58, <tspan font-style="italic">R</tspan><tspan font-size="6.3" dy="-5.5">2</tspan><tspan dy="5.5"> = 0.34</tspan></text><text x="1048.00" y="896.50" font-size="11.5" fill="#8b6355" textLength="41.2" lengthAdjust="spacingAndGlyphs"><tspan font-style="italic">P</tspan> &lt; 0.05</text>
<text x="825.50" y="1003.30" font-size="11.5" fill="#2ca2db" textLength="88" lengthAdjust="spacingAndGlyphs"><tspan font-style="italic">r</tspan> = 0.47, <tspan font-style="italic">R</tspan><tspan font-size="6.3" dy="-5.5">2</tspan><tspan dy="5.5"> = 0.22</tspan></text><text x="825.50" y="1016.30" font-size="11.5" fill="#2ca2db" textLength="41.2" lengthAdjust="spacingAndGlyphs"><tspan font-style="italic">P</tspan> &lt; 0.05</text>
<text x="958.30" y="1153.30" font-size="11.5" fill="#ef5a3a" textLength="89" lengthAdjust="spacingAndGlyphs"><tspan font-style="italic">r</tspan> = 0.70, <tspan font-style="italic">R</tspan><tspan font-size="6.3" dy="-5.5">2</tspan><tspan dy="5.5"> = 0.48</tspan></text><text x="958.30" y="1166.30" font-size="11.5" fill="#ef5a3a" textLength="41.2" lengthAdjust="spacingAndGlyphs"><tspan font-style="italic">P</tspan> &lt; 0.05</text>
<text x="789.50" y="1165.50" font-size="11.5" fill="#f8c027" textLength="84" lengthAdjust="spacingAndGlyphs"><tspan font-style="italic">r</tspan> = 0.13, <tspan font-style="italic">R</tspan><tspan font-size="6.3" dy="-5.5">2</tspan><tspan dy="5.5"> = 0.02</tspan></text><text x="789.50" y="1178.50" font-size="11.5" fill="#f8c027" textLength="41.2" lengthAdjust="spacingAndGlyphs"><tspan font-style="italic">P</tspan> ≥ 0.05</text>
<text x="829.20" y="1256.70" font-size="13" text-anchor="middle" textLength="126.00" lengthAdjust="spacingAndGlyphs" stroke="#231f20" stroke-width="0.2">Sequence similarity</text>
<text x="829.20" y="1274.60" font-size="13" text-anchor="middle" textLength="59.00" lengthAdjust="spacingAndGlyphs" stroke="#231f20" stroke-width="0.2">ID &gt; OOD</text>
<text x="1135.40" y="1256.70" font-size="13" text-anchor="middle" textLength="126.00" lengthAdjust="spacingAndGlyphs" stroke="#231f20" stroke-width="0.2">Sequence similarity</text>
<text x="1135.40" y="1274.60" font-size="13" text-anchor="middle" textLength="59.00" lengthAdjust="spacingAndGlyphs" stroke="#231f20" stroke-width="0.2">ID &lt; OOD</text>
<text x="981.25" y="1287.10" font-size="15" text-anchor="middle" textLength="203.00" lengthAdjust="spacingAndGlyphs" stroke="#231f20" stroke-width="0.2">ΔJSD = JSD(ID) − JSD(OOD)</text>
<text x="981.25" y="1306.70" font-size="15" text-anchor="middle" textLength="200.00" lengthAdjust="spacingAndGlyphs" stroke="#231f20" stroke-width="0.2">Δacc = acc(ID) − acc(OOD)</text>
<text x="0.00" y="1358.30" font-size="19" font-weight="bold" textLength="8.00" lengthAdjust="spacingAndGlyphs" stroke="#231f20" stroke-width="0.7">f</text>
<text x="26.70" y="1358.30" font-size="16" textLength="264.00" lengthAdjust="spacingAndGlyphs" stroke="#231f20" stroke-width="0.2">Performance versus affinity-wise</text>
<text x="24.00" y="1380.00" font-size="16" textLength="275.00" lengthAdjust="spacingAndGlyphs" stroke="#231f20" stroke-width="0.2">positive–negative data separation</text>
<path d="M104.5,1391.7V1583.5H293.3" fill="none" stroke="#555555" stroke-width="1.1"/>
<line x1="98.70" y1="1402.30" x2="105.00" y2="1402.30" stroke="#555555" stroke-width="1.1" />
<text x="91.50" y="1406.70" font-size="13" text-anchor="end" textLength="19.50" lengthAdjust="spacingAndGlyphs" stroke="#231f20" stroke-width="0.2">1.0</text>
<line x1="98.70" y1="1447.55" x2="105.00" y2="1447.55" stroke="#555555" stroke-width="1.1" />
<text x="91.50" y="1451.95" font-size="13" text-anchor="end" textLength="19.50" lengthAdjust="spacingAndGlyphs" stroke="#231f20" stroke-width="0.2">0.8</text>
<line x1="98.70" y1="1492.80" x2="105.00" y2="1492.80" stroke="#555555" stroke-width="1.1" />
<text x="91.50" y="1497.20" font-size="13" text-anchor="end" textLength="19.50" lengthAdjust="spacingAndGlyphs" stroke="#231f20" stroke-width="0.2">0.6</text>
<line x1="98.70" y1="1538.05" x2="105.00" y2="1538.05" stroke="#555555" stroke-width="1.1" />
<text x="91.50" y="1542.45" font-size="13" text-anchor="end" textLength="19.50" lengthAdjust="spacingAndGlyphs" stroke="#231f20" stroke-width="0.2">0.4</text>
<line x1="98.70" y1="1583.30" x2="105.00" y2="1583.30" stroke="#555555" stroke-width="1.1" />
<text x="91.50" y="1587.70" font-size="13" text-anchor="end" textLength="19.50" lengthAdjust="spacingAndGlyphs" stroke="#231f20" stroke-width="0.2">0.2</text>
<line x1="106.00" y1="1583.30" x2="106.00" y2="1589.60" stroke="#555555" stroke-width="1.1" />
<text x="106.00" y="1606.70" font-size="13" text-anchor="middle" textLength="7.50" lengthAdjust="spacingAndGlyphs" stroke="#231f20" stroke-width="0.2">0</text>
<line x1="140.55" y1="1583.30" x2="140.55" y2="1589.60" stroke="#555555" stroke-width="1.1" />
<text x="140.55" y="1606.70" font-size="13" text-anchor="middle" textLength="7.50" lengthAdjust="spacingAndGlyphs" stroke="#231f20" stroke-width="0.2">5</text>
<line x1="175.10" y1="1583.30" x2="175.10" y2="1589.60" stroke="#555555" stroke-width="1.1" />
<text x="175.10" y="1606.70" font-size="13" text-anchor="middle" textLength="15.00" lengthAdjust="spacingAndGlyphs" stroke="#231f20" stroke-width="0.2">10</text>
<line x1="209.65" y1="1583.30" x2="209.65" y2="1589.60" stroke="#555555" stroke-width="1.1" />
<text x="209.65" y="1606.70" font-size="13" text-anchor="middle" textLength="15.00" lengthAdjust="spacingAndGlyphs" stroke="#231f20" stroke-width="0.2">15</text>
<line x1="244.20" y1="1583.30" x2="244.20" y2="1589.60" stroke="#555555" stroke-width="1.1" />
<text x="244.20" y="1606.70" font-size="13" text-anchor="middle" textLength="15.00" lengthAdjust="spacingAndGlyphs" stroke="#231f20" stroke-width="0.2">20</text>
<line x1="278.75" y1="1583.30" x2="278.75" y2="1589.60" stroke="#555555" stroke-width="1.1" />
<text x="278.75" y="1606.70" font-size="13" text-anchor="middle" textLength="15.00" lengthAdjust="spacingAndGlyphs" stroke="#231f20" stroke-width="0.2">25</text>
<line x1="182.30" y1="1402.00" x2="182.30" y2="1583.30" stroke="#333" stroke-width="1.1" stroke-dasharray="4,3"/>
<path d="M112.91,1428.32L119.82,1417.01L126.73,1414.74L133.64,1412.48L140.55,1410.22L147.46,1410.67L154.37,1409.54L161.28,1408.63L168.19,1407.50L175.10,1404.56L182.01,1402.98L188.92,1402.98L202.74,1402.75L216.56,1402.53L230.38,1402.75L244.20,1402.53L258.02,1402.53L271.84,1402.30L285.66,1402.30" fill="none" stroke="#8b6355" stroke-width="1.6" stroke-linejoin="round"/>
<path d="M112.91,1420.40L119.82,1413.61L126.73,1411.80L133.64,1410.90L140.55,1409.99L147.46,1410.22L154.37,1410.90L161.28,1412.03L168.19,1412.25L175.10,1417.01L182.01,1430.13L188.92,1433.97L195.83,1437.37L202.74,1440.08L209.65,1443.48L216.56,1445.29L223.47,1453.21L230.38,1450.94L237.29,1461.12L244.20,1464.52L251.11,1467.23L258.02,1470.63L264.93,1479.22L271.84,1478.09L278.75,1489.41L285.66,1493.93" fill="none" stroke="#ef5a3a" stroke-width="1.6" stroke-linejoin="round"/>
<path d="M188.92,1475.61L195.83,1479.22L202.74,1479.90L209.65,1483.75L216.56,1487.14L223.47,1493.93L230.38,1490.54L237.29,1498.46L244.20,1500.49L251.11,1501.85L258.02,1504.11L264.93,1507.51L271.84,1507.51L278.75,1510.90L285.66,1514.29" fill="none" stroke="#fbbd16" stroke-width="1.6" stroke-linejoin="round"/>
<path d="M112.91,1415.88L119.82,1409.09L126.73,1406.37L133.64,1405.01L140.55,1405.01L147.46,1404.11L154.37,1404.11L161.28,1403.88L168.19,1403.43L175.10,1402.30L182.01,1402.75" fill="none" stroke="#2ca2db" stroke-width="1.6" stroke-linejoin="round"/>
<text x="53.30" y="1486.70" font-size="16" text-anchor="middle" textLength="148.60" lengthAdjust="spacingAndGlyphs" transform="rotate(-90 53.30 1486.70)" stroke="#231f20" stroke-width="0.2">Prediction accuracy</text>
<text x="106.00" y="1447.30" font-size="14" fill="#2ca2db" textLength="18.82" lengthAdjust="spacingAndGlyphs" stroke="#2ca2db" stroke-width="0.2">‘vs</text>
<text x="106.00" y="1463.30" font-size="14" fill="#2ca2db" textLength="76.00" lengthAdjust="spacingAndGlyphs" stroke="#2ca2db" stroke-width="0.2">non-binder’</text>
<text x="106.00" y="1480.00" font-size="14" fill="#2ca2db" textLength="31.00" lengthAdjust="spacingAndGlyphs" stroke="#2ca2db" stroke-width="0.2">OOD</text>
<text x="261.00" y="1440.70" font-size="14" text-anchor="middle" fill="#ef5a3a" textLength="35.09" lengthAdjust="spacingAndGlyphs" stroke="#ef5a3a" stroke-width="0.2">‘vs 9’</text>
<text x="260.70" y="1457.30" font-size="14" text-anchor="middle" fill="#ef5a3a" textLength="31.00" lengthAdjust="spacingAndGlyphs" stroke="#ef5a3a" stroke-width="0.2">OOD</text>
<text x="199.00" y="1531.70" font-size="14" fill="#fdc010" textLength="91.70" lengthAdjust="spacingAndGlyphs" stroke="#fdc010" stroke-width="0.2">‘vs weak’ OOD</text>
<text x="144.00" y="1561.70" font-size="14" text-anchor="middle" fill="#8b6355" textLength="62.47" lengthAdjust="spacingAndGlyphs" stroke="#8b6355" stroke-width="0.2">‘vs weak’</text>
<text x="144.00" y="1578.30" font-size="14" text-anchor="middle" fill="#8b6355" textLength="15.40" lengthAdjust="spacingAndGlyphs" stroke="#8b6355" stroke-width="0.2">ID</text>
<text x="243.30" y="1561.70" font-size="14" text-anchor="middle" fill="#8b6355" textLength="95.00" lengthAdjust="spacingAndGlyphs" stroke="#8b6355" stroke-width="0.2">‘vs non-binder’</text>
<text x="243.30" y="1578.30" font-size="14" text-anchor="middle" fill="#8b6355" textLength="15.40" lengthAdjust="spacingAndGlyphs" stroke="#8b6355" stroke-width="0.2">ID</text>
<text x="200.00" y="1633.30" font-size="15" text-anchor="middle" textLength="199.00" lengthAdjust="spacingAndGlyphs" stroke="#231f20" stroke-width="0.2">Positive and negative data</text>
<text x="170.00" y="1651.70" font-size="15" text-anchor="middle" textLength="79.00" lengthAdjust="spacingAndGlyphs" stroke="#231f20" stroke-width="0.2">separation</text>
<defs><linearGradient id="gSep" x1="0" x2="1"><stop offset="0" stop-color="#fdd01a"/><stop offset="0.5" stop-color="#fba21c"/><stop offset="1" stop-color="#ef5a24"/></linearGradient></defs>
<path d="M215,1651.7H258.3V1640Z" fill="url(#gSep)"/>
<text x="398.30" y="1360.00" font-size="19" font-weight="bold" textLength="14.00" lengthAdjust="spacingAndGlyphs" stroke="#231f20" stroke-width="0.7">g</text>
<text x="430.00" y="1360.00" font-size="16" textLength="530.00" lengthAdjust="spacingAndGlyphs" stroke="#231f20" stroke-width="0.2">ID and OOD performances on independent experimental dataset</text>
<text x="625.00" y="1392.50" font-size="16" text-anchor="middle" textLength="167.00" lengthAdjust="spacingAndGlyphs" stroke="#231f20" stroke-width="0.2">Porebski et al. dataset</text>
<path d="M504.60,1478 L504.60,1475.74 L505.60,1475.60 L506.60,1475.46 L507.60,1475.31 L508.60,1475.16 L509.60,1475.00 L510.60,1474.83 L511.60,1474.65 L512.60,1474.46 L513.60,1474.27 L514.60,1474.06 L515.60,1473.85 L516.60,1473.63 L517.60,1473.40 L518.60,1473.16 L519.60,1472.91 L520.60,1472.64 L521.60,1472.37 L522.60,1472.09 L523.60,1471.79 L524.60,1471.49 L525.60,1471.17 L526.60,1470.84 L527.60,1470.49 L528.60,1470.14 L529.60,1469.77 L530.60,1469.39 L531.60,1469.00 L532.60,1468.59 L533.60,1468.17 L534.60,1467.73 L535.60,1467.28 L536.60,1466.82 L537.60,1466.34 L538.60,1465.85 L539.60,1465.34 L540.60,1464.82 L541.60,1464.28 L542.20,1463.95 L542.20,1478Z" fill="#ef5a3a"/>
<path d="M542.20,1478 L542.20,1463.95 L543.20,1463.39 L544.20,1462.82 L545.20,1462.23 L546.20,1461.62 L547.20,1461.00 L548.20,1460.37 L549.20,1459.72 L550.20,1459.06 L551.20,1458.38 L552.20,1457.68 L553.20,1456.98 L554.20,1456.26 L555.20,1455.52 L556.20,1454.77 L557.20,1454.01 L558.20,1453.23 L559.20,1452.45 L560.20,1451.65 L561.20,1450.84 L562.20,1450.01 L563.20,1449.18 L564.20,1448.34 L565.20,1447.48 L566.20,1446.62 L567.20,1445.75 L568.20,1444.87 L568.80,1444.34 L568.80,1478Z" fill="#fdc010"/>
<path d="M568.80,1478 L568.80,1444.34 L569.80,1443.45 L570.80,1442.55 L571.80,1441.65 L572.80,1440.74 L573.80,1439.83 L574.80,1438.91 L575.80,1438.00 L576.80,1437.08 L577.80,1436.16 L578.80,1435.24 L579.80,1434.32 L580.80,1433.40 L581.80,1432.49 L582.80,1431.58 L583.80,1430.68 L584.80,1429.78 L585.80,1428.89 L586.80,1428.01 L587.80,1427.13 L588.80,1426.27 L589.80,1425.42 L590.80,1424.57 L591.80,1423.75 L592.80,1422.93 L593.80,1422.13 L594.80,1421.35 L595.80,1420.58 L596.80,1419.84 L597.80,1419.11 L598.80,1418.40 L599.80,1417.71 L600.80,1417.05 L601.80,1416.40 L602.80,1415.78 L603.80,1415.19 L604.80,1414.62 L605.80,1414.07 L606.80,1413.56 L607.80,1413.07 L608.80,1412.61 L609.80,1412.17 L610.80,1411.77 L611.80,1411.40 L612.80,1411.05 L613.80,1410.74 L614.80,1410.46 L615.80,1410.22 L616.80,1410.00 L617.80,1409.82 L618.80,1409.67 L619.80,1409.55 L620.80,1409.47 L621.80,1409.42 L622.80,1409.40 L623.80,1409.42 L624.80,1409.47 L625.80,1409.55 L626.80,1409.67 L627.80,1409.82 L628.80,1410.00 L629.80,1410.22 L630.80,1410.46 L631.80,1410.74 L632.80,1411.05 L633.80,1411.40 L634.80,1411.77 L635.80,1412.17 L636.80,1412.61 L637.80,1413.07 L638.80,1413.56 L639.80,1414.07 L640.80,1414.62 L641.80,1415.19 L642.80,1415.78 L643.80,1416.40 L644.80,1417.05 L645.80,1417.71 L646.80,1418.40 L647.80,1419.11 L648.80,1419.84 L649.80,1420.58 L650.80,1421.35 L651.80,1422.13 L652.80,1422.93 L653.80,1423.75 L654.80,1424.57 L655.80,1425.42 L656.80,1426.27 L657.80,1427.13 L658.80,1428.01 L659.80,1428.89 L660.80,1429.78 L661.80,1430.68 L662.80,1431.58 L663.80,1432.49 L664.80,1433.40 L665.80,1434.32 L666.80,1435.24 L667.80,1436.16 L668.80,1437.08 L669.80,1438.00 L670.80,1438.91 L671.80,1439.83 L672.80,1440.74 L673.80,1441.65 L674.80,1442.55 L675.80,1443.45 L676.80,1444.34 L677.80,1445.22 L678.80,1446.10 L679.80,1446.97 L680.80,1447.83 L681.80,1448.68 L682.80,1449.51 L683.80,1450.34 L684.80,1451.16 L685.80,1451.97 L686.80,1452.76 L687.80,1453.55 L688.80,1454.32 L689.80,1455.07 L690.80,1455.82 L691.80,1456.55 L692.80,1457.26 L693.80,1457.96 L694.80,1458.65 L695.80,1459.32 L696.80,1459.98 L697.80,1460.63 L698.80,1461.25 L699.80,1461.87 L700.80,1462.47 L701.80,1463.05 L702.80,1463.62 L703.80,1464.17 L704.80,1464.71 L705.80,1465.24 L706.80,1465.75 L707.80,1466.24 L708.80,1466.72 L709.80,1467.19 L710.80,1467.64 L711.80,1468.08 L712.80,1468.51 L713.80,1468.92 L714.80,1469.31 L715.80,1469.70 L716.80,1470.07 L717.80,1470.42 L718.80,1470.77 L719.80,1471.10 L720.80,1471.42 L721.80,1471.73 L722.80,1472.03 L723.80,1472.32 L724.80,1472.59 L725.80,1472.85 L726.80,1473.11 L727.80,1473.35 L728.80,1473.58 L729.80,1473.81 L730.80,1474.02 L731.80,1474.23 L732.80,1474.42 L733.80,1474.61 L734.80,1474.79 L735.80,1474.96 L736.80,1475.13 L737.80,1475.28 L738.80,1475.43 L739.80,1475.57 L740.80,1475.71 L741.80,1475.84 L742.80,1475.96 L743.80,1476.08 L744.30,1476.13 L744.30,1478Z" fill="#2ca2db"/>
<text x="531.50" y="1476.50" font-size="8" fill="#fff" textLength="9.50" lengthAdjust="spacingAndGlyphs" opacity="0.9" stroke="#fff" stroke-width="0.2">1%</text>
<text x="543.00" y="1476.50" font-size="8" fill="#fff" textLength="25.00" lengthAdjust="spacingAndGlyphs" opacity="0.9" stroke="#fff" stroke-width="0.2">1%–5%</text>
<text x="609.30" y="1476.50" font-size="8" fill="#fff" textLength="37.50" lengthAdjust="spacingAndGlyphs" opacity="0.9" stroke="#fff" stroke-width="0.2">5%–100%</text>
<text x="618.50" y="1433.00" font-size="11" fill="#fff" textLength="27.00" lengthAdjust="spacingAndGlyphs" stroke="#fff" stroke-width="0.2">HER2</text>
<rect x="600.00" y="1435.50" width="14.50" height="9.50" fill="none" stroke="#fff" stroke-width="1.1" rx="4.5"/>
<rect x="600.00" y="1446.00" width="14.50" height="9.50" fill="none" stroke="#fff" stroke-width="1.1" rx="4.5"/>
<path d="M623.02,1448.09 A2.23,2.23 0 0 1 621.33,1444.91 A2.53,2.53 0 0 1 620.09,1441.02 A2.62,2.62 0 0 1 622.95,1437.91 A2.60,2.60 0 0 1 626.63,1435.90 A2.65,2.65 0 0 1 630.88,1436.28 A2.49,2.49 0 0 1 634.20,1438.53 A2.50,2.50 0 0 1 636.73,1441.67 A2.46,2.46 0 0 1 636.29,1445.60 A2.52,2.52 0 0 1 634.31,1449.16 A2.67,2.67 0 0 1 630.36,1450.85 A2.73,2.73 0 0 1 625.96,1451.01 A2.57,2.57 0 0 1 623.02,1448.09Z" fill="#fff"/>
<path d="M636,1438C639,1436 641,1437 645,1442" fill="none" stroke="#fff" stroke-width="0.9"/>
<path d="M646,1440.3L646.9,1442.4L649,1443.3L646.9,1444.2L646,1446.3L645.1,1444.2L643,1443.3L645.1,1442.4Z" fill="#fff"/>
<text x="501.20" y="1491.00" font-size="14" textLength="77.50" lengthAdjust="spacingAndGlyphs" stroke="#231f20" stroke-width="0.2">Binder Weak</text>
<text x="591.30" y="1491.00" font-size="14" textLength="71.80" lengthAdjust="spacingAndGlyphs" stroke="#231f20" stroke-width="0.2">Non-binder</text>
<defs><linearGradient id="gFl" x1="0" x2="1"><stop offset="0" stop-color="#ec6424"/><stop offset="0.35" stop-color="#f8ad4a"/><stop offset="1" stop-color="#fde8a6"/></linearGradient></defs>
<path d="M499,1500L743,1520.5V1522H499Z" fill="url(#gFl)"/>
<text x="502.00" y="1518.50" font-size="14" textLength="146.00" lengthAdjust="spacingAndGlyphs" stroke="#231f20" stroke-width="0.2">Fluorescence ~ Affinity</text>
<path d="M436.7,1493.3V1485.5H497" fill="none" stroke="#231f20" stroke-width="1.2"/>
<circle cx="498.70" cy="1485.50" r="1.1" fill="#231f20"/>
<text x="398.30" y="1506.30" font-size="11" fill="#ef5a3a" textLength="75.90" lengthAdjust="spacingAndGlyphs" stroke="#ef5a3a" stroke-width="0.2">BINDERSEQNS</text>
<text x="398.30" y="1545.80" font-size="11" fill="#2bb59a" textLength="76.70" lengthAdjust="spacingAndGlyphs" stroke="#2bb59a" stroke-width="0.2">RNBIDSENESQ</text>
<path d="M433.5,1512.5C433.5,1519 440,1522 440,1528.5M440,1512.5C440,1519 433.5,1522 433.5,1528.5" fill="none" stroke="#231f20" stroke-width="1.0"/>
<path d="M433.5,1530.5L431.5,1526.5H435.5Z M440,1530.5L438,1526.5H442Z" fill="#231f20"/>
<path d="M436.7,1551.7V1595.5H453" fill="none" stroke="#231f20" stroke-width="1.2"/>
<circle cx="454.20" cy="1595.50" r="1.1" fill="#231f20"/>
<rect x="451.30" y="1558.30" width="293.00" height="79.50" fill="none" stroke="#231f20" stroke-width="1.3"/>
<text x="600.00" y="1578.30" font-size="16" text-anchor="middle" textLength="103.00" lengthAdjust="spacingAndGlyphs" stroke="#231f20" stroke-width="0.2">Training tasks</text>
<text x="507.70" y="1588.30" font-size="14" text-anchor="middle" textLength="21.39" lengthAdjust="spacingAndGlyphs" stroke="#231f20" stroke-width="0.2">‘Vs</text>
<text x="507.70" y="1601.70" font-size="14" text-anchor="middle" textLength="77.00" lengthAdjust="spacingAndGlyphs" stroke="#231f20" stroke-width="0.2">randomized</text>
<text x="507.70" y="1616.00" font-size="14" text-anchor="middle" textLength="58.00" lengthAdjust="spacingAndGlyphs" stroke="#231f20" stroke-width="0.2">negative’</text>
<text x="600.00" y="1599.30" font-size="14" text-anchor="middle" textLength="18.82" lengthAdjust="spacingAndGlyphs" stroke="#231f20" stroke-width="0.2">‘vs</text>
<text x="600.00" y="1616.00" font-size="14" text-anchor="middle" textLength="38.00" lengthAdjust="spacingAndGlyphs" stroke="#231f20" stroke-width="0.2">weak’</text>
<text x="693.30" y="1599.30" font-size="14" text-anchor="middle" textLength="18.82" lengthAdjust="spacingAndGlyphs" stroke="#231f20" stroke-width="0.2">‘vs</text>
<text x="693.30" y="1616.00" font-size="14" text-anchor="middle" textLength="74.00" lengthAdjust="spacingAndGlyphs" stroke="#231f20" stroke-width="0.2">non-binder’</text>
<circle cx="507.70" cy="1628.30" r="4" fill="#2bb59a"/>
<circle cx="600.00" cy="1628.30" r="4" fill="#fdc010"/>
<circle cx="693.30" cy="1628.30" r="4" fill="#2ca2db"/>
<path d="M776.7,1387.6V1567.3L784,1578.7L776.7,1591.7V1623.5" fill="none" stroke="#231f20" stroke-width="1.3"/>
<path d="M847.5,1380.6V1581.5H1138.4" fill="none" stroke="#666" stroke-width="1.1"/>
<line x1="842.40" y1="1387.40" x2="848.00" y2="1387.40" stroke="#777" stroke-width="1.1" />
<text x="834.60" y="1391.80" font-size="13" text-anchor="end" textLength="19.50" lengthAdjust="spacingAndGlyphs" stroke="#231f20" stroke-width="0.2">1.0</text>
<line x1="842.40" y1="1415.10" x2="848.00" y2="1415.10" stroke="#777" stroke-width="1.1" />
<text x="834.60" y="1419.50" font-size="13" text-anchor="end" textLength="19.50" lengthAdjust="spacingAndGlyphs" stroke="#231f20" stroke-width="0.2">0.9</text>
<line x1="842.40" y1="1442.80" x2="848.00" y2="1442.80" stroke="#777" stroke-width="1.1" />
<text x="834.60" y="1447.20" font-size="13" text-anchor="end" textLength="19.50" lengthAdjust="spacingAndGlyphs" stroke="#231f20" stroke-width="0.2">0.8</text>
<line x1="842.40" y1="1470.50" x2="848.00" y2="1470.50" stroke="#777" stroke-width="1.1" />
<text x="834.60" y="1474.90" font-size="13" text-anchor="end" textLength="19.50" lengthAdjust="spacingAndGlyphs" stroke="#231f20" stroke-width="0.2">0.7</text>
<line x1="842.40" y1="1498.20" x2="848.00" y2="1498.20" stroke="#777" stroke-width="1.1" />
<text x="834.60" y="1502.60" font-size="13" text-anchor="end" textLength="19.50" lengthAdjust="spacingAndGlyphs" stroke="#231f20" stroke-width="0.2">0.6</text>
<line x1="842.40" y1="1525.90" x2="848.00" y2="1525.90" stroke="#777" stroke-width="1.1" />
<text x="834.60" y="1530.30" font-size="13" text-anchor="end" textLength="19.50" lengthAdjust="spacingAndGlyphs" stroke="#231f20" stroke-width="0.2">0.5</text>
<line x1="842.40" y1="1553.60" x2="848.00" y2="1553.60" stroke="#777" stroke-width="1.1" />
<text x="834.60" y="1558.00" font-size="13" text-anchor="end" textLength="19.50" lengthAdjust="spacingAndGlyphs" stroke="#231f20" stroke-width="0.2">0.4</text>
<line x1="842.40" y1="1581.30" x2="848.00" y2="1581.30" stroke="#777" stroke-width="1.1" />
<text x="834.60" y="1585.70" font-size="13" text-anchor="end" textLength="19.50" lengthAdjust="spacingAndGlyphs" stroke="#231f20" stroke-width="0.2">0.3</text>
<line x1="896.40" y1="1581.40" x2="896.40" y2="1587.50" stroke="#777" stroke-width="1.1" />
<line x1="993.20" y1="1581.40" x2="993.20" y2="1587.50" stroke="#777" stroke-width="1.1" />
<line x1="1090.00" y1="1581.40" x2="1090.00" y2="1587.50" stroke="#777" stroke-width="1.1" />
<path d="M896.40,1392.94L993.20,1476.04L1090.00,1387.40" fill="none" stroke="#2ca2db" stroke-width="1.5"/>
<path d="M896.40,1420.64L993.20,1415.10L1090.00,1400.70" fill="none" stroke="#fdc010" stroke-width="1.5"/>
<path d="M896.40,1525.90L993.20,1525.90L1090.00,1387.40" fill="none" stroke="#2bb59a" stroke-width="1.5"/>
<path d="M891.80,1392.94L894.20,1389.64H898.60L901.00,1392.94L898.60,1396.24H894.20Z" fill="#2ca2db"/>
<path d="M988.60,1476.04L991.00,1472.74H995.40L997.80,1476.04L995.40,1479.34H991.00Z" fill="#2ca2db"/>
<path d="M1085.40,1387.40L1087.80,1384.10H1092.20L1094.60,1387.40L1092.20,1390.70H1087.80Z" fill="#2ca2db"/>
<path d="M891.80,1420.64L894.20,1417.34H898.60L901.00,1420.64L898.60,1423.94H894.20Z" fill="#fdc010"/>
<path d="M988.60,1415.10L991.00,1411.80H995.40L997.80,1415.10L995.40,1418.40H991.00Z" fill="#fdc010"/>
<path d="M1085.40,1400.70L1087.80,1397.40H1092.20L1094.60,1400.70L1092.20,1404.00H1087.80Z" fill="#fdc010"/>
<path d="M891.80,1525.90L894.20,1522.60H898.60L901.00,1525.90L898.60,1529.20H894.20Z" fill="#2bb59a"/>
<path d="M988.60,1525.90L991.00,1522.60H995.40L997.80,1525.90L995.40,1529.20H991.00Z" fill="#2bb59a"/>
<path d="M1085.40,1387.40L1087.80,1384.10H1092.20L1094.60,1387.40L1092.20,1390.70H1087.80Z" fill="#2bb59a"/>
<text x="896.40" y="1383.80" font-size="13" text-anchor="middle" fill="#2ca2db" textLength="14.30" lengthAdjust="spacingAndGlyphs" stroke="#2ca2db" stroke-width="0.2">ID</text>
<text x="993.20" y="1409.50" font-size="13" text-anchor="middle" fill="#fdc010" textLength="14.30" lengthAdjust="spacingAndGlyphs" stroke="#fdc010" stroke-width="0.2">ID</text>
<text x="1090.00" y="1380.60" font-size="13" text-anchor="middle" fill="#2bb59a" textLength="14.30" lengthAdjust="spacingAndGlyphs" stroke="#2bb59a" stroke-width="0.2">ID</text>
<rect x="1063.60" y="1533.50" width="69.69" height="14.67" fill="#2ca2db"/>
<text x="1075.21" y="1543.80" font-size="11.5" text-anchor="middle" fill="#1d1d1d" textLength="14.07" lengthAdjust="spacingAndGlyphs" stroke="#1d1d1d" stroke-width="0.2">98</text>
<text x="1098.44" y="1543.80" font-size="11.5" text-anchor="middle" fill="#1d1d1d" textLength="14.07" lengthAdjust="spacingAndGlyphs" stroke="#1d1d1d" stroke-width="0.2">68</text>
<text x="1121.67" y="1543.80" font-size="11.5" text-anchor="middle" fill="#1d1d1d" textLength="21.11" lengthAdjust="spacingAndGlyphs" stroke="#1d1d1d" stroke-width="0.2">100</text>
<rect x="1063.60" y="1548.17" width="69.69" height="14.67" fill="#fdc010"/>
<text x="1075.21" y="1558.47" font-size="11.5" text-anchor="middle" fill="#1d1d1d" textLength="14.07" lengthAdjust="spacingAndGlyphs" stroke="#1d1d1d" stroke-width="0.2">88</text>
<text x="1098.44" y="1558.47" font-size="11.5" text-anchor="middle" fill="#1d1d1d" textLength="14.07" lengthAdjust="spacingAndGlyphs" stroke="#1d1d1d" stroke-width="0.2">90</text>
<text x="1121.67" y="1558.47" font-size="11.5" text-anchor="middle" fill="#1d1d1d" textLength="14.07" lengthAdjust="spacingAndGlyphs" stroke="#1d1d1d" stroke-width="0.2">95</text>
<rect x="1063.60" y="1562.84" width="69.69" height="14.67" fill="#2bb59a"/>
<text x="1075.21" y="1573.14" font-size="11.5" text-anchor="middle" fill="#1d1d1d" textLength="14.07" lengthAdjust="spacingAndGlyphs" stroke="#1d1d1d" stroke-width="0.2">50</text>
<text x="1098.44" y="1573.14" font-size="11.5" text-anchor="middle" fill="#1d1d1d" textLength="14.07" lengthAdjust="spacingAndGlyphs" stroke="#1d1d1d" stroke-width="0.2">50</text>
<text x="1121.67" y="1573.14" font-size="11.5" text-anchor="middle" fill="#1d1d1d" textLength="21.11" lengthAdjust="spacingAndGlyphs" stroke="#1d1d1d" stroke-width="0.2">100</text>
<path d="M1063.60,1533.50V1577.51M1086.83,1533.50V1577.51M1110.06,1533.50V1577.51M1133.29,1533.50V1577.51M1063.60,1533.50H1133.29M1063.60,1548.17H1133.29M1063.60,1562.84H1133.29M1063.60,1577.51H1133.29" fill="none" stroke="#222" stroke-width="0.9"/>
<text x="896.40" y="1605.00" font-size="13" text-anchor="middle" textLength="93.00" lengthAdjust="spacingAndGlyphs" stroke="#231f20" stroke-width="0.2">‘vs non-binder’</text>
<text x="993.20" y="1605.00" font-size="13" text-anchor="middle" textLength="17.48" lengthAdjust="spacingAndGlyphs" stroke="#231f20" stroke-width="0.2">‘vs</text>
<text x="993.20" y="1621.50" font-size="13" text-anchor="middle" textLength="36.56" lengthAdjust="spacingAndGlyphs" stroke="#231f20" stroke-width="0.2">weak’</text>
<text x="1090.00" y="1605.00" font-size="13" text-anchor="middle" textLength="97.00" lengthAdjust="spacingAndGlyphs" stroke="#231f20" stroke-width="0.2">‘Vs randomized</text>
<text x="1090.00" y="1621.50" font-size="13" text-anchor="middle" textLength="57.24" lengthAdjust="spacingAndGlyphs" stroke="#231f20" stroke-width="0.2">negative’</text>
<text x="993.20" y="1647.20" font-size="15" text-anchor="middle" textLength="89.40" lengthAdjust="spacingAndGlyphs" stroke="#231f20" stroke-width="0.2">Testing task</text>
<text x="801.50" y="1480.30" font-size="16" text-anchor="middle" textLength="148.60" lengthAdjust="spacingAndGlyphs" transform="rotate(-90 801.50 1480.30)" stroke="#231f20" stroke-width="0.2">Prediction accuracy</text>
</svg></body></html>
